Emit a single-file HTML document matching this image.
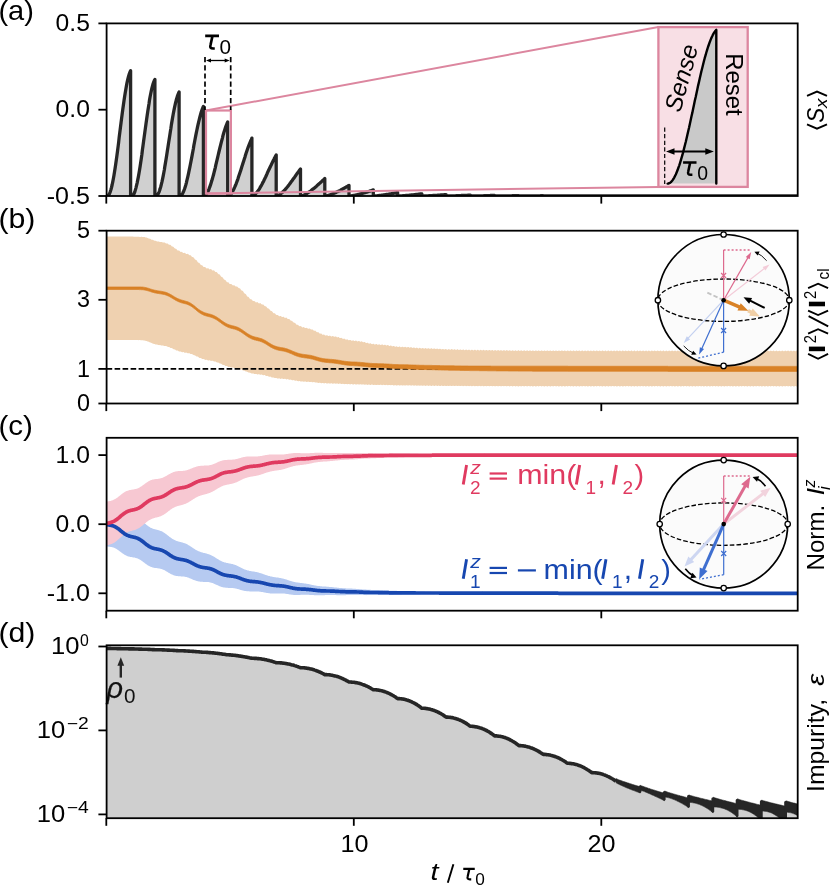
<!DOCTYPE html><html><head><meta charset="utf-8"><title>figure</title>
<style>html,body{margin:0;padding:0;background:#fff;}svg{display:block;will-change:transform;}text{font-family:"Liberation Sans", sans-serif;}</style></head><body>
<svg width="830" height="885" viewBox="0 0 830 885">
<rect width="830" height="885" fill="#fff"/>
<defs>
<clipPath id="clip_a"><rect x="106.6" y="23.4" width="691.1" height="172.6"/></clipPath>
<clipPath id="clip_b"><rect x="106.6" y="230.7" width="691.1" height="172.8"/></clipPath>
<clipPath id="clip_c"><rect x="106.6" y="437.8" width="691.1" height="172.9"/></clipPath>
<clipPath id="clip_d"><rect x="106.6" y="645.3" width="691.1" height="172.9"/></clipPath>
</defs>
<g clip-path="url(#clip_a)">
<path d="M106.6 196.0 L107.3 196.0 L107.9 195.8 L108.5 195.3 L109.1 194.4 L109.7 193.2 L110.3 191.6 L110.9 189.7 L111.5 187.5 L112.1 185.0 L112.7 182.1 L113.3 179.0 L113.9 175.7 L114.5 172.1 L115.1 168.3 L115.7 164.2 L116.3 160.0 L116.9 155.7 L117.5 151.2 L118.1 146.6 L118.7 141.9 L119.2 137.2 L119.8 132.5 L120.4 127.7 L121.0 123.0 L121.6 118.4 L122.2 113.8 L122.8 109.3 L123.4 105.0 L124.0 100.8 L124.6 96.8 L125.2 93.0 L125.8 89.4 L126.4 86.0 L127.0 82.9 L127.6 80.1 L128.2 77.6 L128.8 75.4 L129.4 73.6 L130.0 72.0 L130.6 70.8 L130.6 196.0 L131.8 196.0 L132.4 195.8 L133.0 195.3 L133.6 194.5 L134.2 193.4 L134.8 191.9 L135.3 190.1 L135.9 188.1 L136.5 185.7 L137.1 183.1 L137.7 180.2 L138.3 177.1 L138.9 173.7 L139.5 170.2 L140.1 166.4 L140.7 162.5 L141.3 158.5 L141.9 154.3 L142.4 150.0 L143.0 145.7 L143.6 141.3 L144.2 136.9 L144.8 132.5 L145.4 128.1 L146.0 123.8 L146.6 119.5 L147.2 115.3 L147.8 111.3 L148.4 107.4 L149.0 103.7 L149.5 100.1 L150.1 96.8 L150.7 93.7 L151.3 90.8 L151.9 88.2 L152.5 85.9 L153.1 83.8 L153.7 82.1 L154.3 80.6 L154.9 79.5 L154.9 196.0 L156.1 196.0 L156.7 195.8 L157.3 195.3 L157.8 194.5 L158.4 193.4 L159.0 192.1 L159.6 190.5 L160.2 188.6 L160.8 186.5 L161.4 184.2 L162.0 181.7 L162.6 178.9 L163.2 175.9 L163.8 172.8 L164.4 169.5 L164.9 166.1 L165.5 162.6 L166.1 158.9 L166.7 155.2 L167.3 151.3 L167.9 147.5 L168.5 143.6 L169.1 139.8 L169.7 135.9 L170.3 132.1 L170.9 128.3 L171.4 124.6 L172.0 121.1 L172.6 117.6 L173.2 114.3 L173.8 111.1 L174.4 108.1 L175.0 105.3 L175.6 102.7 L176.2 100.3 L176.8 98.2 L177.4 96.2 L178.0 94.6 L178.5 93.2 L179.1 92.0 L179.1 196.0 L180.3 196.0 L180.9 195.6 L181.5 195.1 L182.1 194.3 L182.7 193.3 L183.3 192.1 L183.9 190.6 L184.5 189.0 L185.1 187.2 L185.7 185.3 L186.3 183.1 L186.8 180.8 L187.4 178.4 L188.0 175.8 L188.6 173.1 L189.2 170.2 L189.8 167.3 L190.4 164.3 L191.0 161.2 L191.6 158.1 L192.2 154.9 L192.8 151.7 L193.4 148.5 L193.9 145.3 L194.5 142.2 L195.1 139.0 L195.7 135.9 L196.3 132.9 L196.9 130.0 L197.5 127.2 L198.1 124.4 L198.7 121.8 L199.3 119.3 L199.9 117.0 L200.5 114.8 L201.0 112.8 L201.6 111.0 L202.2 109.3 L202.8 107.8 L203.4 106.5 L203.4 196.0 L204.6 196.0 L205.2 195.6 L205.8 194.9 L206.4 194.2 L207.0 193.3 L207.6 192.2 L208.2 191.0 L208.8 189.7 L209.3 188.2 L209.9 186.6 L210.5 184.9 L211.1 183.0 L211.7 181.1 L212.3 179.0 L212.9 176.9 L213.5 174.7 L214.1 172.4 L214.7 170.0 L215.3 167.6 L215.8 165.1 L216.4 162.6 L217.0 160.1 L217.6 157.6 L218.2 155.0 L218.8 152.5 L219.4 150.0 L220.0 147.5 L220.6 145.1 L221.2 142.7 L221.8 140.4 L222.4 138.1 L222.9 135.9 L223.5 133.8 L224.1 131.8 L224.7 129.9 L225.3 128.1 L225.9 126.4 L226.5 124.8 L227.1 123.3 L227.7 122.0 L227.7 196.0 L228.9 196.0 L229.5 195.5 L230.1 195.0 L230.7 194.3 L231.2 193.5 L231.8 192.6 L232.4 191.7 L233.0 190.6 L233.6 189.5 L234.2 188.2 L234.8 186.9 L235.4 185.5 L236.0 184.1 L236.6 182.5 L237.2 180.9 L237.8 179.3 L238.3 177.6 L238.9 175.8 L239.5 174.0 L240.1 172.2 L240.7 170.4 L241.3 168.5 L241.9 166.6 L242.5 164.7 L243.1 162.8 L243.7 160.9 L244.3 159.1 L244.9 157.2 L245.4 155.4 L246.0 153.5 L246.6 151.8 L247.2 150.0 L247.8 148.3 L248.4 146.7 L249.0 145.1 L249.6 143.6 L250.2 142.1 L250.8 140.7 L251.4 139.4 L251.9 138.1 L251.9 196.0 L253.2 196.0 L253.7 195.6 L254.3 195.1 L254.9 194.6 L255.5 194.0 L256.1 193.3 L256.7 192.6 L257.3 191.9 L257.9 191.1 L258.5 190.2 L259.1 189.3 L259.7 188.3 L260.2 187.4 L260.8 186.3 L261.4 185.3 L262.0 184.2 L262.6 183.0 L263.2 181.9 L263.8 180.7 L264.4 179.4 L265.0 178.2 L265.6 177.0 L266.2 175.7 L266.8 174.4 L267.3 173.1 L267.9 171.8 L268.5 170.6 L269.1 169.3 L269.7 168.0 L270.3 166.7 L270.9 165.5 L271.5 164.2 L272.1 163.0 L272.7 161.8 L273.3 160.6 L273.9 159.4 L274.4 158.3 L275.0 157.2 L275.6 156.1 L276.2 155.0 L276.2 196.0 L277.4 196.0 L278.0 195.7 L278.6 195.3 L279.2 194.9 L279.8 194.5 L280.4 194.1 L281.0 193.6 L281.6 193.1 L282.2 192.6 L282.7 192.0 L283.3 191.4 L283.9 190.8 L284.5 190.2 L285.1 189.6 L285.7 188.9 L286.3 188.2 L286.9 187.5 L287.5 186.8 L288.1 186.0 L288.7 185.2 L289.3 184.5 L289.8 183.7 L290.4 182.9 L291.0 182.1 L291.6 181.3 L292.2 180.5 L292.8 179.6 L293.4 178.8 L294.0 178.0 L294.6 177.2 L295.2 176.3 L295.8 175.5 L296.3 174.7 L296.9 173.8 L297.5 173.0 L298.1 172.2 L298.7 171.4 L299.3 170.6 L299.9 169.8 L300.5 169.0 L300.5 196.0 L301.7 196.0 L302.3 195.8 L302.9 195.5 L303.5 195.3 L304.1 195.0 L304.6 194.7 L305.2 194.4 L305.8 194.0 L306.4 193.7 L307.0 193.4 L307.6 193.0 L308.2 192.6 L308.8 192.2 L309.4 191.8 L310.0 191.4 L310.6 191.0 L311.2 190.5 L311.7 190.1 L312.3 189.6 L312.9 189.1 L313.5 188.7 L314.1 188.2 L314.7 187.7 L315.3 187.2 L315.9 186.7 L316.5 186.2 L317.1 185.6 L317.7 185.1 L318.3 184.6 L318.8 184.0 L319.4 183.5 L320.0 183.0 L320.6 182.4 L321.2 181.9 L321.8 181.3 L322.4 180.8 L323.0 180.2 L323.6 179.7 L324.2 179.1 L324.8 178.6 L324.8 196.0 L326.0 196.0 L326.6 195.8 L327.1 195.7 L327.7 195.5 L328.3 195.3 L328.9 195.2 L329.5 195.0 L330.1 194.8 L330.7 194.6 L331.3 194.4 L331.9 194.1 L332.5 193.9 L333.1 193.7 L333.6 193.4 L334.2 193.2 L334.8 192.9 L335.4 192.7 L336.0 192.4 L336.6 192.1 L337.2 191.8 L337.8 191.6 L338.4 191.3 L339.0 191.0 L339.6 190.7 L340.2 190.4 L340.7 190.1 L341.3 189.8 L341.9 189.4 L342.5 189.1 L343.1 188.8 L343.7 188.5 L344.3 188.1 L344.9 187.8 L345.5 187.5 L346.1 187.1 L346.7 186.8 L347.3 186.4 L347.8 186.1 L348.4 185.8 L349.0 185.4 L349.0 196.0 L350.2 196.0 L350.8 195.9 L351.4 195.8 L352.0 195.7 L352.6 195.6 L353.2 195.5 L353.8 195.4 L354.4 195.3 L355.0 195.2 L355.6 195.0 L356.1 194.9 L356.7 194.8 L357.3 194.7 L357.9 194.5 L358.5 194.4 L359.1 194.2 L359.7 194.1 L360.3 193.9 L360.9 193.8 L361.5 193.6 L362.1 193.5 L362.7 193.3 L363.2 193.1 L363.8 193.0 L364.4 192.8 L365.0 192.6 L365.6 192.4 L366.2 192.3 L366.8 192.1 L367.4 191.9 L368.0 191.7 L368.6 191.5 L369.2 191.3 L369.8 191.1 L370.3 190.9 L370.9 190.7 L371.5 190.5 L372.1 190.3 L372.7 190.1 L373.3 189.9 L373.3 196.0 L374.5 196.0 L375.1 195.9 L375.7 195.9 L376.3 195.8 L376.9 195.8 L377.5 195.7 L378.0 195.6 L378.6 195.6 L379.2 195.5 L379.8 195.4 L380.4 195.4 L381.0 195.3 L381.6 195.2 L382.2 195.1 L382.8 195.1 L383.4 195.0 L384.0 194.9 L384.6 194.8 L385.1 194.7 L385.7 194.6 L386.3 194.5 L386.9 194.5 L387.5 194.4 L388.1 194.3 L388.7 194.2 L389.3 194.1 L389.9 194.0 L390.5 193.9 L391.1 193.8 L391.7 193.7 L392.2 193.5 L392.8 193.4 L393.4 193.3 L394.0 193.2 L394.6 193.1 L395.2 193.0 L395.8 192.9 L396.4 192.7 L397.0 192.6 L397.6 192.5 L397.6 196.0 L398.8 196.0 L399.4 196.0 L400.0 195.9 L400.5 195.9 L401.1 195.9 L401.7 195.8 L402.3 195.8 L402.9 195.7 L403.5 195.7 L404.1 195.7 L404.7 195.6 L405.3 195.6 L405.9 195.5 L406.5 195.5 L407.1 195.4 L407.6 195.4 L408.2 195.3 L408.8 195.3 L409.4 195.2 L410.0 195.1 L410.6 195.1 L411.2 195.0 L411.8 195.0 L412.4 194.9 L413.0 194.9 L413.6 194.8 L414.2 194.7 L414.7 194.7 L415.3 194.6 L415.9 194.5 L416.5 194.5 L417.1 194.4 L417.7 194.3 L418.3 194.2 L418.9 194.2 L419.5 194.1 L420.1 194.0 L420.7 194.0 L421.2 193.9 L421.8 193.8 L421.8 196.0 L423.0 196.0 L423.6 196.0 L424.2 196.0 L424.8 195.9 L425.4 195.9 L426.0 195.9 L426.6 195.9 L427.2 195.8 L427.8 195.8 L428.4 195.8 L429.0 195.7 L429.5 195.7 L430.1 195.7 L430.7 195.7 L431.3 195.6 L431.9 195.6 L432.5 195.6 L433.1 195.5 L433.7 195.5 L434.3 195.5 L434.9 195.4 L435.5 195.4 L436.1 195.3 L436.6 195.3 L437.2 195.3 L437.8 195.2 L438.4 195.2 L439.0 195.1 L439.6 195.1 L440.2 195.1 L440.8 195.0 L441.4 195.0 L442.0 194.9 L442.6 194.9 L443.2 194.8 L443.7 194.8 L444.3 194.7 L444.9 194.7 L445.5 194.6 L446.1 194.6 L446.1 196.0 L447.3 196.0 L447.9 196.0 L448.5 196.0 L449.1 196.0 L449.7 195.9 L450.3 195.9 L450.9 195.9 L451.5 195.9 L452.0 195.9 L452.6 195.9 L453.2 195.8 L453.8 195.8 L454.4 195.8 L455.0 195.8 L455.6 195.8 L456.2 195.7 L456.8 195.7 L457.4 195.7 L458.0 195.7 L458.5 195.7 L459.1 195.6 L459.7 195.6 L460.3 195.6 L460.9 195.6 L461.5 195.5 L462.1 195.5 L462.7 195.5 L463.3 195.5 L463.9 195.4 L464.5 195.4 L465.1 195.4 L465.6 195.3 L466.2 195.3 L466.8 195.3 L467.4 195.3 L468.0 195.2 L468.6 195.2 L469.2 195.2 L469.8 195.1 L470.4 195.1 L470.4 196.0 L471.6 196.0 L472.2 196.0 L472.8 196.0 L473.4 196.0 L473.9 196.0 L474.5 196.0 L475.1 195.9 L475.7 195.9 L476.3 195.9 L476.9 195.9 L477.5 195.9 L478.1 195.9 L478.7 195.9 L479.3 195.9 L479.9 195.8 L480.5 195.8 L481.0 195.8 L481.6 195.8 L482.2 195.8 L482.8 195.8 L483.4 195.8 L484.0 195.7 L484.6 195.7 L485.2 195.7 L485.8 195.7 L486.4 195.7 L487.0 195.7 L487.6 195.6 L488.1 195.6 L488.7 195.6 L489.3 195.6 L489.9 195.6 L490.5 195.5 L491.1 195.5 L491.7 195.5 L492.3 195.5 L492.9 195.5 L493.5 195.4 L494.1 195.4 L494.6 195.4 L494.6 196.0 L495.8 196.0 L496.4 196.0 L497.0 196.0 L497.6 196.0 L498.2 196.0 L498.8 196.0 L499.4 196.0 L500.0 196.0 L500.6 195.9 L501.2 195.9 L501.8 195.9 L502.4 195.9 L502.9 195.9 L503.5 195.9 L504.1 195.9 L504.7 195.9 L505.3 195.9 L505.9 195.9 L506.5 195.9 L507.1 195.8 L507.7 195.8 L508.3 195.8 L508.9 195.8 L509.5 195.8 L510.0 195.8 L510.6 195.8 L511.2 195.8 L511.8 195.8 L512.4 195.7 L513.0 195.7 L513.6 195.7 L514.2 195.7 L514.8 195.7 L515.4 195.7 L516.0 195.7 L516.6 195.7 L517.1 195.6 L517.7 195.6 L518.3 195.6 L518.9 195.6 L518.9 196.0 L520.1 196.0 L520.7 196.0 L521.3 196.0 L521.9 196.0 L522.5 196.0 L523.1 196.0 L523.7 196.0 L524.3 196.0 L524.9 196.0 L525.4 196.0 L526.0 195.9 L526.6 195.9 L527.2 195.9 L527.8 195.9 L528.4 195.9 L529.0 195.9 L529.6 195.9 L530.2 195.9 L530.8 195.9 L531.4 195.9 L532.0 195.9 L532.5 195.9 L533.1 195.9 L533.7 195.9 L534.3 195.8 L534.9 195.8 L535.5 195.8 L536.1 195.8 L536.7 195.8 L537.3 195.8 L537.9 195.8 L538.5 195.8 L539.0 195.8 L539.6 195.8 L540.2 195.8 L540.8 195.7 L541.4 195.7 L542.0 195.7 L542.6 195.7 L543.2 195.7 L543.2 196.0 L544.4 196.0 L545.0 196.0 L545.6 196.0 L546.2 196.0 L546.8 196.0 L547.3 196.0 L547.9 196.0 L548.5 196.0 L549.1 196.0 L549.7 196.0 L550.3 196.0 L550.9 196.0 L551.5 196.0 L552.1 196.0 L552.7 195.9 L553.3 195.9 L553.9 195.9 L554.4 195.9 L555.0 195.9 L555.6 195.9 L556.2 195.9 L556.8 195.9 L557.4 195.9 L558.0 195.9 L558.6 195.9 L559.2 195.9 L559.8 195.9 L560.4 195.9 L561.0 195.9 L561.5 195.9 L562.1 195.9 L562.7 195.9 L563.3 195.8 L563.9 195.8 L564.5 195.8 L565.1 195.8 L565.7 195.8 L566.3 195.8 L566.9 195.8 L567.5 195.8 L567.5 196.0 L568.7 196.0 L569.3 196.0 L569.8 196.0 L570.4 196.0 L571.0 196.0 L571.6 196.0 L572.2 196.0 L572.8 196.0 L573.4 196.0 L574.0 196.0 L574.6 196.0 L575.2 196.0 L575.8 196.0 L576.4 196.0 L576.9 195.9 L577.5 195.9 L578.1 195.9 L578.7 195.9 L579.3 195.9 L579.9 195.9 L580.5 195.9 L581.1 195.9 L581.7 195.9 L582.3 195.9 L582.9 195.9 L583.4 195.9 L584.0 195.9 L584.6 195.9 L585.2 195.9 L585.8 195.9 L586.4 195.9 L587.0 195.9 L587.6 195.8 L588.2 195.8 L588.8 195.8 L589.4 195.8 L590.0 195.8 L590.5 195.8 L591.1 195.8 L591.7 195.8 L591.7 196.0 L592.9 196.0 L593.5 196.0 L594.1 196.0 L594.7 196.0 L595.3 196.0 L595.9 196.0 L596.5 196.0 L597.1 196.0 L597.7 196.0 L598.3 196.0 L598.8 196.0 L599.4 196.0 L600.0 196.0 L600.6 196.0 L601.2 195.9 L601.8 195.9 L602.4 195.9 L603.0 195.9 L603.6 195.9 L604.2 195.9 L604.8 195.9 L605.4 195.9 L605.9 195.9 L606.5 195.9 L607.1 195.9 L607.7 195.9 L608.3 195.9 L608.9 195.9 L609.5 195.9 L610.1 195.9 L610.7 195.9 L611.3 195.9 L611.9 195.8 L612.5 195.8 L613.0 195.8 L613.6 195.8 L614.2 195.8 L614.8 195.8 L615.4 195.8 L616.0 195.8 L616.0 196.0 L617.2 196.0 L617.8 196.0 L618.4 196.0 L619.0 196.0 L619.6 196.0 L620.2 196.0 L620.7 196.0 L621.3 196.0 L621.9 196.0 L622.5 196.0 L623.1 196.0 L623.7 196.0 L624.3 196.0 L624.9 196.0 L625.5 195.9 L626.1 195.9 L626.7 195.9 L627.3 195.9 L627.8 195.9 L628.4 195.9 L629.0 195.9 L629.6 195.9 L630.2 195.9 L630.8 195.9 L631.4 195.9 L632.0 195.9 L632.6 195.9 L633.2 195.9 L633.8 195.9 L634.4 195.9 L634.9 195.9 L635.5 195.9 L636.1 195.8 L636.7 195.8 L637.3 195.8 L637.9 195.8 L638.5 195.8 L639.1 195.8 L639.7 195.8 L640.3 195.8 L640.3 196.0 L641.5 196.0 L642.1 196.0 L642.7 196.0 L643.2 196.0 L643.8 196.0 L644.4 196.0 L645.0 196.0 L645.6 196.0 L646.2 196.0 L646.8 196.0 L647.4 196.0 L648.0 196.0 L648.6 196.0 L649.2 196.0 L649.8 195.9 L650.3 195.9 L650.9 195.9 L651.5 195.9 L652.1 195.9 L652.7 195.9 L653.3 195.9 L653.9 195.9 L654.5 195.9 L655.1 195.9 L655.7 195.9 L656.3 195.9 L656.9 195.9 L657.4 195.9 L658.0 195.9 L658.6 195.9 L659.2 195.9 L659.8 195.9 L660.4 195.8 L661.0 195.8 L661.6 195.8 L662.2 195.8 L662.8 195.8 L663.4 195.8 L663.9 195.8 L664.5 195.8 L664.5 196.0 L665.7 196.0 L666.3 196.0 L666.9 196.0 L667.5 196.0 L668.1 196.0 L668.7 196.0 L669.3 196.0 L669.9 196.0 L670.5 196.0 L671.1 196.0 L671.7 196.0 L672.2 196.0 L672.8 196.0 L673.4 196.0 L674.0 195.9 L674.6 195.9 L675.2 195.9 L675.8 195.9 L676.4 195.9 L677.0 195.9 L677.6 195.9 L678.2 195.9 L678.8 195.9 L679.3 195.9 L679.9 195.9 L680.5 195.9 L681.1 195.9 L681.7 195.9 L682.3 195.9 L682.9 195.9 L683.5 195.9 L684.1 195.9 L684.7 195.8 L685.3 195.8 L685.9 195.8 L686.4 195.8 L687.0 195.8 L687.6 195.8 L688.2 195.8 L688.8 195.8 L688.8 196.0 L690.0 196.0 L690.6 196.0 L691.2 196.0 L691.8 196.0 L692.4 196.0 L693.0 196.0 L693.6 196.0 L694.2 196.0 L694.7 196.0 L695.3 196.0 L695.9 196.0 L696.5 196.0 L697.1 196.0 L697.7 196.0 L698.3 195.9 L698.9 195.9 L699.5 195.9 L700.1 195.9 L700.7 195.9 L701.2 195.9 L701.8 195.9 L702.4 195.9 L703.0 195.9 L703.6 195.9 L704.2 195.9 L704.8 195.9 L705.4 195.9 L706.0 195.9 L706.6 195.9 L707.2 195.9 L707.8 195.9 L708.3 195.9 L708.9 195.8 L709.5 195.8 L710.1 195.8 L710.7 195.8 L711.3 195.8 L711.9 195.8 L712.5 195.8 L713.1 195.8 L713.1 196.0 L714.3 196.0 L714.9 196.0 L715.5 196.0 L716.1 196.0 L716.6 196.0 L717.2 196.0 L717.8 196.0 L718.4 196.0 L719.0 196.0 L719.6 196.0 L720.2 196.0 L720.8 196.0 L721.4 196.0 L722.0 196.0 L722.6 195.9 L723.2 195.9 L723.7 195.9 L724.3 195.9 L724.9 195.9 L725.5 195.9 L726.1 195.9 L726.7 195.9 L727.3 195.9 L727.9 195.9 L728.5 195.9 L729.1 195.9 L729.7 195.9 L730.3 195.9 L730.8 195.9 L731.4 195.9 L732.0 195.9 L732.6 195.9 L733.2 195.8 L733.8 195.8 L734.4 195.8 L735.0 195.8 L735.6 195.8 L736.2 195.8 L736.8 195.8 L737.4 195.8 L737.4 196.0 L738.6 196.0 L739.1 196.0 L739.7 196.0 L740.3 196.0 L740.9 196.0 L741.5 196.0 L742.1 196.0 L742.7 196.0 L743.3 196.0 L743.9 196.0 L744.5 196.0 L745.1 196.0 L745.6 196.0 L746.2 196.0 L746.8 195.9 L747.4 195.9 L748.0 195.9 L748.6 195.9 L749.2 195.9 L749.8 195.9 L750.4 195.9 L751.0 195.9 L751.6 195.9 L752.2 195.9 L752.7 195.9 L753.3 195.9 L753.9 195.9 L754.5 195.9 L755.1 195.9 L755.7 195.9 L756.3 195.9 L756.9 195.9 L757.5 195.8 L758.1 195.8 L758.7 195.8 L759.3 195.8 L759.8 195.8 L760.4 195.8 L761.0 195.8 L761.6 195.8 L761.6 196.0 L762.8 196.0 L763.4 196.0 L764.0 196.0 L764.6 196.0 L765.2 196.0 L765.8 196.0 L766.4 196.0 L767.0 196.0 L767.6 196.0 L768.1 196.0 L768.7 196.0 L769.3 196.0 L769.9 196.0 L770.5 196.0 L771.1 195.9 L771.7 195.9 L772.3 195.9 L772.9 195.9 L773.5 195.9 L774.1 195.9 L774.7 195.9 L775.2 195.9 L775.8 195.9 L776.4 195.9 L777.0 195.9 L777.6 195.9 L778.2 195.9 L778.8 195.9 L779.4 195.9 L780.0 195.9 L780.6 195.9 L781.2 195.9 L781.7 195.8 L782.3 195.8 L782.9 195.8 L783.5 195.8 L784.1 195.8 L784.7 195.8 L785.3 195.8 L785.9 195.8 L785.9 196.0 L787.1 196.0 L787.7 196.0 L788.3 196.0 L788.9 196.0 L789.5 196.0 L790.0 196.0 L790.6 196.0 L791.2 196.0 L791.8 196.0 L792.4 196.0 L793.0 196.0 L793.6 196.0 L794.2 196.0 L794.8 196.0 L795.4 195.9 L796.0 195.9 L796.6 195.9 L797.1 195.9 L797.7 195.9 L798.3 195.9 L798.9 195.9 L799.5 195.9 L800.1 195.9 L800.7 195.9 L801.3 195.9 L801.9 195.9 L802.5 195.9 L803.1 195.9 L803.7 195.9 L804.2 195.9 L804.8 195.9 L805.4 195.9 L806.0 195.8 L806.6 195.8 L807.2 195.8 L807.8 195.8 L808.4 195.8 L809.0 195.8 L809.6 195.8 L810.2 195.8 L810.2 196.0 L810.2 196.0 L106.6 196.0Z" fill="#d0d0d0" stroke="none"/>
<path d="M106.6 196.0 L107.3 196.0 L107.9 195.8 L108.5 195.3 L109.1 194.4 L109.7 193.2 L110.3 191.6 L110.9 189.7 L111.5 187.5 L112.1 185.0 L112.7 182.1 L113.3 179.0 L113.9 175.7 L114.5 172.1 L115.1 168.3 L115.7 164.2 L116.3 160.0 L116.9 155.7 L117.5 151.2 L118.1 146.6 L118.7 141.9 L119.2 137.2 L119.8 132.5 L120.4 127.7 L121.0 123.0 L121.6 118.4 L122.2 113.8 L122.8 109.3 L123.4 105.0 L124.0 100.8 L124.6 96.8 L125.2 93.0 L125.8 89.4 L126.4 86.0 L127.0 82.9 L127.6 80.1 L128.2 77.6 L128.8 75.4 L129.4 73.6 L130.0 72.0 L130.6 70.8 L130.6 196.0 L131.8 196.0 L132.4 195.8 L133.0 195.3 L133.6 194.5 L134.2 193.4 L134.8 191.9 L135.3 190.1 L135.9 188.1 L136.5 185.7 L137.1 183.1 L137.7 180.2 L138.3 177.1 L138.9 173.7 L139.5 170.2 L140.1 166.4 L140.7 162.5 L141.3 158.5 L141.9 154.3 L142.4 150.0 L143.0 145.7 L143.6 141.3 L144.2 136.9 L144.8 132.5 L145.4 128.1 L146.0 123.8 L146.6 119.5 L147.2 115.3 L147.8 111.3 L148.4 107.4 L149.0 103.7 L149.5 100.1 L150.1 96.8 L150.7 93.7 L151.3 90.8 L151.9 88.2 L152.5 85.9 L153.1 83.8 L153.7 82.1 L154.3 80.6 L154.9 79.5 L154.9 196.0 L156.1 196.0 L156.7 195.8 L157.3 195.3 L157.8 194.5 L158.4 193.4 L159.0 192.1 L159.6 190.5 L160.2 188.6 L160.8 186.5 L161.4 184.2 L162.0 181.7 L162.6 178.9 L163.2 175.9 L163.8 172.8 L164.4 169.5 L164.9 166.1 L165.5 162.6 L166.1 158.9 L166.7 155.2 L167.3 151.3 L167.9 147.5 L168.5 143.6 L169.1 139.8 L169.7 135.9 L170.3 132.1 L170.9 128.3 L171.4 124.6 L172.0 121.1 L172.6 117.6 L173.2 114.3 L173.8 111.1 L174.4 108.1 L175.0 105.3 L175.6 102.7 L176.2 100.3 L176.8 98.2 L177.4 96.2 L178.0 94.6 L178.5 93.2 L179.1 92.0 L179.1 196.0 L180.3 196.0 L180.9 195.6 L181.5 195.1 L182.1 194.3 L182.7 193.3 L183.3 192.1 L183.9 190.6 L184.5 189.0 L185.1 187.2 L185.7 185.3 L186.3 183.1 L186.8 180.8 L187.4 178.4 L188.0 175.8 L188.6 173.1 L189.2 170.2 L189.8 167.3 L190.4 164.3 L191.0 161.2 L191.6 158.1 L192.2 154.9 L192.8 151.7 L193.4 148.5 L193.9 145.3 L194.5 142.2 L195.1 139.0 L195.7 135.9 L196.3 132.9 L196.9 130.0 L197.5 127.2 L198.1 124.4 L198.7 121.8 L199.3 119.3 L199.9 117.0 L200.5 114.8 L201.0 112.8 L201.6 111.0 L202.2 109.3 L202.8 107.8 L203.4 106.5 L203.4 196.0 L204.6 196.0 L205.2 195.6 L205.8 194.9 L206.4 194.2 L207.0 193.3 L207.6 192.2 L208.2 191.0 L208.8 189.7 L209.3 188.2 L209.9 186.6 L210.5 184.9 L211.1 183.0 L211.7 181.1 L212.3 179.0 L212.9 176.9 L213.5 174.7 L214.1 172.4 L214.7 170.0 L215.3 167.6 L215.8 165.1 L216.4 162.6 L217.0 160.1 L217.6 157.6 L218.2 155.0 L218.8 152.5 L219.4 150.0 L220.0 147.5 L220.6 145.1 L221.2 142.7 L221.8 140.4 L222.4 138.1 L222.9 135.9 L223.5 133.8 L224.1 131.8 L224.7 129.9 L225.3 128.1 L225.9 126.4 L226.5 124.8 L227.1 123.3 L227.7 122.0 L227.7 196.0 L228.9 196.0 L229.5 195.5 L230.1 195.0 L230.7 194.3 L231.2 193.5 L231.8 192.6 L232.4 191.7 L233.0 190.6 L233.6 189.5 L234.2 188.2 L234.8 186.9 L235.4 185.5 L236.0 184.1 L236.6 182.5 L237.2 180.9 L237.8 179.3 L238.3 177.6 L238.9 175.8 L239.5 174.0 L240.1 172.2 L240.7 170.4 L241.3 168.5 L241.9 166.6 L242.5 164.7 L243.1 162.8 L243.7 160.9 L244.3 159.1 L244.9 157.2 L245.4 155.4 L246.0 153.5 L246.6 151.8 L247.2 150.0 L247.8 148.3 L248.4 146.7 L249.0 145.1 L249.6 143.6 L250.2 142.1 L250.8 140.7 L251.4 139.4 L251.9 138.1 L251.9 196.0 L253.2 196.0 L253.7 195.6 L254.3 195.1 L254.9 194.6 L255.5 194.0 L256.1 193.3 L256.7 192.6 L257.3 191.9 L257.9 191.1 L258.5 190.2 L259.1 189.3 L259.7 188.3 L260.2 187.4 L260.8 186.3 L261.4 185.3 L262.0 184.2 L262.6 183.0 L263.2 181.9 L263.8 180.7 L264.4 179.4 L265.0 178.2 L265.6 177.0 L266.2 175.7 L266.8 174.4 L267.3 173.1 L267.9 171.8 L268.5 170.6 L269.1 169.3 L269.7 168.0 L270.3 166.7 L270.9 165.5 L271.5 164.2 L272.1 163.0 L272.7 161.8 L273.3 160.6 L273.9 159.4 L274.4 158.3 L275.0 157.2 L275.6 156.1 L276.2 155.0 L276.2 196.0 L277.4 196.0 L278.0 195.7 L278.6 195.3 L279.2 194.9 L279.8 194.5 L280.4 194.1 L281.0 193.6 L281.6 193.1 L282.2 192.6 L282.7 192.0 L283.3 191.4 L283.9 190.8 L284.5 190.2 L285.1 189.6 L285.7 188.9 L286.3 188.2 L286.9 187.5 L287.5 186.8 L288.1 186.0 L288.7 185.2 L289.3 184.5 L289.8 183.7 L290.4 182.9 L291.0 182.1 L291.6 181.3 L292.2 180.5 L292.8 179.6 L293.4 178.8 L294.0 178.0 L294.6 177.2 L295.2 176.3 L295.8 175.5 L296.3 174.7 L296.9 173.8 L297.5 173.0 L298.1 172.2 L298.7 171.4 L299.3 170.6 L299.9 169.8 L300.5 169.0 L300.5 196.0 L301.7 196.0 L302.3 195.8 L302.9 195.5 L303.5 195.3 L304.1 195.0 L304.6 194.7 L305.2 194.4 L305.8 194.0 L306.4 193.7 L307.0 193.4 L307.6 193.0 L308.2 192.6 L308.8 192.2 L309.4 191.8 L310.0 191.4 L310.6 191.0 L311.2 190.5 L311.7 190.1 L312.3 189.6 L312.9 189.1 L313.5 188.7 L314.1 188.2 L314.7 187.7 L315.3 187.2 L315.9 186.7 L316.5 186.2 L317.1 185.6 L317.7 185.1 L318.3 184.6 L318.8 184.0 L319.4 183.5 L320.0 183.0 L320.6 182.4 L321.2 181.9 L321.8 181.3 L322.4 180.8 L323.0 180.2 L323.6 179.7 L324.2 179.1 L324.8 178.6 L324.8 196.0 L326.0 196.0 L326.6 195.8 L327.1 195.7 L327.7 195.5 L328.3 195.3 L328.9 195.2 L329.5 195.0 L330.1 194.8 L330.7 194.6 L331.3 194.4 L331.9 194.1 L332.5 193.9 L333.1 193.7 L333.6 193.4 L334.2 193.2 L334.8 192.9 L335.4 192.7 L336.0 192.4 L336.6 192.1 L337.2 191.8 L337.8 191.6 L338.4 191.3 L339.0 191.0 L339.6 190.7 L340.2 190.4 L340.7 190.1 L341.3 189.8 L341.9 189.4 L342.5 189.1 L343.1 188.8 L343.7 188.5 L344.3 188.1 L344.9 187.8 L345.5 187.5 L346.1 187.1 L346.7 186.8 L347.3 186.4 L347.8 186.1 L348.4 185.8 L349.0 185.4 L349.0 196.0 L350.2 196.0 L350.8 195.9 L351.4 195.8 L352.0 195.7 L352.6 195.6 L353.2 195.5 L353.8 195.4 L354.4 195.3 L355.0 195.2 L355.6 195.0 L356.1 194.9 L356.7 194.8 L357.3 194.7 L357.9 194.5 L358.5 194.4 L359.1 194.2 L359.7 194.1 L360.3 193.9 L360.9 193.8 L361.5 193.6 L362.1 193.5 L362.7 193.3 L363.2 193.1 L363.8 193.0 L364.4 192.8 L365.0 192.6 L365.6 192.4 L366.2 192.3 L366.8 192.1 L367.4 191.9 L368.0 191.7 L368.6 191.5 L369.2 191.3 L369.8 191.1 L370.3 190.9 L370.9 190.7 L371.5 190.5 L372.1 190.3 L372.7 190.1 L373.3 189.9 L373.3 196.0 L374.5 196.0 L375.1 195.9 L375.7 195.9 L376.3 195.8 L376.9 195.8 L377.5 195.7 L378.0 195.6 L378.6 195.6 L379.2 195.5 L379.8 195.4 L380.4 195.4 L381.0 195.3 L381.6 195.2 L382.2 195.1 L382.8 195.1 L383.4 195.0 L384.0 194.9 L384.6 194.8 L385.1 194.7 L385.7 194.6 L386.3 194.5 L386.9 194.5 L387.5 194.4 L388.1 194.3 L388.7 194.2 L389.3 194.1 L389.9 194.0 L390.5 193.9 L391.1 193.8 L391.7 193.7 L392.2 193.5 L392.8 193.4 L393.4 193.3 L394.0 193.2 L394.6 193.1 L395.2 193.0 L395.8 192.9 L396.4 192.7 L397.0 192.6 L397.6 192.5 L397.6 196.0 L398.8 196.0 L399.4 196.0 L400.0 195.9 L400.5 195.9 L401.1 195.9 L401.7 195.8 L402.3 195.8 L402.9 195.7 L403.5 195.7 L404.1 195.7 L404.7 195.6 L405.3 195.6 L405.9 195.5 L406.5 195.5 L407.1 195.4 L407.6 195.4 L408.2 195.3 L408.8 195.3 L409.4 195.2 L410.0 195.1 L410.6 195.1 L411.2 195.0 L411.8 195.0 L412.4 194.9 L413.0 194.9 L413.6 194.8 L414.2 194.7 L414.7 194.7 L415.3 194.6 L415.9 194.5 L416.5 194.5 L417.1 194.4 L417.7 194.3 L418.3 194.2 L418.9 194.2 L419.5 194.1 L420.1 194.0 L420.7 194.0 L421.2 193.9 L421.8 193.8 L421.8 196.0 L423.0 196.0 L423.6 196.0 L424.2 196.0 L424.8 195.9 L425.4 195.9 L426.0 195.9 L426.6 195.9 L427.2 195.8 L427.8 195.8 L428.4 195.8 L429.0 195.7 L429.5 195.7 L430.1 195.7 L430.7 195.7 L431.3 195.6 L431.9 195.6 L432.5 195.6 L433.1 195.5 L433.7 195.5 L434.3 195.5 L434.9 195.4 L435.5 195.4 L436.1 195.3 L436.6 195.3 L437.2 195.3 L437.8 195.2 L438.4 195.2 L439.0 195.1 L439.6 195.1 L440.2 195.1 L440.8 195.0 L441.4 195.0 L442.0 194.9 L442.6 194.9 L443.2 194.8 L443.7 194.8 L444.3 194.7 L444.9 194.7 L445.5 194.6 L446.1 194.6 L446.1 196.0 L447.3 196.0 L447.9 196.0 L448.5 196.0 L449.1 196.0 L449.7 195.9 L450.3 195.9 L450.9 195.9 L451.5 195.9 L452.0 195.9 L452.6 195.9 L453.2 195.8 L453.8 195.8 L454.4 195.8 L455.0 195.8 L455.6 195.8 L456.2 195.7 L456.8 195.7 L457.4 195.7 L458.0 195.7 L458.5 195.7 L459.1 195.6 L459.7 195.6 L460.3 195.6 L460.9 195.6 L461.5 195.5 L462.1 195.5 L462.7 195.5 L463.3 195.5 L463.9 195.4 L464.5 195.4 L465.1 195.4 L465.6 195.3 L466.2 195.3 L466.8 195.3 L467.4 195.3 L468.0 195.2 L468.6 195.2 L469.2 195.2 L469.8 195.1 L470.4 195.1 L470.4 196.0 L471.6 196.0 L472.2 196.0 L472.8 196.0 L473.4 196.0 L473.9 196.0 L474.5 196.0 L475.1 195.9 L475.7 195.9 L476.3 195.9 L476.9 195.9 L477.5 195.9 L478.1 195.9 L478.7 195.9 L479.3 195.9 L479.9 195.8 L480.5 195.8 L481.0 195.8 L481.6 195.8 L482.2 195.8 L482.8 195.8 L483.4 195.8 L484.0 195.7 L484.6 195.7 L485.2 195.7 L485.8 195.7 L486.4 195.7 L487.0 195.7 L487.6 195.6 L488.1 195.6 L488.7 195.6 L489.3 195.6 L489.9 195.6 L490.5 195.5 L491.1 195.5 L491.7 195.5 L492.3 195.5 L492.9 195.5 L493.5 195.4 L494.1 195.4 L494.6 195.4 L494.6 196.0 L495.8 196.0 L496.4 196.0 L497.0 196.0 L497.6 196.0 L498.2 196.0 L498.8 196.0 L499.4 196.0 L500.0 196.0 L500.6 195.9 L501.2 195.9 L501.8 195.9 L502.4 195.9 L502.9 195.9 L503.5 195.9 L504.1 195.9 L504.7 195.9 L505.3 195.9 L505.9 195.9 L506.5 195.9 L507.1 195.8 L507.7 195.8 L508.3 195.8 L508.9 195.8 L509.5 195.8 L510.0 195.8 L510.6 195.8 L511.2 195.8 L511.8 195.8 L512.4 195.7 L513.0 195.7 L513.6 195.7 L514.2 195.7 L514.8 195.7 L515.4 195.7 L516.0 195.7 L516.6 195.7 L517.1 195.6 L517.7 195.6 L518.3 195.6 L518.9 195.6 L518.9 196.0 L520.1 196.0 L520.7 196.0 L521.3 196.0 L521.9 196.0 L522.5 196.0 L523.1 196.0 L523.7 196.0 L524.3 196.0 L524.9 196.0 L525.4 196.0 L526.0 195.9 L526.6 195.9 L527.2 195.9 L527.8 195.9 L528.4 195.9 L529.0 195.9 L529.6 195.9 L530.2 195.9 L530.8 195.9 L531.4 195.9 L532.0 195.9 L532.5 195.9 L533.1 195.9 L533.7 195.9 L534.3 195.8 L534.9 195.8 L535.5 195.8 L536.1 195.8 L536.7 195.8 L537.3 195.8 L537.9 195.8 L538.5 195.8 L539.0 195.8 L539.6 195.8 L540.2 195.8 L540.8 195.7 L541.4 195.7 L542.0 195.7 L542.6 195.7 L543.2 195.7 L543.2 196.0 L544.4 196.0 L545.0 196.0 L545.6 196.0 L546.2 196.0 L546.8 196.0 L547.3 196.0 L547.9 196.0 L548.5 196.0 L549.1 196.0 L549.7 196.0 L550.3 196.0 L550.9 196.0 L551.5 196.0 L552.1 196.0 L552.7 195.9 L553.3 195.9 L553.9 195.9 L554.4 195.9 L555.0 195.9 L555.6 195.9 L556.2 195.9 L556.8 195.9 L557.4 195.9 L558.0 195.9 L558.6 195.9 L559.2 195.9 L559.8 195.9 L560.4 195.9 L561.0 195.9 L561.5 195.9 L562.1 195.9 L562.7 195.9 L563.3 195.8 L563.9 195.8 L564.5 195.8 L565.1 195.8 L565.7 195.8 L566.3 195.8 L566.9 195.8 L567.5 195.8 L567.5 196.0 L568.7 196.0 L569.3 196.0 L569.8 196.0 L570.4 196.0 L571.0 196.0 L571.6 196.0 L572.2 196.0 L572.8 196.0 L573.4 196.0 L574.0 196.0 L574.6 196.0 L575.2 196.0 L575.8 196.0 L576.4 196.0 L576.9 195.9 L577.5 195.9 L578.1 195.9 L578.7 195.9 L579.3 195.9 L579.9 195.9 L580.5 195.9 L581.1 195.9 L581.7 195.9 L582.3 195.9 L582.9 195.9 L583.4 195.9 L584.0 195.9 L584.6 195.9 L585.2 195.9 L585.8 195.9 L586.4 195.9 L587.0 195.9 L587.6 195.8 L588.2 195.8 L588.8 195.8 L589.4 195.8 L590.0 195.8 L590.5 195.8 L591.1 195.8 L591.7 195.8 L591.7 196.0 L592.9 196.0 L593.5 196.0 L594.1 196.0 L594.7 196.0 L595.3 196.0 L595.9 196.0 L596.5 196.0 L597.1 196.0 L597.7 196.0 L598.3 196.0 L598.8 196.0 L599.4 196.0 L600.0 196.0 L600.6 196.0 L601.2 195.9 L601.8 195.9 L602.4 195.9 L603.0 195.9 L603.6 195.9 L604.2 195.9 L604.8 195.9 L605.4 195.9 L605.9 195.9 L606.5 195.9 L607.1 195.9 L607.7 195.9 L608.3 195.9 L608.9 195.9 L609.5 195.9 L610.1 195.9 L610.7 195.9 L611.3 195.9 L611.9 195.8 L612.5 195.8 L613.0 195.8 L613.6 195.8 L614.2 195.8 L614.8 195.8 L615.4 195.8 L616.0 195.8 L616.0 196.0 L617.2 196.0 L617.8 196.0 L618.4 196.0 L619.0 196.0 L619.6 196.0 L620.2 196.0 L620.7 196.0 L621.3 196.0 L621.9 196.0 L622.5 196.0 L623.1 196.0 L623.7 196.0 L624.3 196.0 L624.9 196.0 L625.5 195.9 L626.1 195.9 L626.7 195.9 L627.3 195.9 L627.8 195.9 L628.4 195.9 L629.0 195.9 L629.6 195.9 L630.2 195.9 L630.8 195.9 L631.4 195.9 L632.0 195.9 L632.6 195.9 L633.2 195.9 L633.8 195.9 L634.4 195.9 L634.9 195.9 L635.5 195.9 L636.1 195.8 L636.7 195.8 L637.3 195.8 L637.9 195.8 L638.5 195.8 L639.1 195.8 L639.7 195.8 L640.3 195.8 L640.3 196.0 L641.5 196.0 L642.1 196.0 L642.7 196.0 L643.2 196.0 L643.8 196.0 L644.4 196.0 L645.0 196.0 L645.6 196.0 L646.2 196.0 L646.8 196.0 L647.4 196.0 L648.0 196.0 L648.6 196.0 L649.2 196.0 L649.8 195.9 L650.3 195.9 L650.9 195.9 L651.5 195.9 L652.1 195.9 L652.7 195.9 L653.3 195.9 L653.9 195.9 L654.5 195.9 L655.1 195.9 L655.7 195.9 L656.3 195.9 L656.9 195.9 L657.4 195.9 L658.0 195.9 L658.6 195.9 L659.2 195.9 L659.8 195.9 L660.4 195.8 L661.0 195.8 L661.6 195.8 L662.2 195.8 L662.8 195.8 L663.4 195.8 L663.9 195.8 L664.5 195.8 L664.5 196.0 L665.7 196.0 L666.3 196.0 L666.9 196.0 L667.5 196.0 L668.1 196.0 L668.7 196.0 L669.3 196.0 L669.9 196.0 L670.5 196.0 L671.1 196.0 L671.7 196.0 L672.2 196.0 L672.8 196.0 L673.4 196.0 L674.0 195.9 L674.6 195.9 L675.2 195.9 L675.8 195.9 L676.4 195.9 L677.0 195.9 L677.6 195.9 L678.2 195.9 L678.8 195.9 L679.3 195.9 L679.9 195.9 L680.5 195.9 L681.1 195.9 L681.7 195.9 L682.3 195.9 L682.9 195.9 L683.5 195.9 L684.1 195.9 L684.7 195.8 L685.3 195.8 L685.9 195.8 L686.4 195.8 L687.0 195.8 L687.6 195.8 L688.2 195.8 L688.8 195.8 L688.8 196.0 L690.0 196.0 L690.6 196.0 L691.2 196.0 L691.8 196.0 L692.4 196.0 L693.0 196.0 L693.6 196.0 L694.2 196.0 L694.7 196.0 L695.3 196.0 L695.9 196.0 L696.5 196.0 L697.1 196.0 L697.7 196.0 L698.3 195.9 L698.9 195.9 L699.5 195.9 L700.1 195.9 L700.7 195.9 L701.2 195.9 L701.8 195.9 L702.4 195.9 L703.0 195.9 L703.6 195.9 L704.2 195.9 L704.8 195.9 L705.4 195.9 L706.0 195.9 L706.6 195.9 L707.2 195.9 L707.8 195.9 L708.3 195.9 L708.9 195.8 L709.5 195.8 L710.1 195.8 L710.7 195.8 L711.3 195.8 L711.9 195.8 L712.5 195.8 L713.1 195.8 L713.1 196.0 L714.3 196.0 L714.9 196.0 L715.5 196.0 L716.1 196.0 L716.6 196.0 L717.2 196.0 L717.8 196.0 L718.4 196.0 L719.0 196.0 L719.6 196.0 L720.2 196.0 L720.8 196.0 L721.4 196.0 L722.0 196.0 L722.6 195.9 L723.2 195.9 L723.7 195.9 L724.3 195.9 L724.9 195.9 L725.5 195.9 L726.1 195.9 L726.7 195.9 L727.3 195.9 L727.9 195.9 L728.5 195.9 L729.1 195.9 L729.7 195.9 L730.3 195.9 L730.8 195.9 L731.4 195.9 L732.0 195.9 L732.6 195.9 L733.2 195.8 L733.8 195.8 L734.4 195.8 L735.0 195.8 L735.6 195.8 L736.2 195.8 L736.8 195.8 L737.4 195.8 L737.4 196.0 L738.6 196.0 L739.1 196.0 L739.7 196.0 L740.3 196.0 L740.9 196.0 L741.5 196.0 L742.1 196.0 L742.7 196.0 L743.3 196.0 L743.9 196.0 L744.5 196.0 L745.1 196.0 L745.6 196.0 L746.2 196.0 L746.8 195.9 L747.4 195.9 L748.0 195.9 L748.6 195.9 L749.2 195.9 L749.8 195.9 L750.4 195.9 L751.0 195.9 L751.6 195.9 L752.2 195.9 L752.7 195.9 L753.3 195.9 L753.9 195.9 L754.5 195.9 L755.1 195.9 L755.7 195.9 L756.3 195.9 L756.9 195.9 L757.5 195.8 L758.1 195.8 L758.7 195.8 L759.3 195.8 L759.8 195.8 L760.4 195.8 L761.0 195.8 L761.6 195.8 L761.6 196.0 L762.8 196.0 L763.4 196.0 L764.0 196.0 L764.6 196.0 L765.2 196.0 L765.8 196.0 L766.4 196.0 L767.0 196.0 L767.6 196.0 L768.1 196.0 L768.7 196.0 L769.3 196.0 L769.9 196.0 L770.5 196.0 L771.1 195.9 L771.7 195.9 L772.3 195.9 L772.9 195.9 L773.5 195.9 L774.1 195.9 L774.7 195.9 L775.2 195.9 L775.8 195.9 L776.4 195.9 L777.0 195.9 L777.6 195.9 L778.2 195.9 L778.8 195.9 L779.4 195.9 L780.0 195.9 L780.6 195.9 L781.2 195.9 L781.7 195.8 L782.3 195.8 L782.9 195.8 L783.5 195.8 L784.1 195.8 L784.7 195.8 L785.3 195.8 L785.9 195.8 L785.9 196.0 L787.1 196.0 L787.7 196.0 L788.3 196.0 L788.9 196.0 L789.5 196.0 L790.0 196.0 L790.6 196.0 L791.2 196.0 L791.8 196.0 L792.4 196.0 L793.0 196.0 L793.6 196.0 L794.2 196.0 L794.8 196.0 L795.4 195.9 L796.0 195.9 L796.6 195.9 L797.1 195.9 L797.7 195.9 L798.3 195.9 L798.9 195.9 L799.5 195.9 L800.1 195.9 L800.7 195.9 L801.3 195.9 L801.9 195.9 L802.5 195.9 L803.1 195.9 L803.7 195.9 L804.2 195.9 L804.8 195.9 L805.4 195.9 L806.0 195.8 L806.6 195.8 L807.2 195.8 L807.8 195.8 L808.4 195.8 L809.0 195.8 L809.6 195.8 L810.2 195.8 L810.2 196.0" fill="none" stroke="#262626" stroke-width="3.3" stroke-linejoin="round" stroke-linecap="round"/>
</g>
<rect x="206.0" y="110.5" width="24.9" height="83.0" fill="none" stroke="#dc869f" stroke-width="2.2"/>
<line x1="206.0" y1="110.5" x2="658.4" y2="27.1" stroke="#dc869f" stroke-width="2"/>
<line x1="206.0" y1="193.5" x2="658.4" y2="186.9" stroke="#dc869f" stroke-width="2"/>
<rect x="658.4" y="27.1" width="89.3" height="159.8" fill="#f8dfe5" stroke="#dc869f" stroke-width="2.3"/>
<path d="M667.6 183.6 L668.4 183.5 L669.3 183.2 L670.1 182.7 L670.9 182.1 L671.7 181.2 L672.6 180.2 L673.4 179.0 L674.2 177.6 L675.0 176.0 L675.9 174.2 L676.7 172.3 L677.5 170.3 L678.3 168.0 L679.2 165.6 L680.0 163.1 L680.8 160.4 L681.6 157.6 L682.5 154.7 L683.3 151.6 L684.1 148.4 L684.9 145.2 L685.8 141.8 L686.6 138.3 L687.4 134.8 L688.2 131.2 L689.1 127.5 L689.9 123.8 L690.7 120.0 L691.5 116.2 L692.4 112.4 L693.2 108.5 L694.0 104.7 L694.8 100.8 L695.7 97.0 L696.5 93.2 L697.3 89.4 L698.1 85.6 L699.0 81.9 L699.8 78.3 L700.6 74.7 L701.4 71.2 L702.3 67.8 L703.1 64.5 L703.9 61.3 L704.7 58.2 L705.6 55.2 L706.4 52.3 L707.2 49.6 L708.0 47.0 L708.9 44.5 L709.7 42.2 L710.5 40.1 L711.3 38.1 L712.2 36.3 L713.0 34.6 L713.8 33.1 L714.6 31.9 L715.5 30.7 L716.3 29.8 L716.3 183.6Z" fill="#c9c9c9"/>
<path d="M667.6 183.6 L668.4 183.5 L669.3 183.2 L670.1 182.7 L670.9 182.1 L671.7 181.2 L672.6 180.2 L673.4 179.0 L674.2 177.6 L675.0 176.0 L675.9 174.2 L676.7 172.3 L677.5 170.3 L678.3 168.0 L679.2 165.6 L680.0 163.1 L680.8 160.4 L681.6 157.6 L682.5 154.7 L683.3 151.6 L684.1 148.4 L684.9 145.2 L685.8 141.8 L686.6 138.3 L687.4 134.8 L688.2 131.2 L689.1 127.5 L689.9 123.8 L690.7 120.0 L691.5 116.2 L692.4 112.4 L693.2 108.5 L694.0 104.7 L694.8 100.8 L695.7 97.0 L696.5 93.2 L697.3 89.4 L698.1 85.6 L699.0 81.9 L699.8 78.3 L700.6 74.7 L701.4 71.2 L702.3 67.8 L703.1 64.5 L703.9 61.3 L704.7 58.2 L705.6 55.2 L706.4 52.3 L707.2 49.6 L708.0 47.0 L708.9 44.5 L709.7 42.2 L710.5 40.1 L711.3 38.1 L712.2 36.3 L713.0 34.6 L713.8 33.1 L714.6 31.9 L715.5 30.7 L716.3 29.8 L716.3 183.6" fill="none" stroke="#000" stroke-width="2.4" stroke-linejoin="round" stroke-linecap="round"/>
<line x1="664.7" y1="127.5" x2="664.7" y2="184" stroke="#000" stroke-width="1.2" stroke-dasharray="4.2 2.4"/>
<g><line x1="672.8" y1="151.5" x2="707.0" y2="151.5" stroke="#000" stroke-width="2.00"/><polygon points="713.8,151.5 705.3,154.8 705.3,148.2" fill="#000"/><polygon points="666.0,151.5 674.5,154.8 674.5,148.2" fill="#000"/></g>
<path d="M683.09 162.57 L696.52 162.57 M690.20 162.57 L688.23 171.52 Q687.28 174.80 690.71 174.80 L692.39 174.80" fill="none" stroke="#000" stroke-width="2.55" stroke-linejoin="round"/>
<text x="697.3" y="180.3" font-size="20.0" text-anchor="start" fill="#000" textLength="10.8" lengthAdjust="spacingAndGlyphs">0</text>
<g transform="translate(681.6,78.0) rotate(-74.5)">
<text x="0.0" y="8.0" font-size="24.2" text-anchor="middle" fill="#000" font-style="italic" textLength="68.5" lengthAdjust="spacingAndGlyphs">Sense</text>
</g>
<g transform="translate(726.0,84.5) rotate(90)">
<text x="0.0" y="0.0" font-size="24.5" text-anchor="middle" fill="#000" textLength="62.5" lengthAdjust="spacingAndGlyphs">Reset</text>
</g>
<line x1="205.0" y1="57.0" x2="205.0" y2="110.0" stroke="#000" stroke-width="1.7" stroke-dasharray="5.2 3"/>
<line x1="230.7" y1="57.0" x2="230.7" y2="110.0" stroke="#000" stroke-width="1.7" stroke-dasharray="5.2 3"/>
<g><line x1="210.0" y1="60.5" x2="225.7" y2="60.5" stroke="#000" stroke-width="1.30"/><polygon points="229.7,60.5 224.7,62.4 224.7,58.6" fill="#000"/><polygon points="206.0,60.5 211.0,62.4 211.0,58.6" fill="#000"/></g>
<path d="M205.19 35.90 L219.00 35.90 M212.50 35.90 L210.47 45.10 Q209.50 48.47 213.03 48.47 L214.75 48.47" fill="none" stroke="#000" stroke-width="2.62" stroke-linejoin="round"/>
<text x="219.4" y="53.8" font-size="20.0" text-anchor="start" fill="#000" textLength="11.5" lengthAdjust="spacingAndGlyphs">0</text>
<rect x="106.6" y="23.4" width="691.1" height="172.6" fill="none" stroke="#000" stroke-width="1.8"/>
<line x1="106.3" y1="196.0" x2="106.3" y2="203.6" stroke="#000" stroke-width="1.8"/>
<line x1="353.8" y1="196.0" x2="353.8" y2="203.6" stroke="#000" stroke-width="1.8"/>
<line x1="601.3" y1="196.0" x2="601.3" y2="203.6" stroke="#000" stroke-width="1.8"/>
<line x1="98.4" y1="23.4" x2="106.6" y2="23.4" stroke="#000" stroke-width="1.8"/>
<text x="89.9" y="31.0" font-size="23.4" text-anchor="end" fill="#000" textLength="34.3" lengthAdjust="spacingAndGlyphs">0.5</text>
<line x1="98.4" y1="109.7" x2="106.6" y2="109.7" stroke="#000" stroke-width="1.8"/>
<text x="89.9" y="117.3" font-size="23.4" text-anchor="end" fill="#000" textLength="34.3" lengthAdjust="spacingAndGlyphs">0.0</text>
<line x1="98.4" y1="196.0" x2="106.6" y2="196.0" stroke="#000" stroke-width="1.8"/>
<text x="89.9" y="203.6" font-size="23.4" text-anchor="end" fill="#000" textLength="43.2" lengthAdjust="spacingAndGlyphs">-0.5</text>
<text x="-1.6" y="20.2" font-size="27.5" text-anchor="start" fill="#000" textLength="35.5" lengthAdjust="spacingAndGlyphs">(a)</text>
<g clip-path="url(#clip_b)">
<path d="M106.6 236.6 L107.1 236.6 L107.6 236.6 L108.1 236.6 L108.6 236.6 L109.1 236.6 L109.6 236.6 L110.1 236.6 L110.6 236.6 L111.1 236.6 L111.6 236.6 L112.1 236.6 L112.6 236.6 L113.1 236.6 L113.6 236.6 L114.1 236.6 L114.6 236.6 L115.1 236.6 L115.6 236.6 L116.1 236.6 L116.6 236.6 L117.1 236.6 L117.6 236.6 L118.1 236.6 L118.6 236.6 L119.1 236.6 L119.6 236.6 L120.1 236.6 L120.6 236.6 L121.1 236.6 L121.6 236.6 L122.1 236.6 L122.6 236.6 L123.1 236.6 L123.6 236.6 L124.1 236.6 L124.6 236.6 L125.1 236.6 L125.6 236.6 L126.1 236.6 L126.6 236.6 L127.1 236.6 L127.6 236.6 L128.1 236.6 L128.6 236.6 L129.1 236.6 L129.6 236.6 L130.1 236.6 L130.6 236.6 L131.1 236.6 L131.6 236.6 L132.1 236.6 L132.6 236.6 L133.1 236.6 L133.6 236.7 L134.1 236.7 L134.6 236.7 L135.1 236.7 L135.6 236.7 L136.1 236.7 L136.6 236.8 L137.1 236.8 L137.6 236.8 L138.1 236.7 L138.6 236.7 L139.1 236.8 L139.6 236.9 L140.1 236.9 L140.6 236.9 L141.1 236.8 L141.6 236.8 L142.1 236.9 L142.6 237.0 L143.1 237.1 L143.6 237.1 L144.1 237.1 L144.6 237.1 L145.1 237.3 L145.6 237.5 L146.1 237.6 L146.6 237.6 L147.1 237.7 L147.6 237.9 L148.1 238.2 L148.6 238.5 L149.1 238.6 L149.6 238.7 L150.1 238.8 L150.6 239.1 L151.1 239.4 L151.6 239.7 L152.1 239.8 L152.6 239.8 L153.1 240.0 L153.6 240.3 L154.1 240.6 L154.6 240.8 L155.1 240.8 L155.6 240.8 L156.1 241.0 L156.6 241.2 L157.1 241.5 L157.6 241.6 L158.1 241.5 L158.6 241.5 L159.1 241.6 L159.6 241.9 L160.1 242.1 L160.6 242.1 L161.1 242.0 L161.6 241.9 L162.1 242.1 L162.6 242.4 L163.1 242.6 L163.6 242.6 L164.1 242.5 L164.6 242.5 L165.1 242.8 L165.6 243.2 L166.1 243.4 L166.6 243.4 L167.1 243.4 L167.6 243.5 L168.1 243.9 L168.6 244.4 L169.1 244.7 L169.6 244.8 L170.1 244.8 L170.6 245.1 L171.1 245.6 L171.6 246.2 L172.1 246.5 L172.6 246.6 L173.1 246.7 L173.6 247.1 L174.1 247.8 L174.6 248.3 L175.1 248.6 L175.6 248.7 L176.1 248.8 L176.6 249.2 L177.1 249.9 L177.6 250.4 L178.1 250.5 L178.6 250.5 L179.1 250.6 L179.6 251.0 L180.1 251.6 L180.6 252.0 L181.1 252.0 L181.6 251.8 L182.1 251.9 L182.6 252.4 L183.1 252.9 L183.6 253.1 L184.1 253.0 L184.6 252.8 L185.1 253.0 L185.6 253.4 L186.1 253.9 L186.6 254.0 L187.1 253.9 L187.6 253.8 L188.1 254.0 L188.6 254.6 L189.1 255.1 L189.6 255.2 L190.1 255.2 L190.6 255.2 L191.1 255.7 L191.6 256.4 L192.1 256.9 L192.6 257.1 L193.1 257.2 L193.6 257.4 L194.1 258.1 L194.6 258.9 L195.1 259.5 L195.6 259.8 L196.1 259.9 L196.6 260.3 L197.1 261.1 L197.6 261.9 L198.1 262.5 L198.6 262.7 L199.1 262.8 L199.6 263.3 L200.1 264.0 L200.6 264.7 L201.1 265.1 L201.6 265.2 L202.1 265.3 L202.6 265.7 L203.1 266.4 L203.6 266.9 L204.1 267.1 L204.6 267.0 L205.1 267.1 L205.6 267.4 L206.1 268.0 L206.6 268.4 L207.1 268.4 L207.6 268.2 L208.1 268.2 L208.6 268.6 L209.1 269.1 L209.6 269.4 L210.1 269.3 L210.6 269.1 L211.1 269.2 L211.6 269.6 L212.1 270.2 L212.6 270.4 L213.1 270.4 L213.6 270.3 L214.1 270.5 L214.6 271.1 L215.1 271.7 L215.6 271.9 L216.1 271.9 L216.6 272.0 L217.1 272.4 L217.6 273.2 L218.1 273.8 L218.6 274.2 L219.1 274.3 L219.6 274.5 L220.1 275.1 L220.6 275.9 L221.1 276.6 L221.6 276.9 L222.1 277.1 L222.6 277.4 L223.1 278.1 L223.6 278.9 L224.1 279.6 L224.6 279.8 L225.1 279.9 L225.6 280.3 L226.1 281.0 L226.6 281.7 L227.1 282.2 L227.6 282.3 L228.1 282.3 L228.6 282.6 L229.1 283.3 L229.6 283.9 L230.1 284.1 L230.6 284.0 L231.1 284.0 L231.6 284.3 L232.1 284.8 L232.6 285.3 L233.1 285.4 L233.6 285.2 L234.1 285.2 L234.6 285.5 L235.1 286.1 L235.6 286.5 L236.1 286.5 L236.6 286.4 L237.1 286.5 L237.6 287.0 L238.1 287.6 L238.6 288.1 L239.1 288.2 L239.6 288.2 L240.1 288.5 L240.6 289.2 L241.1 289.9 L241.6 290.5 L242.1 290.7 L242.6 290.8 L243.1 291.3 L243.6 292.2 L244.1 293.0 L244.6 293.5 L245.1 293.8 L245.6 294.0 L246.1 294.6 L246.6 295.5 L247.1 296.3 L247.6 296.7 L248.1 296.8 L248.6 297.1 L249.1 297.7 L249.6 298.5 L250.1 299.1 L250.6 299.3 L251.1 299.3 L251.6 299.5 L252.1 300.0 L252.6 300.7 L253.1 301.1 L253.6 301.1 L254.1 301.0 L254.6 301.2 L255.1 301.6 L255.6 302.2 L256.1 302.4 L256.6 302.3 L257.1 302.1 L257.6 302.3 L258.1 302.7 L258.6 303.2 L259.1 303.4 L259.6 303.2 L260.1 303.1 L260.6 303.3 L261.1 303.9 L261.6 304.3 L262.1 304.5 L262.6 304.4 L263.1 304.4 L263.6 304.8 L264.1 305.5 L264.6 306.0 L265.1 306.2 L265.6 306.2 L266.1 306.4 L266.6 307.0 L267.1 307.7 L267.6 308.3 L268.1 308.5 L268.6 308.5 L269.1 308.9 L269.6 309.6 L270.1 310.3 L270.6 310.8 L271.1 311.0 L271.6 311.1 L272.1 311.4 L272.6 312.1 L273.1 312.8 L273.6 313.2 L274.1 313.2 L274.6 313.3 L275.1 313.6 L275.6 314.3 L276.1 314.8 L276.6 315.0 L277.1 314.9 L277.6 314.9 L278.1 315.2 L278.6 315.8 L279.1 316.2 L279.6 316.2 L280.1 316.0 L280.6 315.9 L281.1 316.3 L281.6 316.8 L282.1 317.1 L282.6 317.0 L283.1 316.7 L283.6 316.8 L284.1 317.2 L284.6 317.7 L285.1 317.9 L285.6 317.8 L286.1 317.6 L286.6 317.8 L287.1 318.3 L287.6 318.9 L288.1 319.1 L288.6 319.0 L289.1 319.0 L289.6 319.3 L290.1 320.0 L290.6 320.6 L291.1 320.8 L291.6 320.8 L292.1 320.9 L292.6 321.4 L293.1 322.1 L293.6 322.6 L294.1 322.8 L294.6 322.8 L295.1 323.0 L295.6 323.5 L296.1 324.2 L296.6 324.7 L297.1 324.7 L297.6 324.7 L298.1 324.9 L298.6 325.4 L299.1 326.0 L299.6 326.3 L300.1 326.2 L300.6 326.1 L301.1 326.3 L301.6 326.8 L302.1 327.3 L302.6 327.4 L303.1 327.3 L303.6 327.1 L304.1 327.3 L304.6 327.8 L305.1 328.1 L305.6 328.1 L306.1 327.9 L306.6 327.8 L307.1 328.0 L307.6 328.5 L308.1 328.8 L308.6 328.7 L309.1 328.5 L309.6 328.4 L310.1 328.8 L310.6 329.3 L311.1 329.6 L311.6 329.5 L312.1 329.4 L312.6 329.5 L313.1 329.9 L313.6 330.5 L314.1 330.8 L314.6 330.7 L315.1 330.6 L315.6 330.9 L316.1 331.4 L316.6 332.0 L317.1 332.2 L317.6 332.2 L318.1 332.1 L318.6 332.4 L319.1 333.0 L319.6 333.5 L320.1 333.7 L320.6 333.5 L321.1 333.5 L321.6 333.8 L322.1 334.4 L322.6 334.8 L323.1 334.8 L323.6 334.6 L324.1 334.5 L324.6 334.9 L325.1 335.4 L325.6 335.6 L326.1 335.5 L326.6 335.2 L327.1 335.2 L327.6 335.6 L328.1 336.0 L328.6 336.1 L329.1 335.9 L329.6 335.6 L330.1 335.7 L330.6 336.0 L331.1 336.4 L331.6 336.4 L332.1 336.2 L332.6 335.9 L333.1 336.1 L333.6 336.5 L334.1 336.8 L334.6 336.8 L335.1 336.5 L335.6 336.4 L336.1 336.6 L336.6 337.1 L337.1 337.4 L337.6 337.3 L338.1 337.1 L338.6 337.0 L339.1 337.4 L339.6 337.9 L340.1 338.1 L340.6 338.0 L341.1 337.8 L341.6 337.9 L342.1 338.3 L342.6 338.7 L343.1 338.9 L343.6 338.8 L344.1 338.6 L344.6 338.7 L345.1 339.2 L345.6 339.6 L346.1 339.7 L346.6 339.5 L347.1 339.3 L347.6 339.5 L348.1 340.0 L348.6 340.3 L349.1 340.3 L349.6 340.1 L350.1 339.9 L350.6 340.1 L351.1 340.6 L351.6 340.8 L352.1 340.7 L352.6 340.4 L353.1 340.3 L353.6 340.5 L354.1 341.0 L354.6 341.1 L355.1 340.9 L355.6 340.6 L356.1 340.6 L356.6 340.9 L357.1 341.3 L357.6 341.4 L358.1 341.2 L358.6 340.9 L359.1 341.0 L359.6 341.3 L360.1 341.7 L360.6 341.8 L361.1 341.5 L361.6 341.3 L362.1 341.5 L362.6 341.9 L363.1 342.3 L363.6 342.3 L364.1 342.1 L364.6 342.0 L365.1 342.2 L365.6 342.7 L366.1 343.0 L366.6 343.0 L367.1 342.7 L367.6 342.7 L368.1 343.0 L368.6 343.5 L369.1 343.7 L369.6 343.6 L370.1 343.3 L370.6 343.3 L371.1 343.7 L371.6 344.1 L372.1 344.2 L372.6 344.0 L373.1 343.8 L373.6 343.8 L374.1 344.2 L374.6 344.5 L375.1 344.6 L375.6 344.3 L376.1 344.0 L376.6 344.1 L377.1 344.5 L377.6 344.8 L378.1 344.7 L378.6 344.4 L379.1 344.2 L379.6 344.4 L380.1 344.8 L380.6 345.0 L381.1 344.9 L381.6 344.5 L382.1 344.4 L382.6 344.6 L383.1 345.0 L383.6 345.2 L384.1 345.0 L384.6 344.7 L385.1 344.7 L385.6 345.0 L386.1 345.4 L386.6 345.5 L387.1 345.3 L387.6 345.0 L388.1 345.1 L388.6 345.5 L389.1 345.9 L389.6 345.9 L390.1 345.7 L390.6 345.5 L391.1 345.6 L391.6 346.0 L392.1 346.4 L392.6 346.3 L393.1 346.0 L393.6 345.9 L394.1 346.1 L394.6 346.5 L395.1 346.8 L395.6 346.7 L396.1 346.4 L396.6 346.2 L397.1 346.5 L397.6 346.9 L398.1 347.1 L398.6 346.9 L399.1 346.6 L399.6 346.5 L400.1 346.8 L400.6 347.2 L401.1 347.3 L401.6 347.0 L402.1 346.7 L402.6 346.7 L403.1 347.0 L403.6 347.3 L404.1 347.3 L404.6 347.0 L405.1 346.8 L405.6 346.9 L406.1 347.2 L406.6 347.5 L407.1 347.4 L407.6 347.1 L408.1 346.9 L408.6 347.1 L409.1 347.5 L409.6 347.7 L410.1 347.6 L410.6 347.2 L411.1 347.1 L411.6 347.4 L412.1 347.8 L412.6 347.9 L413.1 347.7 L413.6 347.4 L414.1 347.4 L414.6 347.7 L415.1 348.1 L415.6 348.2 L416.1 347.9 L416.6 347.6 L417.1 347.7 L417.6 348.0 L418.1 348.4 L418.6 348.4 L419.1 348.1 L419.6 347.8 L420.1 347.9 L420.6 348.3 L421.1 348.6 L421.6 348.5 L422.1 348.2 L422.6 348.0 L423.1 348.1 L423.6 348.5 L424.1 348.7 L424.6 348.6 L425.1 348.2 L425.6 348.1 L426.1 348.3 L426.6 348.7 L427.1 348.8 L427.6 348.6 L428.1 348.2 L428.6 348.2 L429.1 348.4 L429.6 348.8 L430.1 348.9 L430.6 348.6 L431.1 348.3 L431.6 348.3 L432.1 348.6 L432.6 348.9 L433.1 348.9 L433.6 348.6 L434.1 348.4 L434.6 348.4 L435.1 348.8 L435.6 349.1 L436.1 349.0 L436.6 348.7 L437.1 348.5 L437.6 348.7 L438.1 349.1 L438.6 349.3 L439.1 349.1 L439.6 348.8 L440.1 348.7 L440.6 348.9 L441.1 349.3 L441.6 349.5 L442.1 349.3 L442.6 348.9 L443.1 348.9 L443.6 349.2 L444.1 349.5 L444.6 349.6 L445.1 349.3 L445.6 349.0 L446.1 349.0 L446.6 349.4 L447.1 349.7 L447.6 349.7 L448.1 349.4 L448.6 349.1 L449.1 349.2 L449.6 349.5 L450.1 349.8 L450.6 349.7 L451.1 349.3 L451.6 349.1 L452.1 349.3 L452.6 349.6 L453.1 349.8 L453.6 349.7 L454.1 349.3 L454.6 349.2 L455.1 349.4 L455.6 349.8 L456.1 349.9 L456.6 349.7 L457.1 349.3 L457.6 349.3 L458.1 349.5 L458.6 349.9 L459.1 350.0 L459.6 349.7 L460.1 349.4 L460.6 349.4 L461.1 349.7 L461.6 350.0 L462.1 350.0 L462.6 349.7 L463.1 349.5 L463.6 349.5 L464.1 349.9 L464.6 350.2 L465.1 350.1 L465.6 349.8 L466.1 349.6 L466.6 349.7 L467.1 350.1 L467.6 350.3 L468.1 350.1 L468.6 349.8 L469.1 349.6 L469.6 349.9 L470.1 350.2 L470.6 350.4 L471.1 350.1 L471.6 349.8 L472.1 349.7 L472.6 350.0 L473.1 350.3 L473.6 350.4 L474.1 350.1 L474.6 349.8 L475.1 349.8 L475.6 350.1 L476.1 350.4 L476.6 350.4 L477.1 350.1 L477.6 349.8 L478.1 349.8 L478.6 350.2 L479.1 350.4 L479.6 350.4 L480.1 350.0 L480.6 349.8 L481.1 349.9 L481.6 350.3 L482.1 350.5 L482.6 350.3 L483.1 350.0 L483.6 349.8 L484.1 350.0 L484.6 350.4 L485.1 350.5 L485.6 350.3 L486.1 350.0 L486.6 349.9 L487.1 350.2 L487.6 350.5 L488.1 350.6 L488.6 350.3 L489.1 350.0 L489.6 350.0 L490.1 350.3 L490.6 350.6 L491.1 350.6 L491.6 350.3 L492.1 350.0 L492.6 350.1 L493.1 350.4 L493.6 350.7 L494.1 350.6 L494.6 350.3 L495.1 350.0 L495.6 350.2 L496.1 350.5 L496.6 350.7 L497.1 350.6 L497.6 350.2 L498.1 350.1 L498.6 350.3 L499.1 350.6 L499.6 350.8 L500.1 350.5 L500.6 350.2 L501.1 350.1 L501.6 350.4 L502.1 350.7 L502.6 350.8 L503.1 350.5 L503.6 350.2 L504.1 350.1 L504.6 350.4 L505.1 350.8 L505.6 350.7 L506.1 350.4 L506.6 350.1 L507.1 350.2 L507.6 350.6 L508.1 350.8 L508.6 350.7 L509.1 350.4 L509.6 350.2 L510.1 350.3 L510.6 350.7 L511.1 350.9 L511.6 350.7 L512.1 350.4 L512.6 350.2 L513.1 350.4 L513.6 350.8 L514.1 350.9 L514.6 350.7 L515.1 350.4 L515.6 350.3 L516.1 350.5 L516.6 350.9 L517.1 350.9 L517.6 350.7 L518.1 350.3 L518.6 350.3 L519.1 350.6 L519.6 350.9 L520.1 350.9 L520.6 350.6 L521.1 350.3 L521.6 350.4 L522.1 350.7 L522.6 351.0 L523.1 350.9 L523.6 350.6 L524.1 350.3 L524.6 350.5 L525.1 350.8 L525.6 351.0 L526.1 350.9 L526.6 350.5 L527.1 350.3 L527.6 350.5 L528.1 350.9 L528.6 351.0 L529.1 350.8 L529.6 350.4 L530.1 350.4 L530.6 350.6 L531.1 351.0 L531.6 351.0 L532.1 350.7 L532.6 350.4 L533.1 350.4 L533.6 350.7 L534.1 351.0 L534.6 351.0 L535.1 350.7 L535.6 350.4 L536.1 350.5 L536.6 350.8 L537.1 351.1 L537.6 351.0 L538.1 350.6 L538.6 350.4 L539.1 350.5 L539.6 350.9 L540.1 351.1 L540.6 351.0 L541.1 350.6 L541.6 350.4 L542.1 350.6 L542.6 351.0 L543.1 351.1 L543.6 350.9 L544.1 350.5 L544.6 350.4 L545.1 350.7 L545.6 351.1 L546.1 351.1 L546.6 350.8 L547.1 350.5 L547.6 350.5 L548.1 350.8 L548.6 351.1 L549.1 351.1 L549.6 350.8 L550.1 350.5 L550.6 350.5 L551.1 350.9 L551.6 351.1 L552.1 351.0 L552.6 350.7 L553.1 350.5 L553.6 350.6 L554.1 350.9 L554.6 351.1 L555.1 351.0 L555.6 350.6 L556.1 350.5 L556.6 350.7 L557.1 351.0 L557.6 351.1 L558.1 350.9 L558.6 350.6 L559.1 350.5 L559.6 350.7 L560.1 351.1 L560.6 351.1 L561.1 350.8 L561.6 350.5 L562.1 350.5 L562.6 350.8 L563.1 351.1 L563.6 351.1 L564.1 350.8 L564.6 350.5 L565.1 350.6 L565.6 350.9 L566.1 351.2 L566.6 351.1 L567.1 350.7 L567.6 350.5 L568.1 350.6 L568.6 351.0 L569.1 351.2 L569.6 351.0 L570.1 350.6 L570.6 350.5 L571.1 350.7 L571.6 351.0 L572.1 351.2 L572.6 350.9 L573.1 350.6 L573.6 350.5 L574.1 350.8 L574.6 351.1 L575.1 351.2 L575.6 350.9 L576.1 350.5 L576.6 350.5 L577.1 350.8 L577.6 351.1 L578.1 351.1 L578.6 350.8 L579.1 350.5 L579.6 350.6 L580.1 350.9 L580.6 351.2 L581.1 351.1 L581.6 350.7 L582.1 350.5 L582.6 350.6 L583.1 351.0 L583.6 351.2 L584.1 351.0 L584.6 350.7 L585.1 350.5 L585.6 350.7 L586.1 351.1 L586.6 351.2 L587.1 351.0 L587.6 350.6 L588.1 350.5 L588.6 350.8 L589.1 351.1 L589.6 351.2 L590.1 350.9 L590.6 350.6 L591.1 350.5 L591.6 350.9 L592.1 351.2 L592.6 351.1 L593.1 350.8 L593.6 350.5 L594.1 350.6 L594.6 350.9 L595.1 351.2 L595.6 351.1 L596.1 350.7 L596.6 350.5 L597.1 350.6 L597.6 351.0 L598.1 351.2 L598.6 351.0 L599.1 350.7 L599.6 350.5 L600.1 350.7 L600.6 351.1 L601.1 351.2 L601.6 351.0 L602.1 350.6 L602.6 350.5 L603.1 350.8 L603.6 351.1 L604.1 351.2 L604.6 350.9 L605.1 350.6 L605.6 350.6 L606.1 350.9 L606.6 351.2 L607.1 351.2 L607.6 350.8 L608.1 350.5 L608.6 350.6 L609.1 350.9 L609.6 351.2 L610.1 351.1 L610.6 350.8 L611.1 350.5 L611.6 350.7 L612.1 351.0 L612.6 351.2 L613.1 351.1 L613.6 350.7 L614.1 350.5 L614.6 350.7 L615.1 351.1 L615.6 351.2 L616.1 351.0 L616.6 350.6 L617.1 350.5 L617.6 350.8 L618.1 351.1 L618.6 351.2 L619.1 350.9 L619.6 350.6 L620.1 350.6 L620.6 350.9 L621.1 351.2 L621.6 351.2 L622.1 350.8 L622.6 350.6 L623.1 350.6 L623.6 351.0 L624.1 351.2 L624.6 351.1 L625.1 350.8 L625.6 350.5 L626.1 350.7 L626.6 351.0 L627.1 351.2 L627.6 351.1 L628.1 350.7 L628.6 350.5 L629.1 350.7 L629.6 351.1 L630.1 351.2 L630.6 351.0 L631.1 350.6 L631.6 350.6 L632.1 350.8 L632.6 351.2 L633.1 351.2 L633.6 350.9 L634.1 350.6 L634.6 350.6 L635.1 350.9 L635.6 351.2 L636.1 351.2 L636.6 350.9 L637.1 350.6 L637.6 350.6 L638.1 351.0 L638.6 351.2 L639.1 351.1 L639.6 350.8 L640.1 350.6 L640.6 350.7 L641.1 351.0 L641.6 351.3 L642.1 351.1 L642.6 350.7 L643.1 350.6 L643.6 350.8 L644.1 351.1 L644.6 351.2 L645.1 351.0 L645.6 350.7 L646.1 350.6 L646.6 350.8 L647.1 351.2 L647.6 351.2 L648.1 350.9 L648.6 350.6 L649.1 350.6 L649.6 350.9 L650.1 351.2 L650.6 351.2 L651.1 350.9 L651.6 350.6 L652.1 350.6 L652.6 351.0 L653.1 351.2 L653.6 351.1 L654.1 350.8 L654.6 350.6 L655.1 350.7 L655.6 351.1 L656.1 351.3 L656.6 351.1 L657.1 350.7 L657.6 350.6 L658.1 350.8 L658.6 351.1 L659.1 351.3 L659.6 351.0 L660.1 350.7 L660.6 350.6 L661.1 350.8 L661.6 351.2 L662.1 351.2 L662.6 351.0 L663.1 350.6 L663.6 350.6 L664.1 350.9 L664.6 351.2 L665.1 351.2 L665.6 350.9 L666.1 350.6 L666.6 350.7 L667.1 351.0 L667.6 351.3 L668.1 351.2 L668.6 350.8 L669.1 350.6 L669.6 350.7 L670.1 351.1 L670.6 351.3 L671.1 351.1 L671.6 350.7 L672.1 350.6 L672.6 350.8 L673.1 351.1 L673.6 351.3 L674.1 351.0 L674.6 350.7 L675.1 350.6 L675.6 350.8 L676.1 351.2 L676.6 351.3 L677.1 351.0 L677.6 350.6 L678.1 350.6 L678.6 350.9 L679.1 351.2 L679.6 351.2 L680.1 350.9 L680.6 350.6 L681.1 350.7 L681.6 351.0 L682.1 351.3 L682.6 351.2 L683.1 350.8 L683.6 350.6 L684.1 350.7 L684.6 351.1 L685.1 351.3 L685.6 351.1 L686.1 350.8 L686.6 350.6 L687.1 350.8 L687.6 351.1 L688.1 351.3 L688.6 351.0 L689.1 350.7 L689.6 350.6 L690.1 350.9 L690.6 351.2 L691.1 351.3 L691.6 351.0 L692.1 350.6 L692.6 350.6 L693.1 350.9 L693.6 351.2 L694.1 351.2 L694.6 350.9 L695.1 350.6 L695.6 350.7 L696.1 351.0 L696.6 351.3 L697.1 351.2 L697.6 350.8 L698.1 350.6 L698.6 350.7 L699.1 351.1 L699.6 351.3 L700.1 351.1 L700.6 350.8 L701.1 350.6 L701.6 350.8 L702.1 351.2 L702.6 351.3 L703.1 351.1 L703.6 350.7 L704.1 350.6 L704.6 350.9 L705.1 351.2 L705.6 351.3 L706.1 351.0 L706.6 350.7 L707.1 350.6 L707.6 350.9 L708.1 351.3 L708.6 351.2 L709.1 350.9 L709.6 350.6 L710.1 350.7 L710.6 351.0 L711.1 351.3 L711.6 351.2 L712.1 350.8 L712.6 350.6 L713.1 350.7 L713.6 351.1 L714.1 351.3 L714.6 351.1 L715.1 350.8 L715.6 350.6 L716.1 350.8 L716.6 351.2 L717.1 351.3 L717.6 351.1 L718.1 350.7 L718.6 350.6 L719.1 350.9 L719.6 351.2 L720.1 351.3 L720.6 351.0 L721.1 350.7 L721.6 350.6 L722.1 351.0 L722.6 351.3 L723.1 351.2 L723.6 350.9 L724.1 350.6 L724.6 350.7 L725.1 351.0 L725.6 351.3 L726.1 351.2 L726.6 350.8 L727.1 350.6 L727.6 350.7 L728.1 351.1 L728.6 351.3 L729.1 351.1 L729.6 350.8 L730.1 350.6 L730.6 350.8 L731.1 351.2 L731.6 351.3 L732.1 351.1 L732.6 350.7 L733.1 350.6 L733.6 350.9 L734.1 351.2 L734.6 351.3 L735.1 351.0 L735.6 350.7 L736.1 350.6 L736.6 351.0 L737.1 351.3 L737.6 351.2 L738.1 350.9 L738.6 350.6 L739.1 350.7 L739.6 351.0 L740.1 351.3 L740.6 351.2 L741.1 350.8 L741.6 350.6 L742.1 350.7 L742.6 351.1 L743.1 351.3 L743.6 351.1 L744.1 350.8 L744.6 350.6 L745.1 350.8 L745.6 351.2 L746.1 351.3 L746.6 351.1 L747.1 350.7 L747.6 350.6 L748.1 350.9 L748.6 351.2 L749.1 351.3 L749.6 351.0 L750.1 350.7 L750.6 350.7 L751.1 351.0 L751.6 351.3 L752.1 351.3 L752.6 350.9 L753.1 350.6 L753.6 350.7 L754.1 351.0 L754.6 351.3 L755.1 351.2 L755.6 350.9 L756.1 350.6 L756.6 350.8 L757.1 351.1 L757.6 351.3 L758.1 351.1 L758.6 350.8 L759.1 350.6 L759.6 350.8 L760.1 351.2 L760.6 351.3 L761.1 351.1 L761.6 350.7 L762.1 350.6 L762.6 350.9 L763.1 351.2 L763.6 351.3 L764.1 351.0 L764.6 350.7 L765.1 350.7 L765.6 351.0 L766.1 351.3 L766.6 351.3 L767.1 350.9 L767.6 350.6 L768.1 350.7 L768.6 351.0 L769.1 351.3 L769.6 351.2 L770.1 350.9 L770.6 350.6 L771.1 350.8 L771.6 351.1 L772.1 351.3 L772.6 351.1 L773.1 350.8 L773.6 350.6 L774.1 350.8 L774.6 351.2 L775.1 351.3 L775.6 351.1 L776.1 350.7 L776.6 350.6 L777.1 350.9 L777.6 351.2 L778.1 351.3 L778.6 351.0 L779.1 350.7 L779.6 350.7 L780.1 351.0 L780.6 351.3 L781.1 351.3 L781.6 350.9 L782.1 350.6 L782.6 350.7 L783.1 351.0 L783.6 351.3 L784.1 351.2 L784.6 350.9 L785.1 350.6 L785.6 350.8 L786.1 351.1 L786.6 351.3 L787.1 351.1 L787.6 350.8 L788.1 350.6 L788.6 350.8 L789.1 351.2 L789.6 351.3 L790.1 351.1 L790.6 350.7 L791.1 350.6 L791.6 350.9 L792.1 351.2 L792.6 351.3 L793.1 351.0 L793.6 350.7 L794.1 350.7 L794.6 351.0 L795.1 351.3 L795.6 351.3 L796.1 350.9 L796.6 350.6 L797.1 350.7 L797.6 351.0 L798.1 351.3 L798.1 386.0 L797.6 386.2 L797.1 386.4 L796.6 386.4 L796.1 386.2 L795.6 386.0 L795.1 386.0 L794.6 386.2 L794.1 386.4 L793.6 386.4 L793.1 386.2 L792.6 386.0 L792.1 386.1 L791.6 386.3 L791.1 386.4 L790.6 386.4 L790.1 386.2 L789.6 386.0 L789.1 386.1 L788.6 386.3 L788.1 386.4 L787.6 386.3 L787.1 386.1 L786.6 386.0 L786.1 386.1 L785.6 386.3 L785.1 386.4 L784.6 386.3 L784.1 386.1 L783.6 386.0 L783.1 386.2 L782.6 386.4 L782.1 386.4 L781.6 386.2 L781.1 386.0 L780.6 386.0 L780.1 386.2 L779.6 386.4 L779.1 386.4 L778.6 386.2 L778.1 386.0 L777.6 386.1 L777.1 386.3 L776.6 386.4 L776.1 386.4 L775.6 386.2 L775.1 386.0 L774.6 386.1 L774.1 386.3 L773.6 386.4 L773.1 386.3 L772.6 386.1 L772.1 386.0 L771.6 386.1 L771.1 386.3 L770.6 386.4 L770.1 386.3 L769.6 386.1 L769.1 386.0 L768.6 386.2 L768.1 386.4 L767.6 386.4 L767.1 386.2 L766.6 386.0 L766.1 386.0 L765.6 386.2 L765.1 386.4 L764.6 386.4 L764.1 386.2 L763.6 386.0 L763.1 386.1 L762.6 386.3 L762.1 386.4 L761.6 386.4 L761.1 386.2 L760.6 386.0 L760.1 386.1 L759.6 386.3 L759.1 386.4 L758.6 386.3 L758.1 386.1 L757.6 386.0 L757.1 386.1 L756.6 386.3 L756.1 386.4 L755.6 386.3 L755.1 386.1 L754.6 386.0 L754.1 386.2 L753.6 386.4 L753.1 386.4 L752.6 386.2 L752.1 386.0 L751.6 386.0 L751.1 386.2 L750.6 386.4 L750.1 386.4 L749.6 386.2 L749.1 386.0 L748.6 386.1 L748.1 386.3 L747.6 386.4 L747.1 386.4 L746.6 386.2 L746.1 386.0 L745.6 386.1 L745.1 386.3 L744.6 386.4 L744.1 386.3 L743.6 386.1 L743.1 386.0 L742.6 386.1 L742.1 386.3 L741.6 386.4 L741.1 386.3 L740.6 386.1 L740.1 386.0 L739.6 386.2 L739.1 386.4 L738.6 386.4 L738.1 386.2 L737.6 386.0 L737.1 386.0 L736.6 386.2 L736.1 386.4 L735.6 386.4 L735.1 386.2 L734.6 386.0 L734.1 386.1 L733.6 386.3 L733.1 386.4 L732.6 386.4 L732.1 386.2 L731.6 386.0 L731.1 386.1 L730.6 386.3 L730.1 386.4 L729.6 386.3 L729.1 386.1 L728.6 386.0 L728.1 386.1 L727.6 386.3 L727.1 386.4 L726.6 386.3 L726.1 386.1 L725.6 386.0 L725.1 386.2 L724.6 386.4 L724.1 386.4 L723.6 386.2 L723.1 386.0 L722.6 386.0 L722.1 386.2 L721.6 386.4 L721.1 386.4 L720.6 386.2 L720.1 386.0 L719.6 386.1 L719.1 386.3 L718.6 386.4 L718.1 386.4 L717.6 386.2 L717.1 386.0 L716.6 386.1 L716.1 386.3 L715.6 386.4 L715.1 386.3 L714.6 386.1 L714.1 386.0 L713.6 386.1 L713.1 386.3 L712.6 386.4 L712.1 386.3 L711.6 386.1 L711.1 386.0 L710.6 386.2 L710.1 386.4 L709.6 386.4 L709.1 386.2 L708.6 386.0 L708.1 386.0 L707.6 386.2 L707.1 386.4 L706.6 386.4 L706.1 386.2 L705.6 386.0 L705.1 386.1 L704.6 386.3 L704.1 386.4 L703.6 386.4 L703.1 386.2 L702.6 386.0 L702.1 386.1 L701.6 386.3 L701.1 386.4 L700.6 386.3 L700.1 386.1 L699.6 386.0 L699.1 386.1 L698.6 386.3 L698.1 386.4 L697.6 386.3 L697.1 386.1 L696.6 386.0 L696.1 386.2 L695.6 386.4 L695.1 386.4 L694.6 386.2 L694.1 386.0 L693.6 386.0 L693.1 386.2 L692.6 386.4 L692.1 386.4 L691.6 386.2 L691.1 386.0 L690.6 386.1 L690.1 386.3 L689.6 386.4 L689.1 386.4 L688.6 386.2 L688.1 386.0 L687.6 386.1 L687.1 386.3 L686.6 386.4 L686.1 386.3 L685.6 386.1 L685.1 386.0 L684.6 386.1 L684.1 386.3 L683.6 386.4 L683.1 386.3 L682.6 386.1 L682.1 386.0 L681.6 386.2 L681.1 386.4 L680.6 386.4 L680.1 386.2 L679.6 386.0 L679.1 386.0 L678.6 386.2 L678.1 386.4 L677.6 386.4 L677.1 386.2 L676.6 386.0 L676.1 386.1 L675.6 386.3 L675.1 386.4 L674.6 386.4 L674.1 386.2 L673.6 386.0 L673.1 386.1 L672.6 386.3 L672.1 386.4 L671.6 386.3 L671.1 386.1 L670.6 386.0 L670.1 386.1 L669.6 386.3 L669.1 386.4 L668.6 386.3 L668.1 386.1 L667.6 386.0 L667.1 386.2 L666.6 386.4 L666.1 386.4 L665.6 386.2 L665.1 386.0 L664.6 386.0 L664.1 386.2 L663.6 386.4 L663.1 386.4 L662.6 386.2 L662.1 386.0 L661.6 386.1 L661.1 386.3 L660.6 386.4 L660.1 386.4 L659.6 386.2 L659.1 386.0 L658.6 386.1 L658.1 386.3 L657.6 386.4 L657.1 386.3 L656.6 386.1 L656.1 386.0 L655.6 386.1 L655.1 386.3 L654.6 386.4 L654.1 386.3 L653.6 386.1 L653.1 386.0 L652.6 386.2 L652.1 386.4 L651.6 386.4 L651.1 386.2 L650.6 386.0 L650.1 386.0 L649.6 386.2 L649.1 386.4 L648.6 386.4 L648.1 386.2 L647.6 386.0 L647.1 386.1 L646.6 386.3 L646.1 386.4 L645.6 386.4 L645.1 386.2 L644.6 386.0 L644.1 386.1 L643.6 386.3 L643.1 386.4 L642.6 386.3 L642.1 386.1 L641.6 386.0 L641.1 386.1 L640.6 386.3 L640.1 386.4 L639.6 386.3 L639.1 386.1 L638.6 386.0 L638.1 386.2 L637.6 386.4 L637.1 386.4 L636.6 386.2 L636.1 386.0 L635.6 386.0 L635.1 386.2 L634.6 386.4 L634.1 386.4 L633.6 386.2 L633.1 386.0 L632.6 386.1 L632.1 386.3 L631.6 386.4 L631.1 386.4 L630.6 386.2 L630.1 386.0 L629.6 386.1 L629.1 386.3 L628.6 386.4 L628.1 386.3 L627.6 386.1 L627.1 386.0 L626.6 386.1 L626.1 386.3 L625.6 386.4 L625.1 386.3 L624.6 386.1 L624.1 386.0 L623.6 386.2 L623.1 386.4 L622.6 386.4 L622.1 386.2 L621.6 386.0 L621.1 386.0 L620.6 386.2 L620.1 386.4 L619.6 386.4 L619.1 386.2 L618.6 386.0 L618.1 386.1 L617.6 386.3 L617.1 386.4 L616.6 386.4 L616.1 386.2 L615.6 386.0 L615.1 386.1 L614.6 386.3 L614.1 386.4 L613.6 386.3 L613.1 386.1 L612.6 386.0 L612.1 386.1 L611.6 386.3 L611.1 386.4 L610.6 386.3 L610.1 386.1 L609.6 386.0 L609.1 386.2 L608.6 386.4 L608.1 386.4 L607.6 386.2 L607.1 386.0 L606.6 386.0 L606.1 386.2 L605.6 386.4 L605.1 386.4 L604.6 386.2 L604.1 386.0 L603.6 386.1 L603.1 386.3 L602.6 386.4 L602.1 386.4 L601.6 386.2 L601.1 386.0 L600.6 386.1 L600.1 386.3 L599.6 386.4 L599.1 386.3 L598.6 386.1 L598.1 386.0 L597.6 386.1 L597.1 386.3 L596.6 386.4 L596.1 386.3 L595.6 386.1 L595.1 386.0 L594.6 386.2 L594.1 386.4 L593.6 386.4 L593.1 386.2 L592.6 386.0 L592.1 386.0 L591.6 386.2 L591.1 386.4 L590.6 386.4 L590.1 386.2 L589.6 386.0 L589.1 386.1 L588.6 386.3 L588.1 386.4 L587.6 386.4 L587.1 386.2 L586.6 386.0 L586.1 386.1 L585.6 386.3 L585.1 386.4 L584.6 386.3 L584.1 386.1 L583.6 386.0 L583.1 386.1 L582.6 386.3 L582.1 386.4 L581.6 386.3 L581.1 386.1 L580.6 386.0 L580.1 386.2 L579.6 386.4 L579.1 386.4 L578.6 386.2 L578.1 386.0 L577.6 386.0 L577.1 386.2 L576.6 386.4 L576.1 386.4 L575.6 386.2 L575.1 386.0 L574.6 386.1 L574.1 386.3 L573.6 386.4 L573.1 386.4 L572.6 386.2 L572.1 386.0 L571.6 386.1 L571.1 386.3 L570.6 386.4 L570.1 386.3 L569.6 386.1 L569.1 386.0 L568.6 386.1 L568.1 386.3 L567.6 386.4 L567.1 386.3 L566.6 386.1 L566.1 386.0 L565.6 386.2 L565.1 386.4 L564.6 386.4 L564.1 386.2 L563.6 386.0 L563.1 386.0 L562.6 386.2 L562.1 386.4 L561.6 386.4 L561.1 386.2 L560.6 386.0 L560.1 386.1 L559.6 386.3 L559.1 386.4 L558.6 386.4 L558.1 386.2 L557.6 386.0 L557.1 386.1 L556.6 386.3 L556.1 386.4 L555.6 386.3 L555.1 386.1 L554.6 386.0 L554.1 386.1 L553.6 386.3 L553.1 386.4 L552.6 386.3 L552.1 386.1 L551.6 386.0 L551.1 386.2 L550.6 386.4 L550.1 386.4 L549.6 386.2 L549.1 386.0 L548.6 386.0 L548.1 386.2 L547.6 386.4 L547.1 386.4 L546.6 386.2 L546.1 386.0 L545.6 386.1 L545.1 386.3 L544.6 386.4 L544.1 386.4 L543.6 386.2 L543.1 386.0 L542.6 386.1 L542.1 386.3 L541.6 386.4 L541.1 386.3 L540.6 386.1 L540.1 386.0 L539.6 386.1 L539.1 386.3 L538.6 386.4 L538.1 386.3 L537.6 386.1 L537.1 386.0 L536.6 386.2 L536.1 386.4 L535.6 386.4 L535.1 386.2 L534.6 386.0 L534.1 386.0 L533.6 386.2 L533.1 386.4 L532.6 386.4 L532.1 386.2 L531.6 386.0 L531.1 386.0 L530.6 386.2 L530.1 386.4 L529.6 386.3 L529.1 386.1 L528.6 386.0 L528.1 386.1 L527.6 386.3 L527.1 386.4 L526.6 386.3 L526.1 386.1 L525.6 386.0 L525.1 386.1 L524.6 386.3 L524.1 386.4 L523.6 386.3 L523.1 386.0 L522.6 386.0 L522.1 386.1 L521.6 386.3 L521.1 386.4 L520.6 386.2 L520.1 386.0 L519.6 386.0 L519.1 386.2 L518.6 386.4 L518.1 386.4 L517.6 386.2 L517.1 386.0 L516.6 386.0 L516.1 386.2 L515.6 386.4 L515.1 386.3 L514.6 386.1 L514.1 386.0 L513.6 386.0 L513.1 386.3 L512.6 386.4 L512.1 386.3 L511.6 386.1 L511.1 385.9 L510.6 386.1 L510.1 386.3 L509.6 386.4 L509.1 386.2 L508.6 386.0 L508.1 385.9 L507.6 386.1 L507.1 386.3 L506.6 386.3 L506.1 386.2 L505.6 386.0 L505.1 386.0 L504.6 386.1 L504.1 386.3 L503.6 386.3 L503.1 386.1 L502.6 385.9 L502.1 386.0 L501.6 386.2 L501.1 386.3 L500.6 386.3 L500.1 386.1 L499.6 385.9 L499.1 386.0 L498.6 386.2 L498.1 386.3 L497.6 386.2 L497.1 386.0 L496.6 385.9 L496.1 386.0 L495.6 386.2 L495.1 386.3 L494.6 386.2 L494.1 386.0 L493.6 385.9 L493.1 386.1 L492.6 386.3 L492.1 386.3 L491.6 386.1 L491.1 385.9 L490.6 385.9 L490.1 386.1 L489.6 386.3 L489.1 386.3 L488.6 386.1 L488.1 385.9 L487.6 385.9 L487.1 386.1 L486.6 386.3 L486.1 386.2 L485.6 386.0 L485.1 385.9 L484.6 385.9 L484.1 386.2 L483.6 386.3 L483.1 386.2 L482.6 386.0 L482.1 385.8 L481.6 386.0 L481.1 386.2 L480.6 386.3 L480.1 386.1 L479.6 385.9 L479.1 385.8 L478.6 386.0 L478.1 386.2 L477.6 386.2 L477.1 386.1 L476.6 385.9 L476.1 385.9 L475.6 386.0 L475.1 386.2 L474.6 386.2 L474.1 386.0 L473.6 385.8 L473.1 385.9 L472.6 386.1 L472.1 386.2 L471.6 386.2 L471.1 386.0 L470.6 385.8 L470.1 385.9 L469.6 386.1 L469.1 386.2 L468.6 386.1 L468.1 385.9 L467.6 385.8 L467.1 385.9 L466.6 386.1 L466.1 386.2 L465.6 386.1 L465.1 385.8 L464.6 385.8 L464.1 385.9 L463.6 386.1 L463.1 386.2 L462.6 386.0 L462.1 385.8 L461.6 385.8 L461.1 386.0 L460.6 386.1 L460.1 386.1 L459.6 385.9 L459.1 385.7 L458.6 385.8 L458.1 386.0 L457.6 386.1 L457.1 386.1 L456.6 385.8 L456.1 385.7 L455.6 385.8 L455.1 386.0 L454.6 386.1 L454.1 386.0 L453.6 385.8 L453.1 385.7 L452.6 385.8 L452.1 386.0 L451.6 386.1 L451.1 386.0 L450.6 385.7 L450.1 385.7 L449.6 385.8 L449.1 386.0 L448.6 386.1 L448.1 385.9 L447.6 385.7 L447.1 385.7 L446.6 385.9 L446.1 386.0 L445.6 386.0 L445.1 385.8 L444.6 385.7 L444.1 385.7 L443.6 385.9 L443.1 386.0 L442.6 386.0 L442.1 385.7 L441.6 385.6 L441.1 385.7 L440.6 385.9 L440.1 386.0 L439.6 385.9 L439.1 385.7 L438.6 385.6 L438.1 385.7 L437.6 385.9 L437.1 386.0 L436.6 385.8 L436.1 385.6 L435.6 385.5 L435.1 385.7 L434.6 385.9 L434.1 385.9 L433.6 385.7 L433.1 385.5 L432.6 385.5 L432.1 385.7 L431.6 385.9 L431.1 385.9 L430.6 385.7 L430.1 385.5 L429.6 385.5 L429.1 385.7 L428.6 385.9 L428.1 385.8 L427.6 385.6 L427.1 385.5 L426.6 385.5 L426.1 385.7 L425.6 385.9 L425.1 385.8 L424.6 385.5 L424.1 385.4 L423.6 385.5 L423.1 385.8 L422.6 385.8 L422.1 385.7 L421.6 385.5 L421.1 385.4 L420.6 385.6 L420.1 385.8 L419.6 385.8 L419.1 385.6 L418.6 385.4 L418.1 385.4 L417.6 385.6 L417.1 385.7 L416.6 385.7 L416.1 385.5 L415.6 385.3 L415.1 385.4 L414.6 385.6 L414.1 385.7 L413.6 385.6 L413.1 385.4 L412.6 385.3 L412.1 385.3 L411.6 385.5 L411.1 385.7 L410.6 385.5 L410.1 385.3 L409.6 385.2 L409.1 385.3 L408.6 385.5 L408.1 385.6 L407.6 385.5 L407.1 385.3 L406.6 385.2 L406.1 385.3 L405.6 385.5 L405.1 385.6 L404.6 385.4 L404.1 385.2 L403.6 385.2 L403.1 385.4 L402.6 385.5 L402.1 385.5 L401.6 385.3 L401.1 385.2 L400.6 385.2 L400.1 385.4 L399.6 385.5 L399.1 385.5 L398.6 385.3 L398.1 385.1 L397.6 385.2 L397.1 385.4 L396.6 385.5 L396.1 385.4 L395.6 385.2 L395.1 385.0 L394.6 385.2 L394.1 385.4 L393.6 385.4 L393.1 385.3 L392.6 385.1 L392.1 385.0 L391.6 385.1 L391.1 385.3 L390.6 385.3 L390.1 385.1 L389.6 384.9 L389.1 384.9 L388.6 385.1 L388.1 385.3 L387.6 385.2 L387.1 385.0 L386.6 384.8 L386.1 384.9 L385.6 385.1 L385.1 385.2 L384.6 385.1 L384.1 384.9 L383.6 384.8 L383.1 384.8 L382.6 385.1 L382.1 385.2 L381.6 385.1 L381.1 384.8 L380.6 384.7 L380.1 384.8 L379.6 385.1 L379.1 385.1 L378.6 385.0 L378.1 384.8 L377.6 384.7 L377.1 384.9 L376.6 385.1 L376.1 385.1 L375.6 384.9 L375.1 384.7 L374.6 384.7 L374.1 384.9 L373.6 385.0 L373.1 385.0 L372.6 384.8 L372.1 384.6 L371.6 384.6 L371.1 384.8 L370.6 385.0 L370.1 384.9 L369.6 384.7 L369.1 384.5 L368.6 384.6 L368.1 384.8 L367.6 384.9 L367.1 384.8 L366.6 384.5 L366.1 384.4 L365.6 384.5 L365.1 384.7 L364.6 384.8 L364.1 384.6 L363.6 384.4 L363.1 384.3 L362.6 384.4 L362.1 384.6 L361.6 384.6 L361.1 384.5 L360.6 384.2 L360.1 384.2 L359.6 384.4 L359.1 384.6 L358.6 384.5 L358.1 384.3 L357.6 384.2 L357.1 384.2 L356.6 384.4 L356.1 384.5 L355.6 384.5 L355.1 384.2 L354.6 384.1 L354.1 384.2 L353.6 384.4 L353.1 384.5 L352.6 384.4 L352.1 384.1 L351.6 384.0 L351.1 384.1 L350.6 384.3 L350.1 384.4 L349.6 384.3 L349.1 384.0 L348.6 384.0 L348.1 384.1 L347.6 384.3 L347.1 384.3 L346.6 384.1 L346.1 383.9 L345.6 383.9 L345.1 384.0 L344.6 384.2 L344.1 384.1 L343.6 383.9 L343.1 383.7 L342.6 383.7 L342.1 383.9 L341.6 384.0 L341.1 384.0 L340.6 383.7 L340.1 383.6 L339.6 383.6 L339.1 383.8 L338.6 383.9 L338.1 383.8 L337.6 383.5 L337.1 383.4 L336.6 383.5 L336.1 383.7 L335.6 383.8 L335.1 383.6 L334.6 383.4 L334.1 383.3 L333.6 383.5 L333.1 383.7 L332.6 383.7 L332.1 383.5 L331.6 383.3 L331.1 383.3 L330.6 383.4 L330.1 383.6 L329.6 383.6 L329.1 383.4 L328.6 383.2 L328.1 383.2 L327.6 383.4 L327.1 383.5 L326.6 383.5 L326.1 383.2 L325.6 383.1 L325.1 383.1 L324.6 383.3 L324.1 383.4 L323.6 383.3 L323.1 383.0 L322.6 382.9 L322.1 383.0 L321.6 383.2 L321.1 383.2 L320.6 383.0 L320.1 382.8 L319.6 382.7 L319.1 382.8 L318.6 382.9 L318.1 382.9 L317.6 382.7 L317.1 382.4 L316.6 382.4 L316.1 382.5 L315.6 382.6 L315.1 382.6 L314.6 382.3 L314.1 382.1 L313.6 382.1 L313.1 382.2 L312.6 382.3 L312.1 382.2 L311.6 382.0 L311.1 381.8 L310.6 381.9 L310.1 382.0 L309.6 382.1 L309.1 382.0 L308.6 381.7 L308.1 381.6 L307.6 381.7 L307.1 381.9 L306.6 382.0 L306.1 381.8 L305.6 381.6 L305.1 381.5 L304.6 381.6 L304.1 381.8 L303.6 381.8 L303.1 381.6 L302.6 381.4 L302.1 381.3 L301.6 381.5 L301.1 381.6 L300.6 381.5 L300.1 381.3 L299.6 381.1 L299.1 381.0 L298.6 381.2 L298.1 381.3 L297.6 381.1 L297.1 380.9 L296.6 380.6 L296.1 380.6 L295.6 380.8 L295.1 380.8 L294.6 380.6 L294.1 380.3 L293.6 380.1 L293.1 380.2 L292.6 380.3 L292.1 380.3 L291.6 380.0 L291.1 379.7 L290.6 379.6 L290.1 379.7 L289.6 379.8 L289.1 379.7 L288.6 379.5 L288.1 379.2 L287.6 379.1 L287.1 379.3 L286.6 379.4 L286.1 379.3 L285.6 379.1 L285.1 378.8 L284.6 378.8 L284.1 379.0 L283.6 379.1 L283.1 379.0 L282.6 378.8 L282.1 378.6 L281.6 378.6 L281.1 378.8 L280.6 378.9 L280.1 378.7 L279.6 378.5 L279.1 378.3 L278.6 378.4 L278.1 378.6 L277.6 378.6 L277.1 378.4 L276.6 378.1 L276.1 377.9 L275.6 378.0 L275.1 378.1 L274.6 378.1 L274.1 377.8 L273.6 377.5 L273.1 377.4 L272.6 377.4 L272.1 377.5 L271.6 377.4 L271.1 377.0 L270.6 376.7 L270.1 376.6 L269.6 376.7 L269.1 376.7 L268.6 376.5 L268.1 376.2 L267.6 375.9 L267.1 375.8 L266.6 375.9 L266.1 375.9 L265.6 375.7 L265.1 375.3 L264.6 375.1 L264.1 375.1 L263.6 375.2 L263.1 375.2 L262.6 375.0 L262.1 374.7 L261.6 374.6 L261.1 374.6 L260.6 374.8 L260.1 374.7 L259.6 374.5 L259.1 374.3 L258.6 374.2 L258.1 374.3 L257.6 374.4 L257.1 374.4 L256.6 374.1 L256.1 373.9 L255.6 373.9 L255.1 374.0 L254.6 374.1 L254.1 373.9 L253.6 373.6 L253.1 373.4 L252.6 373.4 L252.1 373.5 L251.6 373.5 L251.1 373.3 L250.6 372.9 L250.1 372.7 L249.6 372.6 L249.1 372.7 L248.6 372.6 L248.1 372.3 L247.6 371.9 L247.1 371.7 L246.6 371.6 L246.1 371.6 L245.6 371.5 L245.1 371.1 L244.6 370.7 L244.1 370.5 L243.6 370.4 L243.1 370.4 L242.6 370.2 L242.1 369.8 L241.6 369.5 L241.1 369.3 L240.6 369.4 L240.1 369.4 L239.6 369.1 L239.1 368.8 L238.6 368.5 L238.1 368.5 L237.6 368.6 L237.1 368.6 L236.6 368.4 L236.1 368.1 L235.6 367.9 L235.1 367.9 L234.6 368.0 L234.1 368.0 L233.6 367.8 L233.1 367.5 L232.6 367.4 L232.1 367.5 L231.6 367.6 L231.1 367.5 L230.6 367.3 L230.1 367.0 L229.6 366.8 L229.1 366.9 L228.6 367.0 L228.1 366.8 L227.6 366.5 L227.1 366.1 L226.6 366.0 L226.1 366.0 L225.6 366.0 L225.1 365.7 L224.6 365.3 L224.1 365.0 L223.6 364.9 L223.1 364.9 L222.6 364.8 L222.1 364.4 L221.6 364.0 L221.1 363.7 L220.6 363.6 L220.1 363.6 L219.6 363.4 L219.1 363.1 L218.6 362.7 L218.1 362.4 L217.6 362.4 L217.1 362.4 L216.6 362.2 L216.1 361.9 L215.6 361.5 L215.1 361.4 L214.6 361.4 L214.1 361.5 L213.6 361.3 L213.1 361.0 L212.6 360.8 L212.1 360.7 L211.6 360.8 L211.1 360.9 L210.6 360.7 L210.1 360.5 L209.6 360.2 L209.1 360.2 L208.6 360.4 L208.1 360.4 L207.6 360.2 L207.1 359.9 L206.6 359.7 L206.1 359.8 L205.6 359.9 L205.1 359.8 L204.6 359.6 L204.1 359.2 L203.6 359.0 L203.1 359.0 L202.6 359.1 L202.1 358.9 L201.6 358.6 L201.1 358.2 L200.6 358.0 L200.1 357.9 L199.6 357.9 L199.1 357.7 L198.6 357.2 L198.1 356.8 L197.6 356.6 L197.1 356.6 L196.6 356.5 L196.1 356.2 L195.6 355.7 L195.1 355.4 L194.6 355.2 L194.1 355.2 L193.6 355.1 L193.1 354.8 L192.6 354.4 L192.1 354.1 L191.6 354.0 L191.1 354.1 L190.6 354.0 L190.1 353.7 L189.6 353.3 L189.1 353.2 L188.6 353.2 L188.1 353.3 L187.6 353.2 L187.1 353.0 L186.6 352.7 L186.1 352.6 L185.6 352.7 L185.1 352.8 L184.6 352.7 L184.1 352.4 L183.6 352.1 L183.1 352.1 L182.6 352.2 L182.1 352.3 L181.6 352.1 L181.1 351.8 L180.6 351.5 L180.1 351.4 L179.6 351.5 L179.1 351.5 L178.6 351.2 L178.1 350.8 L177.6 350.6 L177.1 350.5 L176.6 350.5 L176.1 350.4 L175.6 350.0 L175.1 349.6 L174.6 349.4 L174.1 349.3 L173.6 349.2 L173.1 349.0 L172.6 348.6 L172.1 348.3 L171.6 348.0 L171.1 348.0 L170.6 347.9 L170.1 347.7 L169.6 347.3 L169.1 347.0 L168.6 346.9 L168.1 346.9 L167.6 346.8 L167.1 346.6 L166.6 346.3 L166.1 346.1 L165.6 346.0 L165.1 346.1 L164.6 346.0 L164.1 345.9 L163.6 345.7 L163.1 345.5 L162.6 345.5 L162.1 345.6 L161.6 345.5 L161.1 345.4 L160.6 345.2 L160.1 345.1 L159.6 345.1 L159.1 345.2 L158.6 345.1 L158.1 344.9 L157.6 344.7 L157.1 344.6 L156.6 344.6 L156.1 344.6 L155.6 344.5 L155.1 344.2 L154.6 344.0 L154.1 343.9 L153.6 343.8 L153.1 343.7 L152.6 343.5 L152.1 343.2 L151.6 342.9 L151.1 342.8 L150.6 342.6 L150.1 342.5 L149.6 342.2 L149.1 341.9 L148.6 341.7 L148.1 341.5 L147.6 341.4 L147.1 341.3 L146.6 341.1 L146.1 340.9 L145.6 340.7 L145.1 340.7 L144.6 340.6 L144.1 340.5 L143.6 340.4 L143.1 340.3 L142.6 340.3 L142.1 340.3 L141.6 340.3 L141.1 340.3 L140.6 340.2 L140.1 340.1 L139.6 340.1 L139.1 340.1 L138.6 340.2 L138.1 340.1 L137.6 340.1 L137.1 340.1 L136.6 340.1 L136.1 340.1 L135.6 340.1 L135.1 340.0 L134.6 340.0 L134.1 340.0 L133.6 340.0 L133.1 340.0 L132.6 340.0 L132.1 340.0 L131.6 339.9 L131.1 339.9 L130.6 339.9 L130.1 339.9 L129.6 339.9 L129.1 339.9 L128.6 339.9 L128.1 339.9 L127.6 339.9 L127.1 339.9 L126.6 339.9 L126.1 339.9 L125.6 339.9 L125.1 339.9 L124.6 339.9 L124.1 339.9 L123.6 339.9 L123.1 339.9 L122.6 339.9 L122.1 339.9 L121.6 339.9 L121.1 339.9 L120.6 339.9 L120.1 339.9 L119.6 339.9 L119.1 339.9 L118.6 339.9 L118.1 339.9 L117.6 339.9 L117.1 339.9 L116.6 339.9 L116.1 339.9 L115.6 339.9 L115.1 339.9 L114.6 339.9 L114.1 339.9 L113.6 339.9 L113.1 339.9 L112.6 339.9 L112.1 339.9 L111.6 339.9 L111.1 339.9 L110.6 339.9 L110.1 339.9 L109.6 339.9 L109.1 339.9 L108.6 339.9 L108.1 339.9 L107.6 339.9 L107.1 339.9 L106.6 339.9Z" fill="#efd1b0"/>
<line x1="106.6" y1="368.9" x2="797.7" y2="368.9" stroke="#000" stroke-width="1.6" stroke-dasharray="5.6 2.4"/>
<path d="M106.6 287.0 L107.1 287.0 L107.6 287.0 L108.1 287.0 L108.6 287.0 L109.1 287.0 L109.6 287.0 L110.1 287.0 L110.6 287.0 L111.1 287.0 L111.6 287.0 L112.1 287.0 L112.6 287.0 L113.1 287.0 L113.6 287.0 L114.1 287.0 L114.6 287.0 L115.1 287.0 L115.6 287.0 L116.1 287.0 L116.6 287.0 L117.1 287.0 L117.6 287.0 L118.1 287.0 L118.6 287.0 L119.1 287.0 L119.6 287.0 L120.1 287.0 L120.6 287.0 L121.1 287.0 L121.6 287.0 L122.1 287.0 L122.6 287.0 L123.1 287.0 L123.6 287.0 L124.1 287.0 L124.6 287.0 L125.1 287.0 L125.6 287.0 L126.1 287.0 L126.6 287.0 L127.1 287.0 L127.6 287.0 L128.1 287.0 L128.6 287.0 L129.1 287.0 L129.6 287.0 L130.1 287.0 L130.6 287.0 L131.1 287.0 L131.6 287.0 L132.1 287.0 L132.6 287.0 L133.1 287.0 L133.6 287.0 L134.1 287.0 L134.6 287.0 L135.1 287.0 L135.6 287.0 L136.1 287.0 L136.6 287.0 L137.1 287.0 L137.6 287.0 L138.1 287.0 L138.6 287.0 L139.1 287.0 L139.6 287.0 L140.1 287.0 L140.6 287.0 L141.1 287.1 L141.6 287.1 L142.1 287.1 L142.6 287.1 L143.1 287.2 L143.6 287.2 L144.1 287.3 L144.6 287.4 L145.1 287.5 L145.6 287.6 L146.1 287.7 L146.6 287.8 L147.1 288.0 L147.6 288.1 L148.1 288.2 L148.6 288.4 L149.1 288.6 L149.6 288.7 L150.1 288.9 L150.6 289.1 L151.1 289.2 L151.6 289.4 L152.1 289.5 L152.6 289.7 L153.1 289.8 L153.6 289.9 L154.1 290.1 L154.6 290.2 L155.1 290.3 L155.6 290.4 L156.1 290.5 L156.6 290.6 L157.1 290.7 L157.6 290.8 L158.1 290.9 L158.6 290.9 L159.1 291.0 L159.6 291.1 L160.1 291.2 L160.6 291.2 L161.1 291.3 L161.6 291.4 L162.1 291.5 L162.6 291.6 L163.1 291.7 L163.6 291.8 L164.1 291.9 L164.6 292.0 L165.1 292.1 L165.6 292.3 L166.1 292.5 L166.6 292.6 L167.1 292.8 L167.6 293.0 L168.1 293.3 L168.6 293.5 L169.1 293.7 L169.6 294.0 L170.1 294.3 L170.6 294.5 L171.1 294.8 L171.6 295.1 L172.1 295.4 L172.6 295.7 L173.1 296.0 L173.6 296.3 L174.1 296.7 L174.6 297.0 L175.1 297.2 L175.6 297.5 L176.1 297.8 L176.6 298.1 L177.1 298.3 L177.6 298.6 L178.1 298.8 L178.6 299.0 L179.1 299.2 L179.6 299.4 L180.1 299.6 L180.6 299.8 L181.1 299.9 L181.6 300.1 L182.1 300.2 L182.6 300.4 L183.1 300.5 L183.6 300.6 L184.1 300.8 L184.6 300.9 L185.1 301.0 L185.6 301.2 L186.1 301.3 L186.6 301.5 L187.1 301.6 L187.6 301.8 L188.1 302.0 L188.6 302.2 L189.1 302.4 L189.6 302.7 L190.1 303.0 L190.6 303.2 L191.1 303.5 L191.6 303.9 L192.1 304.2 L192.6 304.6 L193.1 304.9 L193.6 305.3 L194.1 305.7 L194.6 306.1 L195.1 306.5 L195.6 307.0 L196.1 307.4 L196.6 307.8 L197.1 308.2 L197.6 308.6 L198.1 309.0 L198.6 309.4 L199.1 309.7 L199.6 310.1 L200.1 310.4 L200.6 310.7 L201.1 311.0 L201.6 311.3 L202.1 311.6 L202.6 311.8 L203.1 312.1 L203.6 312.3 L204.1 312.5 L204.6 312.7 L205.1 312.9 L205.6 313.0 L206.1 313.2 L206.6 313.3 L207.1 313.5 L207.6 313.6 L208.1 313.7 L208.6 313.9 L209.1 314.0 L209.6 314.1 L210.1 314.2 L210.6 314.4 L211.1 314.5 L211.6 314.7 L212.1 314.9 L212.6 315.0 L213.1 315.2 L213.6 315.5 L214.1 315.7 L214.6 315.9 L215.1 316.2 L215.6 316.5 L216.1 316.7 L216.6 317.1 L217.1 317.4 L217.6 317.7 L218.1 318.0 L218.6 318.4 L219.1 318.7 L219.6 319.1 L220.1 319.5 L220.6 319.8 L221.1 320.2 L221.6 320.6 L222.1 320.9 L222.6 321.3 L223.1 321.6 L223.6 322.0 L224.1 322.3 L224.6 322.6 L225.1 322.9 L225.6 323.2 L226.1 323.5 L226.6 323.7 L227.1 324.0 L227.6 324.2 L228.1 324.4 L228.6 324.6 L229.1 324.8 L229.6 325.0 L230.1 325.1 L230.6 325.3 L231.1 325.4 L231.6 325.5 L232.1 325.7 L232.6 325.8 L233.1 325.9 L233.6 326.0 L234.1 326.2 L234.6 326.3 L235.1 326.4 L235.6 326.6 L236.1 326.8 L236.6 326.9 L237.1 327.1 L237.6 327.3 L238.1 327.5 L238.6 327.8 L239.1 328.0 L239.6 328.3 L240.1 328.6 L240.6 328.9 L241.1 329.2 L241.6 329.5 L242.1 329.8 L242.6 330.2 L243.1 330.5 L243.6 330.9 L244.1 331.2 L244.6 331.6 L245.1 332.0 L245.6 332.3 L246.1 332.7 L246.6 333.0 L247.1 333.4 L247.6 333.7 L248.1 334.0 L248.6 334.3 L249.1 334.6 L249.6 334.9 L250.1 335.1 L250.6 335.4 L251.1 335.6 L251.6 335.9 L252.1 336.1 L252.6 336.3 L253.1 336.4 L253.6 336.6 L254.1 336.8 L254.6 336.9 L255.1 337.0 L255.6 337.2 L256.1 337.3 L256.6 337.4 L257.1 337.5 L257.6 337.6 L258.1 337.8 L258.6 337.9 L259.1 338.0 L259.6 338.2 L260.1 338.3 L260.6 338.5 L261.1 338.6 L261.6 338.8 L262.1 339.0 L262.6 339.2 L263.1 339.5 L263.6 339.7 L264.1 340.0 L264.6 340.2 L265.1 340.5 L265.6 340.8 L266.1 341.1 L266.6 341.4 L267.1 341.7 L267.6 342.0 L268.1 342.4 L268.6 342.7 L269.1 343.0 L269.6 343.3 L270.1 343.6 L270.6 343.9 L271.1 344.2 L271.6 344.5 L272.1 344.8 L272.6 345.0 L273.1 345.3 L273.6 345.5 L274.1 345.7 L274.6 345.9 L275.1 346.1 L275.6 346.3 L276.1 346.4 L276.6 346.6 L277.1 346.7 L277.6 346.9 L278.1 347.0 L278.6 347.1 L279.1 347.2 L279.6 347.3 L280.1 347.4 L280.6 347.5 L281.1 347.6 L281.6 347.7 L282.1 347.7 L282.6 347.8 L283.1 347.9 L283.6 348.0 L284.1 348.1 L284.6 348.2 L285.1 348.4 L285.6 348.5 L286.1 348.6 L286.6 348.8 L287.1 348.9 L287.6 349.1 L288.1 349.3 L288.6 349.5 L289.1 349.7 L289.6 349.9 L290.1 350.1 L290.6 350.3 L291.1 350.5 L291.6 350.7 L292.1 350.9 L292.6 351.2 L293.1 351.4 L293.6 351.6 L294.1 351.8 L294.6 352.0 L295.1 352.2 L295.6 352.4 L296.1 352.6 L296.6 352.8 L297.1 353.0 L297.6 353.1 L298.1 353.3 L298.6 353.4 L299.1 353.6 L299.6 353.7 L300.1 353.8 L300.6 353.9 L301.1 354.0 L301.6 354.1 L302.1 354.2 L302.6 354.3 L303.1 354.4 L303.6 354.4 L304.1 354.5 L304.6 354.6 L305.1 354.6 L305.6 354.7 L306.1 354.7 L306.6 354.8 L307.1 354.9 L307.6 354.9 L308.1 355.0 L308.6 355.1 L309.1 355.2 L309.6 355.2 L310.1 355.3 L310.6 355.4 L311.1 355.5 L311.6 355.6 L312.1 355.8 L312.6 355.9 L313.1 356.0 L313.6 356.1 L314.1 356.3 L314.6 356.4 L315.1 356.6 L315.6 356.7 L316.1 356.9 L316.6 357.0 L317.1 357.2 L317.6 357.3 L318.1 357.4 L318.6 357.6 L319.1 357.7 L319.6 357.9 L320.1 358.0 L320.6 358.1 L321.1 358.2 L321.6 358.3 L322.1 358.4 L322.6 358.5 L323.1 358.6 L323.6 358.7 L324.1 358.7 L324.6 358.8 L325.1 358.9 L325.6 358.9 L326.1 359.0 L326.6 359.0 L327.1 359.1 L327.6 359.1 L328.1 359.2 L328.6 359.2 L329.1 359.2 L329.6 359.3 L330.1 359.3 L330.6 359.4 L331.1 359.4 L331.6 359.4 L332.1 359.5 L332.6 359.5 L333.1 359.6 L333.6 359.6 L334.1 359.7 L334.6 359.7 L335.1 359.8 L335.6 359.8 L336.1 359.9 L336.6 360.0 L337.1 360.0 L337.6 360.1 L338.1 360.2 L338.6 360.3 L339.1 360.4 L339.6 360.4 L340.1 360.5 L340.6 360.6 L341.1 360.7 L341.6 360.8 L342.1 360.9 L342.6 361.0 L343.1 361.0 L343.6 361.1 L344.1 361.2 L344.6 361.3 L345.1 361.3 L345.6 361.4 L346.1 361.5 L346.6 361.5 L347.1 361.6 L347.6 361.6 L348.1 361.7 L348.6 361.7 L349.1 361.8 L349.6 361.8 L350.1 361.8 L350.6 361.9 L351.1 361.9 L351.6 361.9 L352.1 361.9 L352.6 362.0 L353.1 362.0 L353.6 362.0 L354.1 362.0 L354.6 362.0 L355.1 362.1 L355.6 362.1 L356.1 362.1 L356.6 362.1 L357.1 362.2 L357.6 362.2 L358.1 362.2 L358.6 362.3 L359.1 362.3 L359.6 362.3 L360.1 362.4 L360.6 362.4 L361.1 362.4 L361.6 362.5 L362.1 362.5 L362.6 362.6 L363.1 362.6 L363.6 362.7 L364.1 362.7 L364.6 362.8 L365.1 362.9 L365.6 362.9 L366.1 363.0 L366.6 363.0 L367.1 363.1 L367.6 363.1 L368.1 363.2 L368.6 363.2 L369.1 363.2 L369.6 363.3 L370.1 363.3 L370.6 363.4 L371.1 363.4 L371.6 363.4 L372.1 363.5 L372.6 363.5 L373.1 363.5 L373.6 363.5 L374.1 363.5 L374.6 363.6 L375.1 363.6 L375.6 363.6 L376.1 363.6 L376.6 363.6 L377.1 363.6 L377.6 363.7 L378.1 363.7 L378.6 363.7 L379.1 363.7 L379.6 363.7 L380.1 363.7 L380.6 363.7 L381.1 363.7 L381.6 363.8 L382.1 363.8 L382.6 363.8 L383.1 363.8 L383.6 363.8 L384.1 363.9 L384.6 363.9 L385.1 363.9 L385.6 363.9 L386.1 364.0 L386.6 364.0 L387.1 364.0 L387.6 364.1 L388.1 364.1 L388.6 364.1 L389.1 364.2 L389.6 364.2 L390.1 364.2 L390.6 364.3 L391.1 364.3 L391.6 364.3 L392.1 364.4 L392.6 364.4 L393.1 364.4 L393.6 364.5 L394.1 364.5 L394.6 364.5 L395.1 364.5 L395.6 364.5 L396.1 364.6 L396.6 364.6 L397.1 364.6 L397.6 364.6 L398.1 364.6 L398.6 364.7 L399.1 364.7 L399.6 364.7 L400.1 364.7 L400.6 364.7 L401.1 364.7 L401.6 364.7 L402.1 364.7 L402.6 364.7 L403.1 364.7 L403.6 364.7 L404.1 364.8 L404.6 364.8 L405.1 364.8 L405.6 364.8 L406.1 364.8 L406.6 364.8 L407.1 364.8 L407.6 364.8 L408.1 364.8 L408.6 364.9 L409.1 364.9 L409.6 364.9 L410.1 364.9 L410.6 364.9 L411.1 365.0 L411.6 365.0 L412.1 365.0 L412.6 365.0 L413.1 365.0 L413.6 365.1 L414.1 365.1 L414.6 365.1 L415.1 365.1 L415.6 365.1 L416.1 365.1 L416.6 365.2 L417.1 365.2 L417.6 365.2 L418.1 365.2 L418.6 365.2 L419.1 365.2 L419.6 365.3 L420.1 365.3 L420.6 365.3 L421.1 365.3 L421.6 365.3 L422.1 365.3 L422.6 365.3 L423.1 365.3 L423.6 365.3 L424.1 365.3 L424.6 365.4 L425.1 365.4 L425.6 365.4 L426.1 365.4 L426.6 365.4 L427.1 365.4 L427.6 365.4 L428.1 365.4 L428.6 365.4 L429.1 365.4 L429.6 365.4 L430.1 365.4 L430.6 365.4 L431.1 365.4 L431.6 365.4 L432.1 365.4 L432.6 365.5 L433.1 365.5 L433.6 365.5 L434.1 365.5 L434.6 365.5 L435.1 365.5 L435.6 365.5 L436.1 365.5 L436.6 365.6 L437.1 365.6 L437.6 365.6 L438.1 365.6 L438.6 365.6 L439.1 365.6 L439.6 365.6 L440.1 365.7 L440.6 365.7 L441.1 365.7 L441.6 365.7 L442.1 365.7 L442.6 365.7 L443.1 365.7 L443.6 365.7 L444.1 365.8 L444.6 365.8 L445.1 365.8 L445.6 365.8 L446.1 365.8 L446.6 365.8 L447.1 365.8 L447.6 365.8 L448.1 365.8 L448.6 365.8 L449.1 365.8 L449.6 365.8 L450.1 365.8 L450.6 365.8 L451.1 365.8 L451.6 365.8 L452.1 365.8 L452.6 365.8 L453.1 365.8 L453.6 365.8 L454.1 365.8 L454.6 365.9 L455.1 365.9 L455.6 365.9 L456.1 365.9 L456.6 365.9 L457.1 365.9 L457.6 365.9 L458.1 365.9 L458.6 365.9 L459.1 365.9 L459.6 365.9 L460.1 365.9 L460.6 365.9 L461.1 365.9 L461.6 366.0 L462.1 366.0 L462.6 366.0 L463.1 366.0 L463.6 366.0 L464.1 366.0 L464.6 366.0 L465.1 366.0 L465.6 366.0 L466.1 366.0 L466.6 366.0 L467.1 366.0 L467.6 366.0 L468.1 366.1 L468.6 366.1 L469.1 366.1 L469.6 366.1 L470.1 366.1 L470.6 366.1 L471.1 366.1 L471.6 366.1 L472.1 366.1 L472.6 366.1 L473.1 366.1 L473.6 366.1 L474.1 366.1 L474.6 366.1 L475.1 366.1 L475.6 366.1 L476.1 366.1 L476.6 366.1 L477.1 366.1 L477.6 366.1 L478.1 366.1 L478.6 366.1 L479.1 366.1 L479.6 366.1 L480.1 366.1 L480.6 366.1 L481.1 366.1 L481.6 366.1 L482.1 366.1 L482.6 366.1 L483.1 366.1 L483.6 366.1 L484.1 366.1 L484.6 366.1 L485.1 366.1 L485.6 366.1 L486.1 366.1 L486.6 366.1 L487.1 366.1 L487.6 366.1 L488.1 366.1 L488.6 366.1 L489.1 366.1 L489.6 366.1 L490.1 366.1 L490.6 366.1 L491.1 366.2 L491.6 366.2 L492.1 366.2 L492.6 366.2 L493.1 366.2 L493.6 366.2 L494.1 366.2 L494.6 366.2 L495.1 366.2 L495.6 366.2 L496.1 366.2 L496.6 366.2 L497.1 366.2 L497.6 366.2 L498.1 366.2 L498.6 366.2 L499.1 366.2 L499.6 366.2 L500.1 366.2 L500.6 366.2 L501.1 366.2 L501.6 366.2 L502.1 366.2 L502.6 366.2 L503.1 366.2 L503.6 366.2 L504.1 366.2 L504.6 366.2 L505.1 366.2 L505.6 366.2 L506.1 366.2 L506.6 366.2 L507.1 366.2 L507.6 366.2 L508.1 366.2 L508.6 366.2 L509.1 366.2 L509.6 366.2 L510.1 366.2 L510.6 366.2 L511.1 366.2 L511.6 366.2 L512.1 366.2 L512.6 366.2 L513.1 366.2 L513.6 366.2 L514.1 366.2 L514.6 366.2 L515.1 366.2 L515.6 366.2 L516.1 366.2 L516.6 366.2 L517.1 366.2 L517.6 366.2 L518.1 366.2 L518.6 366.2 L519.1 366.2 L519.6 366.2 L520.1 366.2 L520.6 366.2 L521.1 366.2 L521.6 366.2 L522.1 366.2 L522.6 366.2 L523.1 366.2 L523.6 366.2 L524.1 366.2 L524.6 366.2 L525.1 366.2 L525.6 366.2 L526.1 366.2 L526.6 366.2 L527.1 366.2 L527.6 366.2 L528.1 366.2 L528.6 366.2 L529.1 366.2 L529.6 366.2 L530.1 366.2 L530.6 366.2 L531.1 366.2 L531.6 366.2 L532.1 366.2 L532.6 366.2 L533.1 366.2 L533.6 366.2 L534.1 366.2 L534.6 366.2 L535.1 366.2 L535.6 366.2 L536.1 366.2 L536.6 366.2 L537.1 366.2 L537.6 366.2 L538.1 366.2 L538.6 366.2 L539.1 366.2 L539.6 366.2 L540.1 366.2 L540.6 366.2 L541.1 366.2 L541.6 366.2 L542.1 366.2 L542.6 366.2 L543.1 366.2 L543.6 366.2 L544.1 366.2 L544.6 366.2 L545.1 366.2 L545.6 366.2 L546.1 366.2 L546.6 366.2 L547.1 366.2 L547.6 366.2 L548.1 366.2 L548.6 366.2 L549.1 366.2 L549.6 366.2 L550.1 366.2 L550.6 366.2 L551.1 366.2 L551.6 366.2 L552.1 366.2 L552.6 366.2 L553.1 366.2 L553.6 366.2 L554.1 366.2 L554.6 366.2 L555.1 366.2 L555.6 366.2 L556.1 366.2 L556.6 366.2 L557.1 366.2 L557.6 366.2 L558.1 366.2 L558.6 366.2 L559.1 366.2 L559.6 366.2 L560.1 366.2 L560.6 366.2 L561.1 366.2 L561.6 366.2 L562.1 366.2 L562.6 366.2 L563.1 366.2 L563.6 366.2 L564.1 366.2 L564.6 366.2 L565.1 366.2 L565.6 366.2 L566.1 366.2 L566.6 366.2 L567.1 366.2 L567.6 366.2 L568.1 366.3 L568.6 366.3 L569.1 366.3 L569.6 366.3 L570.1 366.3 L570.6 366.3 L571.1 366.3 L571.6 366.3 L572.1 366.3 L572.6 366.3 L573.1 366.3 L573.6 366.3 L574.1 366.3 L574.6 366.3 L575.1 366.3 L575.6 366.3 L576.1 366.3 L576.6 366.3 L577.1 366.3 L577.6 366.3 L578.1 366.3 L578.6 366.3 L579.1 366.3 L579.6 366.3 L580.1 366.3 L580.6 366.3 L581.1 366.3 L581.6 366.3 L582.1 366.3 L582.6 366.3 L583.1 366.3 L583.6 366.3 L584.1 366.3 L584.6 366.3 L585.1 366.3 L585.6 366.3 L586.1 366.3 L586.6 366.3 L587.1 366.3 L587.6 366.3 L588.1 366.3 L588.6 366.3 L589.1 366.3 L589.6 366.3 L590.1 366.3 L590.6 366.3 L591.1 366.3 L591.6 366.3 L592.1 366.3 L592.6 366.3 L593.1 366.3 L593.6 366.3 L594.1 366.3 L594.6 366.3 L595.1 366.3 L595.6 366.3 L596.1 366.3 L596.6 366.3 L597.1 366.3 L597.6 366.3 L598.1 366.3 L598.6 366.3 L599.1 366.3 L599.6 366.3 L600.1 366.3 L600.6 366.3 L601.1 366.3 L601.6 366.3 L602.1 366.3 L602.6 366.3 L603.1 366.3 L603.6 366.3 L604.1 366.3 L604.6 366.3 L605.1 366.3 L605.6 366.3 L606.1 366.3 L606.6 366.3 L607.1 366.3 L607.6 366.3 L608.1 366.3 L608.6 366.3 L609.1 366.3 L609.6 366.3 L610.1 366.3 L610.6 366.3 L611.1 366.3 L611.6 366.3 L612.1 366.3 L612.6 366.3 L613.1 366.3 L613.6 366.3 L614.1 366.3 L614.6 366.3 L615.1 366.3 L615.6 366.3 L616.1 366.3 L616.6 366.3 L617.1 366.3 L617.6 366.3 L618.1 366.3 L618.6 366.3 L619.1 366.3 L619.6 366.3 L620.1 366.3 L620.6 366.3 L621.1 366.3 L621.6 366.3 L622.1 366.3 L622.6 366.3 L623.1 366.3 L623.6 366.3 L624.1 366.3 L624.6 366.3 L625.1 366.3 L625.6 366.3 L626.1 366.3 L626.6 366.3 L627.1 366.3 L627.6 366.3 L628.1 366.3 L628.6 366.3 L629.1 366.3 L629.6 366.3 L630.1 366.3 L630.6 366.3 L631.1 366.3 L631.6 366.3 L632.1 366.3 L632.6 366.3 L633.1 366.3 L633.6 366.3 L634.1 366.3 L634.6 366.3 L635.1 366.3 L635.6 366.3 L636.1 366.3 L636.6 366.3 L637.1 366.3 L637.6 366.3 L638.1 366.3 L638.6 366.3 L639.1 366.3 L639.6 366.3 L640.1 366.3 L640.6 366.3 L641.1 366.3 L641.6 366.3 L642.1 366.3 L642.6 366.3 L643.1 366.3 L643.6 366.3 L644.1 366.3 L644.6 366.3 L645.1 366.3 L645.6 366.3 L646.1 366.3 L646.6 366.3 L647.1 366.3 L647.6 366.3 L648.1 366.3 L648.6 366.3 L649.1 366.3 L649.6 366.3 L650.1 366.3 L650.6 366.3 L651.1 366.3 L651.6 366.3 L652.1 366.3 L652.6 366.3 L653.1 366.3 L653.6 366.3 L654.1 366.3 L654.6 366.3 L655.1 366.3 L655.6 366.3 L656.1 366.3 L656.6 366.3 L657.1 366.3 L657.6 366.3 L658.1 366.3 L658.6 366.3 L659.1 366.3 L659.6 366.3 L660.1 366.3 L660.6 366.3 L661.1 366.3 L661.6 366.3 L662.1 366.3 L662.6 366.3 L663.1 366.3 L663.6 366.3 L664.1 366.3 L664.6 366.3 L665.1 366.3 L665.6 366.3 L666.1 366.3 L666.6 366.3 L667.1 366.3 L667.6 366.3 L668.1 366.4 L668.6 366.4 L669.1 366.4 L669.6 366.4 L670.1 366.4 L670.6 366.4 L671.1 366.4 L671.6 366.4 L672.1 366.4 L672.6 366.4 L673.1 366.4 L673.6 366.4 L674.1 366.4 L674.6 366.4 L675.1 366.4 L675.6 366.4 L676.1 366.4 L676.6 366.4 L677.1 366.4 L677.6 366.4 L678.1 366.4 L678.6 366.4 L679.1 366.4 L679.6 366.4 L680.1 366.4 L680.6 366.4 L681.1 366.4 L681.6 366.4 L682.1 366.4 L682.6 366.4 L683.1 366.4 L683.6 366.4 L684.1 366.4 L684.6 366.4 L685.1 366.4 L685.6 366.4 L686.1 366.4 L686.6 366.4 L687.1 366.4 L687.6 366.4 L688.1 366.4 L688.6 366.4 L689.1 366.4 L689.6 366.4 L690.1 366.4 L690.6 366.4 L691.1 366.4 L691.6 366.4 L692.1 366.4 L692.6 366.4 L693.1 366.4 L693.6 366.4 L694.1 366.4 L694.6 366.4 L695.1 366.4 L695.6 366.4 L696.1 366.4 L696.6 366.4 L697.1 366.4 L697.6 366.4 L698.1 366.4 L698.6 366.4 L699.1 366.4 L699.6 366.4 L700.1 366.4 L700.6 366.4 L701.1 366.4 L701.6 366.4 L702.1 366.4 L702.6 366.4 L703.1 366.4 L703.6 366.4 L704.1 366.4 L704.6 366.4 L705.1 366.4 L705.6 366.4 L706.1 366.4 L706.6 366.4 L707.1 366.4 L707.6 366.4 L708.1 366.4 L708.6 366.4 L709.1 366.4 L709.6 366.4 L710.1 366.4 L710.6 366.4 L711.1 366.4 L711.6 366.4 L712.1 366.4 L712.6 366.4 L713.1 366.4 L713.6 366.4 L714.1 366.4 L714.6 366.4 L715.1 366.4 L715.6 366.4 L716.1 366.4 L716.6 366.4 L717.1 366.4 L717.6 366.4 L718.1 366.4 L718.6 366.4 L719.1 366.4 L719.6 366.4 L720.1 366.4 L720.6 366.4 L721.1 366.4 L721.6 366.4 L722.1 366.4 L722.6 366.4 L723.1 366.4 L723.6 366.4 L724.1 366.4 L724.6 366.4 L725.1 366.4 L725.6 366.4 L726.1 366.4 L726.6 366.4 L727.1 366.4 L727.6 366.4 L728.1 366.4 L728.6 366.4 L729.1 366.4 L729.6 366.4 L730.1 366.4 L730.6 366.4 L731.1 366.4 L731.6 366.4 L732.1 366.4 L732.6 366.4 L733.1 366.4 L733.6 366.4 L734.1 366.4 L734.6 366.4 L735.1 366.4 L735.6 366.4 L736.1 366.4 L736.6 366.4 L737.1 366.4 L737.6 366.4 L738.1 366.4 L738.6 366.4 L739.1 366.4 L739.6 366.4 L740.1 366.4 L740.6 366.4 L741.1 366.4 L741.6 366.4 L742.1 366.4 L742.6 366.4 L743.1 366.4 L743.6 366.4 L744.1 366.4 L744.6 366.4 L745.1 366.4 L745.6 366.4 L746.1 366.4 L746.6 366.4 L747.1 366.4 L747.6 366.4 L748.1 366.4 L748.6 366.4 L749.1 366.4 L749.6 366.4 L750.1 366.4 L750.6 366.4 L751.1 366.4 L751.6 366.4 L752.1 366.4 L752.6 366.4 L753.1 366.4 L753.6 366.4 L754.1 366.4 L754.6 366.4 L755.1 366.4 L755.6 366.4 L756.1 366.4 L756.6 366.4 L757.1 366.4 L757.6 366.4 L758.1 366.4 L758.6 366.4 L759.1 366.4 L759.6 366.4 L760.1 366.4 L760.6 366.4 L761.1 366.4 L761.6 366.4 L762.1 366.4 L762.6 366.4 L763.1 366.4 L763.6 366.4 L764.1 366.4 L764.6 366.4 L765.1 366.4 L765.6 366.4 L766.1 366.4 L766.6 366.4 L767.1 366.4 L767.6 366.4 L768.1 366.4 L768.6 366.4 L769.1 366.4 L769.6 366.4 L770.1 366.4 L770.6 366.4 L771.1 366.4 L771.6 366.4 L772.1 366.4 L772.6 366.4 L773.1 366.4 L773.6 366.4 L774.1 366.4 L774.6 366.4 L775.1 366.4 L775.6 366.4 L776.1 366.4 L776.6 366.4 L777.1 366.4 L777.6 366.4 L778.1 366.4 L778.6 366.4 L779.1 366.4 L779.6 366.4 L780.1 366.4 L780.6 366.4 L781.1 366.4 L781.6 366.4 L782.1 366.4 L782.6 366.4 L783.1 366.4 L783.6 366.4 L784.1 366.4 L784.6 366.4 L785.1 366.4 L785.6 366.4 L786.1 366.4 L786.6 366.4 L787.1 366.4 L787.6 366.4 L788.1 366.4 L788.6 366.4 L789.1 366.4 L789.6 366.4 L790.1 366.4 L790.6 366.4 L791.1 366.4 L791.6 366.4 L792.1 366.4 L792.6 366.4 L793.1 366.4 L793.6 366.4 L794.1 366.4 L794.6 366.4 L795.1 366.4 L795.6 366.4 L796.1 366.4 L796.6 366.4 L797.1 366.4 L797.6 366.4 L798.1 366.4 L798.1 371.4 L797.6 371.4 L797.1 371.4 L796.6 371.4 L796.1 371.4 L795.6 371.4 L795.1 371.4 L794.6 371.4 L794.1 371.4 L793.6 371.4 L793.1 371.4 L792.6 371.4 L792.1 371.4 L791.6 371.4 L791.1 371.4 L790.6 371.4 L790.1 371.4 L789.6 371.4 L789.1 371.4 L788.6 371.4 L788.1 371.4 L787.6 371.4 L787.1 371.4 L786.6 371.4 L786.1 371.4 L785.6 371.4 L785.1 371.4 L784.6 371.4 L784.1 371.4 L783.6 371.4 L783.1 371.4 L782.6 371.4 L782.1 371.4 L781.6 371.4 L781.1 371.4 L780.6 371.4 L780.1 371.4 L779.6 371.4 L779.1 371.4 L778.6 371.4 L778.1 371.4 L777.6 371.4 L777.1 371.4 L776.6 371.4 L776.1 371.4 L775.6 371.4 L775.1 371.4 L774.6 371.4 L774.1 371.4 L773.6 371.4 L773.1 371.4 L772.6 371.4 L772.1 371.4 L771.6 371.4 L771.1 371.4 L770.6 371.4 L770.1 371.4 L769.6 371.4 L769.1 371.4 L768.6 371.4 L768.1 371.4 L767.6 371.4 L767.1 371.4 L766.6 371.4 L766.1 371.4 L765.6 371.4 L765.1 371.4 L764.6 371.4 L764.1 371.4 L763.6 371.4 L763.1 371.4 L762.6 371.4 L762.1 371.4 L761.6 371.4 L761.1 371.4 L760.6 371.4 L760.1 371.4 L759.6 371.4 L759.1 371.4 L758.6 371.4 L758.1 371.4 L757.6 371.4 L757.1 371.4 L756.6 371.4 L756.1 371.4 L755.6 371.4 L755.1 371.4 L754.6 371.4 L754.1 371.4 L753.6 371.4 L753.1 371.4 L752.6 371.4 L752.1 371.4 L751.6 371.4 L751.1 371.4 L750.6 371.4 L750.1 371.4 L749.6 371.4 L749.1 371.4 L748.6 371.4 L748.1 371.4 L747.6 371.4 L747.1 371.4 L746.6 371.4 L746.1 371.4 L745.6 371.4 L745.1 371.4 L744.6 371.4 L744.1 371.4 L743.6 371.4 L743.1 371.4 L742.6 371.4 L742.1 371.4 L741.6 371.4 L741.1 371.4 L740.6 371.4 L740.1 371.4 L739.6 371.4 L739.1 371.4 L738.6 371.4 L738.1 371.4 L737.6 371.4 L737.1 371.4 L736.6 371.4 L736.1 371.4 L735.6 371.4 L735.1 371.4 L734.6 371.4 L734.1 371.4 L733.6 371.4 L733.1 371.4 L732.6 371.4 L732.1 371.4 L731.6 371.4 L731.1 371.4 L730.6 371.4 L730.1 371.4 L729.6 371.4 L729.1 371.4 L728.6 371.4 L728.1 371.4 L727.6 371.4 L727.1 371.4 L726.6 371.4 L726.1 371.4 L725.6 371.4 L725.1 371.4 L724.6 371.4 L724.1 371.4 L723.6 371.4 L723.1 371.4 L722.6 371.4 L722.1 371.4 L721.6 371.4 L721.1 371.4 L720.6 371.4 L720.1 371.4 L719.6 371.4 L719.1 371.4 L718.6 371.4 L718.1 371.4 L717.6 371.4 L717.1 371.4 L716.6 371.4 L716.1 371.4 L715.6 371.4 L715.1 371.4 L714.6 371.4 L714.1 371.4 L713.6 371.4 L713.1 371.4 L712.6 371.4 L712.1 371.4 L711.6 371.4 L711.1 371.4 L710.6 371.4 L710.1 371.4 L709.6 371.4 L709.1 371.4 L708.6 371.4 L708.1 371.4 L707.6 371.4 L707.1 371.4 L706.6 371.4 L706.1 371.4 L705.6 371.4 L705.1 371.4 L704.6 371.4 L704.1 371.4 L703.6 371.4 L703.1 371.4 L702.6 371.4 L702.1 371.4 L701.6 371.4 L701.1 371.4 L700.6 371.4 L700.1 371.4 L699.6 371.4 L699.1 371.4 L698.6 371.4 L698.1 371.4 L697.6 371.4 L697.1 371.4 L696.6 371.4 L696.1 371.4 L695.6 371.4 L695.1 371.4 L694.6 371.4 L694.1 371.4 L693.6 371.4 L693.1 371.4 L692.6 371.4 L692.1 371.4 L691.6 371.4 L691.1 371.4 L690.6 371.4 L690.1 371.4 L689.6 371.4 L689.1 371.4 L688.6 371.4 L688.1 371.4 L687.6 371.4 L687.1 371.4 L686.6 371.4 L686.1 371.4 L685.6 371.4 L685.1 371.4 L684.6 371.4 L684.1 371.4 L683.6 371.4 L683.1 371.4 L682.6 371.4 L682.1 371.4 L681.6 371.4 L681.1 371.4 L680.6 371.4 L680.1 371.4 L679.6 371.4 L679.1 371.4 L678.6 371.4 L678.1 371.4 L677.6 371.4 L677.1 371.4 L676.6 371.4 L676.1 371.4 L675.6 371.4 L675.1 371.4 L674.6 371.4 L674.1 371.4 L673.6 371.4 L673.1 371.4 L672.6 371.4 L672.1 371.4 L671.6 371.4 L671.1 371.4 L670.6 371.4 L670.1 371.4 L669.6 371.4 L669.1 371.4 L668.6 371.4 L668.1 371.4 L667.6 371.3 L667.1 371.3 L666.6 371.3 L666.1 371.3 L665.6 371.3 L665.1 371.3 L664.6 371.3 L664.1 371.3 L663.6 371.3 L663.1 371.3 L662.6 371.3 L662.1 371.3 L661.6 371.3 L661.1 371.3 L660.6 371.3 L660.1 371.3 L659.6 371.3 L659.1 371.3 L658.6 371.3 L658.1 371.3 L657.6 371.3 L657.1 371.3 L656.6 371.3 L656.1 371.3 L655.6 371.3 L655.1 371.3 L654.6 371.3 L654.1 371.3 L653.6 371.3 L653.1 371.3 L652.6 371.3 L652.1 371.3 L651.6 371.3 L651.1 371.3 L650.6 371.3 L650.1 371.3 L649.6 371.3 L649.1 371.3 L648.6 371.3 L648.1 371.3 L647.6 371.3 L647.1 371.3 L646.6 371.3 L646.1 371.3 L645.6 371.3 L645.1 371.3 L644.6 371.3 L644.1 371.3 L643.6 371.3 L643.1 371.3 L642.6 371.3 L642.1 371.3 L641.6 371.3 L641.1 371.3 L640.6 371.3 L640.1 371.3 L639.6 371.3 L639.1 371.3 L638.6 371.3 L638.1 371.3 L637.6 371.3 L637.1 371.3 L636.6 371.3 L636.1 371.3 L635.6 371.3 L635.1 371.3 L634.6 371.3 L634.1 371.3 L633.6 371.3 L633.1 371.3 L632.6 371.3 L632.1 371.3 L631.6 371.3 L631.1 371.3 L630.6 371.3 L630.1 371.3 L629.6 371.3 L629.1 371.3 L628.6 371.3 L628.1 371.3 L627.6 371.3 L627.1 371.3 L626.6 371.3 L626.1 371.3 L625.6 371.3 L625.1 371.3 L624.6 371.3 L624.1 371.3 L623.6 371.3 L623.1 371.3 L622.6 371.3 L622.1 371.3 L621.6 371.3 L621.1 371.3 L620.6 371.3 L620.1 371.3 L619.6 371.3 L619.1 371.3 L618.6 371.3 L618.1 371.3 L617.6 371.3 L617.1 371.3 L616.6 371.3 L616.1 371.3 L615.6 371.3 L615.1 371.3 L614.6 371.3 L614.1 371.3 L613.6 371.3 L613.1 371.3 L612.6 371.3 L612.1 371.3 L611.6 371.3 L611.1 371.3 L610.6 371.3 L610.1 371.3 L609.6 371.3 L609.1 371.3 L608.6 371.3 L608.1 371.3 L607.6 371.3 L607.1 371.3 L606.6 371.3 L606.1 371.3 L605.6 371.3 L605.1 371.3 L604.6 371.3 L604.1 371.3 L603.6 371.3 L603.1 371.3 L602.6 371.3 L602.1 371.3 L601.6 371.3 L601.1 371.3 L600.6 371.3 L600.1 371.3 L599.6 371.3 L599.1 371.3 L598.6 371.3 L598.1 371.3 L597.6 371.3 L597.1 371.3 L596.6 371.3 L596.1 371.3 L595.6 371.3 L595.1 371.3 L594.6 371.3 L594.1 371.3 L593.6 371.3 L593.1 371.3 L592.6 371.3 L592.1 371.3 L591.6 371.3 L591.1 371.3 L590.6 371.3 L590.1 371.3 L589.6 371.3 L589.1 371.3 L588.6 371.3 L588.1 371.3 L587.6 371.3 L587.1 371.3 L586.6 371.3 L586.1 371.3 L585.6 371.3 L585.1 371.3 L584.6 371.3 L584.1 371.3 L583.6 371.3 L583.1 371.3 L582.6 371.3 L582.1 371.3 L581.6 371.3 L581.1 371.3 L580.6 371.3 L580.1 371.3 L579.6 371.3 L579.1 371.3 L578.6 371.3 L578.1 371.3 L577.6 371.3 L577.1 371.3 L576.6 371.3 L576.1 371.3 L575.6 371.3 L575.1 371.3 L574.6 371.3 L574.1 371.3 L573.6 371.3 L573.1 371.3 L572.6 371.3 L572.1 371.3 L571.6 371.3 L571.1 371.3 L570.6 371.3 L570.1 371.3 L569.6 371.3 L569.1 371.3 L568.6 371.3 L568.1 371.3 L567.6 371.2 L567.1 371.2 L566.6 371.2 L566.1 371.2 L565.6 371.2 L565.1 371.2 L564.6 371.2 L564.1 371.2 L563.6 371.2 L563.1 371.2 L562.6 371.2 L562.1 371.2 L561.6 371.2 L561.1 371.2 L560.6 371.2 L560.1 371.2 L559.6 371.2 L559.1 371.2 L558.6 371.2 L558.1 371.2 L557.6 371.2 L557.1 371.2 L556.6 371.2 L556.1 371.2 L555.6 371.2 L555.1 371.2 L554.6 371.2 L554.1 371.2 L553.6 371.2 L553.1 371.2 L552.6 371.2 L552.1 371.2 L551.6 371.2 L551.1 371.2 L550.6 371.2 L550.1 371.2 L549.6 371.2 L549.1 371.2 L548.6 371.2 L548.1 371.2 L547.6 371.2 L547.1 371.2 L546.6 371.2 L546.1 371.2 L545.6 371.2 L545.1 371.2 L544.6 371.2 L544.1 371.2 L543.6 371.2 L543.1 371.2 L542.6 371.2 L542.1 371.2 L541.6 371.2 L541.1 371.2 L540.6 371.2 L540.1 371.2 L539.6 371.2 L539.1 371.2 L538.6 371.2 L538.1 371.2 L537.6 371.2 L537.1 371.2 L536.6 371.2 L536.1 371.2 L535.6 371.2 L535.1 371.2 L534.6 371.2 L534.1 371.2 L533.6 371.2 L533.1 371.2 L532.6 371.2 L532.1 371.1 L531.6 371.1 L531.1 371.1 L530.6 371.1 L530.1 371.1 L529.6 371.1 L529.1 371.1 L528.6 371.1 L528.1 371.1 L527.6 371.1 L527.1 371.1 L526.6 371.1 L526.1 371.1 L525.6 371.1 L525.1 371.1 L524.6 371.1 L524.1 371.1 L523.6 371.1 L523.1 371.1 L522.6 371.1 L522.1 371.1 L521.6 371.1 L521.1 371.1 L520.6 371.1 L520.1 371.1 L519.6 371.1 L519.1 371.1 L518.6 371.1 L518.1 371.1 L517.6 371.0 L517.1 371.0 L516.6 371.0 L516.1 371.0 L515.6 371.0 L515.1 371.0 L514.6 371.0 L514.1 371.0 L513.6 371.0 L513.1 371.0 L512.6 371.0 L512.1 371.0 L511.6 371.0 L511.1 371.0 L510.6 371.0 L510.1 371.0 L509.6 371.0 L509.1 371.0 L508.6 371.0 L508.1 370.9 L507.6 370.9 L507.1 370.9 L506.6 370.9 L506.1 370.9 L505.6 370.9 L505.1 370.9 L504.6 370.9 L504.1 370.9 L503.6 370.9 L503.1 370.9 L502.6 370.9 L502.1 370.9 L501.6 370.9 L501.1 370.9 L500.6 370.9 L500.1 370.9 L499.6 370.9 L499.1 370.9 L498.6 370.9 L498.1 370.9 L497.6 370.9 L497.1 370.9 L496.6 370.9 L496.1 370.8 L495.6 370.8 L495.1 370.8 L494.6 370.8 L494.1 370.8 L493.6 370.8 L493.1 370.8 L492.6 370.8 L492.1 370.8 L491.6 370.8 L491.1 370.8 L490.6 370.8 L490.1 370.8 L489.6 370.8 L489.1 370.8 L488.6 370.8 L488.1 370.8 L487.6 370.8 L487.1 370.7 L486.6 370.7 L486.1 370.7 L485.6 370.7 L485.1 370.7 L484.6 370.7 L484.1 370.7 L483.6 370.7 L483.1 370.7 L482.6 370.7 L482.1 370.7 L481.6 370.7 L481.1 370.7 L480.6 370.7 L480.1 370.7 L479.6 370.7 L479.1 370.6 L478.6 370.6 L478.1 370.6 L477.6 370.6 L477.1 370.6 L476.6 370.6 L476.1 370.6 L475.6 370.6 L475.1 370.6 L474.6 370.6 L474.1 370.6 L473.6 370.6 L473.1 370.6 L472.6 370.6 L472.1 370.6 L471.6 370.6 L471.1 370.6 L470.6 370.6 L470.1 370.6 L469.6 370.6 L469.1 370.5 L468.6 370.5 L468.1 370.5 L467.6 370.5 L467.1 370.5 L466.6 370.5 L466.1 370.5 L465.6 370.5 L465.1 370.5 L464.6 370.5 L464.1 370.5 L463.6 370.4 L463.1 370.4 L462.6 370.4 L462.1 370.4 L461.6 370.4 L461.1 370.4 L460.6 370.4 L460.1 370.4 L459.6 370.3 L459.1 370.3 L458.6 370.3 L458.1 370.3 L457.6 370.3 L457.1 370.3 L456.6 370.3 L456.1 370.3 L455.6 370.3 L455.1 370.2 L454.6 370.2 L454.1 370.2 L453.6 370.2 L453.1 370.2 L452.6 370.2 L452.1 370.2 L451.6 370.2 L451.1 370.2 L450.6 370.2 L450.1 370.2 L449.6 370.2 L449.1 370.2 L448.6 370.2 L448.1 370.1 L447.6 370.1 L447.1 370.1 L446.6 370.1 L446.1 370.1 L445.6 370.1 L445.1 370.1 L444.6 370.1 L444.1 370.1 L443.6 370.0 L443.1 370.0 L442.6 370.0 L442.1 370.0 L441.6 370.0 L441.1 370.0 L440.6 369.9 L440.1 369.9 L439.6 369.9 L439.1 369.9 L438.6 369.9 L438.1 369.9 L437.6 369.8 L437.1 369.8 L436.6 369.8 L436.1 369.8 L435.6 369.8 L435.1 369.8 L434.6 369.7 L434.1 369.7 L433.6 369.7 L433.1 369.7 L432.6 369.7 L432.1 369.7 L431.6 369.6 L431.1 369.6 L430.6 369.6 L430.1 369.6 L429.6 369.6 L429.1 369.6 L428.6 369.6 L428.1 369.6 L427.6 369.6 L427.1 369.6 L426.6 369.6 L426.1 369.5 L425.6 369.5 L425.1 369.5 L424.6 369.5 L424.1 369.5 L423.6 369.5 L423.1 369.5 L422.6 369.5 L422.1 369.5 L421.6 369.4 L421.1 369.4 L420.6 369.4 L420.1 369.4 L419.6 369.4 L419.1 369.4 L418.6 369.4 L418.1 369.3 L417.6 369.3 L417.1 369.3 L416.6 369.3 L416.1 369.2 L415.6 369.2 L415.1 369.2 L414.6 369.2 L414.1 369.2 L413.6 369.1 L413.1 369.1 L412.6 369.1 L412.1 369.1 L411.6 369.0 L411.1 369.0 L410.6 369.0 L410.1 369.0 L409.6 368.9 L409.1 368.9 L408.6 368.9 L408.1 368.9 L407.6 368.9 L407.1 368.9 L406.6 368.8 L406.1 368.8 L405.6 368.8 L405.1 368.8 L404.6 368.8 L404.1 368.8 L403.6 368.8 L403.1 368.7 L402.6 368.7 L402.1 368.7 L401.6 368.7 L401.1 368.7 L400.6 368.7 L400.1 368.7 L399.6 368.6 L399.1 368.6 L398.6 368.6 L398.1 368.6 L397.6 368.6 L397.1 368.6 L396.6 368.5 L396.1 368.5 L395.6 368.5 L395.1 368.5 L394.6 368.4 L394.1 368.4 L393.6 368.4 L393.1 368.3 L392.6 368.3 L392.1 368.3 L391.6 368.2 L391.1 368.2 L390.6 368.2 L390.1 368.1 L389.6 368.1 L389.1 368.0 L388.6 368.0 L388.1 368.0 L387.6 367.9 L387.1 367.9 L386.6 367.9 L386.1 367.8 L385.6 367.8 L385.1 367.8 L384.6 367.7 L384.1 367.7 L383.6 367.7 L383.1 367.7 L382.6 367.6 L382.1 367.6 L381.6 367.6 L381.1 367.6 L380.6 367.5 L380.1 367.5 L379.6 367.5 L379.1 367.5 L378.6 367.5 L378.1 367.5 L377.6 367.4 L377.1 367.4 L376.6 367.4 L376.1 367.4 L375.6 367.4 L375.1 367.4 L374.6 367.3 L374.1 367.3 L373.6 367.3 L373.1 367.3 L372.6 367.2 L372.1 367.2 L371.6 367.2 L371.1 367.1 L370.6 367.1 L370.1 367.1 L369.6 367.0 L369.1 367.0 L368.6 366.9 L368.1 366.9 L367.6 366.8 L367.1 366.8 L366.6 366.7 L366.1 366.7 L365.6 366.6 L365.1 366.5 L364.6 366.5 L364.1 366.4 L363.6 366.4 L363.1 366.3 L362.6 366.3 L362.1 366.2 L361.6 366.2 L361.1 366.1 L360.6 366.1 L360.1 366.0 L359.6 366.0 L359.1 365.9 L358.6 365.9 L358.1 365.9 L357.6 365.8 L357.1 365.8 L356.6 365.8 L356.1 365.7 L355.6 365.7 L355.1 365.7 L354.6 365.7 L354.1 365.6 L353.6 365.6 L353.1 365.6 L352.6 365.5 L352.1 365.5 L351.6 365.5 L351.1 365.5 L350.6 365.4 L350.1 365.4 L349.6 365.4 L349.1 365.3 L348.6 365.3 L348.1 365.2 L347.6 365.2 L347.1 365.1 L346.6 365.1 L346.1 365.0 L345.6 364.9 L345.1 364.9 L344.6 364.8 L344.1 364.7 L343.6 364.6 L343.1 364.5 L342.6 364.5 L342.1 364.4 L341.6 364.3 L341.1 364.2 L340.6 364.1 L340.1 364.0 L339.6 363.9 L339.1 363.8 L338.6 363.8 L338.1 363.7 L337.6 363.6 L337.1 363.5 L336.6 363.4 L336.1 363.4 L335.6 363.3 L335.1 363.2 L334.6 363.2 L334.1 363.1 L333.6 363.0 L333.1 363.0 L332.6 362.9 L332.1 362.9 L331.6 362.8 L331.1 362.8 L330.6 362.8 L330.1 362.7 L329.6 362.7 L329.1 362.7 L328.6 362.6 L328.1 362.6 L327.6 362.5 L327.1 362.5 L326.6 362.4 L326.1 362.4 L325.6 362.3 L325.1 362.3 L324.6 362.2 L324.1 362.1 L323.6 362.0 L323.1 361.9 L322.6 361.9 L322.1 361.8 L321.6 361.7 L321.1 361.5 L320.6 361.4 L320.1 361.3 L319.6 361.2 L319.1 361.0 L318.6 360.9 L318.1 360.8 L317.6 360.6 L317.1 360.5 L316.6 360.3 L316.1 360.2 L315.6 360.0 L315.1 359.9 L314.6 359.7 L314.1 359.6 L313.6 359.4 L313.1 359.3 L312.6 359.1 L312.1 359.0 L311.6 358.9 L311.1 358.8 L310.6 358.7 L310.1 358.6 L309.6 358.5 L309.1 358.4 L308.6 358.3 L308.1 358.2 L307.6 358.2 L307.1 358.1 L306.6 358.0 L306.1 358.0 L305.6 357.9 L305.1 357.8 L304.6 357.8 L304.1 357.7 L303.6 357.6 L303.1 357.6 L302.6 357.5 L302.1 357.4 L301.6 357.3 L301.1 357.2 L300.6 357.1 L300.1 357.0 L299.6 356.9 L299.1 356.7 L298.6 356.6 L298.1 356.5 L297.6 356.3 L297.1 356.1 L296.6 356.0 L296.1 355.8 L295.6 355.6 L295.1 355.4 L294.6 355.2 L294.1 355.0 L293.6 354.7 L293.1 354.5 L292.6 354.3 L292.1 354.1 L291.6 353.8 L291.1 353.6 L290.6 353.4 L290.1 353.2 L289.6 353.0 L289.1 352.8 L288.6 352.6 L288.1 352.4 L287.6 352.2 L287.1 352.0 L286.6 351.9 L286.1 351.7 L285.6 351.6 L285.1 351.5 L284.6 351.3 L284.1 351.2 L283.6 351.1 L283.1 351.0 L282.6 350.9 L282.1 350.8 L281.6 350.7 L281.1 350.7 L280.6 350.6 L280.1 350.5 L279.6 350.4 L279.1 350.3 L278.6 350.2 L278.1 350.1 L277.6 349.9 L277.1 349.8 L276.6 349.7 L276.1 349.5 L275.6 349.3 L275.1 349.1 L274.6 349.0 L274.1 348.8 L273.6 348.5 L273.1 348.3 L272.6 348.1 L272.1 347.8 L271.6 347.5 L271.1 347.3 L270.6 347.0 L270.1 346.7 L269.6 346.3 L269.1 346.0 L268.6 345.7 L268.1 345.4 L267.6 345.1 L267.1 344.7 L266.6 344.4 L266.1 344.1 L265.6 343.8 L265.1 343.5 L264.6 343.2 L264.1 343.0 L263.6 342.7 L263.1 342.5 L262.6 342.2 L262.1 342.0 L261.6 341.8 L261.1 341.6 L260.6 341.5 L260.1 341.3 L259.6 341.1 L259.1 341.0 L258.6 340.9 L258.1 340.7 L257.6 340.6 L257.1 340.5 L256.6 340.4 L256.1 340.2 L255.6 340.1 L255.1 340.0 L254.6 339.9 L254.1 339.7 L253.6 339.5 L253.1 339.4 L252.6 339.2 L252.1 339.0 L251.6 338.8 L251.1 338.6 L250.6 338.3 L250.1 338.1 L249.6 337.8 L249.1 337.5 L248.6 337.2 L248.1 336.9 L247.6 336.6 L247.1 336.3 L246.6 335.9 L246.1 335.6 L245.6 335.2 L245.1 334.9 L244.6 334.5 L244.1 334.1 L243.6 333.8 L243.1 333.4 L242.6 333.1 L242.1 332.7 L241.6 332.4 L241.1 332.1 L240.6 331.7 L240.1 331.5 L239.6 331.2 L239.1 330.9 L238.6 330.6 L238.1 330.4 L237.6 330.2 L237.1 330.0 L236.6 329.8 L236.1 329.6 L235.6 329.4 L235.1 329.3 L234.6 329.1 L234.1 329.0 L233.6 328.9 L233.1 328.7 L232.6 328.6 L232.1 328.5 L231.6 328.4 L231.1 328.2 L230.6 328.1 L230.1 327.9 L229.6 327.8 L229.1 327.6 L228.6 327.4 L228.1 327.2 L227.6 327.0 L227.1 326.8 L226.6 326.5 L226.1 326.3 L225.6 326.0 L225.1 325.7 L224.6 325.4 L224.1 325.1 L223.6 324.8 L223.1 324.4 L222.6 324.1 L222.1 323.7 L221.6 323.4 L221.1 323.0 L220.6 322.6 L220.1 322.2 L219.6 321.9 L219.1 321.5 L218.6 321.2 L218.1 320.8 L217.6 320.5 L217.1 320.1 L216.6 319.8 L216.1 319.5 L215.6 319.2 L215.1 318.9 L214.6 318.7 L214.1 318.4 L213.6 318.2 L213.1 318.0 L212.6 317.8 L212.1 317.6 L211.6 317.4 L211.1 317.3 L210.6 317.1 L210.1 317.0 L209.6 316.8 L209.1 316.7 L208.6 316.6 L208.1 316.4 L207.6 316.3 L207.1 316.2 L206.6 316.0 L206.1 315.9 L205.6 315.7 L205.1 315.6 L204.6 315.4 L204.1 315.2 L203.6 315.0 L203.1 314.8 L202.6 314.5 L202.1 314.3 L201.6 314.0 L201.1 313.7 L200.6 313.4 L200.1 313.1 L199.6 312.8 L199.1 312.4 L198.6 312.1 L198.1 311.7 L197.6 311.3 L197.1 310.9 L196.6 310.5 L196.1 310.1 L195.6 309.6 L195.1 309.2 L194.6 308.8 L194.1 308.4 L193.6 308.0 L193.1 307.6 L192.6 307.2 L192.1 306.9 L191.6 306.5 L191.1 306.2 L190.6 305.9 L190.1 305.6 L189.6 305.4 L189.1 305.1 L188.6 304.9 L188.1 304.7 L187.6 304.5 L187.1 304.3 L186.6 304.1 L186.1 304.0 L185.6 303.8 L185.1 303.7 L184.6 303.6 L184.1 303.4 L183.6 303.3 L183.1 303.2 L182.6 303.0 L182.1 302.9 L181.6 302.8 L181.1 302.6 L180.6 302.4 L180.1 302.3 L179.6 302.1 L179.1 301.9 L178.6 301.7 L178.1 301.4 L177.6 301.2 L177.1 301.0 L176.6 300.7 L176.1 300.5 L175.6 300.2 L175.1 299.9 L174.6 299.6 L174.1 299.3 L173.6 299.0 L173.1 298.7 L172.6 298.4 L172.1 298.1 L171.6 297.8 L171.1 297.5 L170.6 297.2 L170.1 296.9 L169.6 296.6 L169.1 296.4 L168.6 296.1 L168.1 295.9 L167.6 295.7 L167.1 295.4 L166.6 295.3 L166.1 295.1 L165.6 294.9 L165.1 294.8 L164.6 294.6 L164.1 294.5 L163.6 294.4 L163.1 294.3 L162.6 294.2 L162.1 294.1 L161.6 294.0 L161.1 293.9 L160.6 293.8 L160.1 293.8 L159.6 293.7 L159.1 293.6 L158.6 293.5 L158.1 293.5 L157.6 293.4 L157.1 293.3 L156.6 293.2 L156.1 293.1 L155.6 293.0 L155.1 292.9 L154.6 292.8 L154.1 292.7 L153.6 292.5 L153.1 292.4 L152.6 292.3 L152.1 292.1 L151.6 292.0 L151.1 291.8 L150.6 291.6 L150.1 291.5 L149.6 291.3 L149.1 291.1 L148.6 291.0 L148.1 290.8 L147.6 290.7 L147.1 290.5 L146.6 290.4 L146.1 290.3 L145.6 290.2 L145.1 290.1 L144.6 290.0 L144.1 289.9 L143.6 289.8 L143.1 289.8 L142.6 289.7 L142.1 289.7 L141.6 289.7 L141.1 289.6 L140.6 289.6 L140.1 289.6 L139.6 289.6 L139.1 289.6 L138.6 289.5 L138.1 289.5 L137.6 289.5 L137.1 289.5 L136.6 289.5 L136.1 289.5 L135.6 289.5 L135.1 289.5 L134.6 289.5 L134.1 289.5 L133.6 289.5 L133.1 289.5 L132.6 289.5 L132.1 289.5 L131.6 289.5 L131.1 289.5 L130.6 289.5 L130.1 289.5 L129.6 289.5 L129.1 289.5 L128.6 289.5 L128.1 289.5 L127.6 289.5 L127.1 289.5 L126.6 289.5 L126.1 289.5 L125.6 289.5 L125.1 289.5 L124.6 289.5 L124.1 289.5 L123.6 289.5 L123.1 289.5 L122.6 289.5 L122.1 289.5 L121.6 289.5 L121.1 289.5 L120.6 289.5 L120.1 289.5 L119.6 289.5 L119.1 289.5 L118.6 289.5 L118.1 289.5 L117.6 289.5 L117.1 289.5 L116.6 289.5 L116.1 289.5 L115.6 289.5 L115.1 289.5 L114.6 289.5 L114.1 289.5 L113.6 289.5 L113.1 289.5 L112.6 289.5 L112.1 289.5 L111.6 289.5 L111.1 289.5 L110.6 289.5 L110.1 289.5 L109.6 289.5 L109.1 289.5 L108.6 289.5 L108.1 289.5 L107.6 289.5 L107.1 289.5 L106.6 289.5Z" fill="#d98227" stroke="#d98227" stroke-width="0.8" stroke-linejoin="round"/>
</g>
<circle cx="723.6" cy="300.2" r="65.7" fill="#fbfbfb" stroke="#000" stroke-width="1.7"/>
<ellipse cx="723.6" cy="300.2" rx="65.7" ry="21.2" fill="none" stroke="#000" stroke-width="1.3" stroke-dasharray="4.6 2.1"/>
<line x1="723.6" y1="300.2" x2="705.9" y2="292.0" stroke="#c4c4c4" stroke-width="1.9" stroke-dasharray="4.5 2.2"/>
<line x1="723.6" y1="300.2" x2="723.6" y2="250" stroke="#dd6a8e" stroke-width="1.2"/>
<line x1="723.6" y1="250" x2="751.2" y2="250" stroke="#dd6a8e" stroke-width="1.3" stroke-dasharray="2 2"/>
<path d="M723.6 273 l5 5 m-5 0 l5 -5" transform="translate(-2.5,0)" stroke="#dd6a8e" stroke-width="1.2" fill="none"/>
<g><line x1="723.6" y1="300.2" x2="765.1" y2="267.9" stroke="#f3cbd8" stroke-width="1.20"/><polygon points="769.5,264.5 765.4,270.6 762.6,267.0" fill="#f3cbd8"/></g>
<g><line x1="723.6" y1="300.2" x2="748.4" y2="256.9" stroke="#dd6a8e" stroke-width="1.20"/><polygon points="751.2,252.0 749.7,259.2 745.8,257.0" fill="#dd6a8e"/></g>
<line x1="723.6" y1="300.2" x2="723.6" y2="352.2" stroke="#3f6fd0" stroke-width="1.2"/>
<line x1="723.6" y1="352.2" x2="697.2" y2="358.4" stroke="#3f6fd0" stroke-width="1.3" stroke-dasharray="2 2"/>
<path d="M723.6 328 l5 5 m-5 0 l5 -5" transform="translate(-2.5,0)" stroke="#3f6fd0" stroke-width="1.2" fill="none"/>
<g><line x1="723.6" y1="300.2" x2="687.5" y2="338.9" stroke="#c3d0f0" stroke-width="1.20"/><polygon points="683.7,343.0 686.8,336.3 690.1,339.4" fill="#c3d0f0"/></g>
<g><line x1="723.6" y1="300.2" x2="701.4" y2="349.4" stroke="#3f6fd0" stroke-width="1.20"/><polygon points="699.1,354.5 699.9,347.2 704.0,349.0" fill="#3f6fd0"/></g>
<g><line x1="748.0" y1="310.7" x2="752.7" y2="313.0" stroke="#f0cfa6" stroke-width="3.60"/><polygon points="759.9,316.6 749.2,315.7 752.7,308.6" fill="#f0cfa6"/></g>
<g><line x1="723.6" y1="300.2" x2="740.9" y2="307.6" stroke="#d98227" stroke-width="3.60"/><polygon points="748.3,310.8 737.5,310.5 740.7,303.2" fill="#d98227"/></g>
<g><line x1="764.7" y1="307.9" x2="749.2" y2="300.2" stroke="#000" stroke-width="2.00"/><polygon points="743.5,297.3 752.1,298.0 749.2,303.8" fill="#000"/></g>
<path d="M766.6 260.7 Q762 255 756 252.6" fill="none" stroke="#000" stroke-width="0.9"/>
<polygon points="754.4,251.8 759.6,251.6 757.6,255.6" fill="#000"/>
<path d="M683.7 345.9 Q688 351 694.5 353.8" fill="none" stroke="#000" stroke-width="0.9"/>
<polygon points="696.6,354.6 691.2,354.8 693.2,350.8" fill="#000"/>
<circle cx="723.6" cy="300.2" r="2.3" fill="#000"/>
<circle cx="657.9" cy="300.2" r="2.7" fill="#fff" stroke="#000" stroke-width="1.3"/>
<circle cx="789.3" cy="300.2" r="2.7" fill="#fff" stroke="#000" stroke-width="1.3"/>
<circle cx="723.6" cy="234.5" r="2.7" fill="#fff" stroke="#000" stroke-width="1.3"/>
<circle cx="723.6" cy="365.9" r="2.7" fill="#fff" stroke="#000" stroke-width="1.3"/>
<rect x="106.6" y="230.7" width="691.1" height="172.8" fill="none" stroke="#000" stroke-width="1.8"/>
<line x1="106.3" y1="403.5" x2="106.3" y2="411.1" stroke="#000" stroke-width="1.8"/>
<line x1="353.8" y1="403.5" x2="353.8" y2="411.1" stroke="#000" stroke-width="1.8"/>
<line x1="601.3" y1="403.5" x2="601.3" y2="411.1" stroke="#000" stroke-width="1.8"/>
<line x1="98.4" y1="230.7" x2="106.6" y2="230.7" stroke="#000" stroke-width="1.8"/>
<text x="89.9" y="238.3" font-size="23.4" text-anchor="end" fill="#000" textLength="13.0" lengthAdjust="spacingAndGlyphs">5</text>
<line x1="98.4" y1="299.8" x2="106.6" y2="299.8" stroke="#000" stroke-width="1.8"/>
<text x="89.9" y="307.4" font-size="23.4" text-anchor="end" fill="#000" textLength="13.0" lengthAdjust="spacingAndGlyphs">3</text>
<line x1="98.4" y1="368.9" x2="106.6" y2="368.9" stroke="#000" stroke-width="1.8"/>
<text x="89.9" y="376.5" font-size="23.4" text-anchor="end" fill="#000" textLength="13.0" lengthAdjust="spacingAndGlyphs">1</text>
<line x1="98.4" y1="403.5" x2="106.6" y2="403.5" stroke="#000" stroke-width="1.8"/>
<text x="89.9" y="411.1" font-size="23.4" text-anchor="end" fill="#000" textLength="13.0" lengthAdjust="spacingAndGlyphs">0</text>
<text x="-1.6" y="227.5" font-size="27.5" text-anchor="start" fill="#000" textLength="37.0" lengthAdjust="spacingAndGlyphs">(b)</text>
<g clip-path="url(#clip_c)">
<path d="M106.6 502.7 L107.1 502.7 L107.6 502.8 L108.1 502.9 L108.6 503.0 L109.1 503.1 L109.6 503.2 L110.1 503.3 L110.6 503.4 L111.1 503.6 L111.6 503.7 L112.1 503.9 L112.6 504.1 L113.1 504.3 L113.6 504.5 L114.1 504.8 L114.6 505.0 L115.1 505.3 L115.6 505.6 L116.1 505.9 L116.6 506.3 L117.1 506.6 L117.6 507.0 L118.1 507.4 L118.6 507.8 L119.1 508.3 L119.6 508.7 L120.1 509.1 L120.6 509.6 L121.1 510.0 L121.6 510.5 L122.1 510.9 L122.6 511.3 L123.1 511.7 L123.6 512.1 L124.1 512.5 L124.6 512.9 L125.1 513.2 L125.6 513.5 L126.1 513.8 L126.6 514.1 L127.1 514.4 L127.6 514.6 L128.1 514.9 L128.6 515.1 L129.1 515.2 L129.6 515.4 L130.1 515.6 L130.6 515.7 L131.1 515.9 L131.6 516.0 L132.1 516.1 L132.6 516.3 L133.1 516.4 L133.6 516.5 L134.1 516.7 L134.6 516.8 L135.1 517.0 L135.6 517.2 L136.1 517.4 L136.6 517.6 L137.1 517.8 L137.6 518.1 L138.1 518.3 L138.6 518.6 L139.1 518.9 L139.6 519.2 L140.1 519.6 L140.6 520.0 L141.1 520.3 L141.6 520.7 L142.1 521.1 L142.6 521.5 L143.1 522.0 L143.6 522.4 L144.1 522.8 L144.6 523.3 L145.1 523.7 L145.6 524.1 L146.1 524.5 L146.6 524.9 L147.1 525.3 L147.6 525.7 L148.1 526.1 L148.6 526.4 L149.1 526.8 L149.6 527.1 L150.1 527.4 L150.6 527.7 L151.1 527.9 L151.6 528.1 L152.1 528.4 L152.6 528.6 L153.1 528.7 L153.6 528.9 L154.1 529.1 L154.6 529.2 L155.1 529.3 L155.6 529.5 L156.1 529.6 L156.6 529.7 L157.1 529.8 L157.6 530.0 L158.1 530.1 L158.6 530.2 L159.1 530.4 L159.6 530.5 L160.1 530.7 L160.6 530.9 L161.1 531.1 L161.6 531.3 L162.1 531.6 L162.6 531.8 L163.1 532.1 L163.6 532.4 L164.1 532.7 L164.6 533.1 L165.1 533.4 L165.6 533.8 L166.1 534.1 L166.6 534.5 L167.1 534.9 L167.6 535.3 L168.1 535.7 L168.6 536.1 L169.1 536.5 L169.6 536.9 L170.1 537.2 L170.6 537.6 L171.1 538.0 L171.6 538.3 L172.1 538.7 L172.6 539.0 L173.1 539.3 L173.6 539.6 L174.1 539.8 L174.6 540.1 L175.1 540.3 L175.6 540.5 L176.1 540.7 L176.6 540.9 L177.1 541.1 L177.6 541.3 L178.1 541.4 L178.6 541.5 L179.1 541.7 L179.6 541.8 L180.1 541.9 L180.6 542.1 L181.1 542.2 L181.6 542.3 L182.1 542.4 L182.6 542.6 L183.1 542.7 L183.6 542.9 L184.1 543.0 L184.6 543.2 L185.1 543.4 L185.6 543.6 L186.1 543.8 L186.6 544.1 L187.1 544.3 L187.6 544.6 L188.1 544.9 L188.6 545.2 L189.1 545.5 L189.6 545.8 L190.1 546.1 L190.6 546.4 L191.1 546.8 L191.6 547.1 L192.1 547.4 L192.6 547.8 L193.1 548.1 L193.6 548.4 L194.1 548.8 L194.6 549.1 L195.1 549.4 L195.6 549.7 L196.1 550.0 L196.6 550.2 L197.1 550.5 L197.6 550.8 L198.1 551.0 L198.6 551.2 L199.1 551.4 L199.6 551.6 L200.1 551.8 L200.6 552.0 L201.1 552.2 L201.6 552.3 L202.1 552.5 L202.6 552.6 L203.1 552.7 L203.6 552.9 L204.1 553.0 L204.6 553.1 L205.1 553.2 L205.6 553.3 L206.1 553.5 L206.6 553.6 L207.1 553.8 L207.6 553.9 L208.1 554.1 L208.6 554.2 L209.1 554.4 L209.6 554.6 L210.1 554.8 L210.6 555.0 L211.1 555.2 L211.6 555.5 L212.1 555.7 L212.6 556.0 L213.1 556.2 L213.6 556.5 L214.1 556.8 L214.6 557.1 L215.1 557.4 L215.6 557.7 L216.1 558.1 L216.6 558.4 L217.1 558.7 L217.6 559.0 L218.1 559.3 L218.6 559.6 L219.1 559.9 L219.6 560.2 L220.1 560.5 L220.6 560.8 L221.1 561.0 L221.6 561.2 L222.1 561.5 L222.6 561.7 L223.1 561.9 L223.6 562.0 L224.1 562.2 L224.6 562.4 L225.1 562.5 L225.6 562.6 L226.1 562.8 L226.6 562.9 L227.1 563.0 L227.6 563.1 L228.1 563.2 L228.6 563.3 L229.1 563.4 L229.6 563.5 L230.1 563.6 L230.6 563.7 L231.1 563.8 L231.6 563.9 L232.1 564.0 L232.6 564.1 L233.1 564.3 L233.6 564.4 L234.1 564.6 L234.6 564.7 L235.1 564.9 L235.6 565.1 L236.1 565.3 L236.6 565.5 L237.1 565.8 L237.6 566.0 L238.1 566.2 L238.6 566.5 L239.1 566.7 L239.6 567.0 L240.1 567.2 L240.6 567.5 L241.1 567.8 L241.6 568.0 L242.1 568.3 L242.6 568.5 L243.1 568.7 L243.6 568.9 L244.1 569.2 L244.6 569.4 L245.1 569.6 L245.6 569.7 L246.1 569.9 L246.6 570.1 L247.1 570.2 L247.6 570.4 L248.1 570.5 L248.6 570.6 L249.1 570.8 L249.6 570.9 L250.1 571.0 L250.6 571.1 L251.1 571.2 L251.6 571.2 L252.1 571.3 L252.6 571.4 L253.1 571.5 L253.6 571.6 L254.1 571.6 L254.6 571.7 L255.1 571.8 L255.6 571.9 L256.1 572.0 L256.6 572.1 L257.1 572.2 L257.6 572.3 L258.1 572.5 L258.6 572.6 L259.1 572.7 L259.6 572.9 L260.1 573.0 L260.6 573.2 L261.1 573.3 L261.6 573.5 L262.1 573.7 L262.6 573.8 L263.1 574.0 L263.6 574.2 L264.1 574.4 L264.6 574.5 L265.1 574.7 L265.6 574.9 L266.1 575.1 L266.6 575.2 L267.1 575.4 L267.6 575.6 L268.1 575.7 L268.6 575.9 L269.1 576.0 L269.6 576.1 L270.1 576.3 L270.6 576.4 L271.1 576.5 L271.6 576.6 L272.1 576.7 L272.6 576.8 L273.1 576.9 L273.6 577.0 L274.1 577.1 L274.6 577.2 L275.1 577.2 L275.6 577.3 L276.1 577.4 L276.6 577.4 L277.1 577.5 L277.6 577.6 L278.1 577.6 L278.6 577.7 L279.1 577.8 L279.6 577.9 L280.1 578.0 L280.6 578.1 L281.1 578.2 L281.6 578.3 L282.1 578.4 L282.6 578.5 L283.1 578.6 L283.6 578.7 L284.1 578.9 L284.6 579.0 L285.1 579.2 L285.6 579.3 L286.1 579.5 L286.6 579.6 L287.1 579.8 L287.6 580.0 L288.1 580.2 L288.6 580.3 L289.1 580.5 L289.6 580.7 L290.1 580.8 L290.6 581.0 L291.1 581.1 L291.6 581.3 L292.1 581.4 L292.6 581.6 L293.1 581.7 L293.6 581.8 L294.1 582.0 L294.6 582.1 L295.1 582.2 L295.6 582.3 L296.1 582.3 L296.6 582.4 L297.1 582.5 L297.6 582.6 L298.1 582.6 L298.6 582.7 L299.1 582.8 L299.6 582.8 L300.1 582.9 L300.6 582.9 L301.1 583.0 L301.6 583.1 L302.1 583.1 L302.6 583.2 L303.1 583.2 L303.6 583.3 L304.1 583.4 L304.6 583.4 L305.1 583.5 L305.6 583.6 L306.1 583.7 L306.6 583.7 L307.1 583.8 L307.6 583.9 L308.1 584.0 L308.6 584.1 L309.1 584.2 L309.6 584.3 L310.1 584.4 L310.6 584.6 L311.1 584.7 L311.6 584.8 L312.1 584.9 L312.6 585.0 L313.1 585.1 L313.6 585.2 L314.1 585.3 L314.6 585.4 L315.1 585.5 L315.6 585.6 L316.1 585.7 L316.6 585.7 L317.1 585.8 L317.6 585.9 L318.1 586.0 L318.6 586.0 L319.1 586.1 L319.6 586.1 L320.1 586.2 L320.6 586.2 L321.1 586.3 L321.6 586.3 L322.1 586.4 L322.6 586.4 L323.1 586.4 L323.6 586.5 L324.1 586.5 L324.6 586.5 L325.1 586.6 L325.6 586.6 L326.1 586.6 L326.6 586.7 L327.1 586.7 L327.6 586.7 L328.1 586.8 L328.6 586.8 L329.1 586.9 L329.6 586.9 L330.1 587.0 L330.6 587.0 L331.1 587.0 L331.6 587.1 L332.1 587.1 L332.6 587.2 L333.1 587.3 L333.6 587.3 L334.1 587.4 L334.6 587.4 L335.1 587.5 L335.6 587.5 L336.1 587.6 L336.6 587.6 L337.1 587.7 L337.6 587.7 L338.1 587.8 L338.6 587.8 L339.1 587.9 L339.6 587.9 L340.1 588.0 L340.6 588.0 L341.1 588.1 L341.6 588.1 L342.1 588.1 L342.6 588.2 L343.1 588.2 L343.6 588.2 L344.1 588.3 L344.6 588.3 L345.1 588.3 L345.6 588.3 L346.1 588.4 L346.6 588.4 L347.1 588.4 L347.6 588.4 L348.1 588.4 L348.6 588.5 L349.1 588.5 L349.6 588.5 L350.1 588.5 L350.6 588.6 L351.1 588.6 L351.6 588.6 L352.1 588.6 L352.6 588.7 L353.1 588.7 L353.6 588.7 L354.1 588.7 L354.6 588.8 L355.1 588.8 L355.6 588.8 L356.1 588.9 L356.6 588.9 L357.1 588.9 L357.6 589.0 L358.1 589.0 L358.6 589.1 L359.1 589.1 L359.6 589.2 L360.1 589.2 L360.6 589.2 L361.1 589.3 L361.6 589.3 L362.1 589.4 L362.6 589.4 L363.1 589.4 L363.6 589.5 L364.1 589.5 L364.6 589.5 L365.1 589.6 L365.6 589.6 L366.1 589.6 L366.6 589.7 L367.1 589.7 L367.6 589.7 L368.1 589.7 L368.6 589.8 L369.1 589.8 L369.6 589.8 L370.1 589.8 L370.6 589.8 L371.1 589.9 L371.6 589.9 L372.1 589.9 L372.6 589.9 L373.1 589.9 L373.6 589.9 L374.1 589.9 L374.6 590.0 L375.1 590.0 L375.6 590.0 L376.1 590.0 L376.6 590.0 L377.1 590.1 L377.6 590.1 L378.1 590.1 L378.6 590.1 L379.1 590.1 L379.6 590.2 L380.1 590.2 L380.6 590.2 L381.1 590.2 L381.6 590.3 L382.1 590.3 L382.6 590.3 L383.1 590.4 L383.6 590.4 L384.1 590.4 L384.6 590.4 L385.1 590.5 L385.6 590.5 L386.1 590.5 L386.6 590.5 L387.1 590.6 L387.6 590.6 L388.1 590.6 L388.6 590.6 L389.1 590.7 L389.6 590.7 L390.1 590.7 L390.6 590.7 L391.1 590.7 L391.6 590.7 L392.1 590.7 L392.6 590.8 L393.1 590.8 L393.6 590.8 L394.1 590.8 L394.6 590.8 L395.1 590.8 L395.6 590.8 L396.1 590.8 L396.6 590.8 L397.1 590.9 L397.6 590.9 L398.1 590.9 L398.6 590.9 L399.1 590.9 L399.6 590.9 L400.1 590.9 L400.6 590.9 L401.1 591.0 L401.6 591.0 L402.1 591.0 L402.6 591.0 L403.1 591.0 L403.6 591.0 L404.1 591.1 L404.6 591.1 L405.1 591.1 L405.6 591.1 L406.1 591.1 L406.6 591.2 L407.1 591.2 L407.6 591.2 L408.1 591.2 L408.6 591.2 L409.1 591.3 L409.6 591.3 L410.1 591.3 L410.6 591.3 L411.1 591.3 L411.6 591.4 L412.1 591.4 L412.6 591.4 L413.1 591.4 L413.6 591.4 L414.1 591.4 L414.6 591.4 L415.1 591.5 L415.6 591.5 L416.1 591.5 L416.6 591.5 L417.1 591.5 L417.6 591.5 L418.1 591.5 L418.6 591.5 L419.1 591.5 L419.6 591.5 L420.1 591.5 L420.6 591.6 L421.1 591.6 L421.6 591.6 L422.1 591.6 L422.6 591.6 L423.1 591.6 L423.6 591.6 L424.1 591.6 L424.6 591.6 L425.1 591.7 L425.6 591.7 L426.1 591.7 L426.6 591.7 L427.1 591.7 L427.6 591.7 L428.1 591.7 L428.6 591.8 L429.1 591.8 L429.6 591.8 L430.1 591.8 L430.6 591.8 L431.1 591.8 L431.6 591.9 L432.1 591.9 L432.6 591.9 L433.1 591.9 L433.6 591.9 L434.1 591.9 L434.6 592.0 L435.1 592.0 L435.6 592.0 L436.1 592.0 L436.6 592.0 L437.1 592.0 L437.6 592.0 L438.1 592.0 L438.6 592.0 L439.1 592.1 L439.6 592.1 L440.1 592.1 L440.6 592.1 L441.1 592.1 L441.6 592.1 L442.1 592.1 L442.6 592.1 L443.1 592.1 L443.6 592.1 L444.1 592.1 L444.6 592.1 L445.1 592.1 L445.6 592.1 L446.1 592.1 L446.6 592.1 L447.1 592.2 L447.6 592.2 L448.1 592.2 L448.6 592.2 L449.1 592.2 L449.6 592.2 L450.1 592.2 L450.6 592.2 L451.1 592.2 L451.6 592.2 L452.1 592.2 L452.6 592.2 L453.1 592.2 L453.6 592.3 L454.1 592.3 L454.6 592.3 L455.1 592.3 L455.6 592.3 L456.1 592.3 L456.6 592.3 L457.1 592.3 L457.6 592.3 L458.1 592.3 L458.6 592.3 L459.1 592.3 L459.6 592.4 L460.1 592.4 L460.6 592.4 L461.1 592.4 L461.6 592.4 L462.1 592.4 L462.6 592.4 L463.1 592.4 L463.6 592.4 L464.1 592.4 L464.6 592.4 L465.1 592.4 L465.6 592.4 L466.1 592.4 L466.6 592.4 L467.1 592.4 L467.6 592.4 L468.1 592.4 L468.6 592.4 L469.1 592.4 L469.6 592.4 L470.1 592.5 L470.6 592.5 L471.1 592.5 L471.6 592.5 L472.1 592.5 L472.6 592.5 L473.1 592.5 L473.6 592.5 L474.1 592.5 L474.6 592.5 L475.1 592.5 L475.6 592.5 L476.1 592.5 L476.6 592.5 L477.1 592.5 L477.6 592.5 L478.1 592.5 L478.6 592.5 L479.1 592.6 L479.6 592.6 L480.1 592.6 L480.6 592.6 L481.1 592.6 L481.6 592.6 L482.1 592.6 L482.6 592.6 L483.1 592.6 L483.6 592.6 L484.1 592.6 L484.6 592.6 L485.1 592.6 L485.6 592.6 L486.1 592.6 L486.6 592.6 L487.1 592.7 L487.6 592.7 L488.1 592.7 L488.6 592.7 L489.1 592.7 L489.6 592.7 L490.1 592.7 L490.6 592.7 L491.1 592.7 L491.6 592.7 L492.1 592.7 L492.6 592.7 L493.1 592.7 L493.6 592.7 L494.1 592.7 L494.6 592.7 L495.1 592.7 L495.6 592.7 L496.1 592.7 L496.6 592.7 L497.1 592.7 L497.6 592.7 L498.1 592.7 L498.6 592.7 L499.1 592.7 L499.6 592.7 L500.1 592.7 L500.6 592.8 L501.1 592.8 L501.6 592.8 L502.1 592.8 L502.6 592.8 L503.1 592.8 L503.6 592.8 L504.1 592.8 L504.6 592.8 L505.1 592.8 L505.6 592.8 L506.1 592.8 L506.6 592.8 L507.1 592.8 L507.6 592.8 L508.1 592.8 L508.6 592.8 L509.1 592.8 L509.6 592.8 L510.1 592.8 L510.6 592.9 L511.1 592.9 L511.6 592.9 L512.1 592.9 L512.6 592.9 L513.1 592.9 L513.6 592.9 L514.1 592.9 L514.6 592.9 L515.1 592.9 L515.6 592.9 L516.1 592.9 L516.6 592.9 L517.1 592.9 L517.6 592.9 L518.1 592.9 L518.6 592.9 L519.1 592.9 L519.6 592.9 L520.1 592.9 L520.6 592.9 L521.1 592.9 L521.6 592.9 L522.1 592.9 L522.6 592.9 L523.1 592.9 L523.6 592.9 L524.1 592.9 L524.6 592.9 L525.1 592.9 L525.6 592.9 L526.1 592.9 L526.6 592.9 L527.1 592.9 L527.6 592.9 L528.1 593.0 L528.6 593.0 L529.1 593.0 L529.6 593.0 L530.1 593.0 L530.6 593.0 L531.1 593.0 L531.6 593.0 L532.1 593.0 L532.6 593.0 L533.1 593.0 L533.6 593.0 L534.1 593.0 L534.6 593.0 L535.1 593.0 L535.6 593.0 L536.1 593.0 L536.6 593.0 L537.1 593.0 L537.6 593.0 L538.1 593.0 L538.6 593.0 L539.1 593.0 L539.6 593.0 L540.1 593.0 L540.6 593.0 L541.1 593.0 L541.6 593.0 L542.1 593.0 L542.6 593.0 L543.1 593.0 L543.6 593.0 L544.1 593.0 L544.6 593.0 L545.1 593.0 L545.6 593.0 L546.1 593.0 L546.6 593.0 L547.1 593.0 L547.6 593.0 L548.1 593.0 L548.6 593.0 L549.1 593.0 L549.6 593.0 L550.1 593.0 L550.6 593.0 L551.1 593.0 L551.6 593.0 L552.1 593.0 L552.6 593.0 L553.1 593.0 L553.6 593.0 L554.1 593.0 L554.6 593.0 L555.1 593.0 L555.6 593.0 L556.1 593.1 L556.6 593.1 L557.1 593.1 L557.6 593.1 L558.1 593.1 L558.6 593.1 L559.1 593.1 L559.6 593.1 L560.1 593.1 L560.6 593.1 L561.1 593.1 L561.6 593.1 L562.1 593.1 L562.6 593.1 L563.1 593.1 L563.6 593.1 L564.1 593.1 L564.6 593.1 L565.1 593.1 L565.6 593.1 L566.1 593.1 L566.6 593.1 L567.1 593.1 L567.6 593.1 L568.1 593.1 L568.6 593.1 L569.1 593.1 L569.6 593.1 L570.1 593.1 L570.6 593.1 L571.1 593.1 L571.6 593.1 L572.1 593.1 L572.6 593.1 L573.1 593.1 L573.6 593.1 L574.1 593.1 L574.6 593.1 L575.1 593.1 L575.6 593.1 L576.1 593.1 L576.6 593.1 L577.1 593.1 L577.6 593.1 L578.1 593.1 L578.6 593.1 L579.1 593.1 L579.6 593.1 L580.1 593.1 L580.6 593.1 L581.1 593.1 L581.6 593.1 L582.1 593.1 L582.6 593.1 L583.1 593.1 L583.6 593.1 L584.1 593.1 L584.6 593.1 L585.1 593.1 L585.6 593.1 L586.1 593.1 L586.6 593.1 L587.1 593.1 L587.6 593.1 L588.1 593.1 L588.6 593.1 L589.1 593.1 L589.6 593.1 L590.1 593.1 L590.6 593.1 L591.1 593.1 L591.6 593.1 L592.1 593.1 L592.6 593.1 L593.1 593.1 L593.6 593.1 L594.1 593.1 L594.6 593.1 L595.1 593.1 L595.6 593.1 L596.1 593.1 L596.6 593.1 L597.1 593.1 L597.6 593.1 L598.1 593.1 L598.6 593.1 L599.1 593.1 L599.6 593.1 L600.1 593.1 L600.6 593.1 L601.1 593.1 L601.6 593.1 L602.1 593.1 L602.6 593.1 L603.1 593.1 L603.6 593.1 L604.1 593.1 L604.6 593.1 L605.1 593.1 L605.6 593.1 L606.1 593.1 L606.6 593.1 L607.1 593.1 L607.6 593.1 L608.1 593.1 L608.6 593.1 L609.1 593.1 L609.6 593.1 L610.1 593.1 L610.6 593.1 L611.1 593.1 L611.6 593.1 L612.1 593.1 L612.6 593.1 L613.1 593.1 L613.6 593.1 L614.1 593.1 L614.6 593.1 L615.1 593.1 L615.6 593.1 L616.1 593.1 L616.6 593.2 L617.1 593.2 L617.6 593.2 L618.1 593.2 L618.6 593.2 L619.1 593.2 L619.6 593.2 L620.1 593.2 L620.6 593.2 L621.1 593.2 L621.6 593.2 L622.1 593.2 L622.6 593.2 L623.1 593.2 L623.6 593.2 L624.1 593.2 L624.6 593.2 L625.1 593.2 L625.6 593.2 L626.1 593.2 L626.6 593.2 L627.1 593.2 L627.6 593.2 L628.1 593.2 L628.6 593.2 L629.1 593.2 L629.6 593.2 L630.1 593.2 L630.6 593.2 L631.1 593.2 L631.6 593.2 L632.1 593.2 L632.6 593.2 L633.1 593.2 L633.6 593.2 L634.1 593.2 L634.6 593.2 L635.1 593.2 L635.6 593.2 L636.1 593.2 L636.6 593.2 L637.1 593.2 L637.6 593.2 L638.1 593.2 L638.6 593.2 L639.1 593.2 L639.6 593.2 L640.1 593.2 L640.6 593.2 L641.1 593.2 L641.6 593.2 L642.1 593.2 L642.6 593.2 L643.1 593.2 L643.6 593.2 L644.1 593.2 L644.6 593.2 L645.1 593.2 L645.6 593.2 L646.1 593.2 L646.6 593.2 L647.1 593.2 L647.6 593.2 L648.1 593.2 L648.6 593.2 L649.1 593.2 L649.6 593.2 L650.1 593.2 L650.6 593.2 L651.1 593.2 L651.6 593.2 L652.1 593.2 L652.6 593.2 L653.1 593.2 L653.6 593.2 L654.1 593.2 L654.6 593.2 L655.1 593.2 L655.6 593.2 L656.1 593.2 L656.6 593.2 L657.1 593.2 L657.6 593.2 L658.1 593.2 L658.6 593.2 L659.1 593.2 L659.6 593.2 L660.1 593.2 L660.6 593.2 L661.1 593.2 L661.6 593.2 L662.1 593.2 L662.6 593.2 L663.1 593.2 L663.6 593.2 L664.1 593.2 L664.6 593.2 L665.1 593.2 L665.6 593.2 L666.1 593.2 L666.6 593.2 L667.1 593.2 L667.6 593.2 L668.1 593.2 L668.6 593.2 L669.1 593.2 L669.6 593.2 L670.1 593.2 L670.6 593.2 L671.1 593.2 L671.6 593.2 L672.1 593.2 L672.6 593.2 L673.1 593.2 L673.6 593.2 L674.1 593.2 L674.6 593.2 L675.1 593.2 L675.6 593.2 L676.1 593.2 L676.6 593.2 L677.1 593.2 L677.6 593.2 L678.1 593.2 L678.6 593.2 L679.1 593.2 L679.6 593.2 L680.1 593.2 L680.6 593.2 L681.1 593.2 L681.6 593.2 L682.1 593.2 L682.6 593.2 L683.1 593.2 L683.6 593.2 L684.1 593.2 L684.6 593.2 L685.1 593.2 L685.6 593.2 L686.1 593.2 L686.6 593.2 L687.1 593.2 L687.6 593.2 L688.1 593.2 L688.6 593.2 L689.1 593.2 L689.6 593.2 L690.1 593.2 L690.6 593.2 L691.1 593.2 L691.6 593.2 L692.1 593.2 L692.6 593.2 L693.1 593.2 L693.6 593.2 L694.1 593.2 L694.6 593.2 L695.1 593.2 L695.6 593.2 L696.1 593.2 L696.6 593.2 L697.1 593.2 L697.6 593.2 L698.1 593.2 L698.6 593.2 L699.1 593.2 L699.6 593.2 L700.1 593.2 L700.6 593.2 L701.1 593.2 L701.6 593.2 L702.1 593.2 L702.6 593.2 L703.1 593.2 L703.6 593.2 L704.1 593.3 L704.6 593.3 L705.1 593.3 L705.6 593.3 L706.1 593.3 L706.6 593.3 L707.1 593.3 L707.6 593.3 L708.1 593.3 L708.6 593.3 L709.1 593.3 L709.6 593.3 L710.1 593.3 L710.6 593.3 L711.1 593.3 L711.6 593.3 L712.1 593.3 L712.6 593.3 L713.1 593.3 L713.6 593.3 L714.1 593.3 L714.6 593.3 L715.1 593.3 L715.6 593.3 L716.1 593.3 L716.6 593.3 L717.1 593.3 L717.6 593.3 L718.1 593.3 L718.6 593.3 L719.1 593.3 L719.6 593.3 L720.1 593.3 L720.6 593.3 L721.1 593.3 L721.6 593.3 L722.1 593.3 L722.6 593.3 L723.1 593.3 L723.6 593.3 L724.1 593.3 L724.6 593.3 L725.1 593.3 L725.6 593.3 L726.1 593.3 L726.6 593.3 L727.1 593.3 L727.6 593.3 L728.1 593.3 L728.6 593.3 L729.1 593.3 L729.6 593.3 L730.1 593.3 L730.6 593.3 L731.1 593.3 L731.6 593.3 L732.1 593.3 L732.6 593.3 L733.1 593.3 L733.6 593.3 L734.1 593.3 L734.6 593.3 L735.1 593.3 L735.6 593.3 L736.1 593.3 L736.6 593.3 L737.1 593.3 L737.6 593.3 L738.1 593.3 L738.6 593.3 L739.1 593.3 L739.6 593.3 L740.1 593.3 L740.6 593.3 L741.1 593.3 L741.6 593.3 L742.1 593.3 L742.6 593.3 L743.1 593.3 L743.6 593.3 L744.1 593.3 L744.6 593.3 L745.1 593.3 L745.6 593.3 L746.1 593.3 L746.6 593.3 L747.1 593.3 L747.6 593.3 L748.1 593.3 L748.6 593.3 L749.1 593.3 L749.6 593.3 L750.1 593.3 L750.6 593.3 L751.1 593.3 L751.6 593.3 L752.1 593.3 L752.6 593.3 L753.1 593.3 L753.6 593.3 L754.1 593.3 L754.6 593.3 L755.1 593.3 L755.6 593.3 L756.1 593.3 L756.6 593.3 L757.1 593.3 L757.6 593.3 L758.1 593.3 L758.6 593.3 L759.1 593.3 L759.6 593.3 L760.1 593.3 L760.6 593.3 L761.1 593.3 L761.6 593.3 L762.1 593.3 L762.6 593.3 L763.1 593.3 L763.6 593.3 L764.1 593.3 L764.6 593.3 L765.1 593.3 L765.6 593.3 L766.1 593.3 L766.6 593.3 L767.1 593.3 L767.6 593.3 L768.1 593.3 L768.6 593.3 L769.1 593.3 L769.6 593.3 L770.1 593.3 L770.6 593.3 L771.1 593.3 L771.6 593.3 L772.1 593.3 L772.6 593.3 L773.1 593.3 L773.6 593.3 L774.1 593.3 L774.6 593.3 L775.1 593.3 L775.6 593.3 L776.1 593.3 L776.6 593.3 L777.1 593.3 L777.6 593.3 L778.1 593.3 L778.6 593.3 L779.1 593.3 L779.6 593.3 L780.1 593.3 L780.6 593.3 L781.1 593.3 L781.6 593.3 L782.1 593.3 L782.6 593.3 L783.1 593.3 L783.6 593.3 L784.1 593.3 L784.6 593.3 L785.1 593.3 L785.6 593.3 L786.1 593.3 L786.6 593.3 L787.1 593.3 L787.6 593.3 L788.1 593.3 L788.6 593.3 L789.1 593.3 L789.6 593.3 L790.1 593.3 L790.6 593.3 L791.1 593.3 L791.6 593.3 L792.1 593.3 L792.6 593.3 L793.1 593.3 L793.6 593.3 L794.1 593.3 L794.6 593.3 L795.1 593.3 L795.6 593.3 L796.1 593.3 L796.6 593.3 L797.1 593.3 L797.6 593.3 L798.1 593.3 L798.1 593.3 L797.6 593.3 L797.1 593.3 L796.6 593.3 L796.1 593.3 L795.6 593.3 L795.1 593.3 L794.6 593.3 L794.1 593.3 L793.6 593.3 L793.1 593.3 L792.6 593.3 L792.1 593.3 L791.6 593.3 L791.1 593.3 L790.6 593.3 L790.1 593.3 L789.6 593.3 L789.1 593.3 L788.6 593.3 L788.1 593.3 L787.6 593.3 L787.1 593.3 L786.6 593.3 L786.1 593.3 L785.6 593.3 L785.1 593.3 L784.6 593.3 L784.1 593.3 L783.6 593.3 L783.1 593.3 L782.6 593.3 L782.1 593.3 L781.6 593.3 L781.1 593.3 L780.6 593.3 L780.1 593.3 L779.6 593.3 L779.1 593.3 L778.6 593.3 L778.1 593.3 L777.6 593.3 L777.1 593.3 L776.6 593.3 L776.1 593.3 L775.6 593.3 L775.1 593.3 L774.6 593.3 L774.1 593.3 L773.6 593.3 L773.1 593.3 L772.6 593.3 L772.1 593.3 L771.6 593.3 L771.1 593.3 L770.6 593.3 L770.1 593.3 L769.6 593.3 L769.1 593.3 L768.6 593.3 L768.1 593.3 L767.6 593.3 L767.1 593.3 L766.6 593.3 L766.1 593.3 L765.6 593.3 L765.1 593.3 L764.6 593.3 L764.1 593.3 L763.6 593.3 L763.1 593.3 L762.6 593.3 L762.1 593.3 L761.6 593.3 L761.1 593.3 L760.6 593.3 L760.1 593.3 L759.6 593.3 L759.1 593.3 L758.6 593.3 L758.1 593.3 L757.6 593.3 L757.1 593.3 L756.6 593.3 L756.1 593.3 L755.6 593.3 L755.1 593.3 L754.6 593.3 L754.1 593.3 L753.6 593.3 L753.1 593.3 L752.6 593.3 L752.1 593.3 L751.6 593.3 L751.1 593.3 L750.6 593.3 L750.1 593.3 L749.6 593.3 L749.1 593.3 L748.6 593.3 L748.1 593.3 L747.6 593.3 L747.1 593.3 L746.6 593.3 L746.1 593.3 L745.6 593.3 L745.1 593.3 L744.6 593.3 L744.1 593.3 L743.6 593.3 L743.1 593.3 L742.6 593.3 L742.1 593.3 L741.6 593.3 L741.1 593.3 L740.6 593.3 L740.1 593.3 L739.6 593.3 L739.1 593.3 L738.6 593.3 L738.1 593.3 L737.6 593.3 L737.1 593.3 L736.6 593.3 L736.1 593.3 L735.6 593.3 L735.1 593.3 L734.6 593.3 L734.1 593.3 L733.6 593.3 L733.1 593.3 L732.6 593.3 L732.1 593.3 L731.6 593.3 L731.1 593.3 L730.6 593.3 L730.1 593.3 L729.6 593.3 L729.1 593.3 L728.6 593.3 L728.1 593.3 L727.6 593.3 L727.1 593.3 L726.6 593.3 L726.1 593.3 L725.6 593.3 L725.1 593.3 L724.6 593.3 L724.1 593.3 L723.6 593.3 L723.1 593.3 L722.6 593.3 L722.1 593.3 L721.6 593.3 L721.1 593.3 L720.6 593.3 L720.1 593.3 L719.6 593.3 L719.1 593.3 L718.6 593.3 L718.1 593.3 L717.6 593.3 L717.1 593.3 L716.6 593.3 L716.1 593.3 L715.6 593.3 L715.1 593.3 L714.6 593.3 L714.1 593.3 L713.6 593.3 L713.1 593.3 L712.6 593.3 L712.1 593.3 L711.6 593.3 L711.1 593.3 L710.6 593.3 L710.1 593.3 L709.6 593.3 L709.1 593.3 L708.6 593.3 L708.1 593.3 L707.6 593.3 L707.1 593.3 L706.6 593.3 L706.1 593.3 L705.6 593.3 L705.1 593.3 L704.6 593.3 L704.1 593.3 L703.6 593.3 L703.1 593.3 L702.6 593.3 L702.1 593.3 L701.6 593.3 L701.1 593.3 L700.6 593.3 L700.1 593.3 L699.6 593.3 L699.1 593.3 L698.6 593.3 L698.1 593.3 L697.6 593.3 L697.1 593.3 L696.6 593.3 L696.1 593.3 L695.6 593.3 L695.1 593.3 L694.6 593.3 L694.1 593.3 L693.6 593.3 L693.1 593.3 L692.6 593.3 L692.1 593.3 L691.6 593.3 L691.1 593.3 L690.6 593.3 L690.1 593.3 L689.6 593.3 L689.1 593.3 L688.6 593.3 L688.1 593.3 L687.6 593.3 L687.1 593.3 L686.6 593.3 L686.1 593.3 L685.6 593.3 L685.1 593.3 L684.6 593.3 L684.1 593.3 L683.6 593.3 L683.1 593.3 L682.6 593.3 L682.1 593.3 L681.6 593.3 L681.1 593.3 L680.6 593.3 L680.1 593.3 L679.6 593.3 L679.1 593.3 L678.6 593.3 L678.1 593.3 L677.6 593.3 L677.1 593.3 L676.6 593.3 L676.1 593.3 L675.6 593.3 L675.1 593.3 L674.6 593.3 L674.1 593.3 L673.6 593.3 L673.1 593.3 L672.6 593.3 L672.1 593.3 L671.6 593.3 L671.1 593.3 L670.6 593.3 L670.1 593.3 L669.6 593.3 L669.1 593.3 L668.6 593.3 L668.1 593.3 L667.6 593.3 L667.1 593.3 L666.6 593.3 L666.1 593.3 L665.6 593.3 L665.1 593.3 L664.6 593.3 L664.1 593.3 L663.6 593.3 L663.1 593.3 L662.6 593.3 L662.1 593.3 L661.6 593.3 L661.1 593.3 L660.6 593.3 L660.1 593.3 L659.6 593.3 L659.1 593.3 L658.6 593.4 L658.1 593.4 L657.6 593.4 L657.1 593.4 L656.6 593.4 L656.1 593.4 L655.6 593.4 L655.1 593.4 L654.6 593.4 L654.1 593.4 L653.6 593.4 L653.1 593.4 L652.6 593.4 L652.1 593.4 L651.6 593.4 L651.1 593.4 L650.6 593.4 L650.1 593.4 L649.6 593.4 L649.1 593.4 L648.6 593.4 L648.1 593.4 L647.6 593.4 L647.1 593.4 L646.6 593.4 L646.1 593.4 L645.6 593.4 L645.1 593.4 L644.6 593.4 L644.1 593.4 L643.6 593.4 L643.1 593.4 L642.6 593.4 L642.1 593.4 L641.6 593.4 L641.1 593.4 L640.6 593.4 L640.1 593.4 L639.6 593.4 L639.1 593.4 L638.6 593.4 L638.1 593.4 L637.6 593.4 L637.1 593.4 L636.6 593.4 L636.1 593.4 L635.6 593.4 L635.1 593.4 L634.6 593.4 L634.1 593.4 L633.6 593.4 L633.1 593.4 L632.6 593.4 L632.1 593.4 L631.6 593.4 L631.1 593.4 L630.6 593.4 L630.1 593.4 L629.6 593.4 L629.1 593.4 L628.6 593.4 L628.1 593.4 L627.6 593.4 L627.1 593.4 L626.6 593.4 L626.1 593.4 L625.6 593.4 L625.1 593.4 L624.6 593.4 L624.1 593.4 L623.6 593.4 L623.1 593.4 L622.6 593.4 L622.1 593.4 L621.6 593.4 L621.1 593.4 L620.6 593.4 L620.1 593.4 L619.6 593.4 L619.1 593.4 L618.6 593.4 L618.1 593.4 L617.6 593.4 L617.1 593.4 L616.6 593.4 L616.1 593.4 L615.6 593.4 L615.1 593.4 L614.6 593.4 L614.1 593.4 L613.6 593.4 L613.1 593.4 L612.6 593.4 L612.1 593.4 L611.6 593.4 L611.1 593.4 L610.6 593.4 L610.1 593.4 L609.6 593.4 L609.1 593.4 L608.6 593.4 L608.1 593.4 L607.6 593.4 L607.1 593.4 L606.6 593.4 L606.1 593.4 L605.6 593.4 L605.1 593.4 L604.6 593.4 L604.1 593.4 L603.6 593.4 L603.1 593.4 L602.6 593.4 L602.1 593.4 L601.6 593.4 L601.1 593.4 L600.6 593.4 L600.1 593.4 L599.6 593.4 L599.1 593.4 L598.6 593.4 L598.1 593.4 L597.6 593.4 L597.1 593.4 L596.6 593.4 L596.1 593.4 L595.6 593.4 L595.1 593.4 L594.6 593.4 L594.1 593.4 L593.6 593.4 L593.1 593.4 L592.6 593.4 L592.1 593.4 L591.6 593.4 L591.1 593.4 L590.6 593.4 L590.1 593.4 L589.6 593.4 L589.1 593.4 L588.6 593.4 L588.1 593.4 L587.6 593.4 L587.1 593.4 L586.6 593.4 L586.1 593.4 L585.6 593.4 L585.1 593.4 L584.6 593.4 L584.1 593.4 L583.6 593.4 L583.1 593.4 L582.6 593.4 L582.1 593.4 L581.6 593.4 L581.1 593.4 L580.6 593.4 L580.1 593.4 L579.6 593.4 L579.1 593.4 L578.6 593.4 L578.1 593.4 L577.6 593.4 L577.1 593.4 L576.6 593.4 L576.1 593.4 L575.6 593.4 L575.1 593.4 L574.6 593.4 L574.1 593.4 L573.6 593.4 L573.1 593.4 L572.6 593.4 L572.1 593.4 L571.6 593.4 L571.1 593.4 L570.6 593.4 L570.1 593.4 L569.6 593.4 L569.1 593.4 L568.6 593.4 L568.1 593.4 L567.6 593.4 L567.1 593.4 L566.6 593.4 L566.1 593.4 L565.6 593.4 L565.1 593.4 L564.6 593.4 L564.1 593.4 L563.6 593.4 L563.1 593.4 L562.6 593.4 L562.1 593.4 L561.6 593.4 L561.1 593.4 L560.6 593.4 L560.1 593.4 L559.6 593.4 L559.1 593.4 L558.6 593.4 L558.1 593.4 L557.6 593.5 L557.1 593.5 L556.6 593.5 L556.1 593.5 L555.6 593.5 L555.1 593.5 L554.6 593.5 L554.1 593.5 L553.6 593.5 L553.1 593.5 L552.6 593.5 L552.1 593.5 L551.6 593.5 L551.1 593.5 L550.6 593.5 L550.1 593.5 L549.6 593.5 L549.1 593.5 L548.6 593.5 L548.1 593.5 L547.6 593.5 L547.1 593.5 L546.6 593.5 L546.1 593.5 L545.6 593.5 L545.1 593.5 L544.6 593.5 L544.1 593.5 L543.6 593.5 L543.1 593.5 L542.6 593.5 L542.1 593.5 L541.6 593.5 L541.1 593.5 L540.6 593.5 L540.1 593.5 L539.6 593.5 L539.1 593.5 L538.6 593.5 L538.1 593.5 L537.6 593.5 L537.1 593.5 L536.6 593.5 L536.1 593.5 L535.6 593.5 L535.1 593.5 L534.6 593.5 L534.1 593.5 L533.6 593.5 L533.1 593.5 L532.6 593.5 L532.1 593.5 L531.6 593.5 L531.1 593.5 L530.6 593.5 L530.1 593.5 L529.6 593.5 L529.1 593.5 L528.6 593.5 L528.1 593.5 L527.6 593.5 L527.1 593.5 L526.6 593.5 L526.1 593.5 L525.6 593.5 L525.1 593.5 L524.6 593.5 L524.1 593.5 L523.6 593.5 L523.1 593.5 L522.6 593.5 L522.1 593.5 L521.6 593.5 L521.1 593.5 L520.6 593.5 L520.1 593.5 L519.6 593.5 L519.1 593.5 L518.6 593.5 L518.1 593.5 L517.6 593.5 L517.1 593.5 L516.6 593.5 L516.1 593.5 L515.6 593.5 L515.1 593.6 L514.6 593.6 L514.1 593.6 L513.6 593.6 L513.1 593.6 L512.6 593.6 L512.1 593.6 L511.6 593.6 L511.1 593.6 L510.6 593.6 L510.1 593.6 L509.6 593.6 L509.1 593.6 L508.6 593.6 L508.1 593.6 L507.6 593.6 L507.1 593.6 L506.6 593.6 L506.1 593.6 L505.6 593.6 L505.1 593.6 L504.6 593.6 L504.1 593.6 L503.6 593.6 L503.1 593.6 L502.6 593.6 L502.1 593.6 L501.6 593.6 L501.1 593.6 L500.6 593.6 L500.1 593.6 L499.6 593.6 L499.1 593.6 L498.6 593.6 L498.1 593.6 L497.6 593.6 L497.1 593.6 L496.6 593.6 L496.1 593.6 L495.6 593.6 L495.1 593.6 L494.6 593.6 L494.1 593.6 L493.6 593.6 L493.1 593.6 L492.6 593.7 L492.1 593.7 L491.6 593.7 L491.1 593.7 L490.6 593.7 L490.1 593.7 L489.6 593.7 L489.1 593.7 L488.6 593.7 L488.1 593.7 L487.6 593.7 L487.1 593.7 L486.6 593.7 L486.1 593.7 L485.6 593.7 L485.1 593.7 L484.6 593.7 L484.1 593.7 L483.6 593.7 L483.1 593.7 L482.6 593.7 L482.1 593.7 L481.6 593.7 L481.1 593.7 L480.6 593.7 L480.1 593.7 L479.6 593.7 L479.1 593.7 L478.6 593.7 L478.1 593.7 L477.6 593.7 L477.1 593.7 L476.6 593.7 L476.1 593.7 L475.6 593.7 L475.1 593.7 L474.6 593.7 L474.1 593.7 L473.6 593.8 L473.1 593.8 L472.6 593.8 L472.1 593.8 L471.6 593.8 L471.1 593.8 L470.6 593.8 L470.1 593.8 L469.6 593.8 L469.1 593.8 L468.6 593.8 L468.1 593.8 L467.6 593.8 L467.1 593.8 L466.6 593.8 L466.1 593.8 L465.6 593.8 L465.1 593.8 L464.6 593.8 L464.1 593.8 L463.6 593.8 L463.1 593.9 L462.6 593.9 L462.1 593.9 L461.6 593.9 L461.1 593.9 L460.6 593.9 L460.1 593.9 L459.6 593.9 L459.1 593.9 L458.6 593.9 L458.1 593.9 L457.6 593.9 L457.1 593.9 L456.6 593.9 L456.1 593.9 L455.6 593.9 L455.1 593.9 L454.6 593.9 L454.1 593.9 L453.6 593.9 L453.1 593.9 L452.6 593.9 L452.1 593.9 L451.6 593.9 L451.1 593.9 L450.6 593.9 L450.1 593.9 L449.6 593.9 L449.1 593.9 L448.6 593.9 L448.1 593.9 L447.6 593.9 L447.1 593.9 L446.6 593.9 L446.1 594.0 L445.6 594.0 L445.1 594.0 L444.6 594.0 L444.1 594.0 L443.6 594.0 L443.1 594.0 L442.6 594.0 L442.1 594.0 L441.6 594.0 L441.1 594.0 L440.6 594.1 L440.1 594.1 L439.6 594.1 L439.1 594.1 L438.6 594.1 L438.1 594.1 L437.6 594.1 L437.1 594.1 L436.6 594.1 L436.1 594.1 L435.6 594.1 L435.1 594.1 L434.6 594.2 L434.1 594.2 L433.6 594.2 L433.1 594.2 L432.6 594.2 L432.1 594.2 L431.6 594.2 L431.1 594.2 L430.6 594.2 L430.1 594.2 L429.6 594.2 L429.1 594.2 L428.6 594.2 L428.1 594.2 L427.6 594.2 L427.1 594.2 L426.6 594.2 L426.1 594.2 L425.6 594.2 L425.1 594.2 L424.6 594.2 L424.1 594.3 L423.6 594.3 L423.1 594.3 L422.6 594.3 L422.1 594.3 L421.6 594.3 L421.1 594.3 L420.6 594.3 L420.1 594.4 L419.6 594.4 L419.1 594.4 L418.6 594.4 L418.1 594.4 L417.6 594.4 L417.1 594.4 L416.6 594.5 L416.1 594.5 L415.6 594.5 L415.1 594.5 L414.6 594.5 L414.1 594.5 L413.6 594.5 L413.1 594.5 L412.6 594.5 L412.1 594.6 L411.6 594.6 L411.1 594.6 L410.6 594.6 L410.1 594.6 L409.6 594.6 L409.1 594.6 L408.6 594.6 L408.1 594.6 L407.6 594.6 L407.1 594.6 L406.6 594.6 L406.1 594.6 L405.6 594.6 L405.1 594.6 L404.6 594.6 L404.1 594.6 L403.6 594.6 L403.1 594.6 L402.6 594.6 L402.1 594.6 L401.6 594.7 L401.1 594.7 L400.6 594.7 L400.1 594.7 L399.6 594.7 L399.1 594.7 L398.6 594.7 L398.1 594.7 L397.6 594.7 L397.1 594.7 L396.6 594.8 L396.1 594.8 L395.6 594.8 L395.1 594.8 L394.6 594.8 L394.1 594.8 L393.6 594.8 L393.1 594.9 L392.6 594.9 L392.1 594.9 L391.6 594.9 L391.1 594.9 L390.6 594.9 L390.1 594.9 L389.6 594.9 L389.1 594.9 L388.6 594.9 L388.1 594.9 L387.6 594.9 L387.1 594.9 L386.6 594.9 L386.1 594.9 L385.6 594.9 L385.1 594.9 L384.6 594.9 L384.1 594.9 L383.6 594.9 L383.1 594.9 L382.6 594.9 L382.1 594.9 L381.6 594.9 L381.1 594.9 L380.6 594.9 L380.1 594.9 L379.6 594.9 L379.1 594.9 L378.6 594.9 L378.1 594.9 L377.6 594.9 L377.1 594.9 L376.6 595.0 L376.1 595.0 L375.6 595.0 L375.1 595.0 L374.6 595.0 L374.1 595.0 L373.6 595.0 L373.1 595.0 L372.6 595.0 L372.1 595.0 L371.6 595.1 L371.1 595.1 L370.6 595.1 L370.1 595.1 L369.6 595.1 L369.1 595.1 L368.6 595.1 L368.1 595.1 L367.6 595.1 L367.1 595.1 L366.6 595.1 L366.1 595.2 L365.6 595.1 L365.1 595.1 L364.6 595.1 L364.1 595.1 L363.6 595.1 L363.1 595.1 L362.6 595.1 L362.1 595.1 L361.6 595.1 L361.1 595.1 L360.6 595.1 L360.1 595.1 L359.6 595.0 L359.1 595.0 L358.6 595.0 L358.1 595.0 L357.6 595.0 L357.1 595.0 L356.6 595.0 L356.1 595.0 L355.6 595.0 L355.1 595.0 L354.6 595.0 L354.1 595.0 L353.6 595.0 L353.1 595.0 L352.6 595.0 L352.1 595.0 L351.6 595.0 L351.1 595.0 L350.6 595.0 L350.1 595.0 L349.6 595.1 L349.1 595.1 L348.6 595.1 L348.1 595.1 L347.6 595.1 L347.1 595.1 L346.6 595.1 L346.1 595.1 L345.6 595.2 L345.1 595.2 L344.6 595.2 L344.1 595.2 L343.6 595.2 L343.1 595.2 L342.6 595.2 L342.1 595.2 L341.6 595.2 L341.1 595.2 L340.6 595.2 L340.1 595.2 L339.6 595.2 L339.1 595.2 L338.6 595.2 L338.1 595.2 L337.6 595.2 L337.1 595.2 L336.6 595.2 L336.1 595.1 L335.6 595.1 L335.1 595.1 L334.6 595.1 L334.1 595.1 L333.6 595.1 L333.1 595.1 L332.6 595.1 L332.1 595.0 L331.6 595.0 L331.1 595.0 L330.6 595.0 L330.1 595.0 L329.6 595.0 L329.1 595.0 L328.6 595.0 L328.1 595.1 L327.6 595.1 L327.1 595.1 L326.6 595.1 L326.1 595.1 L325.6 595.1 L325.1 595.1 L324.6 595.2 L324.1 595.2 L323.6 595.2 L323.1 595.2 L322.6 595.2 L322.1 595.2 L321.6 595.3 L321.1 595.3 L320.6 595.3 L320.1 595.3 L319.6 595.3 L319.1 595.3 L318.6 595.3 L318.1 595.3 L317.6 595.3 L317.1 595.3 L316.6 595.3 L316.1 595.3 L315.6 595.2 L315.1 595.2 L314.6 595.2 L314.1 595.2 L313.6 595.1 L313.1 595.1 L312.6 595.1 L312.1 595.0 L311.6 595.0 L311.1 595.0 L310.6 594.9 L310.1 594.9 L309.6 594.9 L309.1 594.8 L308.6 594.8 L308.1 594.8 L307.6 594.8 L307.1 594.7 L306.6 594.7 L306.1 594.7 L305.6 594.7 L305.1 594.7 L304.6 594.7 L304.1 594.7 L303.6 594.7 L303.1 594.7 L302.6 594.8 L302.1 594.8 L301.6 594.8 L301.1 594.8 L300.6 594.8 L300.1 594.9 L299.6 594.9 L299.1 594.9 L298.6 594.9 L298.1 594.9 L297.6 595.0 L297.1 595.0 L296.6 595.0 L296.1 595.0 L295.6 595.0 L295.1 594.9 L294.6 594.9 L294.1 594.9 L293.6 594.9 L293.1 594.8 L292.6 594.8 L292.1 594.7 L291.6 594.7 L291.1 594.6 L290.6 594.5 L290.1 594.5 L289.6 594.4 L289.1 594.3 L288.6 594.2 L288.1 594.1 L287.6 594.1 L287.1 594.0 L286.6 593.9 L286.1 593.8 L285.6 593.8 L285.1 593.7 L284.6 593.6 L284.1 593.6 L283.6 593.5 L283.1 593.5 L282.6 593.5 L282.1 593.4 L281.6 593.4 L281.1 593.4 L280.6 593.4 L280.1 593.4 L279.6 593.4 L279.1 593.4 L278.6 593.4 L278.1 593.4 L277.6 593.4 L277.1 593.4 L276.6 593.5 L276.1 593.5 L275.6 593.5 L275.1 593.5 L274.6 593.5 L274.1 593.5 L273.6 593.5 L273.1 593.5 L272.6 593.5 L272.1 593.5 L271.6 593.5 L271.1 593.4 L270.6 593.4 L270.1 593.4 L269.6 593.3 L269.1 593.3 L268.6 593.2 L268.1 593.1 L267.6 593.1 L267.1 593.0 L266.6 592.9 L266.1 592.8 L265.6 592.7 L265.1 592.6 L264.6 592.5 L264.1 592.4 L263.6 592.3 L263.1 592.2 L262.6 592.1 L262.1 592.0 L261.6 592.0 L261.1 591.9 L260.6 591.8 L260.1 591.7 L259.6 591.7 L259.1 591.6 L258.6 591.5 L258.1 591.5 L257.6 591.5 L257.1 591.4 L256.6 591.4 L256.1 591.4 L255.6 591.4 L255.1 591.4 L254.6 591.4 L254.1 591.4 L253.6 591.4 L253.1 591.4 L252.6 591.4 L252.1 591.4 L251.6 591.4 L251.1 591.4 L250.6 591.4 L250.1 591.4 L249.6 591.4 L249.1 591.3 L248.6 591.3 L248.1 591.3 L247.6 591.3 L247.1 591.2 L246.6 591.2 L246.1 591.1 L245.6 591.0 L245.1 591.0 L244.6 590.9 L244.1 590.8 L243.6 590.7 L243.1 590.6 L242.6 590.4 L242.1 590.3 L241.6 590.2 L241.1 590.0 L240.6 589.9 L240.1 589.7 L239.6 589.6 L239.1 589.4 L238.6 589.3 L238.1 589.1 L237.6 589.0 L237.1 588.9 L236.6 588.7 L236.1 588.6 L235.6 588.5 L235.1 588.4 L234.6 588.3 L234.1 588.2 L233.6 588.2 L233.1 588.1 L232.6 588.0 L232.1 588.0 L231.6 588.0 L231.1 587.9 L230.6 587.9 L230.1 587.9 L229.6 587.9 L229.1 587.9 L228.6 587.9 L228.1 587.9 L227.6 587.8 L227.1 587.8 L226.6 587.8 L226.1 587.7 L225.6 587.7 L225.1 587.6 L224.6 587.6 L224.1 587.5 L223.6 587.4 L223.1 587.3 L222.6 587.2 L222.1 587.1 L221.6 586.9 L221.1 586.8 L220.6 586.6 L220.1 586.4 L219.6 586.2 L219.1 586.0 L218.6 585.8 L218.1 585.6 L217.6 585.3 L217.1 585.1 L216.6 584.9 L216.1 584.6 L215.6 584.4 L215.1 584.2 L214.6 583.9 L214.1 583.7 L213.6 583.5 L213.1 583.3 L212.6 583.1 L212.1 583.0 L211.6 582.8 L211.1 582.7 L210.6 582.5 L210.1 582.4 L209.6 582.3 L209.1 582.2 L208.6 582.1 L208.1 582.1 L207.6 582.0 L207.1 582.0 L206.6 582.0 L206.1 581.9 L205.6 581.9 L205.1 581.9 L204.6 581.9 L204.1 581.9 L203.6 581.9 L203.1 581.9 L202.6 581.8 L202.1 581.8 L201.6 581.8 L201.1 581.8 L200.6 581.7 L200.1 581.7 L199.6 581.6 L199.1 581.5 L198.6 581.4 L198.1 581.3 L197.6 581.2 L197.1 581.1 L196.6 580.9 L196.1 580.8 L195.6 580.6 L195.1 580.4 L194.6 580.3 L194.1 580.1 L193.6 579.9 L193.1 579.7 L192.6 579.4 L192.1 579.2 L191.6 579.0 L191.1 578.8 L190.6 578.6 L190.1 578.4 L189.6 578.2 L189.1 578.0 L188.6 577.8 L188.1 577.6 L187.6 577.4 L187.1 577.3 L186.6 577.1 L186.1 577.0 L185.6 576.9 L185.1 576.8 L184.6 576.7 L184.1 576.6 L183.6 576.6 L183.1 576.5 L182.6 576.5 L182.1 576.4 L181.6 576.4 L181.1 576.4 L180.6 576.3 L180.1 576.3 L179.6 576.3 L179.1 576.3 L178.6 576.2 L178.1 576.2 L177.6 576.1 L177.1 576.1 L176.6 576.0 L176.1 575.9 L175.6 575.8 L175.1 575.7 L174.6 575.6 L174.1 575.4 L173.6 575.2 L173.1 575.0 L172.6 574.8 L172.1 574.6 L171.6 574.4 L171.1 574.1 L170.6 573.9 L170.1 573.6 L169.6 573.3 L169.1 573.0 L168.6 572.7 L168.1 572.4 L167.6 572.1 L167.1 571.8 L166.6 571.5 L166.1 571.2 L165.6 570.9 L165.1 570.6 L164.6 570.3 L164.1 570.1 L163.6 569.9 L163.1 569.6 L162.6 569.4 L162.1 569.2 L161.6 569.1 L161.1 568.9 L160.6 568.8 L160.1 568.7 L159.6 568.6 L159.1 568.5 L158.6 568.4 L158.1 568.3 L157.6 568.2 L157.1 568.2 L156.6 568.1 L156.1 568.1 L155.6 568.0 L155.1 567.9 L154.6 567.9 L154.1 567.8 L153.6 567.7 L153.1 567.6 L152.6 567.4 L152.1 567.3 L151.6 567.1 L151.1 567.0 L150.6 566.8 L150.1 566.5 L149.6 566.3 L149.1 566.1 L148.6 565.8 L148.1 565.5 L147.6 565.2 L147.1 564.8 L146.6 564.5 L146.1 564.1 L145.6 563.8 L145.1 563.4 L144.6 563.0 L144.1 562.6 L143.6 562.2 L143.1 561.9 L142.6 561.5 L142.1 561.1 L141.6 560.8 L141.1 560.4 L140.6 560.1 L140.1 559.8 L139.6 559.5 L139.1 559.2 L138.6 559.0 L138.1 558.7 L137.6 558.5 L137.1 558.3 L136.6 558.2 L136.1 558.0 L135.6 557.9 L135.1 557.7 L134.6 557.6 L134.1 557.5 L133.6 557.4 L133.1 557.4 L132.6 557.3 L132.1 557.2 L131.6 557.1 L131.1 557.1 L130.6 557.0 L130.1 556.9 L129.6 556.8 L129.1 556.6 L128.6 556.5 L128.1 556.4 L127.6 556.2 L127.1 556.0 L126.6 555.8 L126.1 555.6 L125.6 555.3 L125.1 555.0 L124.6 554.8 L124.1 554.4 L123.6 554.1 L123.1 553.8 L122.6 553.4 L122.1 553.1 L121.6 552.7 L121.1 552.3 L120.6 551.9 L120.1 551.5 L119.6 551.2 L119.1 550.8 L118.6 550.4 L118.1 550.1 L117.6 549.7 L117.1 549.4 L116.6 549.1 L116.1 548.8 L115.6 548.5 L115.1 548.3 L114.6 548.0 L114.1 547.8 L113.6 547.6 L113.1 547.5 L112.6 547.3 L112.1 547.2 L111.6 547.1 L111.1 547.0 L110.6 546.9 L110.1 546.8 L109.6 546.8 L109.1 546.7 L108.6 546.7 L108.1 546.6 L107.6 546.6 L107.1 546.5 L106.6 546.5Z" fill="#b6caf1"/>
<path d="M106.6 501.6 L107.1 501.5 L107.6 501.4 L108.1 501.3 L108.6 501.2 L109.1 501.2 L109.6 501.1 L110.1 501.0 L110.6 500.9 L111.1 500.7 L111.6 500.6 L112.1 500.4 L112.6 500.3 L113.1 500.1 L113.6 499.8 L114.1 499.6 L114.6 499.3 L115.1 499.1 L115.6 498.8 L116.1 498.4 L116.6 498.1 L117.1 497.7 L117.6 497.4 L118.1 497.0 L118.6 496.6 L119.1 496.2 L119.6 495.8 L120.1 495.4 L120.6 495.0 L121.1 494.6 L121.6 494.2 L122.1 493.8 L122.6 493.5 L123.1 493.1 L123.6 492.7 L124.1 492.4 L124.6 492.1 L125.1 491.8 L125.6 491.6 L126.1 491.3 L126.6 491.1 L127.1 490.9 L127.6 490.7 L128.1 490.5 L128.6 490.4 L129.1 490.2 L129.6 490.1 L130.1 490.0 L130.6 489.9 L131.1 489.8 L131.6 489.7 L132.1 489.7 L132.6 489.6 L133.1 489.5 L133.6 489.4 L134.1 489.3 L134.6 489.3 L135.1 489.1 L135.6 489.0 L136.1 488.9 L136.6 488.7 L137.1 488.6 L137.6 488.4 L138.1 488.2 L138.6 487.9 L139.1 487.7 L139.6 487.4 L140.1 487.1 L140.6 486.8 L141.1 486.5 L141.6 486.2 L142.1 485.8 L142.6 485.5 L143.1 485.1 L143.6 484.7 L144.1 484.4 L144.6 484.0 L145.1 483.6 L145.6 483.2 L146.1 482.9 L146.6 482.5 L147.1 482.2 L147.6 481.9 L148.1 481.6 L148.6 481.3 L149.1 481.0 L149.6 480.8 L150.1 480.5 L150.6 480.3 L151.1 480.1 L151.6 479.9 L152.1 479.8 L152.6 479.6 L153.1 479.5 L153.6 479.4 L154.1 479.3 L154.6 479.2 L155.1 479.2 L155.6 479.1 L156.1 479.1 L156.6 479.0 L157.1 478.9 L157.6 478.9 L158.1 478.8 L158.6 478.7 L159.1 478.7 L159.6 478.6 L160.1 478.5 L160.6 478.3 L161.1 478.2 L161.6 478.1 L162.1 477.9 L162.6 477.7 L163.1 477.5 L163.6 477.3 L164.1 477.1 L164.6 476.8 L165.1 476.6 L165.6 476.3 L166.1 476.0 L166.6 475.7 L167.1 475.4 L167.6 475.1 L168.1 474.8 L168.6 474.5 L169.1 474.3 L169.6 474.0 L170.1 473.7 L170.6 473.4 L171.1 473.1 L171.6 472.9 L172.1 472.7 L172.6 472.4 L173.1 472.2 L173.6 472.1 L174.1 471.9 L174.6 471.7 L175.1 471.6 L175.6 471.5 L176.1 471.4 L176.6 471.3 L177.1 471.2 L177.6 471.2 L178.1 471.1 L178.6 471.1 L179.1 471.1 L179.6 471.0 L180.1 471.0 L180.6 471.0 L181.1 471.0 L181.6 471.0 L182.1 470.9 L182.6 470.9 L183.1 470.8 L183.6 470.8 L184.1 470.7 L184.6 470.7 L185.1 470.6 L185.6 470.5 L186.1 470.4 L186.6 470.2 L187.1 470.1 L187.6 469.9 L188.1 469.8 L188.6 469.6 L189.1 469.4 L189.6 469.2 L190.1 469.0 L190.6 468.8 L191.1 468.6 L191.6 468.4 L192.1 468.2 L192.6 468.0 L193.1 467.8 L193.6 467.6 L194.1 467.4 L194.6 467.2 L195.1 467.0 L195.6 466.9 L196.1 466.7 L196.6 466.5 L197.1 466.4 L197.6 466.3 L198.1 466.2 L198.6 466.1 L199.1 466.0 L199.6 465.9 L200.1 465.9 L200.6 465.8 L201.1 465.8 L201.6 465.7 L202.1 465.7 L202.6 465.7 L203.1 465.7 L203.6 465.7 L204.1 465.6 L204.6 465.6 L205.1 465.6 L205.6 465.6 L206.1 465.6 L206.6 465.6 L207.1 465.5 L207.6 465.5 L208.1 465.5 L208.6 465.4 L209.1 465.3 L209.6 465.2 L210.1 465.1 L210.6 465.0 L211.1 464.9 L211.6 464.8 L212.1 464.6 L212.6 464.4 L213.1 464.3 L213.6 464.1 L214.1 463.9 L214.6 463.6 L215.1 463.4 L215.6 463.2 L216.1 463.0 L216.6 462.7 L217.1 462.5 L217.6 462.3 L218.1 462.1 L218.6 461.8 L219.1 461.6 L219.6 461.4 L220.1 461.2 L220.6 461.1 L221.1 460.9 L221.6 460.7 L222.1 460.6 L222.6 460.5 L223.1 460.3 L223.6 460.2 L224.1 460.2 L224.6 460.1 L225.1 460.0 L225.6 460.0 L226.1 459.9 L226.6 459.9 L227.1 459.9 L227.6 459.8 L228.1 459.8 L228.6 459.8 L229.1 459.8 L229.6 459.8 L230.1 459.8 L230.6 459.8 L231.1 459.7 L231.6 459.7 L232.1 459.7 L232.6 459.6 L233.1 459.6 L233.6 459.5 L234.1 459.5 L234.6 459.4 L235.1 459.3 L235.6 459.2 L236.1 459.1 L236.6 459.0 L237.1 458.9 L237.6 458.7 L238.1 458.6 L238.6 458.5 L239.1 458.3 L239.6 458.2 L240.1 458.0 L240.6 457.9 L241.1 457.7 L241.6 457.6 L242.1 457.5 L242.6 457.3 L243.1 457.2 L243.6 457.1 L244.1 457.0 L244.6 456.9 L245.1 456.8 L245.6 456.7 L246.1 456.7 L246.6 456.6 L247.1 456.6 L247.6 456.5 L248.1 456.5 L248.6 456.5 L249.1 456.5 L249.6 456.4 L250.1 456.4 L250.6 456.4 L251.1 456.4 L251.6 456.4 L252.1 456.4 L252.6 456.4 L253.1 456.5 L253.6 456.5 L254.1 456.5 L254.6 456.5 L255.1 456.5 L255.6 456.5 L256.1 456.4 L256.6 456.4 L257.1 456.4 L257.6 456.4 L258.1 456.3 L258.6 456.3 L259.1 456.2 L259.6 456.2 L260.1 456.1 L260.6 456.0 L261.1 456.0 L261.6 455.9 L262.1 455.8 L262.6 455.7 L263.1 455.6 L263.6 455.5 L264.1 455.4 L264.6 455.3 L265.1 455.2 L265.6 455.1 L266.1 455.1 L266.6 455.0 L267.1 454.9 L267.6 454.8 L268.1 454.7 L268.6 454.7 L269.1 454.6 L269.6 454.6 L270.1 454.5 L270.6 454.5 L271.1 454.5 L271.6 454.4 L272.1 454.4 L272.6 454.4 L273.1 454.4 L273.6 454.4 L274.1 454.4 L274.6 454.4 L275.1 454.4 L275.6 454.4 L276.1 454.4 L276.6 454.5 L277.1 454.5 L277.6 454.5 L278.1 454.5 L278.6 454.5 L279.1 454.5 L279.6 454.5 L280.1 454.5 L280.6 454.5 L281.1 454.5 L281.6 454.5 L282.1 454.5 L282.6 454.5 L283.1 454.4 L283.6 454.4 L284.1 454.4 L284.6 454.3 L285.1 454.2 L285.6 454.2 L286.1 454.1 L286.6 454.0 L287.1 454.0 L287.6 453.9 L288.1 453.8 L288.6 453.7 L289.1 453.7 L289.6 453.6 L290.1 453.5 L290.6 453.4 L291.1 453.4 L291.6 453.3 L292.1 453.2 L292.6 453.2 L293.1 453.2 L293.6 453.1 L294.1 453.1 L294.6 453.1 L295.1 453.0 L295.6 453.0 L296.1 453.0 L296.6 453.0 L297.1 453.0 L297.6 453.0 L298.1 453.1 L298.6 453.1 L299.1 453.1 L299.6 453.1 L300.1 453.1 L300.6 453.2 L301.1 453.2 L301.6 453.2 L302.1 453.2 L302.6 453.2 L303.1 453.3 L303.6 453.3 L304.1 453.3 L304.6 453.3 L305.1 453.3 L305.6 453.3 L306.1 453.3 L306.6 453.3 L307.1 453.3 L307.6 453.3 L308.1 453.2 L308.6 453.2 L309.1 453.2 L309.6 453.2 L310.1 453.1 L310.6 453.1 L311.1 453.1 L311.6 453.0 L312.1 453.0 L312.6 453.0 L313.1 452.9 L313.6 452.9 L314.1 452.9 L314.6 452.8 L315.1 452.8 L315.6 452.8 L316.1 452.8 L316.6 452.8 L317.1 452.8 L317.6 452.8 L318.1 452.7 L318.6 452.8 L319.1 452.8 L319.6 452.8 L320.1 452.8 L320.6 452.8 L321.1 452.8 L321.6 452.8 L322.1 452.8 L322.6 452.8 L323.1 452.9 L323.6 452.9 L324.1 452.9 L324.6 452.9 L325.1 452.9 L325.6 453.0 L326.1 453.0 L326.6 453.0 L327.1 453.0 L327.6 453.0 L328.1 453.0 L328.6 453.0 L329.1 453.0 L329.6 453.0 L330.1 453.0 L330.6 453.0 L331.1 453.0 L331.6 453.0 L332.1 453.0 L332.6 453.0 L333.1 453.0 L333.6 453.0 L334.1 453.0 L334.6 453.0 L335.1 453.0 L335.6 453.0 L336.1 453.0 L336.6 452.9 L337.1 452.9 L337.6 452.9 L338.1 452.9 L338.6 452.9 L339.1 452.9 L339.6 452.9 L340.1 452.9 L340.6 452.9 L341.1 452.9 L341.6 452.9 L342.1 452.9 L342.6 452.9 L343.1 452.9 L343.6 452.9 L344.1 452.9 L344.6 452.9 L345.1 453.0 L345.6 453.0 L346.1 453.0 L346.6 453.0 L347.1 453.0 L347.6 453.0 L348.1 453.0 L348.6 453.1 L349.1 453.1 L349.6 453.1 L350.1 453.1 L350.6 453.1 L351.1 453.1 L351.6 453.1 L352.1 453.1 L352.6 453.1 L353.1 453.1 L353.6 453.1 L354.1 453.2 L354.6 453.2 L355.1 453.2 L355.6 453.2 L356.1 453.1 L356.6 453.1 L357.1 453.1 L357.6 453.1 L358.1 453.1 L358.6 453.1 L359.1 453.1 L359.6 453.1 L360.1 453.1 L360.6 453.1 L361.1 453.1 L361.6 453.1 L362.1 453.0 L362.6 453.0 L363.1 453.0 L363.6 453.0 L364.1 453.0 L364.6 453.0 L365.1 453.0 L365.6 453.0 L366.1 453.0 L366.6 453.0 L367.1 453.0 L367.6 453.0 L368.1 453.0 L368.6 453.0 L369.1 453.1 L369.6 453.1 L370.1 453.1 L370.6 453.1 L371.1 453.1 L371.6 453.1 L372.1 453.1 L372.6 453.1 L373.1 453.2 L373.6 453.2 L374.1 453.2 L374.6 453.2 L375.1 453.2 L375.6 453.2 L376.1 453.2 L376.6 453.2 L377.1 453.2 L377.6 453.2 L378.1 453.2 L378.6 453.3 L379.1 453.3 L379.6 453.3 L380.1 453.3 L380.6 453.3 L381.1 453.3 L381.6 453.3 L382.1 453.3 L382.6 453.3 L383.1 453.3 L383.6 453.3 L384.1 453.3 L384.6 453.3 L385.1 453.3 L385.6 453.3 L386.1 453.3 L386.6 453.3 L387.1 453.3 L387.6 453.3 L388.1 453.3 L388.6 453.3 L389.1 453.3 L389.6 453.3 L390.1 453.3 L390.6 453.3 L391.1 453.3 L391.6 453.3 L392.1 453.3 L392.6 453.3 L393.1 453.4 L393.6 453.4 L394.1 453.4 L394.6 453.4 L395.1 453.4 L395.6 453.4 L396.1 453.4 L396.6 453.5 L397.1 453.5 L397.6 453.5 L398.1 453.5 L398.6 453.5 L399.1 453.5 L399.6 453.5 L400.1 453.5 L400.6 453.5 L401.1 453.6 L401.6 453.6 L402.1 453.6 L402.6 453.6 L403.1 453.6 L403.6 453.6 L404.1 453.6 L404.6 453.6 L405.1 453.6 L405.6 453.6 L406.1 453.6 L406.6 453.6 L407.1 453.6 L407.6 453.6 L408.1 453.6 L408.6 453.6 L409.1 453.6 L409.6 453.6 L410.1 453.7 L410.6 453.7 L411.1 453.7 L411.6 453.7 L412.1 453.7 L412.6 453.7 L413.1 453.7 L413.6 453.7 L414.1 453.7 L414.6 453.7 L415.1 453.8 L415.6 453.8 L416.1 453.8 L416.6 453.8 L417.1 453.8 L417.6 453.8 L418.1 453.8 L418.6 453.9 L419.1 453.9 L419.6 453.9 L420.1 453.9 L420.6 453.9 L421.1 453.9 L421.6 453.9 L422.1 453.9 L422.6 454.0 L423.1 454.0 L423.6 454.0 L424.1 454.0 L424.6 454.0 L425.1 454.0 L425.6 454.0 L426.1 454.0 L426.6 454.0 L427.1 454.0 L427.6 454.0 L428.1 454.0 L428.6 454.1 L429.1 454.1 L429.6 454.1 L430.1 454.1 L430.6 454.1 L431.1 454.1 L431.6 454.1 L432.1 454.1 L432.6 454.1 L433.1 454.1 L433.6 454.1 L434.1 454.1 L434.6 454.1 L435.1 454.1 L435.6 454.1 L436.1 454.1 L436.6 454.1 L437.1 454.1 L437.6 454.2 L438.1 454.2 L438.6 454.2 L439.1 454.2 L439.6 454.2 L440.1 454.2 L440.6 454.2 L441.1 454.2 L441.6 454.2 L442.1 454.2 L442.6 454.3 L443.1 454.3 L443.6 454.3 L444.1 454.3 L444.6 454.3 L445.1 454.3 L445.6 454.3 L446.1 454.3 L446.6 454.3 L447.1 454.3 L447.6 454.3 L448.1 454.3 L448.6 454.4 L449.1 454.4 L449.6 454.4 L450.1 454.4 L450.6 454.4 L451.1 454.4 L451.6 454.4 L452.1 454.4 L452.6 454.4 L453.1 454.4 L453.6 454.4 L454.1 454.4 L454.6 454.4 L455.1 454.4 L455.6 454.4 L456.1 454.4 L456.6 454.4 L457.1 454.4 L457.6 454.4 L458.1 454.4 L458.6 454.4 L459.1 454.4 L459.6 454.4 L460.1 454.4 L460.6 454.4 L461.1 454.4 L461.6 454.4 L462.1 454.4 L462.6 454.4 L463.1 454.4 L463.6 454.4 L464.1 454.5 L464.6 454.5 L465.1 454.5 L465.6 454.5 L466.1 454.5 L466.6 454.5 L467.1 454.5 L467.6 454.5 L468.1 454.5 L468.6 454.5 L469.1 454.5 L469.6 454.5 L470.1 454.5 L470.6 454.5 L471.1 454.5 L471.6 454.5 L472.1 454.5 L472.6 454.5 L473.1 454.5 L473.6 454.5 L474.1 454.6 L474.6 454.6 L475.1 454.6 L475.6 454.6 L476.1 454.6 L476.6 454.6 L477.1 454.6 L477.6 454.6 L478.1 454.6 L478.6 454.6 L479.1 454.6 L479.6 454.6 L480.1 454.6 L480.6 454.6 L481.1 454.6 L481.6 454.6 L482.1 454.6 L482.6 454.6 L483.1 454.6 L483.6 454.6 L484.1 454.6 L484.6 454.6 L485.1 454.6 L485.6 454.6 L486.1 454.6 L486.6 454.6 L487.1 454.6 L487.6 454.6 L488.1 454.6 L488.6 454.6 L489.1 454.6 L489.6 454.6 L490.1 454.6 L490.6 454.6 L491.1 454.6 L491.6 454.7 L492.1 454.7 L492.6 454.7 L493.1 454.7 L493.6 454.7 L494.1 454.7 L494.6 454.7 L495.1 454.7 L495.6 454.7 L496.1 454.7 L496.6 454.7 L497.1 454.7 L497.6 454.7 L498.1 454.7 L498.6 454.7 L499.1 454.7 L499.6 454.7 L500.1 454.7 L500.6 454.7 L501.1 454.7 L501.6 454.7 L502.1 454.7 L502.6 454.7 L503.1 454.7 L503.6 454.7 L504.1 454.7 L504.6 454.7 L505.1 454.7 L505.6 454.7 L506.1 454.7 L506.6 454.7 L507.1 454.7 L507.6 454.7 L508.1 454.7 L508.6 454.7 L509.1 454.7 L509.6 454.7 L510.1 454.7 L510.6 454.7 L511.1 454.8 L511.6 454.8 L512.1 454.8 L512.6 454.8 L513.1 454.8 L513.6 454.8 L514.1 454.8 L514.6 454.8 L515.1 454.8 L515.6 454.8 L516.1 454.8 L516.6 454.8 L517.1 454.8 L517.6 454.8 L518.1 454.8 L518.6 454.8 L519.1 454.8 L519.6 454.8 L520.1 454.8 L520.6 454.8 L521.1 454.8 L521.6 454.8 L522.1 454.8 L522.6 454.8 L523.1 454.8 L523.6 454.8 L524.1 454.8 L524.6 454.8 L525.1 454.8 L525.6 454.8 L526.1 454.8 L526.6 454.8 L527.1 454.8 L527.6 454.8 L528.1 454.8 L528.6 454.8 L529.1 454.8 L529.6 454.8 L530.1 454.8 L530.6 454.8 L531.1 454.8 L531.6 454.8 L532.1 454.8 L532.6 454.8 L533.1 454.8 L533.6 454.8 L534.1 454.8 L534.6 454.8 L535.1 454.8 L535.6 454.9 L536.1 454.9 L536.6 454.9 L537.1 454.9 L537.6 454.9 L538.1 454.9 L538.6 454.9 L539.1 454.9 L539.6 454.9 L540.1 454.9 L540.6 454.9 L541.1 454.9 L541.6 454.9 L542.1 454.9 L542.6 454.9 L543.1 454.9 L543.6 454.9 L544.1 454.9 L544.6 454.9 L545.1 454.9 L545.6 454.9 L546.1 454.9 L546.6 454.9 L547.1 454.9 L547.6 454.9 L548.1 454.9 L548.6 454.9 L549.1 454.9 L549.6 454.9 L550.1 454.9 L550.6 454.9 L551.1 454.9 L551.6 454.9 L552.1 454.9 L552.6 454.9 L553.1 454.9 L553.6 454.9 L554.1 454.9 L554.6 454.9 L555.1 454.9 L555.6 454.9 L556.1 454.9 L556.6 454.9 L557.1 454.9 L557.6 454.9 L558.1 454.9 L558.6 454.9 L559.1 454.9 L559.6 454.9 L560.1 454.9 L560.6 454.9 L561.1 454.9 L561.6 454.9 L562.1 454.9 L562.6 454.9 L563.1 454.9 L563.6 454.9 L564.1 454.9 L564.6 454.9 L565.1 454.9 L565.6 454.9 L566.1 454.9 L566.6 454.9 L567.1 454.9 L567.6 454.9 L568.1 454.9 L568.6 454.9 L569.1 454.9 L569.6 454.9 L570.1 454.9 L570.6 454.9 L571.1 454.9 L571.6 454.9 L572.1 454.9 L572.6 454.9 L573.1 454.9 L573.6 454.9 L574.1 454.9 L574.6 454.9 L575.1 454.9 L575.6 454.9 L576.1 454.9 L576.6 454.9 L577.1 454.9 L577.6 454.9 L578.1 454.9 L578.6 454.9 L579.1 454.9 L579.6 454.9 L580.1 454.9 L580.6 454.9 L581.1 454.9 L581.6 454.9 L582.1 454.9 L582.6 454.9 L583.1 454.9 L583.6 454.9 L584.1 454.9 L584.6 454.9 L585.1 454.9 L585.6 454.9 L586.1 454.9 L586.6 454.9 L587.1 454.9 L587.6 454.9 L588.1 454.9 L588.6 454.9 L589.1 454.9 L589.6 454.9 L590.1 455.0 L590.6 455.0 L591.1 455.0 L591.6 455.0 L592.1 455.0 L592.6 455.0 L593.1 455.0 L593.6 455.0 L594.1 455.0 L594.6 455.0 L595.1 455.0 L595.6 455.0 L596.1 455.0 L596.6 455.0 L597.1 455.0 L597.6 455.0 L598.1 455.0 L598.6 455.0 L599.1 455.0 L599.6 455.0 L600.1 455.0 L600.6 455.0 L601.1 455.0 L601.6 455.0 L602.1 455.0 L602.6 455.0 L603.1 455.0 L603.6 455.0 L604.1 455.0 L604.6 455.0 L605.1 455.0 L605.6 455.0 L606.1 455.0 L606.6 455.0 L607.1 455.0 L607.6 455.0 L608.1 455.0 L608.6 455.0 L609.1 455.0 L609.6 455.0 L610.1 455.0 L610.6 455.0 L611.1 455.0 L611.6 455.0 L612.1 455.0 L612.6 455.0 L613.1 455.0 L613.6 455.0 L614.1 455.0 L614.6 455.0 L615.1 455.0 L615.6 455.0 L616.1 455.0 L616.6 455.0 L617.1 455.0 L617.6 455.0 L618.1 455.0 L618.6 455.0 L619.1 455.0 L619.6 455.0 L620.1 455.0 L620.6 455.0 L621.1 455.0 L621.6 455.0 L622.1 455.0 L622.6 455.0 L623.1 455.0 L623.6 455.0 L624.1 455.0 L624.6 455.0 L625.1 455.0 L625.6 455.0 L626.1 455.0 L626.6 455.0 L627.1 455.0 L627.6 455.0 L628.1 455.0 L628.6 455.0 L629.1 455.0 L629.6 455.0 L630.1 455.0 L630.6 455.0 L631.1 455.0 L631.6 455.0 L632.1 455.0 L632.6 455.0 L633.1 455.0 L633.6 455.0 L634.1 455.0 L634.6 455.0 L635.1 455.0 L635.6 455.0 L636.1 455.0 L636.6 455.0 L637.1 455.0 L637.6 455.0 L638.1 455.0 L638.6 455.0 L639.1 455.0 L639.6 455.0 L640.1 455.0 L640.6 455.0 L641.1 455.0 L641.6 455.0 L642.1 455.0 L642.6 455.0 L643.1 455.0 L643.6 455.0 L644.1 455.0 L644.6 455.0 L645.1 455.0 L645.6 455.0 L646.1 455.0 L646.6 455.0 L647.1 455.0 L647.6 455.0 L648.1 455.0 L648.6 455.0 L649.1 455.0 L649.6 455.0 L650.1 455.0 L650.6 455.0 L651.1 455.0 L651.6 455.0 L652.1 455.0 L652.6 455.0 L653.1 455.0 L653.6 455.0 L654.1 455.0 L654.6 455.0 L655.1 455.0 L655.6 455.0 L656.1 455.0 L656.6 455.0 L657.1 455.0 L657.6 455.0 L658.1 455.0 L658.6 455.0 L659.1 455.0 L659.6 455.0 L660.1 455.0 L660.6 455.0 L661.1 455.0 L661.6 455.0 L662.1 455.0 L662.6 455.0 L663.1 455.0 L663.6 455.0 L664.1 455.0 L664.6 455.0 L665.1 455.0 L665.6 455.0 L666.1 455.0 L666.6 455.0 L667.1 455.0 L667.6 455.0 L668.1 455.0 L668.6 455.0 L669.1 455.0 L669.6 455.0 L670.1 455.0 L670.6 455.0 L671.1 455.0 L671.6 455.0 L672.1 455.0 L672.6 455.0 L673.1 455.0 L673.6 455.0 L674.1 455.0 L674.6 455.0 L675.1 455.0 L675.6 455.0 L676.1 455.0 L676.6 455.0 L677.1 455.0 L677.6 455.0 L678.1 455.0 L678.6 455.0 L679.1 455.0 L679.6 455.0 L680.1 455.0 L680.6 455.0 L681.1 455.0 L681.6 455.0 L682.1 455.0 L682.6 455.0 L683.1 455.0 L683.6 455.0 L684.1 455.1 L684.6 455.1 L685.1 455.1 L685.6 455.1 L686.1 455.1 L686.6 455.1 L687.1 455.1 L687.6 455.1 L688.1 455.1 L688.6 455.1 L689.1 455.1 L689.6 455.1 L690.1 455.1 L690.6 455.1 L691.1 455.1 L691.6 455.1 L692.1 455.1 L692.6 455.1 L693.1 455.1 L693.6 455.1 L694.1 455.1 L694.6 455.1 L695.1 455.1 L695.6 455.1 L696.1 455.1 L696.6 455.1 L697.1 455.1 L697.6 455.1 L698.1 455.1 L698.6 455.1 L699.1 455.1 L699.6 455.1 L700.1 455.1 L700.6 455.1 L701.1 455.1 L701.6 455.1 L702.1 455.1 L702.6 455.1 L703.1 455.1 L703.6 455.1 L704.1 455.1 L704.6 455.1 L705.1 455.1 L705.6 455.1 L706.1 455.1 L706.6 455.1 L707.1 455.1 L707.6 455.1 L708.1 455.1 L708.6 455.1 L709.1 455.1 L709.6 455.1 L710.1 455.1 L710.6 455.1 L711.1 455.1 L711.6 455.1 L712.1 455.1 L712.6 455.1 L713.1 455.1 L713.6 455.1 L714.1 455.1 L714.6 455.1 L715.1 455.1 L715.6 455.1 L716.1 455.1 L716.6 455.1 L717.1 455.1 L717.6 455.1 L718.1 455.1 L718.6 455.1 L719.1 455.1 L719.6 455.1 L720.1 455.1 L720.6 455.1 L721.1 455.1 L721.6 455.1 L722.1 455.1 L722.6 455.1 L723.1 455.1 L723.6 455.1 L724.1 455.1 L724.6 455.1 L725.1 455.1 L725.6 455.1 L726.1 455.1 L726.6 455.1 L727.1 455.1 L727.6 455.1 L728.1 455.1 L728.6 455.1 L729.1 455.1 L729.6 455.1 L730.1 455.1 L730.6 455.1 L731.1 455.1 L731.6 455.1 L732.1 455.1 L732.6 455.1 L733.1 455.1 L733.6 455.1 L734.1 455.1 L734.6 455.1 L735.1 455.1 L735.6 455.1 L736.1 455.1 L736.6 455.1 L737.1 455.1 L737.6 455.1 L738.1 455.1 L738.6 455.1 L739.1 455.1 L739.6 455.1 L740.1 455.1 L740.6 455.1 L741.1 455.1 L741.6 455.1 L742.1 455.1 L742.6 455.1 L743.1 455.1 L743.6 455.1 L744.1 455.1 L744.6 455.1 L745.1 455.1 L745.6 455.1 L746.1 455.1 L746.6 455.1 L747.1 455.1 L747.6 455.1 L748.1 455.1 L748.6 455.1 L749.1 455.1 L749.6 455.1 L750.1 455.1 L750.6 455.1 L751.1 455.1 L751.6 455.1 L752.1 455.1 L752.6 455.1 L753.1 455.1 L753.6 455.1 L754.1 455.1 L754.6 455.1 L755.1 455.1 L755.6 455.1 L756.1 455.1 L756.6 455.1 L757.1 455.1 L757.6 455.1 L758.1 455.1 L758.6 455.1 L759.1 455.1 L759.6 455.1 L760.1 455.1 L760.6 455.1 L761.1 455.1 L761.6 455.1 L762.1 455.1 L762.6 455.1 L763.1 455.1 L763.6 455.1 L764.1 455.1 L764.6 455.1 L765.1 455.1 L765.6 455.1 L766.1 455.1 L766.6 455.1 L767.1 455.1 L767.6 455.1 L768.1 455.1 L768.6 455.1 L769.1 455.1 L769.6 455.1 L770.1 455.1 L770.6 455.1 L771.1 455.1 L771.6 455.1 L772.1 455.1 L772.6 455.1 L773.1 455.1 L773.6 455.1 L774.1 455.1 L774.6 455.1 L775.1 455.1 L775.6 455.1 L776.1 455.1 L776.6 455.1 L777.1 455.1 L777.6 455.1 L778.1 455.1 L778.6 455.1 L779.1 455.1 L779.6 455.1 L780.1 455.1 L780.6 455.1 L781.1 455.1 L781.6 455.1 L782.1 455.1 L782.6 455.1 L783.1 455.1 L783.6 455.1 L784.1 455.1 L784.6 455.1 L785.1 455.1 L785.6 455.1 L786.1 455.1 L786.6 455.1 L787.1 455.1 L787.6 455.1 L788.1 455.1 L788.6 455.1 L789.1 455.1 L789.6 455.1 L790.1 455.1 L790.6 455.1 L791.1 455.1 L791.6 455.1 L792.1 455.1 L792.6 455.1 L793.1 455.1 L793.6 455.1 L794.1 455.1 L794.6 455.1 L795.1 455.1 L795.6 455.1 L796.1 455.1 L796.6 455.1 L797.1 455.1 L797.6 455.1 L798.1 455.1 L798.1 455.1 L797.6 455.1 L797.1 455.1 L796.6 455.1 L796.1 455.1 L795.6 455.1 L795.1 455.1 L794.6 455.1 L794.1 455.1 L793.6 455.1 L793.1 455.1 L792.6 455.1 L792.1 455.1 L791.6 455.1 L791.1 455.1 L790.6 455.1 L790.1 455.1 L789.6 455.1 L789.1 455.1 L788.6 455.1 L788.1 455.1 L787.6 455.1 L787.1 455.1 L786.6 455.1 L786.1 455.1 L785.6 455.1 L785.1 455.1 L784.6 455.1 L784.1 455.1 L783.6 455.1 L783.1 455.1 L782.6 455.1 L782.1 455.1 L781.6 455.1 L781.1 455.1 L780.6 455.1 L780.1 455.1 L779.6 455.1 L779.1 455.1 L778.6 455.1 L778.1 455.1 L777.6 455.1 L777.1 455.1 L776.6 455.1 L776.1 455.1 L775.6 455.1 L775.1 455.1 L774.6 455.1 L774.1 455.1 L773.6 455.1 L773.1 455.1 L772.6 455.1 L772.1 455.1 L771.6 455.1 L771.1 455.1 L770.6 455.1 L770.1 455.1 L769.6 455.1 L769.1 455.1 L768.6 455.1 L768.1 455.1 L767.6 455.1 L767.1 455.1 L766.6 455.1 L766.1 455.1 L765.6 455.1 L765.1 455.1 L764.6 455.1 L764.1 455.1 L763.6 455.1 L763.1 455.1 L762.6 455.1 L762.1 455.1 L761.6 455.1 L761.1 455.1 L760.6 455.1 L760.1 455.1 L759.6 455.1 L759.1 455.1 L758.6 455.1 L758.1 455.1 L757.6 455.1 L757.1 455.1 L756.6 455.1 L756.1 455.1 L755.6 455.1 L755.1 455.1 L754.6 455.1 L754.1 455.1 L753.6 455.1 L753.1 455.1 L752.6 455.1 L752.1 455.1 L751.6 455.1 L751.1 455.1 L750.6 455.1 L750.1 455.1 L749.6 455.1 L749.1 455.1 L748.6 455.1 L748.1 455.1 L747.6 455.1 L747.1 455.1 L746.6 455.1 L746.1 455.1 L745.6 455.1 L745.1 455.1 L744.6 455.1 L744.1 455.1 L743.6 455.1 L743.1 455.1 L742.6 455.1 L742.1 455.1 L741.6 455.1 L741.1 455.1 L740.6 455.1 L740.1 455.1 L739.6 455.1 L739.1 455.1 L738.6 455.1 L738.1 455.1 L737.6 455.1 L737.1 455.1 L736.6 455.1 L736.1 455.1 L735.6 455.1 L735.1 455.1 L734.6 455.1 L734.1 455.1 L733.6 455.1 L733.1 455.1 L732.6 455.1 L732.1 455.1 L731.6 455.1 L731.1 455.1 L730.6 455.1 L730.1 455.1 L729.6 455.1 L729.1 455.1 L728.6 455.1 L728.1 455.1 L727.6 455.1 L727.1 455.1 L726.6 455.1 L726.1 455.1 L725.6 455.1 L725.1 455.1 L724.6 455.1 L724.1 455.1 L723.6 455.1 L723.1 455.1 L722.6 455.1 L722.1 455.1 L721.6 455.1 L721.1 455.1 L720.6 455.1 L720.1 455.1 L719.6 455.1 L719.1 455.1 L718.6 455.1 L718.1 455.1 L717.6 455.1 L717.1 455.1 L716.6 455.1 L716.1 455.1 L715.6 455.1 L715.1 455.1 L714.6 455.1 L714.1 455.1 L713.6 455.1 L713.1 455.1 L712.6 455.1 L712.1 455.1 L711.6 455.1 L711.1 455.1 L710.6 455.1 L710.1 455.1 L709.6 455.1 L709.1 455.1 L708.6 455.1 L708.1 455.1 L707.6 455.1 L707.1 455.1 L706.6 455.1 L706.1 455.1 L705.6 455.1 L705.1 455.1 L704.6 455.1 L704.1 455.1 L703.6 455.1 L703.1 455.1 L702.6 455.1 L702.1 455.1 L701.6 455.1 L701.1 455.1 L700.6 455.1 L700.1 455.1 L699.6 455.1 L699.1 455.1 L698.6 455.1 L698.1 455.1 L697.6 455.1 L697.1 455.1 L696.6 455.1 L696.1 455.1 L695.6 455.1 L695.1 455.1 L694.6 455.1 L694.1 455.1 L693.6 455.1 L693.1 455.1 L692.6 455.1 L692.1 455.1 L691.6 455.1 L691.1 455.1 L690.6 455.1 L690.1 455.1 L689.6 455.1 L689.1 455.1 L688.6 455.1 L688.1 455.1 L687.6 455.1 L687.1 455.1 L686.6 455.1 L686.1 455.1 L685.6 455.1 L685.1 455.1 L684.6 455.1 L684.1 455.1 L683.6 455.1 L683.1 455.1 L682.6 455.2 L682.1 455.2 L681.6 455.2 L681.1 455.2 L680.6 455.2 L680.1 455.2 L679.6 455.2 L679.1 455.2 L678.6 455.2 L678.1 455.2 L677.6 455.2 L677.1 455.2 L676.6 455.2 L676.1 455.2 L675.6 455.2 L675.1 455.2 L674.6 455.2 L674.1 455.2 L673.6 455.2 L673.1 455.2 L672.6 455.2 L672.1 455.2 L671.6 455.2 L671.1 455.2 L670.6 455.2 L670.1 455.2 L669.6 455.2 L669.1 455.2 L668.6 455.2 L668.1 455.2 L667.6 455.2 L667.1 455.2 L666.6 455.2 L666.1 455.2 L665.6 455.2 L665.1 455.2 L664.6 455.2 L664.1 455.2 L663.6 455.2 L663.1 455.2 L662.6 455.2 L662.1 455.2 L661.6 455.2 L661.1 455.2 L660.6 455.2 L660.1 455.2 L659.6 455.2 L659.1 455.2 L658.6 455.2 L658.1 455.2 L657.6 455.2 L657.1 455.2 L656.6 455.2 L656.1 455.2 L655.6 455.2 L655.1 455.2 L654.6 455.2 L654.1 455.2 L653.6 455.2 L653.1 455.2 L652.6 455.2 L652.1 455.2 L651.6 455.2 L651.1 455.2 L650.6 455.2 L650.1 455.2 L649.6 455.2 L649.1 455.2 L648.6 455.2 L648.1 455.2 L647.6 455.2 L647.1 455.2 L646.6 455.2 L646.1 455.2 L645.6 455.2 L645.1 455.2 L644.6 455.2 L644.1 455.2 L643.6 455.2 L643.1 455.2 L642.6 455.2 L642.1 455.2 L641.6 455.2 L641.1 455.2 L640.6 455.2 L640.1 455.2 L639.6 455.2 L639.1 455.2 L638.6 455.2 L638.1 455.2 L637.6 455.2 L637.1 455.2 L636.6 455.2 L636.1 455.2 L635.6 455.2 L635.1 455.2 L634.6 455.2 L634.1 455.2 L633.6 455.2 L633.1 455.2 L632.6 455.2 L632.1 455.2 L631.6 455.2 L631.1 455.2 L630.6 455.2 L630.1 455.2 L629.6 455.2 L629.1 455.2 L628.6 455.2 L628.1 455.2 L627.6 455.2 L627.1 455.2 L626.6 455.2 L626.1 455.2 L625.6 455.2 L625.1 455.2 L624.6 455.2 L624.1 455.2 L623.6 455.2 L623.1 455.2 L622.6 455.2 L622.1 455.2 L621.6 455.2 L621.1 455.2 L620.6 455.2 L620.1 455.2 L619.6 455.2 L619.1 455.2 L618.6 455.2 L618.1 455.2 L617.6 455.2 L617.1 455.2 L616.6 455.2 L616.1 455.2 L615.6 455.2 L615.1 455.2 L614.6 455.2 L614.1 455.2 L613.6 455.2 L613.1 455.2 L612.6 455.2 L612.1 455.2 L611.6 455.2 L611.1 455.2 L610.6 455.2 L610.1 455.2 L609.6 455.2 L609.1 455.2 L608.6 455.2 L608.1 455.2 L607.6 455.2 L607.1 455.2 L606.6 455.2 L606.1 455.2 L605.6 455.2 L605.1 455.2 L604.6 455.2 L604.1 455.2 L603.6 455.2 L603.1 455.2 L602.6 455.2 L602.1 455.2 L601.6 455.2 L601.1 455.2 L600.6 455.2 L600.1 455.2 L599.6 455.2 L599.1 455.2 L598.6 455.2 L598.1 455.2 L597.6 455.2 L597.1 455.2 L596.6 455.2 L596.1 455.2 L595.6 455.2 L595.1 455.2 L594.6 455.2 L594.1 455.2 L593.6 455.2 L593.1 455.2 L592.6 455.2 L592.1 455.2 L591.6 455.3 L591.1 455.3 L590.6 455.3 L590.1 455.3 L589.6 455.3 L589.1 455.3 L588.6 455.3 L588.1 455.3 L587.6 455.3 L587.1 455.3 L586.6 455.3 L586.1 455.3 L585.6 455.3 L585.1 455.3 L584.6 455.3 L584.1 455.3 L583.6 455.3 L583.1 455.3 L582.6 455.3 L582.1 455.3 L581.6 455.3 L581.1 455.3 L580.6 455.3 L580.1 455.3 L579.6 455.3 L579.1 455.3 L578.6 455.3 L578.1 455.3 L577.6 455.3 L577.1 455.3 L576.6 455.3 L576.1 455.3 L575.6 455.3 L575.1 455.3 L574.6 455.3 L574.1 455.3 L573.6 455.3 L573.1 455.3 L572.6 455.3 L572.1 455.3 L571.6 455.3 L571.1 455.3 L570.6 455.3 L570.1 455.3 L569.6 455.3 L569.1 455.3 L568.6 455.3 L568.1 455.3 L567.6 455.3 L567.1 455.3 L566.6 455.3 L566.1 455.3 L565.6 455.3 L565.1 455.3 L564.6 455.3 L564.1 455.3 L563.6 455.3 L563.1 455.3 L562.6 455.3 L562.1 455.3 L561.6 455.3 L561.1 455.3 L560.6 455.3 L560.1 455.3 L559.6 455.3 L559.1 455.3 L558.6 455.3 L558.1 455.3 L557.6 455.3 L557.1 455.3 L556.6 455.3 L556.1 455.3 L555.6 455.3 L555.1 455.3 L554.6 455.3 L554.1 455.3 L553.6 455.3 L553.1 455.3 L552.6 455.3 L552.1 455.3 L551.6 455.3 L551.1 455.3 L550.6 455.3 L550.1 455.3 L549.6 455.3 L549.1 455.3 L548.6 455.3 L548.1 455.3 L547.6 455.3 L547.1 455.3 L546.6 455.3 L546.1 455.3 L545.6 455.3 L545.1 455.3 L544.6 455.3 L544.1 455.3 L543.6 455.3 L543.1 455.3 L542.6 455.3 L542.1 455.3 L541.6 455.3 L541.1 455.3 L540.6 455.3 L540.1 455.3 L539.6 455.3 L539.1 455.3 L538.6 455.3 L538.1 455.3 L537.6 455.3 L537.1 455.3 L536.6 455.3 L536.1 455.3 L535.6 455.3 L535.1 455.3 L534.6 455.3 L534.1 455.4 L533.6 455.4 L533.1 455.4 L532.6 455.4 L532.1 455.4 L531.6 455.4 L531.1 455.4 L530.6 455.4 L530.1 455.4 L529.6 455.4 L529.1 455.4 L528.6 455.4 L528.1 455.4 L527.6 455.4 L527.1 455.4 L526.6 455.4 L526.1 455.4 L525.6 455.4 L525.1 455.4 L524.6 455.4 L524.1 455.4 L523.6 455.4 L523.1 455.4 L522.6 455.4 L522.1 455.4 L521.6 455.4 L521.1 455.4 L520.6 455.4 L520.1 455.4 L519.6 455.4 L519.1 455.4 L518.6 455.4 L518.1 455.4 L517.6 455.4 L517.1 455.4 L516.6 455.4 L516.1 455.4 L515.6 455.5 L515.1 455.5 L514.6 455.5 L514.1 455.5 L513.6 455.5 L513.1 455.5 L512.6 455.5 L512.1 455.5 L511.6 455.5 L511.1 455.5 L510.6 455.5 L510.1 455.5 L509.6 455.5 L509.1 455.5 L508.6 455.5 L508.1 455.5 L507.6 455.5 L507.1 455.5 L506.6 455.5 L506.1 455.5 L505.6 455.5 L505.1 455.5 L504.6 455.5 L504.1 455.5 L503.6 455.5 L503.1 455.5 L502.6 455.5 L502.1 455.5 L501.6 455.6 L501.1 455.6 L500.6 455.6 L500.1 455.6 L499.6 455.6 L499.1 455.6 L498.6 455.6 L498.1 455.6 L497.6 455.6 L497.1 455.6 L496.6 455.6 L496.1 455.6 L495.6 455.6 L495.1 455.6 L494.6 455.6 L494.1 455.6 L493.6 455.6 L493.1 455.6 L492.6 455.6 L492.1 455.6 L491.6 455.6 L491.1 455.6 L490.6 455.6 L490.1 455.6 L489.6 455.6 L489.1 455.6 L488.6 455.6 L488.1 455.7 L487.6 455.7 L487.1 455.7 L486.6 455.7 L486.1 455.7 L485.6 455.7 L485.1 455.7 L484.6 455.7 L484.1 455.7 L483.6 455.7 L483.1 455.7 L482.6 455.7 L482.1 455.7 L481.6 455.7 L481.1 455.7 L480.6 455.7 L480.1 455.7 L479.6 455.7 L479.1 455.7 L478.6 455.8 L478.1 455.8 L477.6 455.8 L477.1 455.8 L476.6 455.8 L476.1 455.8 L475.6 455.8 L475.1 455.8 L474.6 455.8 L474.1 455.8 L473.6 455.8 L473.1 455.8 L472.6 455.8 L472.1 455.8 L471.6 455.8 L471.1 455.8 L470.6 455.8 L470.1 455.8 L469.6 455.9 L469.1 455.9 L468.6 455.9 L468.1 455.9 L467.6 455.9 L467.1 455.9 L466.6 455.9 L466.1 455.9 L465.6 455.9 L465.1 455.9 L464.6 455.9 L464.1 455.9 L463.6 455.9 L463.1 455.9 L462.6 455.9 L462.1 455.9 L461.6 455.9 L461.1 455.9 L460.6 455.9 L460.1 455.9 L459.6 455.9 L459.1 455.9 L458.6 455.9 L458.1 456.0 L457.6 456.0 L457.1 456.0 L456.6 456.0 L456.1 456.0 L455.6 456.0 L455.1 456.0 L454.6 456.0 L454.1 456.0 L453.6 456.0 L453.1 456.0 L452.6 456.0 L452.1 456.1 L451.6 456.1 L451.1 456.1 L450.6 456.1 L450.1 456.1 L449.6 456.1 L449.1 456.1 L448.6 456.1 L448.1 456.1 L447.6 456.1 L447.1 456.1 L446.6 456.1 L446.1 456.1 L445.6 456.1 L445.1 456.2 L444.6 456.2 L444.1 456.2 L443.6 456.2 L443.1 456.2 L442.6 456.2 L442.1 456.2 L441.6 456.2 L441.1 456.2 L440.6 456.2 L440.1 456.2 L439.6 456.2 L439.1 456.2 L438.6 456.2 L438.1 456.2 L437.6 456.2 L437.1 456.3 L436.6 456.3 L436.1 456.3 L435.6 456.3 L435.1 456.3 L434.6 456.3 L434.1 456.3 L433.6 456.3 L433.1 456.3 L432.6 456.4 L432.1 456.4 L431.6 456.4 L431.1 456.4 L430.6 456.4 L430.1 456.4 L429.6 456.5 L429.1 456.5 L428.6 456.5 L428.1 456.5 L427.6 456.5 L427.1 456.5 L426.6 456.6 L426.1 456.6 L425.6 456.6 L425.1 456.6 L424.6 456.6 L424.1 456.6 L423.6 456.6 L423.1 456.6 L422.6 456.7 L422.1 456.7 L421.6 456.7 L421.1 456.7 L420.6 456.7 L420.1 456.7 L419.6 456.7 L419.1 456.7 L418.6 456.7 L418.1 456.7 L417.6 456.7 L417.1 456.7 L416.6 456.8 L416.1 456.8 L415.6 456.8 L415.1 456.8 L414.6 456.8 L414.1 456.8 L413.6 456.8 L413.1 456.8 L412.6 456.8 L412.1 456.9 L411.6 456.9 L411.1 456.9 L410.6 456.9 L410.1 456.9 L409.6 456.9 L409.1 457.0 L408.6 457.0 L408.1 457.0 L407.6 457.0 L407.1 457.0 L406.6 457.1 L406.1 457.1 L405.6 457.1 L405.1 457.1 L404.6 457.1 L404.1 457.2 L403.6 457.2 L403.1 457.2 L402.6 457.2 L402.1 457.2 L401.6 457.2 L401.1 457.3 L400.6 457.3 L400.1 457.3 L399.6 457.3 L399.1 457.3 L398.6 457.3 L398.1 457.3 L397.6 457.4 L397.1 457.4 L396.6 457.4 L396.1 457.4 L395.6 457.4 L395.1 457.4 L394.6 457.4 L394.1 457.4 L393.6 457.4 L393.1 457.4 L392.6 457.5 L392.1 457.5 L391.6 457.5 L391.1 457.5 L390.6 457.5 L390.1 457.5 L389.6 457.5 L389.1 457.6 L388.6 457.6 L388.1 457.6 L387.6 457.6 L387.1 457.6 L386.6 457.7 L386.1 457.7 L385.6 457.7 L385.1 457.7 L384.6 457.8 L384.1 457.8 L383.6 457.8 L383.1 457.8 L382.6 457.9 L382.1 457.9 L381.6 457.9 L381.1 457.9 L380.6 458.0 L380.1 458.0 L379.6 458.0 L379.1 458.0 L378.6 458.1 L378.1 458.1 L377.6 458.1 L377.1 458.1 L376.6 458.1 L376.1 458.2 L375.6 458.2 L375.1 458.2 L374.6 458.2 L374.1 458.2 L373.6 458.3 L373.1 458.3 L372.6 458.3 L372.1 458.3 L371.6 458.3 L371.1 458.3 L370.6 458.3 L370.1 458.4 L369.6 458.4 L369.1 458.4 L368.6 458.4 L368.1 458.4 L367.6 458.5 L367.1 458.5 L366.6 458.5 L366.1 458.5 L365.6 458.6 L365.1 458.6 L364.6 458.6 L364.1 458.6 L363.6 458.7 L363.1 458.7 L362.6 458.8 L362.1 458.8 L361.6 458.8 L361.1 458.9 L360.6 458.9 L360.1 459.0 L359.6 459.0 L359.1 459.0 L358.6 459.1 L358.1 459.1 L357.6 459.2 L357.1 459.2 L356.6 459.2 L356.1 459.3 L355.6 459.3 L355.1 459.3 L354.6 459.4 L354.1 459.4 L353.6 459.4 L353.1 459.5 L352.6 459.5 L352.1 459.5 L351.6 459.5 L351.1 459.6 L350.6 459.6 L350.1 459.6 L349.6 459.6 L349.1 459.6 L348.6 459.7 L348.1 459.7 L347.6 459.7 L347.1 459.7 L346.6 459.7 L346.1 459.8 L345.6 459.8 L345.1 459.8 L344.6 459.8 L344.1 459.9 L343.6 459.9 L343.1 459.9 L342.6 460.0 L342.1 460.0 L341.6 460.0 L341.1 460.1 L340.6 460.1 L340.1 460.1 L339.6 460.2 L339.1 460.2 L338.6 460.3 L338.1 460.3 L337.6 460.4 L337.1 460.4 L336.6 460.5 L336.1 460.5 L335.6 460.6 L335.1 460.6 L334.6 460.7 L334.1 460.7 L333.6 460.8 L333.1 460.8 L332.6 460.9 L332.1 460.9 L331.6 461.0 L331.1 461.0 L330.6 461.1 L330.1 461.1 L329.6 461.2 L329.1 461.2 L328.6 461.3 L328.1 461.3 L327.6 461.3 L327.1 461.4 L326.6 461.4 L326.1 461.4 L325.6 461.5 L325.1 461.5 L324.6 461.5 L324.1 461.6 L323.6 461.6 L323.1 461.6 L322.6 461.7 L322.1 461.7 L321.6 461.7 L321.1 461.8 L320.6 461.8 L320.1 461.9 L319.6 461.9 L319.1 462.0 L318.6 462.0 L318.1 462.1 L317.6 462.2 L317.1 462.2 L316.6 462.3 L316.1 462.4 L315.6 462.5 L315.1 462.6 L314.6 462.6 L314.1 462.7 L313.6 462.8 L313.1 462.9 L312.6 463.0 L312.1 463.2 L311.6 463.3 L311.1 463.4 L310.6 463.5 L310.1 463.6 L309.6 463.7 L309.1 463.8 L308.6 463.9 L308.1 464.0 L307.6 464.1 L307.1 464.2 L306.6 464.3 L306.1 464.3 L305.6 464.4 L305.1 464.5 L304.6 464.6 L304.1 464.6 L303.6 464.7 L303.1 464.8 L302.6 464.8 L302.1 464.9 L301.6 465.0 L301.1 465.0 L300.6 465.1 L300.1 465.1 L299.6 465.2 L299.1 465.2 L298.6 465.3 L298.1 465.3 L297.6 465.4 L297.1 465.5 L296.6 465.6 L296.1 465.6 L295.6 465.7 L295.1 465.8 L294.6 465.9 L294.1 466.0 L293.6 466.1 L293.1 466.3 L292.6 466.4 L292.1 466.5 L291.6 466.7 L291.1 466.8 L290.6 467.0 L290.1 467.1 L289.6 467.3 L289.1 467.5 L288.6 467.6 L288.1 467.8 L287.6 468.0 L287.1 468.1 L286.6 468.3 L286.1 468.5 L285.6 468.6 L285.1 468.8 L284.6 468.9 L284.1 469.1 L283.6 469.2 L283.1 469.3 L282.6 469.4 L282.1 469.6 L281.6 469.7 L281.1 469.8 L280.6 469.9 L280.1 470.0 L279.6 470.0 L279.1 470.1 L278.6 470.2 L278.1 470.3 L277.6 470.3 L277.1 470.4 L276.6 470.5 L276.1 470.5 L275.6 470.6 L275.1 470.7 L274.6 470.8 L274.1 470.8 L273.6 470.9 L273.1 471.0 L272.6 471.1 L272.1 471.2 L271.6 471.3 L271.1 471.4 L270.6 471.5 L270.1 471.6 L269.6 471.8 L269.1 471.9 L268.6 472.0 L268.1 472.2 L267.6 472.3 L267.1 472.5 L266.6 472.6 L266.1 472.8 L265.6 473.0 L265.1 473.1 L264.6 473.3 L264.1 473.5 L263.6 473.7 L263.1 473.8 L262.6 474.0 L262.1 474.2 L261.6 474.3 L261.1 474.5 L260.6 474.7 L260.1 474.8 L259.6 475.0 L259.1 475.1 L258.6 475.2 L258.1 475.4 L257.6 475.5 L257.1 475.6 L256.6 475.7 L256.1 475.8 L255.6 475.9 L255.1 476.0 L254.6 476.1 L254.1 476.2 L253.6 476.2 L253.1 476.3 L252.6 476.4 L252.1 476.5 L251.6 476.6 L251.1 476.7 L250.6 476.7 L250.1 476.8 L249.6 476.9 L249.1 477.0 L248.6 477.2 L248.1 477.3 L247.6 477.4 L247.1 477.6 L246.6 477.7 L246.1 477.9 L245.6 478.0 L245.1 478.2 L244.6 478.4 L244.1 478.6 L243.6 478.8 L243.1 479.0 L242.6 479.3 L242.1 479.5 L241.6 479.7 L241.1 480.0 L240.6 480.2 L240.1 480.5 L239.6 480.7 L239.1 481.0 L238.6 481.2 L238.1 481.5 L237.6 481.7 L237.1 482.0 L236.6 482.2 L236.1 482.4 L235.6 482.6 L235.1 482.8 L234.6 483.0 L234.1 483.1 L233.6 483.3 L233.1 483.4 L232.6 483.6 L232.1 483.7 L231.6 483.8 L231.1 483.9 L230.6 484.0 L230.1 484.1 L229.6 484.2 L229.1 484.3 L228.6 484.4 L228.1 484.5 L227.6 484.6 L227.1 484.7 L226.6 484.8 L226.1 484.9 L225.6 485.0 L225.1 485.2 L224.6 485.3 L224.1 485.5 L223.6 485.6 L223.1 485.8 L222.6 486.0 L222.1 486.2 L221.6 486.4 L221.1 486.6 L220.6 486.9 L220.1 487.2 L219.6 487.4 L219.1 487.7 L218.6 488.0 L218.1 488.3 L217.6 488.6 L217.1 488.9 L216.6 489.2 L216.1 489.5 L215.6 489.8 L215.1 490.2 L214.6 490.5 L214.1 490.8 L213.6 491.0 L213.1 491.3 L212.6 491.6 L212.1 491.9 L211.6 492.1 L211.1 492.3 L210.6 492.6 L210.1 492.8 L209.6 493.0 L209.1 493.1 L208.6 493.3 L208.1 493.5 L207.6 493.6 L207.1 493.8 L206.6 493.9 L206.1 494.1 L205.6 494.2 L205.1 494.3 L204.6 494.4 L204.1 494.5 L203.6 494.7 L203.1 494.8 L202.6 494.9 L202.1 495.1 L201.6 495.2 L201.1 495.4 L200.6 495.5 L200.1 495.7 L199.6 495.9 L199.1 496.1 L198.6 496.3 L198.1 496.5 L197.6 496.7 L197.1 497.0 L196.6 497.2 L196.1 497.5 L195.6 497.8 L195.1 498.1 L194.6 498.4 L194.1 498.7 L193.6 499.0 L193.1 499.3 L192.6 499.7 L192.1 500.0 L191.6 500.3 L191.1 500.7 L190.6 501.0 L190.1 501.3 L189.6 501.6 L189.1 501.9 L188.6 502.2 L188.1 502.5 L187.6 502.8 L187.1 503.0 L186.6 503.3 L186.1 503.5 L185.6 503.7 L185.1 503.9 L184.6 504.1 L184.1 504.3 L183.6 504.5 L183.1 504.6 L182.6 504.8 L182.1 504.9 L181.6 505.0 L181.1 505.2 L180.6 505.3 L180.1 505.4 L179.6 505.5 L179.1 505.7 L178.6 505.8 L178.1 505.9 L177.6 506.1 L177.1 506.2 L176.6 506.4 L176.1 506.6 L175.6 506.8 L175.1 507.0 L174.6 507.2 L174.1 507.5 L173.6 507.7 L173.1 508.0 L172.6 508.3 L172.1 508.6 L171.6 508.9 L171.1 509.3 L170.6 509.6 L170.1 510.0 L169.6 510.4 L169.1 510.8 L168.6 511.1 L168.1 511.5 L167.6 511.9 L167.1 512.3 L166.6 512.7 L166.1 513.1 L165.6 513.4 L165.1 513.8 L164.6 514.1 L164.1 514.4 L163.6 514.7 L163.1 515.0 L162.6 515.3 L162.1 515.6 L161.6 515.8 L161.1 516.0 L160.6 516.2 L160.1 516.4 L159.6 516.6 L159.1 516.8 L158.6 516.9 L158.1 517.0 L157.6 517.2 L157.1 517.3 L156.6 517.4 L156.1 517.5 L155.6 517.6 L155.1 517.8 L154.6 517.9 L154.1 518.0 L153.6 518.2 L153.1 518.4 L152.6 518.5 L152.1 518.7 L151.6 518.9 L151.1 519.2 L150.6 519.4 L150.1 519.7 L149.6 520.0 L149.1 520.3 L148.6 520.6 L148.1 520.9 L147.6 521.3 L147.1 521.7 L146.6 522.1 L146.1 522.5 L145.6 522.9 L145.1 523.3 L144.6 523.7 L144.1 524.1 L143.6 524.6 L143.1 525.0 L142.6 525.4 L142.1 525.8 L141.6 526.2 L141.1 526.6 L140.6 527.0 L140.1 527.3 L139.6 527.7 L139.1 528.0 L138.6 528.3 L138.1 528.6 L137.6 528.8 L137.1 529.1 L136.6 529.3 L136.1 529.5 L135.6 529.7 L135.1 529.9 L134.6 530.0 L134.1 530.2 L133.6 530.3 L133.1 530.5 L132.6 530.6 L132.1 530.7 L131.6 530.9 L131.1 531.0 L130.6 531.1 L130.1 531.3 L129.6 531.5 L129.1 531.6 L128.6 531.8 L128.1 532.0 L127.6 532.2 L127.1 532.5 L126.6 532.7 L126.1 533.0 L125.6 533.3 L125.1 533.7 L124.6 534.0 L124.1 534.4 L123.6 534.8 L123.1 535.2 L122.6 535.6 L122.1 536.0 L121.6 536.4 L121.1 536.9 L120.6 537.4 L120.1 537.8 L119.6 538.3 L119.1 538.7 L118.6 539.2 L118.1 539.6 L117.6 540.1 L117.1 540.5 L116.6 540.9 L116.1 541.3 L115.6 541.7 L115.1 542.0 L114.6 542.4 L114.1 542.7 L113.6 543.0 L113.1 543.2 L112.6 543.5 L112.1 543.7 L111.6 543.9 L111.1 544.1 L110.6 544.3 L110.1 544.5 L109.6 544.6 L109.1 544.8 L108.6 544.9 L108.1 545.1 L107.6 545.2 L107.1 545.3 L106.6 545.4Z" fill="#f7c8d2"/>
<path d="M106.6 524.6 L107.1 524.7 L107.6 524.8 L108.1 524.9 L108.6 524.9 L109.1 525.0 L109.6 525.1 L110.1 525.2 L110.6 525.3 L111.1 525.4 L111.6 525.5 L112.1 525.6 L112.6 525.8 L113.1 525.9 L113.6 526.1 L114.1 526.3 L114.6 526.5 L115.1 526.8 L115.6 527.0 L116.1 527.3 L116.6 527.6 L117.1 528.0 L117.6 528.3 L118.1 528.7 L118.6 529.0 L119.1 529.4 L119.6 529.8 L120.1 530.2 L120.6 530.7 L121.1 531.1 L121.6 531.5 L122.1 531.9 L122.6 532.3 L123.1 532.7 L123.6 533.0 L124.1 533.4 L124.6 533.8 L125.1 534.1 L125.6 534.4 L126.1 534.7 L126.6 535.0 L127.1 535.2 L127.6 535.4 L128.1 535.6 L128.6 535.8 L129.1 536.0 L129.6 536.2 L130.1 536.3 L130.6 536.4 L131.1 536.6 L131.6 536.7 L132.1 536.8 L132.6 536.9 L133.1 537.0 L133.6 537.1 L134.1 537.2 L134.6 537.3 L135.1 537.5 L135.6 537.6 L136.1 537.8 L136.6 537.9 L137.1 538.1 L137.6 538.3 L138.1 538.6 L138.6 538.8 L139.1 539.1 L139.6 539.4 L140.1 539.7 L140.6 540.0 L141.1 540.3 L141.6 540.7 L142.1 541.1 L142.6 541.4 L143.1 541.8 L143.6 542.2 L144.1 542.6 L144.6 543.0 L145.1 543.5 L145.6 543.9 L146.1 544.3 L146.6 544.6 L147.1 545.0 L147.6 545.4 L148.1 545.7 L148.6 546.1 L149.1 546.4 L149.6 546.7 L150.1 546.9 L150.6 547.2 L151.1 547.4 L151.6 547.7 L152.1 547.9 L152.6 548.0 L153.1 548.2 L153.6 548.4 L154.1 548.5 L154.6 548.6 L155.1 548.7 L155.6 548.8 L156.1 548.9 L156.6 549.0 L157.1 549.1 L157.6 549.2 L158.1 549.3 L158.6 549.4 L159.1 549.5 L159.6 549.6 L160.1 549.8 L160.6 549.9 L161.1 550.1 L161.6 550.2 L162.1 550.4 L162.6 550.6 L163.1 550.9 L163.6 551.1 L164.1 551.4 L164.6 551.6 L165.1 551.9 L165.6 552.2 L166.1 552.5 L166.6 552.9 L167.1 553.2 L167.6 553.5 L168.1 553.9 L168.6 554.2 L169.1 554.6 L169.6 554.9 L170.1 555.3 L170.6 555.6 L171.1 555.9 L171.6 556.2 L172.1 556.5 L172.6 556.8 L173.1 557.1 L173.6 557.3 L174.1 557.6 L174.6 557.8 L175.1 558.0 L175.6 558.2 L176.1 558.4 L176.6 558.5 L177.1 558.7 L177.6 558.8 L178.1 558.9 L178.6 559.0 L179.1 559.1 L179.6 559.2 L180.1 559.3 L180.6 559.4 L181.1 559.5 L181.6 559.5 L182.1 559.6 L182.6 559.7 L183.1 559.8 L183.6 559.9 L184.1 560.0 L184.6 560.1 L185.1 560.2 L185.6 560.3 L186.1 560.5 L186.6 560.6 L187.1 560.8 L187.6 561.0 L188.1 561.2 L188.6 561.4 L189.1 561.6 L189.6 561.9 L190.1 562.1 L190.6 562.3 L191.1 562.6 L191.6 562.9 L192.1 563.1 L192.6 563.4 L193.1 563.7 L193.6 563.9 L194.1 564.2 L194.6 564.5 L195.1 564.7 L195.6 565.0 L196.1 565.2 L196.6 565.5 L197.1 565.7 L197.6 565.9 L198.1 566.1 L198.6 566.3 L199.1 566.5 L199.6 566.6 L200.1 566.8 L200.6 566.9 L201.1 567.1 L201.6 567.2 L202.1 567.3 L202.6 567.4 L203.1 567.5 L203.6 567.5 L204.1 567.6 L204.6 567.7 L205.1 567.8 L205.6 567.8 L206.1 567.9 L206.6 568.0 L207.1 568.0 L207.6 568.1 L208.1 568.2 L208.6 568.3 L209.1 568.4 L209.6 568.5 L210.1 568.7 L210.6 568.8 L211.1 569.0 L211.6 569.1 L212.1 569.3 L212.6 569.5 L213.1 569.7 L213.6 569.9 L214.1 570.2 L214.6 570.4 L215.1 570.7 L215.6 570.9 L216.1 571.2 L216.6 571.5 L217.1 571.8 L217.6 572.0 L218.1 572.3 L218.6 572.6 L219.1 572.8 L219.6 573.1 L220.1 573.3 L220.6 573.6 L221.1 573.8 L221.6 574.0 L222.1 574.2 L222.6 574.4 L223.1 574.6 L223.6 574.7 L224.1 574.9 L224.6 575.0 L225.1 575.1 L225.6 575.2 L226.1 575.3 L226.6 575.4 L227.1 575.5 L227.6 575.6 L228.1 575.6 L228.6 575.7 L229.1 575.8 L229.6 575.8 L230.1 575.9 L230.6 575.9 L231.1 576.0 L231.6 576.1 L232.1 576.1 L232.6 576.2 L233.1 576.3 L233.6 576.4 L234.1 576.5 L234.6 576.6 L235.1 576.7 L235.6 576.8 L236.1 576.9 L236.6 577.1 L237.1 577.2 L237.6 577.4 L238.1 577.6 L238.6 577.8 L239.1 577.9 L239.6 578.1 L240.1 578.3 L240.6 578.5 L241.1 578.7 L241.6 578.9 L242.1 579.1 L242.6 579.3 L243.1 579.5 L243.6 579.6 L244.1 579.8 L244.6 580.0 L245.1 580.1 L245.6 580.3 L246.1 580.4 L246.6 580.6 L247.1 580.7 L247.6 580.8 L248.1 580.9 L248.6 581.0 L249.1 581.1 L249.6 581.2 L250.1 581.3 L250.6 581.3 L251.1 581.4 L251.6 581.4 L252.1 581.5 L252.6 581.5 L253.1 581.6 L253.6 581.6 L254.1 581.6 L254.6 581.7 L255.1 581.7 L255.6 581.8 L256.1 581.8 L256.6 581.9 L257.1 581.9 L257.6 582.0 L258.1 582.0 L258.6 582.1 L259.1 582.2 L259.6 582.3 L260.1 582.4 L260.6 582.5 L261.1 582.6 L261.6 582.7 L262.1 582.8 L262.6 582.9 L263.1 583.0 L263.6 583.1 L264.1 583.3 L264.6 583.4 L265.1 583.5 L265.6 583.7 L266.1 583.8 L266.6 583.9 L267.1 584.1 L267.6 584.2 L268.1 584.3 L268.6 584.4 L269.1 584.5 L269.6 584.6 L270.1 584.7 L270.6 584.8 L271.1 584.9 L271.6 585.0 L272.1 585.1 L272.6 585.2 L273.1 585.2 L273.6 585.3 L274.1 585.4 L274.6 585.4 L275.1 585.5 L275.6 585.5 L276.1 585.5 L276.6 585.6 L277.1 585.6 L277.6 585.6 L278.1 585.7 L278.6 585.7 L279.1 585.7 L279.6 585.8 L280.1 585.8 L280.6 585.8 L281.1 585.9 L281.6 585.9 L282.1 586.0 L282.6 586.0 L283.1 586.1 L283.6 586.2 L284.1 586.2 L284.6 586.3 L285.1 586.4 L285.6 586.5 L286.1 586.6 L286.6 586.7 L287.1 586.8 L287.6 586.9 L288.1 587.0 L288.6 587.1 L289.1 587.3 L289.6 587.4 L290.1 587.5 L290.6 587.6 L291.1 587.7 L291.6 587.8 L292.1 587.9 L292.6 588.1 L293.1 588.2 L293.6 588.3 L294.1 588.3 L294.6 588.4 L295.1 588.5 L295.6 588.6 L296.1 588.6 L296.6 588.7 L297.1 588.8 L297.6 588.8 L298.1 588.9 L298.6 588.9 L299.1 588.9 L299.6 589.0 L300.1 589.0 L300.6 589.0 L301.1 589.0 L301.6 589.1 L302.1 589.1 L302.6 589.1 L303.1 589.1 L303.6 589.1 L304.1 589.2 L304.6 589.2 L305.1 589.2 L305.6 589.2 L306.1 589.3 L306.6 589.3 L307.1 589.3 L307.6 589.4 L308.1 589.4 L308.6 589.5 L309.1 589.5 L309.6 589.6 L310.1 589.6 L310.6 589.7 L311.1 589.7 L311.6 589.8 L312.1 589.9 L312.6 589.9 L313.1 590.0 L313.6 590.1 L314.1 590.1 L314.6 590.2 L315.1 590.2 L315.6 590.3 L316.1 590.4 L316.6 590.4 L317.1 590.5 L317.6 590.5 L318.1 590.6 L318.6 590.6 L319.1 590.7 L319.6 590.7 L320.1 590.7 L320.6 590.8 L321.1 590.8 L321.6 590.8 L322.1 590.8 L322.6 590.9 L323.1 590.9 L323.6 590.9 L324.1 590.9 L324.6 590.9 L325.1 590.9 L325.6 590.9 L326.1 591.0 L326.6 591.0 L327.1 591.0 L327.6 591.0 L328.1 591.0 L328.6 591.0 L329.1 591.0 L329.6 591.0 L330.1 591.0 L330.6 591.1 L331.1 591.1 L331.6 591.1 L332.1 591.1 L332.6 591.1 L333.1 591.2 L333.6 591.2 L334.1 591.2 L334.6 591.2 L335.1 591.3 L335.6 591.3 L336.1 591.3 L336.6 591.3 L337.1 591.4 L337.6 591.4 L338.1 591.4 L338.6 591.5 L339.1 591.5 L339.6 591.5 L340.1 591.5 L340.6 591.6 L341.1 591.6 L341.6 591.6 L342.1 591.6 L342.6 591.7 L343.1 591.7 L343.6 591.7 L344.1 591.7 L344.6 591.7 L345.1 591.7 L345.6 591.8 L346.1 591.8 L346.6 591.8 L347.1 591.8 L347.6 591.8 L348.1 591.8 L348.6 591.8 L349.1 591.8 L349.6 591.8 L350.1 591.8 L350.6 591.9 L351.1 591.9 L351.6 591.9 L352.1 591.9 L352.6 591.9 L353.1 591.9 L353.6 591.9 L354.1 591.9 L354.6 591.9 L355.1 591.9 L355.6 591.9 L356.1 591.9 L356.6 592.0 L357.1 592.0 L357.6 592.0 L358.1 592.0 L358.6 592.0 L359.1 592.0 L359.6 592.1 L360.1 592.1 L360.6 592.1 L361.1 592.1 L361.6 592.2 L362.1 592.2 L362.6 592.2 L363.1 592.2 L363.6 592.3 L364.1 592.3 L364.6 592.3 L365.1 592.3 L365.6 592.3 L366.1 592.4 L366.6 592.4 L367.1 592.4 L367.6 592.4 L368.1 592.4 L368.6 592.4 L369.1 592.4 L369.6 592.5 L370.1 592.5 L370.6 592.5 L371.1 592.5 L371.6 592.5 L372.1 592.5 L372.6 592.5 L373.1 592.5 L373.6 592.5 L374.1 592.5 L374.6 592.5 L375.1 592.5 L375.6 592.5 L376.1 592.5 L376.6 592.5 L377.1 592.5 L377.6 592.5 L378.1 592.5 L378.6 592.6 L379.1 592.6 L379.6 592.6 L380.1 592.6 L380.6 592.6 L381.1 592.6 L381.6 592.6 L382.1 592.6 L382.6 592.6 L383.1 592.6 L383.6 592.6 L384.1 592.6 L384.6 592.7 L385.1 592.7 L385.6 592.7 L386.1 592.7 L386.6 592.7 L387.1 592.7 L387.6 592.7 L388.1 592.7 L388.6 592.7 L389.1 592.8 L389.6 592.8 L390.1 592.8 L390.6 592.8 L391.1 592.8 L391.6 592.8 L392.1 592.8 L392.6 592.8 L393.1 592.8 L393.6 592.8 L394.1 592.8 L394.6 592.8 L395.1 592.8 L395.6 592.8 L396.1 592.8 L396.6 592.8 L397.1 592.8 L397.6 592.8 L398.1 592.8 L398.6 592.8 L399.1 592.8 L399.6 592.8 L400.1 592.8 L400.6 592.8 L401.1 592.8 L401.6 592.8 L402.1 592.9 L402.6 592.9 L403.1 592.9 L403.6 592.9 L404.1 592.9 L404.6 592.9 L405.1 592.9 L405.6 592.9 L406.1 592.9 L406.6 592.9 L407.1 592.9 L407.6 592.9 L408.1 592.9 L408.6 592.9 L409.1 592.9 L409.6 592.9 L410.1 592.9 L410.6 592.9 L411.1 592.9 L411.6 592.9 L412.1 592.9 L412.6 592.9 L413.1 592.9 L413.6 592.9 L414.1 592.9 L414.6 592.9 L415.1 592.9 L415.6 593.0 L416.1 593.0 L416.6 593.0 L417.1 593.0 L417.6 593.0 L418.1 593.0 L418.6 593.0 L419.1 593.0 L419.6 593.0 L420.1 593.0 L420.6 593.0 L421.1 593.0 L421.6 593.0 L422.1 593.0 L422.6 593.0 L423.1 593.0 L423.6 593.0 L424.1 593.0 L424.6 593.0 L425.1 593.0 L425.6 593.0 L426.1 593.0 L426.6 593.0 L427.1 593.0 L427.6 593.0 L428.1 593.0 L428.6 593.0 L429.1 593.0 L429.6 593.0 L430.1 593.0 L430.6 593.0 L431.1 593.0 L431.6 593.0 L432.1 593.0 L432.6 593.0 L433.1 593.0 L433.6 593.0 L434.1 593.0 L434.6 593.0 L435.1 593.0 L435.6 593.0 L436.1 593.0 L436.6 593.0 L437.1 593.0 L437.6 593.0 L438.1 593.0 L438.6 593.0 L439.1 593.0 L439.6 593.1 L440.1 593.1 L440.6 593.1 L441.1 593.1 L441.6 593.1 L442.1 593.1 L442.6 593.1 L443.1 593.1 L443.6 593.1 L444.1 593.1 L444.6 593.1 L445.1 593.1 L445.6 593.1 L446.1 593.1 L446.6 593.1 L447.1 593.1 L447.6 593.1 L448.1 593.1 L448.6 593.1 L449.1 593.1 L449.6 593.1 L450.1 593.1 L450.6 593.1 L451.1 593.1 L451.6 593.1 L452.1 593.1 L452.6 593.1 L453.1 593.1 L453.6 593.1 L454.1 593.1 L454.6 593.1 L455.1 593.1 L455.6 593.1 L456.1 593.1 L456.6 593.1 L457.1 593.1 L457.6 593.1 L458.1 593.1 L458.6 593.1 L459.1 593.1 L459.6 593.1 L460.1 593.1 L460.6 593.1 L461.1 593.1 L461.6 593.1 L462.1 593.1 L462.6 593.1 L463.1 593.1 L463.6 593.1 L464.1 593.1 L464.6 593.1 L465.1 593.1 L465.6 593.1 L466.1 593.1 L466.6 593.1 L467.1 593.1 L467.6 593.1 L468.1 593.1 L468.6 593.1 L469.1 593.1 L469.6 593.1 L470.1 593.1 L470.6 593.1 L471.1 593.1 L471.6 593.1 L472.1 593.1 L472.6 593.1 L473.1 593.1 L473.6 593.1 L474.1 593.1 L474.6 593.1 L475.1 593.1 L475.6 593.1 L476.1 593.1 L476.6 593.1 L477.1 593.1 L477.6 593.1 L478.1 593.1 L478.6 593.1 L479.1 593.1 L479.6 593.1 L480.1 593.1 L480.6 593.1 L481.1 593.1 L481.6 593.1 L482.1 593.1 L482.6 593.2 L483.1 593.2 L483.6 593.2 L484.1 593.2 L484.6 593.2 L485.1 593.2 L485.6 593.2 L486.1 593.2 L486.6 593.2 L487.1 593.2 L487.6 593.2 L488.1 593.2 L488.6 593.2 L489.1 593.2 L489.6 593.2 L490.1 593.2 L490.6 593.2 L491.1 593.2 L491.6 593.2 L492.1 593.2 L492.6 593.2 L493.1 593.2 L493.6 593.2 L494.1 593.2 L494.6 593.2 L495.1 593.2 L495.6 593.2 L496.1 593.2 L496.6 593.2 L497.1 593.2 L497.6 593.2 L498.1 593.2 L498.6 593.2 L499.1 593.2 L499.6 593.2 L500.1 593.2 L500.6 593.2 L501.1 593.2 L501.6 593.2 L502.1 593.2 L502.6 593.2 L503.1 593.2 L503.6 593.2 L504.1 593.2 L504.6 593.2 L505.1 593.2 L505.6 593.2 L506.1 593.2 L506.6 593.2 L507.1 593.2 L507.6 593.2 L508.1 593.2 L508.6 593.2 L509.1 593.2 L509.6 593.2 L510.1 593.2 L510.6 593.2 L511.1 593.2 L511.6 593.2 L512.1 593.2 L512.6 593.2 L513.1 593.2 L513.6 593.2 L514.1 593.2 L514.6 593.2 L515.1 593.2 L515.6 593.2 L516.1 593.2 L516.6 593.2 L517.1 593.2 L517.6 593.2 L518.1 593.2 L518.6 593.2 L519.1 593.2 L519.6 593.2 L520.1 593.2 L520.6 593.2 L521.1 593.2 L521.6 593.2 L522.1 593.2 L522.6 593.2 L523.1 593.2 L523.6 593.2 L524.1 593.2 L524.6 593.2 L525.1 593.2 L525.6 593.2 L526.1 593.2 L526.6 593.2 L527.1 593.2 L527.6 593.2 L528.1 593.2 L528.6 593.2 L529.1 593.2 L529.6 593.2 L530.1 593.2 L530.6 593.2 L531.1 593.2 L531.6 593.2 L532.1 593.2 L532.6 593.2 L533.1 593.2 L533.6 593.2 L534.1 593.2 L534.6 593.2 L535.1 593.2 L535.6 593.2 L536.1 593.2 L536.6 593.2 L537.1 593.2 L537.6 593.2 L538.1 593.2 L538.6 593.2 L539.1 593.2 L539.6 593.2 L540.1 593.2 L540.6 593.2 L541.1 593.2 L541.6 593.2 L542.1 593.2 L542.6 593.2 L543.1 593.2 L543.6 593.2 L544.1 593.2 L544.6 593.2 L545.1 593.2 L545.6 593.2 L546.1 593.2 L546.6 593.2 L547.1 593.2 L547.6 593.2 L548.1 593.2 L548.6 593.2 L549.1 593.2 L549.6 593.2 L550.1 593.2 L550.6 593.2 L551.1 593.2 L551.6 593.2 L552.1 593.2 L552.6 593.2 L553.1 593.2 L553.6 593.2 L554.1 593.2 L554.6 593.2 L555.1 593.2 L555.6 593.2 L556.1 593.2 L556.6 593.2 L557.1 593.2 L557.6 593.2 L558.1 593.2 L558.6 593.3 L559.1 593.3 L559.6 593.3 L560.1 593.3 L560.6 593.3 L561.1 593.3 L561.6 593.3 L562.1 593.3 L562.6 593.3 L563.1 593.3 L563.6 593.3 L564.1 593.3 L564.6 593.3 L565.1 593.3 L565.6 593.3 L566.1 593.3 L566.6 593.3 L567.1 593.3 L567.6 593.3 L568.1 593.3 L568.6 593.3 L569.1 593.3 L569.6 593.3 L570.1 593.3 L570.6 593.3 L571.1 593.3 L571.6 593.3 L572.1 593.3 L572.6 593.3 L573.1 593.3 L573.6 593.3 L574.1 593.3 L574.6 593.3 L575.1 593.3 L575.6 593.3 L576.1 593.3 L576.6 593.3 L577.1 593.3 L577.6 593.3 L578.1 593.3 L578.6 593.3 L579.1 593.3 L579.6 593.3 L580.1 593.3 L580.6 593.3 L581.1 593.3 L581.6 593.3 L582.1 593.3 L582.6 593.3 L583.1 593.3 L583.6 593.3 L584.1 593.3 L584.6 593.3 L585.1 593.3 L585.6 593.3 L586.1 593.3 L586.6 593.3 L587.1 593.3 L587.6 593.3 L588.1 593.3 L588.6 593.3 L589.1 593.3 L589.6 593.3 L590.1 593.3 L590.6 593.3 L591.1 593.3 L591.6 593.3 L592.1 593.3 L592.6 593.3 L593.1 593.3 L593.6 593.3 L594.1 593.3 L594.6 593.3 L595.1 593.3 L595.6 593.3 L596.1 593.3 L596.6 593.3 L597.1 593.3 L597.6 593.3 L598.1 593.3 L598.6 593.3 L599.1 593.3 L599.6 593.3 L600.1 593.3 L600.6 593.3 L601.1 593.3 L601.6 593.3 L602.1 593.3 L602.6 593.3 L603.1 593.3 L603.6 593.3 L604.1 593.3 L604.6 593.3 L605.1 593.3 L605.6 593.3 L606.1 593.3 L606.6 593.3 L607.1 593.3 L607.6 593.3 L608.1 593.3 L608.6 593.3 L609.1 593.3 L609.6 593.3 L610.1 593.3 L610.6 593.3 L611.1 593.3 L611.6 593.3 L612.1 593.3 L612.6 593.3 L613.1 593.3 L613.6 593.3 L614.1 593.3 L614.6 593.3 L615.1 593.3 L615.6 593.3 L616.1 593.3 L616.6 593.3 L617.1 593.3 L617.6 593.3 L618.1 593.3 L618.6 593.3 L619.1 593.3 L619.6 593.3 L620.1 593.3 L620.6 593.3 L621.1 593.3 L621.6 593.3 L622.1 593.3 L622.6 593.3 L623.1 593.3 L623.6 593.3 L624.1 593.3 L624.6 593.3 L625.1 593.3 L625.6 593.3 L626.1 593.3 L626.6 593.3 L627.1 593.3 L627.6 593.3 L628.1 593.3 L628.6 593.3 L629.1 593.3 L629.6 593.3 L630.1 593.3 L630.6 593.3 L631.1 593.3 L631.6 593.3 L632.1 593.3 L632.6 593.3 L633.1 593.3 L633.6 593.3 L634.1 593.3 L634.6 593.3 L635.1 593.3 L635.6 593.3 L636.1 593.3 L636.6 593.3 L637.1 593.3 L637.6 593.3 L638.1 593.3 L638.6 593.3 L639.1 593.3 L639.6 593.3 L640.1 593.3 L640.6 593.3 L641.1 593.3 L641.6 593.3 L642.1 593.3 L642.6 593.3 L643.1 593.3 L643.6 593.3 L644.1 593.3 L644.6 593.3 L645.1 593.3 L645.6 593.3 L646.1 593.3 L646.6 593.3 L647.1 593.3 L647.6 593.3 L648.1 593.3 L648.6 593.3 L649.1 593.3 L649.6 593.3 L650.1 593.3 L650.6 593.3 L651.1 593.3 L651.6 593.3 L652.1 593.3 L652.6 593.3 L653.1 593.3 L653.6 593.3 L654.1 593.3 L654.6 593.3 L655.1 593.3 L655.6 593.3 L656.1 593.3 L656.6 593.3 L657.1 593.3 L657.6 593.3 L658.1 593.3 L658.6 593.3 L659.1 593.3 L659.6 593.3 L660.1 593.3 L660.6 593.3 L661.1 593.3 L661.6 593.3 L662.1 593.3 L662.6 593.3 L663.1 593.3 L663.6 593.3 L664.1 593.3 L664.6 593.3 L665.1 593.3 L665.6 593.3 L666.1 593.3 L666.6 593.3 L667.1 593.3 L667.6 593.3 L668.1 593.3 L668.6 593.3 L669.1 593.3 L669.6 593.3 L670.1 593.3 L670.6 593.3 L671.1 593.3 L671.6 593.3 L672.1 593.3 L672.6 593.3 L673.1 593.3 L673.6 593.3 L674.1 593.3 L674.6 593.3 L675.1 593.3 L675.6 593.3 L676.1 593.3 L676.6 593.3 L677.1 593.3 L677.6 593.3 L678.1 593.3 L678.6 593.3 L679.1 593.3 L679.6 593.3 L680.1 593.3 L680.6 593.3 L681.1 593.3 L681.6 593.3 L682.1 593.3 L682.6 593.3 L683.1 593.3 L683.6 593.3 L684.1 593.3 L684.6 593.3 L685.1 593.3 L685.6 593.3 L686.1 593.3 L686.6 593.3 L687.1 593.3 L687.6 593.3 L688.1 593.3 L688.6 593.3 L689.1 593.3 L689.6 593.3 L690.1 593.3 L690.6 593.3 L691.1 593.3 L691.6 593.3 L692.1 593.3 L692.6 593.3 L693.1 593.3 L693.6 593.3 L694.1 593.3 L694.6 593.3 L695.1 593.3 L695.6 593.3 L696.1 593.3 L696.6 593.3 L697.1 593.3 L697.6 593.3 L698.1 593.3 L698.6 593.3 L699.1 593.3 L699.6 593.3 L700.1 593.3 L700.6 593.3 L701.1 593.3 L701.6 593.3 L702.1 593.3 L702.6 593.3 L703.1 593.3 L703.6 593.3 L704.1 593.3 L704.6 593.3 L705.1 593.3 L705.6 593.3 L706.1 593.3 L706.6 593.3 L707.1 593.3 L707.6 593.3 L708.1 593.3 L708.6 593.3 L709.1 593.3 L709.6 593.3 L710.1 593.3 L710.6 593.3 L711.1 593.3 L711.6 593.3 L712.1 593.3 L712.6 593.3 L713.1 593.3 L713.6 593.3 L714.1 593.3 L714.6 593.3 L715.1 593.3 L715.6 593.3 L716.1 593.3 L716.6 593.3 L717.1 593.3 L717.6 593.3 L718.1 593.3 L718.6 593.3 L719.1 593.3 L719.6 593.3 L720.1 593.3 L720.6 593.3 L721.1 593.3 L721.6 593.3 L722.1 593.3 L722.6 593.3 L723.1 593.3 L723.6 593.3 L724.1 593.3 L724.6 593.3 L725.1 593.3 L725.6 593.3 L726.1 593.3 L726.6 593.3 L727.1 593.3 L727.6 593.3 L728.1 593.3 L728.6 593.3 L729.1 593.3 L729.6 593.3 L730.1 593.3 L730.6 593.3 L731.1 593.3 L731.6 593.3 L732.1 593.3 L732.6 593.3 L733.1 593.3 L733.6 593.3 L734.1 593.3 L734.6 593.3 L735.1 593.3 L735.6 593.3 L736.1 593.3 L736.6 593.3 L737.1 593.3 L737.6 593.3 L738.1 593.3 L738.6 593.3 L739.1 593.3 L739.6 593.3 L740.1 593.3 L740.6 593.3 L741.1 593.3 L741.6 593.3 L742.1 593.3 L742.6 593.3 L743.1 593.3 L743.6 593.3 L744.1 593.3 L744.6 593.3 L745.1 593.3 L745.6 593.3 L746.1 593.3 L746.6 593.3 L747.1 593.3 L747.6 593.3 L748.1 593.3 L748.6 593.3 L749.1 593.3 L749.6 593.3 L750.1 593.3 L750.6 593.3 L751.1 593.3 L751.6 593.3 L752.1 593.3 L752.6 593.3 L753.1 593.3 L753.6 593.3 L754.1 593.3 L754.6 593.3 L755.1 593.3 L755.6 593.3 L756.1 593.3 L756.6 593.3 L757.1 593.3 L757.6 593.3 L758.1 593.3 L758.6 593.3 L759.1 593.3 L759.6 593.3 L760.1 593.3 L760.6 593.3 L761.1 593.3 L761.6 593.3 L762.1 593.3 L762.6 593.3 L763.1 593.3 L763.6 593.3 L764.1 593.3 L764.6 593.3 L765.1 593.3 L765.6 593.3 L766.1 593.3 L766.6 593.3 L767.1 593.3 L767.6 593.3 L768.1 593.3 L768.6 593.3 L769.1 593.3 L769.6 593.3 L770.1 593.3 L770.6 593.3 L771.1 593.3 L771.6 593.3 L772.1 593.3 L772.6 593.3 L773.1 593.3 L773.6 593.3 L774.1 593.3 L774.6 593.3 L775.1 593.3 L775.6 593.3 L776.1 593.3 L776.6 593.3 L777.1 593.3 L777.6 593.3 L778.1 593.3 L778.6 593.3 L779.1 593.3 L779.6 593.3 L780.1 593.3 L780.6 593.3 L781.1 593.3 L781.6 593.3 L782.1 593.3 L782.6 593.3 L783.1 593.3 L783.6 593.3 L784.1 593.3 L784.6 593.3 L785.1 593.3 L785.6 593.3 L786.1 593.3 L786.6 593.3 L787.1 593.3 L787.6 593.3 L788.1 593.3 L788.6 593.3 L789.1 593.3 L789.6 593.3 L790.1 593.3 L790.6 593.3 L791.1 593.3 L791.6 593.3 L792.1 593.3 L792.6 593.3 L793.1 593.3 L793.6 593.3 L794.1 593.3 L794.6 593.3 L795.1 593.3 L795.6 593.3 L796.1 593.3 L796.6 593.3 L797.1 593.3 L797.6 593.3 L798.1 593.3" fill="none" stroke="#1747b0" stroke-width="3.7" stroke-linejoin="round"/>
<path d="M106.6 523.5 L107.1 523.3 L107.6 523.2 L108.1 523.1 L108.6 523.0 L109.1 522.9 L109.6 522.8 L110.1 522.6 L110.6 522.5 L111.1 522.4 L111.6 522.2 L112.1 522.0 L112.6 521.8 L113.1 521.6 L113.6 521.4 L114.1 521.1 L114.6 520.9 L115.1 520.6 L115.6 520.2 L116.1 519.9 L116.6 519.6 L117.1 519.2 L117.6 518.8 L118.1 518.4 L118.6 518.0 L119.1 517.6 L119.6 517.1 L120.1 516.7 L120.6 516.3 L121.1 515.8 L121.6 515.4 L122.1 515.0 L122.6 514.6 L123.1 514.2 L123.6 513.8 L124.1 513.5 L124.6 513.1 L125.1 512.8 L125.6 512.5 L126.1 512.2 L126.6 511.9 L127.1 511.7 L127.6 511.4 L128.1 511.2 L128.6 511.0 L129.1 510.9 L129.6 510.7 L130.1 510.6 L130.6 510.4 L131.1 510.3 L131.6 510.2 L132.1 510.1 L132.6 510.0 L133.1 509.9 L133.6 509.8 L134.1 509.7 L134.6 509.6 L135.1 509.4 L135.6 509.3 L136.1 509.1 L136.6 509.0 L137.1 508.8 L137.6 508.6 L138.1 508.4 L138.6 508.1 L139.1 507.8 L139.6 507.6 L140.1 507.3 L140.6 506.9 L141.1 506.6 L141.6 506.3 L142.1 505.9 L142.6 505.5 L143.1 505.1 L143.6 504.7 L144.1 504.3 L144.6 503.9 L145.1 503.5 L145.6 503.1 L146.1 502.8 L146.6 502.4 L147.1 502.0 L147.6 501.7 L148.1 501.3 L148.6 501.0 L149.1 500.7 L149.6 500.4 L150.1 500.1 L150.6 499.9 L151.1 499.6 L151.6 499.4 L152.1 499.2 L152.6 499.1 L153.1 498.9 L153.6 498.7 L154.1 498.6 L154.6 498.5 L155.1 498.4 L155.6 498.3 L156.1 498.2 L156.6 498.1 L157.1 498.0 L157.6 497.9 L158.1 497.8 L158.6 497.7 L159.1 497.6 L159.6 497.5 L160.1 497.4 L160.6 497.2 L161.1 497.1 L161.6 496.9 L162.1 496.7 L162.6 496.5 L163.1 496.3 L163.6 496.1 L164.1 495.8 L164.6 495.5 L165.1 495.2 L165.6 495.0 L166.1 494.6 L166.6 494.3 L167.1 494.0 L167.6 493.7 L168.1 493.3 L168.6 493.0 L169.1 492.7 L169.6 492.3 L170.1 492.0 L170.6 491.7 L171.1 491.4 L171.6 491.0 L172.1 490.8 L172.6 490.5 L173.1 490.2 L173.6 490.0 L174.1 489.7 L174.6 489.5 L175.1 489.3 L175.6 489.1 L176.1 488.9 L176.6 488.8 L177.1 488.7 L177.6 488.5 L178.1 488.4 L178.6 488.3 L179.1 488.2 L179.6 488.1 L180.1 488.0 L180.6 488.0 L181.1 487.9 L181.6 487.8 L182.1 487.7 L182.6 487.7 L183.1 487.6 L183.6 487.5 L184.1 487.4 L184.6 487.3 L185.1 487.2 L185.6 487.0 L186.1 486.9 L186.6 486.7 L187.1 486.6 L187.6 486.4 L188.1 486.2 L188.6 486.0 L189.1 485.8 L189.6 485.5 L190.1 485.3 L190.6 485.1 L191.1 484.8 L191.6 484.6 L192.1 484.3 L192.6 484.0 L193.1 483.8 L193.6 483.5 L194.1 483.3 L194.6 483.0 L195.1 482.7 L195.6 482.5 L196.1 482.3 L196.6 482.0 L197.1 481.8 L197.6 481.6 L198.1 481.4 L198.6 481.2 L199.1 481.0 L199.6 480.9 L200.1 480.7 L200.6 480.6 L201.1 480.5 L201.6 480.3 L202.1 480.2 L202.6 480.2 L203.1 480.1 L203.6 480.0 L204.1 479.9 L204.6 479.8 L205.1 479.8 L205.6 479.7 L206.1 479.6 L206.6 479.6 L207.1 479.5 L207.6 479.4 L208.1 479.3 L208.6 479.2 L209.1 479.1 L209.6 479.0 L210.1 478.9 L210.6 478.8 L211.1 478.6 L211.6 478.4 L212.1 478.3 L212.6 478.1 L213.1 477.9 L213.6 477.6 L214.1 477.4 L214.6 477.2 L215.1 476.9 L215.6 476.7 L216.1 476.4 L216.6 476.1 L217.1 475.9 L217.6 475.6 L218.1 475.3 L218.6 475.1 L219.1 474.8 L219.6 474.5 L220.1 474.3 L220.6 474.1 L221.1 473.8 L221.6 473.6 L222.1 473.4 L222.6 473.3 L223.1 473.1 L223.6 472.9 L224.1 472.8 L224.6 472.7 L225.1 472.5 L225.6 472.4 L226.1 472.3 L226.6 472.3 L227.1 472.2 L227.6 472.1 L228.1 472.0 L228.6 472.0 L229.1 471.9 L229.6 471.9 L230.1 471.8 L230.6 471.8 L231.1 471.7 L231.6 471.6 L232.1 471.6 L232.6 471.5 L233.1 471.4 L233.6 471.3 L234.1 471.2 L234.6 471.1 L235.1 471.0 L235.6 470.9 L236.1 470.8 L236.6 470.6 L237.1 470.5 L237.6 470.3 L238.1 470.1 L238.6 470.0 L239.1 469.8 L239.6 469.6 L240.1 469.4 L240.6 469.2 L241.1 469.0 L241.6 468.9 L242.1 468.7 L242.6 468.5 L243.1 468.3 L243.6 468.1 L244.1 468.0 L244.6 467.8 L245.1 467.6 L245.6 467.5 L246.1 467.3 L246.6 467.2 L247.1 467.1 L247.6 467.0 L248.1 466.9 L248.6 466.8 L249.1 466.7 L249.6 466.6 L250.1 466.5 L250.6 466.5 L251.1 466.4 L251.6 466.4 L252.1 466.3 L252.6 466.3 L253.1 466.2 L253.6 466.2 L254.1 466.2 L254.6 466.1 L255.1 466.1 L255.6 466.0 L256.1 466.0 L256.6 466.0 L257.1 465.9 L257.6 465.8 L258.1 465.8 L258.6 465.7 L259.1 465.6 L259.6 465.6 L260.1 465.5 L260.6 465.4 L261.1 465.3 L261.6 465.2 L262.1 465.1 L262.6 464.9 L263.1 464.8 L263.6 464.7 L264.1 464.6 L264.6 464.5 L265.1 464.3 L265.6 464.2 L266.1 464.1 L266.6 463.9 L267.1 463.8 L267.6 463.7 L268.1 463.6 L268.6 463.5 L269.1 463.4 L269.6 463.2 L270.1 463.1 L270.6 463.0 L271.1 463.0 L271.6 462.9 L272.1 462.8 L272.6 462.7 L273.1 462.7 L273.6 462.6 L274.1 462.5 L274.6 462.5 L275.1 462.4 L275.6 462.4 L276.1 462.4 L276.6 462.3 L277.1 462.3 L277.6 462.3 L278.1 462.2 L278.6 462.2 L279.1 462.2 L279.6 462.1 L280.1 462.1 L280.6 462.1 L281.1 462.0 L281.6 462.0 L282.1 461.9 L282.6 461.9 L283.1 461.8 L283.6 461.8 L284.1 461.7 L284.6 461.6 L285.1 461.5 L285.6 461.4 L286.1 461.4 L286.6 461.3 L287.1 461.2 L287.6 461.0 L288.1 460.9 L288.6 460.8 L289.1 460.7 L289.6 460.6 L290.1 460.5 L290.6 460.4 L291.1 460.2 L291.6 460.1 L292.1 460.0 L292.6 459.9 L293.1 459.8 L293.6 459.7 L294.1 459.6 L294.6 459.6 L295.1 459.5 L295.6 459.4 L296.1 459.3 L296.6 459.3 L297.1 459.2 L297.6 459.2 L298.1 459.1 L298.6 459.1 L299.1 459.1 L299.6 459.0 L300.1 459.0 L300.6 459.0 L301.1 459.0 L301.6 458.9 L302.1 458.9 L302.6 458.9 L303.1 458.9 L303.6 458.9 L304.1 458.8 L304.6 458.8 L305.1 458.8 L305.6 458.8 L306.1 458.7 L306.6 458.7 L307.1 458.7 L307.6 458.6 L308.1 458.6 L308.6 458.6 L309.1 458.5 L309.6 458.5 L310.1 458.4 L310.6 458.3 L311.1 458.3 L311.6 458.2 L312.1 458.2 L312.6 458.1 L313.1 458.0 L313.6 458.0 L314.1 457.9 L314.6 457.9 L315.1 457.8 L315.6 457.7 L316.1 457.7 L316.6 457.6 L317.1 457.6 L317.6 457.5 L318.1 457.5 L318.6 457.4 L319.1 457.4 L319.6 457.4 L320.1 457.3 L320.6 457.3 L321.1 457.3 L321.6 457.3 L322.1 457.2 L322.6 457.2 L323.1 457.2 L323.6 457.2 L324.1 457.2 L324.6 457.2 L325.1 457.1 L325.6 457.1 L326.1 457.1 L326.6 457.1 L327.1 457.1 L327.6 457.1 L328.1 457.1 L328.6 457.1 L329.1 457.1 L329.6 457.0 L330.1 457.0 L330.6 457.0 L331.1 457.0 L331.6 457.0 L332.1 457.0 L332.6 457.0 L333.1 456.9 L333.6 456.9 L334.1 456.9 L334.6 456.9 L335.1 456.8 L335.6 456.8 L336.1 456.8 L336.6 456.8 L337.1 456.7 L337.6 456.7 L338.1 456.7 L338.6 456.7 L339.1 456.6 L339.6 456.6 L340.1 456.6 L340.6 456.6 L341.1 456.5 L341.6 456.5 L342.1 456.5 L342.6 456.5 L343.1 456.4 L343.6 456.4 L344.1 456.4 L344.6 456.4 L345.1 456.4 L345.6 456.4 L346.1 456.4 L346.6 456.3 L347.1 456.3 L347.6 456.3 L348.1 456.3 L348.6 456.3 L349.1 456.3 L349.6 456.3 L350.1 456.3 L350.6 456.3 L351.1 456.3 L351.6 456.3 L352.1 456.3 L352.6 456.3 L353.1 456.3 L353.6 456.2 L354.1 456.2 L354.6 456.2 L355.1 456.2 L355.6 456.2 L356.1 456.2 L356.6 456.2 L357.1 456.2 L357.6 456.1 L358.1 456.1 L358.6 456.1 L359.1 456.1 L359.6 456.1 L360.1 456.1 L360.6 456.0 L361.1 456.0 L361.6 456.0 L362.1 456.0 L362.6 455.9 L363.1 455.9 L363.6 455.9 L364.1 455.9 L364.6 455.9 L365.1 455.8 L365.6 455.8 L366.1 455.8 L366.6 455.8 L367.1 455.8 L367.6 455.8 L368.1 455.7 L368.6 455.7 L369.1 455.7 L369.6 455.7 L370.1 455.7 L370.6 455.7 L371.1 455.7 L371.6 455.7 L372.1 455.7 L372.6 455.7 L373.1 455.7 L373.6 455.7 L374.1 455.7 L374.6 455.7 L375.1 455.7 L375.6 455.7 L376.1 455.6 L376.6 455.6 L377.1 455.6 L377.6 455.6 L378.1 455.6 L378.6 455.6 L379.1 455.6 L379.6 455.6 L380.1 455.6 L380.6 455.6 L381.1 455.6 L381.6 455.6 L382.1 455.6 L382.6 455.6 L383.1 455.6 L383.6 455.6 L384.1 455.5 L384.6 455.5 L385.1 455.5 L385.6 455.5 L386.1 455.5 L386.6 455.5 L387.1 455.5 L387.6 455.5 L388.1 455.5 L388.6 455.5 L389.1 455.5 L389.6 455.4 L390.1 455.4 L390.6 455.4 L391.1 455.4 L391.6 455.4 L392.1 455.4 L392.6 455.4 L393.1 455.4 L393.6 455.4 L394.1 455.4 L394.6 455.4 L395.1 455.4 L395.6 455.4 L396.1 455.4 L396.6 455.4 L397.1 455.4 L397.6 455.4 L398.1 455.4 L398.6 455.4 L399.1 455.4 L399.6 455.4 L400.1 455.4 L400.6 455.4 L401.1 455.4 L401.6 455.4 L402.1 455.4 L402.6 455.4 L403.1 455.4 L403.6 455.4 L404.1 455.4 L404.6 455.4 L405.1 455.4 L405.6 455.4 L406.1 455.4 L406.6 455.4 L407.1 455.3 L407.6 455.3 L408.1 455.3 L408.6 455.3 L409.1 455.3 L409.6 455.3 L410.1 455.3 L410.6 455.3 L411.1 455.3 L411.6 455.3 L412.1 455.3 L412.6 455.3 L413.1 455.3 L413.6 455.3 L414.1 455.3 L414.6 455.3 L415.1 455.3 L415.6 455.3 L416.1 455.3 L416.6 455.3 L417.1 455.3 L417.6 455.3 L418.1 455.3 L418.6 455.3 L419.1 455.3 L419.6 455.3 L420.1 455.3 L420.6 455.3 L421.1 455.3 L421.6 455.3 L422.1 455.3 L422.6 455.3 L423.1 455.3 L423.6 455.3 L424.1 455.3 L424.6 455.3 L425.1 455.3 L425.6 455.3 L426.1 455.3 L426.6 455.3 L427.1 455.3 L427.6 455.3 L428.1 455.3 L428.6 455.3 L429.1 455.3 L429.6 455.3 L430.1 455.3 L430.6 455.3 L431.1 455.3 L431.6 455.3 L432.1 455.2 L432.6 455.2 L433.1 455.2 L433.6 455.2 L434.1 455.2 L434.6 455.2 L435.1 455.2 L435.6 455.2 L436.1 455.2 L436.6 455.2 L437.1 455.2 L437.6 455.2 L438.1 455.2 L438.6 455.2 L439.1 455.2 L439.6 455.2 L440.1 455.2 L440.6 455.2 L441.1 455.2 L441.6 455.2 L442.1 455.2 L442.6 455.2 L443.1 455.2 L443.6 455.2 L444.1 455.2 L444.6 455.2 L445.1 455.2 L445.6 455.2 L446.1 455.2 L446.6 455.2 L447.1 455.2 L447.6 455.2 L448.1 455.2 L448.6 455.2 L449.1 455.2 L449.6 455.2 L450.1 455.2 L450.6 455.2 L451.1 455.2 L451.6 455.2 L452.1 455.2 L452.6 455.2 L453.1 455.2 L453.6 455.2 L454.1 455.2 L454.6 455.2 L455.1 455.2 L455.6 455.2 L456.1 455.2 L456.6 455.2 L457.1 455.2 L457.6 455.2 L458.1 455.2 L458.6 455.2 L459.1 455.2 L459.6 455.2 L460.1 455.2 L460.6 455.2 L461.1 455.2 L461.6 455.2 L462.1 455.2 L462.6 455.2 L463.1 455.2 L463.6 455.2 L464.1 455.2 L464.6 455.2 L465.1 455.2 L465.6 455.2 L466.1 455.2 L466.6 455.2 L467.1 455.2 L467.6 455.2 L468.1 455.2 L468.6 455.2 L469.1 455.2 L469.6 455.2 L470.1 455.2 L470.6 455.2 L471.1 455.2 L471.6 455.2 L472.1 455.2 L472.6 455.2 L473.1 455.2 L473.6 455.2 L474.1 455.2 L474.6 455.2 L475.1 455.2 L475.6 455.2 L476.1 455.2 L476.6 455.2 L477.1 455.2 L477.6 455.2 L478.1 455.2 L478.6 455.2 L479.1 455.2 L479.6 455.2 L480.1 455.2 L480.6 455.2 L481.1 455.2 L481.6 455.2 L482.1 455.2 L482.6 455.2 L483.1 455.2 L483.6 455.2 L484.1 455.2 L484.6 455.2 L485.1 455.1 L485.6 455.1 L486.1 455.1 L486.6 455.1 L487.1 455.1 L487.6 455.1 L488.1 455.1 L488.6 455.1 L489.1 455.1 L489.6 455.1 L490.1 455.1 L490.6 455.1 L491.1 455.1 L491.6 455.1 L492.1 455.1 L492.6 455.1 L493.1 455.1 L493.6 455.1 L494.1 455.1 L494.6 455.1 L495.1 455.1 L495.6 455.1 L496.1 455.1 L496.6 455.1 L497.1 455.1 L497.6 455.1 L498.1 455.1 L498.6 455.1 L499.1 455.1 L499.6 455.1 L500.1 455.1 L500.6 455.1 L501.1 455.1 L501.6 455.1 L502.1 455.1 L502.6 455.1 L503.1 455.1 L503.6 455.1 L504.1 455.1 L504.6 455.1 L505.1 455.1 L505.6 455.1 L506.1 455.1 L506.6 455.1 L507.1 455.1 L507.6 455.1 L508.1 455.1 L508.6 455.1 L509.1 455.1 L509.6 455.1 L510.1 455.1 L510.6 455.1 L511.1 455.1 L511.6 455.1 L512.1 455.1 L512.6 455.1 L513.1 455.1 L513.6 455.1 L514.1 455.1 L514.6 455.1 L515.1 455.1 L515.6 455.1 L516.1 455.1 L516.6 455.1 L517.1 455.1 L517.6 455.1 L518.1 455.1 L518.6 455.1 L519.1 455.1 L519.6 455.1 L520.1 455.1 L520.6 455.1 L521.1 455.1 L521.6 455.1 L522.1 455.1 L522.6 455.1 L523.1 455.1 L523.6 455.1 L524.1 455.1 L524.6 455.1 L525.1 455.1 L525.6 455.1 L526.1 455.1 L526.6 455.1 L527.1 455.1 L527.6 455.1 L528.1 455.1 L528.6 455.1 L529.1 455.1 L529.6 455.1 L530.1 455.1 L530.6 455.1 L531.1 455.1 L531.6 455.1 L532.1 455.1 L532.6 455.1 L533.1 455.1 L533.6 455.1 L534.1 455.1 L534.6 455.1 L535.1 455.1 L535.6 455.1 L536.1 455.1 L536.6 455.1 L537.1 455.1 L537.6 455.1 L538.1 455.1 L538.6 455.1 L539.1 455.1 L539.6 455.1 L540.1 455.1 L540.6 455.1 L541.1 455.1 L541.6 455.1 L542.1 455.1 L542.6 455.1 L543.1 455.1 L543.6 455.1 L544.1 455.1 L544.6 455.1 L545.1 455.1 L545.6 455.1 L546.1 455.1 L546.6 455.1 L547.1 455.1 L547.6 455.1 L548.1 455.1 L548.6 455.1 L549.1 455.1 L549.6 455.1 L550.1 455.1 L550.6 455.1 L551.1 455.1 L551.6 455.1 L552.1 455.1 L552.6 455.1 L553.1 455.1 L553.6 455.1 L554.1 455.1 L554.6 455.1 L555.1 455.1 L555.6 455.1 L556.1 455.1 L556.6 455.1 L557.1 455.1 L557.6 455.1 L558.1 455.1 L558.6 455.1 L559.1 455.1 L559.6 455.1 L560.1 455.1 L560.6 455.1 L561.1 455.1 L561.6 455.1 L562.1 455.1 L562.6 455.1 L563.1 455.1 L563.6 455.1 L564.1 455.1 L564.6 455.1 L565.1 455.1 L565.6 455.1 L566.1 455.1 L566.6 455.1 L567.1 455.1 L567.6 455.1 L568.1 455.1 L568.6 455.1 L569.1 455.1 L569.6 455.1 L570.1 455.1 L570.6 455.1 L571.1 455.1 L571.6 455.1 L572.1 455.1 L572.6 455.1 L573.1 455.1 L573.6 455.1 L574.1 455.1 L574.6 455.1 L575.1 455.1 L575.6 455.1 L576.1 455.1 L576.6 455.1 L577.1 455.1 L577.6 455.1 L578.1 455.1 L578.6 455.1 L579.1 455.1 L579.6 455.1 L580.1 455.1 L580.6 455.1 L581.1 455.1 L581.6 455.1 L582.1 455.1 L582.6 455.1 L583.1 455.1 L583.6 455.1 L584.1 455.1 L584.6 455.1 L585.1 455.1 L585.6 455.1 L586.1 455.1 L586.6 455.1 L587.1 455.1 L587.6 455.1 L588.1 455.1 L588.6 455.1 L589.1 455.1 L589.6 455.1 L590.1 455.1 L590.6 455.1 L591.1 455.1 L591.6 455.1 L592.1 455.1 L592.6 455.1 L593.1 455.1 L593.6 455.1 L594.1 455.1 L594.6 455.1 L595.1 455.1 L595.6 455.1 L596.1 455.1 L596.6 455.1 L597.1 455.1 L597.6 455.1 L598.1 455.1 L598.6 455.1 L599.1 455.1 L599.6 455.1 L600.1 455.1 L600.6 455.1 L601.1 455.1 L601.6 455.1 L602.1 455.1 L602.6 455.1 L603.1 455.1 L603.6 455.1 L604.1 455.1 L604.6 455.1 L605.1 455.1 L605.6 455.1 L606.1 455.1 L606.6 455.1 L607.1 455.1 L607.6 455.1 L608.1 455.1 L608.6 455.1 L609.1 455.1 L609.6 455.1 L610.1 455.1 L610.6 455.1 L611.1 455.1 L611.6 455.1 L612.1 455.1 L612.6 455.1 L613.1 455.1 L613.6 455.1 L614.1 455.1 L614.6 455.1 L615.1 455.1 L615.6 455.1 L616.1 455.1 L616.6 455.1 L617.1 455.1 L617.6 455.1 L618.1 455.1 L618.6 455.1 L619.1 455.1 L619.6 455.1 L620.1 455.1 L620.6 455.1 L621.1 455.1 L621.6 455.1 L622.1 455.1 L622.6 455.1 L623.1 455.1 L623.6 455.1 L624.1 455.1 L624.6 455.1 L625.1 455.1 L625.6 455.1 L626.1 455.1 L626.6 455.1 L627.1 455.1 L627.6 455.1 L628.1 455.1 L628.6 455.1 L629.1 455.1 L629.6 455.1 L630.1 455.1 L630.6 455.1 L631.1 455.1 L631.6 455.1 L632.1 455.1 L632.6 455.1 L633.1 455.1 L633.6 455.1 L634.1 455.1 L634.6 455.1 L635.1 455.1 L635.6 455.1 L636.1 455.1 L636.6 455.1 L637.1 455.1 L637.6 455.1 L638.1 455.1 L638.6 455.1 L639.1 455.1 L639.6 455.1 L640.1 455.1 L640.6 455.1 L641.1 455.1 L641.6 455.1 L642.1 455.1 L642.6 455.1 L643.1 455.1 L643.6 455.1 L644.1 455.1 L644.6 455.1 L645.1 455.1 L645.6 455.1 L646.1 455.1 L646.6 455.1 L647.1 455.1 L647.6 455.1 L648.1 455.1 L648.6 455.1 L649.1 455.1 L649.6 455.1 L650.1 455.1 L650.6 455.1 L651.1 455.1 L651.6 455.1 L652.1 455.1 L652.6 455.1 L653.1 455.1 L653.6 455.1 L654.1 455.1 L654.6 455.1 L655.1 455.1 L655.6 455.1 L656.1 455.1 L656.6 455.1 L657.1 455.1 L657.6 455.1 L658.1 455.1 L658.6 455.1 L659.1 455.1 L659.6 455.1 L660.1 455.1 L660.6 455.1 L661.1 455.1 L661.6 455.1 L662.1 455.1 L662.6 455.1 L663.1 455.1 L663.6 455.1 L664.1 455.1 L664.6 455.1 L665.1 455.1 L665.6 455.1 L666.1 455.1 L666.6 455.1 L667.1 455.1 L667.6 455.1 L668.1 455.1 L668.6 455.1 L669.1 455.1 L669.6 455.1 L670.1 455.1 L670.6 455.1 L671.1 455.1 L671.6 455.1 L672.1 455.1 L672.6 455.1 L673.1 455.1 L673.6 455.1 L674.1 455.1 L674.6 455.1 L675.1 455.1 L675.6 455.1 L676.1 455.1 L676.6 455.1 L677.1 455.1 L677.6 455.1 L678.1 455.1 L678.6 455.1 L679.1 455.1 L679.6 455.1 L680.1 455.1 L680.6 455.1 L681.1 455.1 L681.6 455.1 L682.1 455.1 L682.6 455.1 L683.1 455.1 L683.6 455.1 L684.1 455.1 L684.6 455.1 L685.1 455.1 L685.6 455.1 L686.1 455.1 L686.6 455.1 L687.1 455.1 L687.6 455.1 L688.1 455.1 L688.6 455.1 L689.1 455.1 L689.6 455.1 L690.1 455.1 L690.6 455.1 L691.1 455.1 L691.6 455.1 L692.1 455.1 L692.6 455.1 L693.1 455.1 L693.6 455.1 L694.1 455.1 L694.6 455.1 L695.1 455.1 L695.6 455.1 L696.1 455.1 L696.6 455.1 L697.1 455.1 L697.6 455.1 L698.1 455.1 L698.6 455.1 L699.1 455.1 L699.6 455.1 L700.1 455.1 L700.6 455.1 L701.1 455.1 L701.6 455.1 L702.1 455.1 L702.6 455.1 L703.1 455.1 L703.6 455.1 L704.1 455.1 L704.6 455.1 L705.1 455.1 L705.6 455.1 L706.1 455.1 L706.6 455.1 L707.1 455.1 L707.6 455.1 L708.1 455.1 L708.6 455.1 L709.1 455.1 L709.6 455.1 L710.1 455.1 L710.6 455.1 L711.1 455.1 L711.6 455.1 L712.1 455.1 L712.6 455.1 L713.1 455.1 L713.6 455.1 L714.1 455.1 L714.6 455.1 L715.1 455.1 L715.6 455.1 L716.1 455.1 L716.6 455.1 L717.1 455.1 L717.6 455.1 L718.1 455.1 L718.6 455.1 L719.1 455.1 L719.6 455.1 L720.1 455.1 L720.6 455.1 L721.1 455.1 L721.6 455.1 L722.1 455.1 L722.6 455.1 L723.1 455.1 L723.6 455.1 L724.1 455.1 L724.6 455.1 L725.1 455.1 L725.6 455.1 L726.1 455.1 L726.6 455.1 L727.1 455.1 L727.6 455.1 L728.1 455.1 L728.6 455.1 L729.1 455.1 L729.6 455.1 L730.1 455.1 L730.6 455.1 L731.1 455.1 L731.6 455.1 L732.1 455.1 L732.6 455.1 L733.1 455.1 L733.6 455.1 L734.1 455.1 L734.6 455.1 L735.1 455.1 L735.6 455.1 L736.1 455.1 L736.6 455.1 L737.1 455.1 L737.6 455.1 L738.1 455.1 L738.6 455.1 L739.1 455.1 L739.6 455.1 L740.1 455.1 L740.6 455.1 L741.1 455.1 L741.6 455.1 L742.1 455.1 L742.6 455.1 L743.1 455.1 L743.6 455.1 L744.1 455.1 L744.6 455.1 L745.1 455.1 L745.6 455.1 L746.1 455.1 L746.6 455.1 L747.1 455.1 L747.6 455.1 L748.1 455.1 L748.6 455.1 L749.1 455.1 L749.6 455.1 L750.1 455.1 L750.6 455.1 L751.1 455.1 L751.6 455.1 L752.1 455.1 L752.6 455.1 L753.1 455.1 L753.6 455.1 L754.1 455.1 L754.6 455.1 L755.1 455.1 L755.6 455.1 L756.1 455.1 L756.6 455.1 L757.1 455.1 L757.6 455.1 L758.1 455.1 L758.6 455.1 L759.1 455.1 L759.6 455.1 L760.1 455.1 L760.6 455.1 L761.1 455.1 L761.6 455.1 L762.1 455.1 L762.6 455.1 L763.1 455.1 L763.6 455.1 L764.1 455.1 L764.6 455.1 L765.1 455.1 L765.6 455.1 L766.1 455.1 L766.6 455.1 L767.1 455.1 L767.6 455.1 L768.1 455.1 L768.6 455.1 L769.1 455.1 L769.6 455.1 L770.1 455.1 L770.6 455.1 L771.1 455.1 L771.6 455.1 L772.1 455.1 L772.6 455.1 L773.1 455.1 L773.6 455.1 L774.1 455.1 L774.6 455.1 L775.1 455.1 L775.6 455.1 L776.1 455.1 L776.6 455.1 L777.1 455.1 L777.6 455.1 L778.1 455.1 L778.6 455.1 L779.1 455.1 L779.6 455.1 L780.1 455.1 L780.6 455.1 L781.1 455.1 L781.6 455.1 L782.1 455.1 L782.6 455.1 L783.1 455.1 L783.6 455.1 L784.1 455.1 L784.6 455.1 L785.1 455.1 L785.6 455.1 L786.1 455.1 L786.6 455.1 L787.1 455.1 L787.6 455.1 L788.1 455.1 L788.6 455.1 L789.1 455.1 L789.6 455.1 L790.1 455.1 L790.6 455.1 L791.1 455.1 L791.6 455.1 L792.1 455.1 L792.6 455.1 L793.1 455.1 L793.6 455.1 L794.1 455.1 L794.6 455.1 L795.1 455.1 L795.6 455.1 L796.1 455.1 L796.6 455.1 L797.1 455.1 L797.6 455.1 L798.1 455.1" fill="none" stroke="#e03a60" stroke-width="3.7" stroke-linejoin="round"/>
</g>
<circle cx="723.7" cy="524.1" r="64.0" fill="#fbfbfb" stroke="#000" stroke-width="1.7"/>
<ellipse cx="723.7" cy="524.1" rx="64.0" ry="21.2" fill="none" stroke="#000" stroke-width="1.3" stroke-dasharray="4.6 2.1"/>
<line x1="723.7" y1="524.1" x2="723.7" y2="476" stroke="#dd6a8e" stroke-width="1.2"/>
<line x1="723.7" y1="476" x2="750.3" y2="476" stroke="#dd6a8e" stroke-width="1.3" stroke-dasharray="2 2"/>
<path d="M723.7 497.8 l5 5 m-5 0 l5 -5" transform="translate(-2.5,0)" stroke="#dd6a8e" stroke-width="1.2" fill="none"/>
<line x1="723.7" y1="524.1" x2="723.7" y2="574.7" stroke="#3f6fd0" stroke-width="1.2"/>
<line x1="723.7" y1="574.7" x2="699.7" y2="579.3" stroke="#3f6fd0" stroke-width="1.3" stroke-dasharray="2 2"/>
<path d="M723.7 551 l5 5 m-5 0 l5 -5" transform="translate(-2.5,0)" stroke="#3f6fd0" stroke-width="1.2" fill="none"/>
<g><line x1="723.7" y1="524.1" x2="764.3" y2="492.6" stroke="#f2d3dd" stroke-width="3.00"/><polygon points="770.6,487.7 765.2,497.0 760.2,490.7" fill="#f2d3dd"/></g>
<g><line x1="723.7" y1="524.1" x2="746.0" y2="484.5" stroke="#dd6a8e" stroke-width="3.00"/><polygon points="750.3,476.8 748.6,488.5 741.2,484.3" fill="#dd6a8e"/></g>
<g><line x1="723.7" y1="524.1" x2="689.9" y2="560.7" stroke="#cdd6f1" stroke-width="3.00"/><polygon points="684.5,566.6 688.3,556.5 694.2,562.0" fill="#cdd6f1"/></g>
<g><line x1="723.7" y1="524.1" x2="702.8" y2="571.3" stroke="#3f6fd0" stroke-width="3.00"/><polygon points="699.2,579.3 699.8,567.5 707.5,571.0" fill="#3f6fd0"/></g>
<path d="M765.5 486.2 Q761 480.5 756.5 478.6" fill="none" stroke="#000" stroke-width="1.6"/>
<polygon points="752.6,477.0 759.2,476.3 757.0,481.8" fill="#000"/>
<path d="M685.3 568.7 Q689 573.5 693.3 575.8" fill="none" stroke="#000" stroke-width="1.6"/>
<polygon points="696.6,577.6 690.2,578.2 692.4,572.8" fill="#000"/>
<circle cx="723.7" cy="524.1" r="2.3" fill="#000"/>
<circle cx="659.7" cy="524.1" r="2.7" fill="#fff" stroke="#000" stroke-width="1.3"/>
<circle cx="787.7" cy="524.1" r="2.7" fill="#fff" stroke="#000" stroke-width="1.3"/>
<circle cx="723.7" cy="460.1" r="2.7" fill="#fff" stroke="#000" stroke-width="1.3"/>
<circle cx="723.7" cy="588.1" r="2.7" fill="#fff" stroke="#000" stroke-width="1.3"/>
<rect x="106.6" y="437.8" width="691.1" height="172.9" fill="none" stroke="#000" stroke-width="1.8"/>
<line x1="106.3" y1="610.7" x2="106.3" y2="618.3" stroke="#000" stroke-width="1.8"/>
<line x1="353.8" y1="610.7" x2="353.8" y2="618.3" stroke="#000" stroke-width="1.8"/>
<line x1="601.3" y1="610.7" x2="601.3" y2="618.3" stroke="#000" stroke-width="1.8"/>
<line x1="98.4" y1="455.1" x2="106.6" y2="455.1" stroke="#000" stroke-width="1.8"/>
<text x="89.9" y="462.7" font-size="23.4" text-anchor="end" fill="#000" textLength="34.3" lengthAdjust="spacingAndGlyphs">1.0</text>
<line x1="98.4" y1="524.2" x2="106.6" y2="524.2" stroke="#000" stroke-width="1.8"/>
<text x="89.9" y="531.8" font-size="23.4" text-anchor="end" fill="#000" textLength="34.3" lengthAdjust="spacingAndGlyphs">0.0</text>
<line x1="98.4" y1="593.3" x2="106.6" y2="593.3" stroke="#000" stroke-width="1.8"/>
<text x="89.9" y="600.9" font-size="23.4" text-anchor="end" fill="#000" textLength="43.2" lengthAdjust="spacingAndGlyphs">-1.0</text>
<text x="-1.6" y="434.9" font-size="27.5" text-anchor="start" fill="#000" textLength="34.5" lengthAdjust="spacingAndGlyphs">(c)</text>
<line x1="463.25" y1="484.40" x2="466.56" y2="464.90" stroke="#e03a60" stroke-width="2.90"/>
<text x="470.2" y="473.9" font-size="19.0" text-anchor="start" fill="#e03a60" font-style="italic" textLength="10.6" lengthAdjust="spacingAndGlyphs">z</text>
<text x="470.0" y="493.7" font-size="19.0" text-anchor="start" fill="#e03a60" textLength="10.6" lengthAdjust="spacingAndGlyphs">2</text>
<line x1="489.6" y1="473.5" x2="507.0" y2="473.5" stroke="#e03a60" stroke-width="2.2"/>
<line x1="489.6" y1="478.6" x2="507.0" y2="478.6" stroke="#e03a60" stroke-width="2.2"/>
<text x="517.3" y="484.4" font-size="27.0" text-anchor="start" fill="#e03a60" textLength="59.1" lengthAdjust="spacingAndGlyphs">min(</text>
<line x1="576.35" y1="484.40" x2="579.67" y2="464.90" stroke="#e03a60" stroke-width="2.90"/>
<text x="585.6" y="493.7" font-size="19.0" text-anchor="start" fill="#e03a60" textLength="10.6" lengthAdjust="spacingAndGlyphs">1</text>
<text x="597.4" y="484.4" font-size="30.0" text-anchor="start" fill="#e03a60">,</text>
<line x1="613.15" y1="484.40" x2="616.47" y2="464.90" stroke="#e03a60" stroke-width="2.90"/>
<text x="622.4" y="493.7" font-size="19.0" text-anchor="start" fill="#e03a60" textLength="10.6" lengthAdjust="spacingAndGlyphs">2</text>
<text x="634.4" y="484.4" font-size="27.0" text-anchor="start" fill="#e03a60" textLength="9.6" lengthAdjust="spacingAndGlyphs">)</text>
<line x1="463.25" y1="578.80" x2="466.56" y2="559.30" stroke="#1747b0" stroke-width="2.90"/>
<text x="470.2" y="568.3" font-size="19.0" text-anchor="start" fill="#1747b0" font-style="italic" textLength="10.6" lengthAdjust="spacingAndGlyphs">z</text>
<text x="470.0" y="588.1" font-size="19.0" text-anchor="start" fill="#1747b0" textLength="10.6" lengthAdjust="spacingAndGlyphs">1</text>
<line x1="489.6" y1="567.9" x2="507.0" y2="567.9" stroke="#1747b0" stroke-width="2.2"/>
<line x1="489.6" y1="573.0" x2="507.0" y2="573.0" stroke="#1747b0" stroke-width="2.2"/>
<line x1="517.9" y1="570.4" x2="535.9" y2="570.4" stroke="#1747b0" stroke-width="2.2"/>
<text x="543.6" y="578.8" font-size="27.0" text-anchor="start" fill="#1747b0" textLength="59.1" lengthAdjust="spacingAndGlyphs">min(</text>
<line x1="602.65" y1="578.80" x2="605.97" y2="559.30" stroke="#1747b0" stroke-width="2.90"/>
<text x="611.9" y="588.1" font-size="19.0" text-anchor="start" fill="#1747b0" textLength="10.6" lengthAdjust="spacingAndGlyphs">1</text>
<text x="623.7" y="578.8" font-size="30.0" text-anchor="start" fill="#1747b0">,</text>
<line x1="639.45" y1="578.80" x2="642.77" y2="559.30" stroke="#1747b0" stroke-width="2.90"/>
<text x="648.7" y="588.1" font-size="19.0" text-anchor="start" fill="#1747b0" textLength="10.6" lengthAdjust="spacingAndGlyphs">2</text>
<text x="661.3" y="578.8" font-size="27.0" text-anchor="start" fill="#1747b0" textLength="9.6" lengthAdjust="spacingAndGlyphs">)</text>
<g clip-path="url(#clip_d)">
<path d="M106.3 648.4 L107.1 648.4 L108.0 648.4 L108.8 648.4 L109.7 648.4 L110.5 648.4 L111.3 648.5 L112.2 648.5 L113.0 648.5 L113.8 648.5 L114.7 648.5 L115.5 648.5 L116.4 648.5 L117.2 648.6 L118.0 648.6 L118.9 648.6 L119.7 648.6 L120.5 648.6 L121.4 648.7 L122.2 648.7 L123.1 648.7 L123.9 648.7 L124.7 648.7 L125.6 648.8 L126.4 648.8 L127.2 648.8 L128.1 648.8 L128.9 648.9 L129.8 648.9 L130.6 648.9 L130.6 648.9 L131.4 648.9 L132.3 648.9 L133.1 648.9 L133.9 648.9 L134.8 649.0 L135.6 649.0 L136.5 649.0 L137.3 649.0 L138.1 649.0 L139.0 649.1 L139.8 649.1 L140.6 649.1 L141.5 649.1 L142.3 649.2 L143.2 649.2 L144.0 649.2 L144.8 649.3 L145.7 649.3 L146.5 649.3 L147.3 649.3 L148.2 649.4 L149.0 649.4 L149.8 649.4 L150.7 649.5 L151.5 649.5 L152.4 649.6 L153.2 649.6 L154.0 649.6 L154.9 649.7 L154.9 649.7 L155.7 649.7 L156.5 649.7 L157.4 649.7 L158.2 649.7 L159.1 649.7 L159.9 649.8 L160.7 649.8 L161.6 649.8 L162.4 649.9 L163.2 649.9 L164.1 649.9 L164.9 650.0 L165.7 650.0 L166.6 650.0 L167.4 650.1 L168.3 650.1 L169.1 650.1 L169.9 650.2 L170.8 650.2 L171.6 650.3 L172.4 650.3 L173.3 650.4 L174.1 650.4 L175.0 650.5 L175.8 650.5 L176.6 650.6 L177.5 650.6 L178.3 650.7 L179.1 650.7 L179.1 650.7 L180.0 650.7 L180.8 650.8 L181.7 650.8 L182.5 650.8 L183.3 650.8 L184.2 650.9 L185.0 650.9 L185.8 651.0 L186.7 651.0 L187.5 651.0 L188.3 651.1 L189.2 651.1 L190.0 651.2 L190.9 651.2 L191.7 651.3 L192.5 651.4 L193.4 651.4 L194.2 651.5 L195.0 651.5 L195.9 651.6 L196.7 651.7 L197.6 651.7 L198.4 651.8 L199.2 651.9 L200.1 652.0 L200.9 652.0 L201.7 652.1 L202.6 652.2 L203.4 652.3 L203.4 652.3 L204.2 652.3 L205.1 652.3 L205.9 652.3 L206.8 652.4 L207.6 652.4 L208.4 652.5 L209.3 652.6 L210.1 652.6 L210.9 652.7 L211.8 652.8 L212.6 652.9 L213.5 652.9 L214.3 653.0 L215.1 653.1 L216.0 653.2 L216.8 653.3 L217.6 653.4 L218.5 653.5 L219.3 653.6 L220.1 653.7 L221.0 653.8 L221.8 654.0 L222.7 654.1 L223.5 654.2 L224.3 654.3 L225.2 654.4 L226.0 654.6 L226.8 654.7 L227.7 654.8 L227.7 654.8 L228.5 654.8 L229.4 654.9 L230.2 654.9 L231.0 655.0 L231.9 655.1 L232.7 655.1 L233.5 655.2 L234.4 655.3 L235.2 655.4 L236.0 655.5 L236.9 655.6 L237.7 655.8 L238.6 655.9 L239.4 656.0 L240.2 656.1 L241.1 656.3 L241.9 656.4 L242.7 656.5 L243.6 656.7 L244.4 656.8 L245.3 657.0 L246.1 657.1 L246.9 657.3 L247.8 657.4 L248.6 657.6 L249.4 657.8 L250.3 658.0 L251.1 658.1 L251.9 658.3 L251.9 658.3 L252.8 658.3 L253.6 658.3 L254.5 658.4 L255.3 658.4 L256.1 658.4 L257.0 658.5 L257.8 658.6 L258.6 658.6 L259.5 658.7 L260.3 658.8 L261.2 658.9 L262.0 659.1 L262.8 659.2 L263.7 659.3 L264.5 659.5 L265.3 659.7 L266.2 659.8 L267.0 660.0 L267.9 660.2 L268.7 660.4 L269.5 660.6 L270.4 660.9 L271.2 661.1 L272.0 661.3 L272.9 661.6 L273.7 661.9 L274.5 662.1 L275.4 662.4 L276.2 662.7 L276.2 662.7 L277.1 662.7 L277.9 662.8 L278.7 662.8 L279.6 662.8 L280.4 662.9 L281.2 662.9 L282.1 663.0 L282.9 663.1 L283.8 663.2 L284.6 663.3 L285.4 663.5 L286.3 663.6 L287.1 663.7 L287.9 663.9 L288.8 664.1 L289.6 664.3 L290.4 664.4 L291.3 664.7 L292.1 664.9 L293.0 665.1 L293.8 665.3 L294.6 665.6 L295.5 665.9 L296.3 666.1 L297.1 666.4 L298.0 666.7 L298.8 667.1 L299.7 667.4 L300.5 667.7 L300.5 667.7 L301.3 667.7 L302.2 667.7 L303.0 667.8 L303.8 667.8 L304.7 667.9 L305.5 668.0 L306.3 668.1 L307.2 668.2 L308.0 668.4 L308.9 668.5 L309.7 668.7 L310.5 668.9 L311.4 669.1 L312.2 669.3 L313.0 669.6 L313.9 669.8 L314.7 670.1 L315.6 670.4 L316.4 670.7 L317.2 671.0 L318.1 671.3 L318.9 671.7 L319.7 672.0 L320.6 672.4 L321.4 672.8 L322.2 673.2 L323.1 673.7 L323.9 674.1 L324.8 674.6 L324.8 674.6 L325.6 674.6 L326.4 674.6 L327.3 674.7 L328.1 674.7 L328.9 674.8 L329.8 674.9 L330.6 675.0 L331.5 675.2 L332.3 675.3 L333.1 675.5 L334.0 675.7 L334.8 675.9 L335.6 676.1 L336.5 676.3 L337.3 676.6 L338.2 676.8 L339.0 677.1 L339.8 677.4 L340.7 677.8 L341.5 678.1 L342.3 678.5 L343.2 678.9 L344.0 679.3 L344.8 679.7 L345.7 680.1 L346.5 680.6 L347.4 681.0 L348.2 681.5 L349.0 682.0 L349.0 682.0 L349.9 682.0 L350.7 682.0 L351.5 682.1 L352.4 682.2 L353.2 682.2 L354.1 682.3 L354.9 682.5 L355.7 682.6 L356.6 682.8 L357.4 682.9 L358.2 683.1 L359.1 683.3 L359.9 683.6 L360.7 683.8 L361.6 684.1 L362.4 684.4 L363.3 684.7 L364.1 685.0 L364.9 685.3 L365.8 685.7 L366.6 686.0 L367.4 686.4 L368.3 686.8 L369.1 687.3 L370.0 687.7 L370.8 688.2 L371.6 688.7 L372.5 689.2 L373.3 689.7 L373.3 689.7 L374.1 689.7 L375.0 689.7 L375.8 689.8 L376.6 689.9 L377.5 690.0 L378.3 690.1 L379.2 690.2 L380.0 690.4 L380.8 690.6 L381.7 690.8 L382.5 691.0 L383.3 691.2 L384.2 691.5 L385.0 691.8 L385.9 692.1 L386.7 692.4 L387.5 692.8 L388.4 693.1 L389.2 693.5 L390.0 693.9 L390.9 694.4 L391.7 694.8 L392.5 695.3 L393.4 695.8 L394.2 696.3 L395.1 696.8 L395.9 697.4 L396.7 698.0 L397.6 698.6 L397.6 698.6 L398.4 698.6 L399.2 698.6 L400.1 698.7 L400.9 698.8 L401.8 698.9 L402.6 699.0 L403.4 699.1 L404.3 699.3 L405.1 699.5 L405.9 699.7 L406.8 700.0 L407.6 700.2 L408.4 700.5 L409.3 700.8 L410.1 701.2 L411.0 701.5 L411.8 701.9 L412.6 702.3 L413.5 702.7 L414.3 703.2 L415.1 703.6 L416.0 704.1 L416.8 704.6 L417.7 705.2 L418.5 705.7 L419.3 706.3 L420.2 706.9 L421.0 707.6 L421.8 708.2 L421.8 708.2 L422.7 708.2 L423.5 708.3 L424.4 708.3 L425.2 708.4 L426.0 708.5 L426.9 708.6 L427.7 708.7 L428.5 708.9 L429.4 709.1 L430.2 709.3 L431.0 709.5 L431.9 709.7 L432.7 710.0 L433.6 710.3 L434.4 710.6 L435.2 710.9 L436.1 711.3 L436.9 711.6 L437.7 712.0 L438.6 712.4 L439.4 712.9 L440.3 713.3 L441.1 713.8 L441.9 714.3 L442.8 714.8 L443.6 715.4 L444.4 715.9 L445.3 716.5 L446.1 717.1 L446.1 717.1 L446.9 717.1 L447.8 717.1 L448.6 717.2 L449.5 717.3 L450.3 717.4 L451.1 717.5 L452.0 717.6 L452.8 717.8 L453.6 718.0 L454.5 718.2 L455.3 718.4 L456.2 718.7 L457.0 719.0 L457.8 719.2 L458.7 719.6 L459.5 719.9 L460.3 720.3 L461.2 720.6 L462.0 721.0 L462.8 721.5 L463.7 721.9 L464.5 722.4 L465.4 722.9 L466.2 723.4 L467.0 723.9 L467.9 724.5 L468.7 725.1 L469.5 725.7 L470.4 726.3 L470.4 726.3 L471.2 726.3 L472.1 726.3 L472.9 726.4 L473.7 726.5 L474.6 726.6 L475.4 726.7 L476.2 726.9 L477.1 727.0 L477.9 727.2 L478.7 727.4 L479.6 727.7 L480.4 727.9 L481.3 728.2 L482.1 728.5 L482.9 728.9 L483.8 729.2 L484.6 729.6 L485.4 730.0 L486.3 730.4 L487.1 730.9 L488.0 731.3 L488.8 731.8 L489.6 732.3 L490.5 732.9 L491.3 733.4 L492.1 734.0 L493.0 734.6 L493.8 735.2 L494.6 735.9 L494.6 735.9 L495.5 735.9 L496.3 735.9 L497.2 736.0 L498.0 736.1 L498.8 736.2 L499.7 736.3 L500.5 736.4 L501.3 736.6 L502.2 736.8 L503.0 737.0 L503.9 737.3 L504.7 737.5 L505.5 737.8 L506.4 738.1 L507.2 738.5 L508.0 738.8 L508.9 739.2 L509.7 739.6 L510.6 740.1 L511.4 740.5 L512.2 741.0 L513.1 741.5 L513.9 742.0 L514.7 742.5 L515.6 743.1 L516.4 743.7 L517.2 744.3 L518.1 744.9 L518.9 745.6 L518.9 745.6 L519.8 745.6 L520.6 745.6 L521.4 745.7 L522.3 745.8 L523.1 745.9 L523.9 746.0 L524.8 746.1 L525.6 746.3 L526.5 746.5 L527.3 746.7 L528.1 746.9 L529.0 747.1 L529.8 747.4 L530.6 747.7 L531.5 748.0 L532.3 748.3 L533.1 748.6 L534.0 749.0 L534.8 749.4 L535.7 749.8 L536.5 750.2 L537.3 750.7 L538.2 751.1 L539.0 751.6 L539.8 752.1 L540.7 752.7 L541.5 753.2 L542.4 753.8 L543.2 754.4 L543.2 754.4 L544.0 754.4 L544.9 754.4 L545.7 754.5 L546.5 754.6 L547.4 754.7 L548.2 754.8 L549.0 754.9 L549.9 755.1 L550.7 755.3 L551.6 755.5 L552.4 755.7 L553.2 755.9 L554.1 756.2 L554.9 756.5 L555.7 756.8 L556.6 757.1 L557.4 757.5 L558.3 757.8 L559.1 758.2 L559.9 758.6 L560.8 759.1 L561.6 759.5 L562.4 760.0 L563.3 760.5 L564.1 761.0 L564.9 761.5 L565.8 762.1 L566.6 762.7 L567.5 763.3 L567.5 763.3 L568.3 763.3 L569.1 763.3 L570.0 763.4 L570.8 763.5 L571.6 763.6 L572.5 763.7 L573.3 763.8 L574.2 764.0 L575.0 764.2 L575.8 764.4 L576.7 764.6 L577.5 764.9 L578.3 765.2 L579.2 765.5 L580.0 765.8 L580.9 766.1 L581.7 766.5 L582.5 766.9 L583.4 767.3 L584.2 767.7 L585.0 768.2 L585.9 768.7 L586.7 769.2 L587.5 769.7 L588.4 770.2 L589.2 770.8 L590.1 771.4 L590.9 772.0 L591.7 772.6 L591.7 772.6 L592.6 772.6 L593.4 772.7 L594.2 772.7 L595.1 772.8 L595.9 772.9 L596.8 773.0 L597.6 773.1 L598.4 773.3 L599.3 773.4 L600.1 773.6 L600.9 773.8 L601.8 774.1 L602.6 774.3 L603.4 774.6 L604.3 774.9 L605.1 775.2 L606.0 775.6 L606.8 775.9 L607.6 776.3 L608.5 776.7 L609.3 777.1 L610.1 777.6 L611.0 778.0 L611.8 778.5 L612.7 779.0 L613.5 779.5 L614.3 780.1 L615.2 780.6 L616.0 781.2 L616.0 782.6 L616.8 783.2 L617.7 783.7 L618.5 784.1 L619.3 784.5 L620.2 784.9 L621.0 785.3 L621.9 785.7 L622.7 786.1 L623.5 786.4 L624.4 786.8 L625.2 787.2 L626.0 787.5 L626.9 787.9 L627.7 788.2 L628.6 788.5 L629.4 788.9 L630.2 789.2 L631.1 789.5 L631.9 789.9 L632.7 790.2 L633.6 790.5 L634.4 790.8 L635.2 791.1 L636.1 791.5 L636.9 791.8 L637.8 792.1 L638.6 792.4 L639.4 792.7 L640.3 793.0 L640.3 790.1 L641.1 790.4 L641.9 790.7 L642.8 791.0 L643.6 791.3 L644.5 791.6 L645.3 792.0 L646.1 792.3 L647.0 792.7 L647.8 793.0 L648.6 793.4 L649.5 793.7 L650.3 794.1 L651.1 794.5 L652.0 794.9 L652.8 795.2 L653.7 795.6 L654.5 796.0 L655.3 796.4 L656.2 796.8 L657.0 797.1 L657.8 797.5 L658.7 797.9 L659.5 798.3 L660.4 798.7 L661.2 799.1 L662.0 799.5 L662.9 799.9 L663.7 800.3 L664.5 800.7 L664.5 797.0 L665.4 797.1 L666.2 797.2 L667.1 797.4 L667.9 797.5 L668.7 797.8 L669.6 798.0 L670.4 798.3 L671.2 798.6 L672.1 798.8 L672.9 799.2 L673.7 799.5 L674.6 799.8 L675.4 800.2 L676.3 800.6 L677.1 801.0 L677.9 801.4 L678.8 801.8 L679.6 802.2 L680.4 802.7 L681.3 803.1 L682.1 803.6 L683.0 804.1 L683.8 804.6 L684.6 805.1 L685.5 805.6 L686.3 806.1 L687.1 806.6 L688.0 807.2 L688.8 807.7 L688.8 802.4 L689.6 802.4 L690.5 802.5 L691.3 802.5 L692.2 802.6 L693.0 802.8 L693.8 802.9 L694.7 803.1 L695.5 803.3 L696.3 803.5 L697.2 803.8 L698.0 804.0 L698.9 804.3 L699.7 804.6 L700.5 805.0 L701.4 805.3 L702.2 805.7 L703.0 806.1 L703.9 806.6 L704.7 807.0 L705.5 807.5 L706.4 808.0 L707.2 808.5 L708.1 809.0 L708.9 809.6 L709.7 810.2 L710.6 810.8 L711.4 811.4 L712.2 812.0 L713.1 812.7 L713.1 807.0 L713.9 807.0 L714.8 807.0 L715.6 807.1 L716.4 807.1 L717.3 807.2 L718.1 807.3 L718.9 807.4 L719.8 807.6 L720.6 807.8 L721.4 808.0 L722.3 808.2 L723.1 808.4 L724.0 808.7 L724.8 809.0 L725.6 809.4 L726.5 809.7 L727.3 810.1 L728.1 810.5 L729.0 811.0 L729.8 811.5 L730.7 812.0 L731.5 812.5 L732.3 813.1 L733.2 813.7 L734.0 814.3 L734.8 814.9 L735.7 815.6 L736.5 816.3 L737.4 817.1 L737.4 809.3 L738.2 809.3 L739.0 809.3 L739.9 809.4 L740.7 809.4 L741.5 809.5 L742.4 809.7 L743.2 809.8 L744.0 810.0 L744.9 810.2 L745.7 810.4 L746.6 810.7 L747.4 811.0 L748.2 811.3 L749.1 811.7 L749.9 812.0 L750.7 812.5 L751.6 812.9 L752.4 813.4 L753.3 813.9 L754.1 814.5 L754.9 815.1 L755.8 815.7 L756.6 816.3 L757.4 817.0 L758.3 817.7 L759.1 818.5 L759.9 819.3 L760.8 820.1 L761.6 821.0 L761.6 811.1 L762.5 811.1 L763.3 811.1 L764.1 811.2 L765.0 811.3 L765.8 811.4 L766.6 811.5 L767.5 811.7 L768.3 811.9 L769.2 812.2 L770.0 812.4 L770.8 812.7 L771.7 813.1 L772.5 813.5 L773.3 813.9 L774.2 814.4 L775.0 814.9 L775.8 815.4 L776.7 816.0 L777.5 816.6 L778.4 817.2 L779.2 817.9 L780.0 818.7 L780.9 819.4 L781.7 820.3 L782.5 821.1 L783.4 822.0 L784.2 823.0 L785.1 824.0 L785.9 825.0 L785.9 812.3 L786.7 812.3 L787.6 812.3 L788.4 812.4 L789.2 812.5 L790.1 812.6 L790.9 812.8 L791.7 813.0 L792.6 813.3 L793.4 813.6 L794.3 813.9 L795.1 814.3 L795.9 814.7 L796.8 815.2 L797.6 815.7 L798.4 816.2 L799.3 816.8 L800.1 817.5 L801.0 818.1 L801.8 818.9 L802.6 819.7 L803.5 820.5 L804.3 821.4 L805.1 822.3 L806.0 823.3 L806.8 824.3 L807.6 825.4 L808.5 826.6 L809.3 827.8 L810.2 829.0 L810.2 818.2 L106.6 818.2Z" fill="#cfcfcf"/>
<path d="M106.3 648.4 L107.1 648.4 L108.0 648.4 L108.8 648.4 L109.7 648.4 L110.5 648.4 L111.3 648.5 L112.2 648.5 L113.0 648.5 L113.8 648.5 L114.7 648.5 L115.5 648.5 L116.4 648.5 L117.2 648.6 L118.0 648.6 L118.9 648.6 L119.7 648.6 L120.5 648.6 L121.4 648.7 L122.2 648.7 L123.1 648.7 L123.9 648.7 L124.7 648.7 L125.6 648.8 L126.4 648.8 L127.2 648.8 L128.1 648.8 L128.9 648.9 L129.8 648.9 L130.6 648.9 L130.6 648.9 L131.4 648.9 L132.3 648.9 L133.1 648.9 L133.9 648.9 L134.8 649.0 L135.6 649.0 L136.5 649.0 L137.3 649.0 L138.1 649.0 L139.0 649.1 L139.8 649.1 L140.6 649.1 L141.5 649.1 L142.3 649.2 L143.2 649.2 L144.0 649.2 L144.8 649.3 L145.7 649.3 L146.5 649.3 L147.3 649.3 L148.2 649.4 L149.0 649.4 L149.8 649.4 L150.7 649.5 L151.5 649.5 L152.4 649.6 L153.2 649.6 L154.0 649.6 L154.9 649.7 L154.9 649.7 L155.7 649.7 L156.5 649.7 L157.4 649.7 L158.2 649.7 L159.1 649.7 L159.9 649.8 L160.7 649.8 L161.6 649.8 L162.4 649.9 L163.2 649.9 L164.1 649.9 L164.9 650.0 L165.7 650.0 L166.6 650.0 L167.4 650.1 L168.3 650.1 L169.1 650.1 L169.9 650.2 L170.8 650.2 L171.6 650.3 L172.4 650.3 L173.3 650.4 L174.1 650.4 L175.0 650.5 L175.8 650.5 L176.6 650.6 L177.5 650.6 L178.3 650.7 L179.1 650.7 L179.1 650.7 L180.0 650.7 L180.8 650.8 L181.7 650.8 L182.5 650.8 L183.3 650.8 L184.2 650.9 L185.0 650.9 L185.8 651.0 L186.7 651.0 L187.5 651.0 L188.3 651.1 L189.2 651.1 L190.0 651.2 L190.9 651.2 L191.7 651.3 L192.5 651.4 L193.4 651.4 L194.2 651.5 L195.0 651.5 L195.9 651.6 L196.7 651.7 L197.6 651.7 L198.4 651.8 L199.2 651.9 L200.1 652.0 L200.9 652.0 L201.7 652.1 L202.6 652.2 L203.4 652.3 L203.4 652.3 L204.2 652.3 L205.1 652.3 L205.9 652.3 L206.8 652.4 L207.6 652.4 L208.4 652.5 L209.3 652.6 L210.1 652.6 L210.9 652.7 L211.8 652.8 L212.6 652.9 L213.5 652.9 L214.3 653.0 L215.1 653.1 L216.0 653.2 L216.8 653.3 L217.6 653.4 L218.5 653.5 L219.3 653.6 L220.1 653.7 L221.0 653.8 L221.8 654.0 L222.7 654.1 L223.5 654.2 L224.3 654.3 L225.2 654.4 L226.0 654.6 L226.8 654.7 L227.7 654.8 L227.7 654.8 L228.5 654.8 L229.4 654.9 L230.2 654.9 L231.0 655.0 L231.9 655.1 L232.7 655.1 L233.5 655.2 L234.4 655.3 L235.2 655.4 L236.0 655.5 L236.9 655.6 L237.7 655.8 L238.6 655.9 L239.4 656.0 L240.2 656.1 L241.1 656.3 L241.9 656.4 L242.7 656.5 L243.6 656.7 L244.4 656.8 L245.3 657.0 L246.1 657.1 L246.9 657.3 L247.8 657.4 L248.6 657.6 L249.4 657.8 L250.3 658.0 L251.1 658.1 L251.9 658.3 L251.9 658.3 L252.8 658.3 L253.6 658.3 L254.5 658.4 L255.3 658.4 L256.1 658.4 L257.0 658.5 L257.8 658.6 L258.6 658.6 L259.5 658.7 L260.3 658.8 L261.2 658.9 L262.0 659.1 L262.8 659.2 L263.7 659.3 L264.5 659.5 L265.3 659.7 L266.2 659.8 L267.0 660.0 L267.9 660.2 L268.7 660.4 L269.5 660.6 L270.4 660.9 L271.2 661.1 L272.0 661.3 L272.9 661.6 L273.7 661.9 L274.5 662.1 L275.4 662.4 L276.2 662.7 L276.2 662.7 L277.1 662.7 L277.9 662.8 L278.7 662.8 L279.6 662.8 L280.4 662.9 L281.2 662.9 L282.1 663.0 L282.9 663.1 L283.8 663.2 L284.6 663.3 L285.4 663.5 L286.3 663.6 L287.1 663.7 L287.9 663.9 L288.8 664.1 L289.6 664.3 L290.4 664.4 L291.3 664.7 L292.1 664.9 L293.0 665.1 L293.8 665.3 L294.6 665.6 L295.5 665.9 L296.3 666.1 L297.1 666.4 L298.0 666.7 L298.8 667.1 L299.7 667.4 L300.5 667.7 L300.5 667.7 L301.3 667.7 L302.2 667.7 L303.0 667.8 L303.8 667.8 L304.7 667.9 L305.5 668.0 L306.3 668.1 L307.2 668.2 L308.0 668.4 L308.9 668.5 L309.7 668.7 L310.5 668.9 L311.4 669.1 L312.2 669.3 L313.0 669.6 L313.9 669.8 L314.7 670.1 L315.6 670.4 L316.4 670.7 L317.2 671.0 L318.1 671.3 L318.9 671.7 L319.7 672.0 L320.6 672.4 L321.4 672.8 L322.2 673.2 L323.1 673.7 L323.9 674.1 L324.8 674.6 L324.8 674.6 L325.6 674.6 L326.4 674.6 L327.3 674.7 L328.1 674.7 L328.9 674.8 L329.8 674.9 L330.6 675.0 L331.5 675.2 L332.3 675.3 L333.1 675.5 L334.0 675.7 L334.8 675.9 L335.6 676.1 L336.5 676.3 L337.3 676.6 L338.2 676.8 L339.0 677.1 L339.8 677.4 L340.7 677.8 L341.5 678.1 L342.3 678.5 L343.2 678.9 L344.0 679.3 L344.8 679.7 L345.7 680.1 L346.5 680.6 L347.4 681.0 L348.2 681.5 L349.0 682.0 L349.0 682.0 L349.9 682.0 L350.7 682.0 L351.5 682.1 L352.4 682.2 L353.2 682.2 L354.1 682.3 L354.9 682.5 L355.7 682.6 L356.6 682.8 L357.4 682.9 L358.2 683.1 L359.1 683.3 L359.9 683.6 L360.7 683.8 L361.6 684.1 L362.4 684.4 L363.3 684.7 L364.1 685.0 L364.9 685.3 L365.8 685.7 L366.6 686.0 L367.4 686.4 L368.3 686.8 L369.1 687.3 L370.0 687.7 L370.8 688.2 L371.6 688.7 L372.5 689.2 L373.3 689.7 L373.3 689.7 L374.1 689.7 L375.0 689.7 L375.8 689.8 L376.6 689.9 L377.5 690.0 L378.3 690.1 L379.2 690.2 L380.0 690.4 L380.8 690.6 L381.7 690.8 L382.5 691.0 L383.3 691.2 L384.2 691.5 L385.0 691.8 L385.9 692.1 L386.7 692.4 L387.5 692.8 L388.4 693.1 L389.2 693.5 L390.0 693.9 L390.9 694.4 L391.7 694.8 L392.5 695.3 L393.4 695.8 L394.2 696.3 L395.1 696.8 L395.9 697.4 L396.7 698.0 L397.6 698.6 L397.6 698.6 L398.4 698.6 L399.2 698.6 L400.1 698.7 L400.9 698.8 L401.8 698.9 L402.6 699.0 L403.4 699.1 L404.3 699.3 L405.1 699.5 L405.9 699.7 L406.8 700.0 L407.6 700.2 L408.4 700.5 L409.3 700.8 L410.1 701.2 L411.0 701.5 L411.8 701.9 L412.6 702.3 L413.5 702.7 L414.3 703.2 L415.1 703.6 L416.0 704.1 L416.8 704.6 L417.7 705.2 L418.5 705.7 L419.3 706.3 L420.2 706.9 L421.0 707.6 L421.8 708.2 L421.8 708.2 L422.7 708.2 L423.5 708.3 L424.4 708.3 L425.2 708.4 L426.0 708.5 L426.9 708.6 L427.7 708.7 L428.5 708.9 L429.4 709.1 L430.2 709.3 L431.0 709.5 L431.9 709.7 L432.7 710.0 L433.6 710.3 L434.4 710.6 L435.2 710.9 L436.1 711.3 L436.9 711.6 L437.7 712.0 L438.6 712.4 L439.4 712.9 L440.3 713.3 L441.1 713.8 L441.9 714.3 L442.8 714.8 L443.6 715.4 L444.4 715.9 L445.3 716.5 L446.1 717.1 L446.1 717.1 L446.9 717.1 L447.8 717.1 L448.6 717.2 L449.5 717.3 L450.3 717.4 L451.1 717.5 L452.0 717.6 L452.8 717.8 L453.6 718.0 L454.5 718.2 L455.3 718.4 L456.2 718.7 L457.0 719.0 L457.8 719.2 L458.7 719.6 L459.5 719.9 L460.3 720.3 L461.2 720.6 L462.0 721.0 L462.8 721.5 L463.7 721.9 L464.5 722.4 L465.4 722.9 L466.2 723.4 L467.0 723.9 L467.9 724.5 L468.7 725.1 L469.5 725.7 L470.4 726.3 L470.4 726.3 L471.2 726.3 L472.1 726.3 L472.9 726.4 L473.7 726.5 L474.6 726.6 L475.4 726.7 L476.2 726.9 L477.1 727.0 L477.9 727.2 L478.7 727.4 L479.6 727.7 L480.4 727.9 L481.3 728.2 L482.1 728.5 L482.9 728.9 L483.8 729.2 L484.6 729.6 L485.4 730.0 L486.3 730.4 L487.1 730.9 L488.0 731.3 L488.8 731.8 L489.6 732.3 L490.5 732.9 L491.3 733.4 L492.1 734.0 L493.0 734.6 L493.8 735.2 L494.6 735.9 L494.6 735.9 L495.5 735.9 L496.3 735.9 L497.2 736.0 L498.0 736.1 L498.8 736.2 L499.7 736.3 L500.5 736.4 L501.3 736.6 L502.2 736.8 L503.0 737.0 L503.9 737.3 L504.7 737.5 L505.5 737.8 L506.4 738.1 L507.2 738.5 L508.0 738.8 L508.9 739.2 L509.7 739.6 L510.6 740.1 L511.4 740.5 L512.2 741.0 L513.1 741.5 L513.9 742.0 L514.7 742.5 L515.6 743.1 L516.4 743.7 L517.2 744.3 L518.1 744.9 L518.9 745.6 L518.9 745.6 L519.8 745.6 L520.6 745.6 L521.4 745.7 L522.3 745.8 L523.1 745.9 L523.9 746.0 L524.8 746.1 L525.6 746.3 L526.5 746.5 L527.3 746.7 L528.1 746.9 L529.0 747.1 L529.8 747.4 L530.6 747.7 L531.5 748.0 L532.3 748.3 L533.1 748.6 L534.0 749.0 L534.8 749.4 L535.7 749.8 L536.5 750.2 L537.3 750.7 L538.2 751.1 L539.0 751.6 L539.8 752.1 L540.7 752.7 L541.5 753.2 L542.4 753.8 L543.2 754.4 L543.2 754.4 L544.0 754.4 L544.9 754.4 L545.7 754.5 L546.5 754.6 L547.4 754.7 L548.2 754.8 L549.0 754.9 L549.9 755.1 L550.7 755.3 L551.6 755.5 L552.4 755.7 L553.2 755.9 L554.1 756.2 L554.9 756.5 L555.7 756.8 L556.6 757.1 L557.4 757.5 L558.3 757.8 L559.1 758.2 L559.9 758.6 L560.8 759.1 L561.6 759.5 L562.4 760.0 L563.3 760.5 L564.1 761.0 L564.9 761.5 L565.8 762.1 L566.6 762.7 L567.5 763.3 L567.5 763.3 L568.3 763.3 L569.1 763.3 L570.0 763.4 L570.8 763.5 L571.6 763.6 L572.5 763.7 L573.3 763.8 L574.2 764.0 L575.0 764.2 L575.8 764.4 L576.7 764.6 L577.5 764.9 L578.3 765.2 L579.2 765.5 L580.0 765.8 L580.9 766.1 L581.7 766.5 L582.5 766.9 L583.4 767.3 L584.2 767.7 L585.0 768.2 L585.9 768.7 L586.7 769.2 L587.5 769.7 L588.4 770.2 L589.2 770.8 L590.1 771.4 L590.9 772.0 L591.7 772.6 L591.7 772.6 L592.6 772.6 L593.4 772.7 L594.2 772.7 L595.1 772.8 L595.9 772.9 L596.8 773.0 L597.6 773.1 L598.4 773.3 L599.3 773.4 L600.1 773.6 L600.9 773.8 L601.8 774.1 L602.6 774.3 L603.4 774.6 L604.3 774.9 L605.1 775.2 L606.0 775.6 L606.8 775.9 L607.6 776.3 L608.5 776.7 L609.3 777.1 L610.1 777.6 L611.0 778.0 L611.8 778.5 L612.7 779.0 L613.5 779.5 L614.3 780.1 L615.2 780.6 L616.0 781.2" fill="none" stroke="#262626" stroke-width="3.6" stroke-linejoin="round"/>
<path d="M616.0 778.6 L616.8 779.0 L617.7 779.3 L618.5 779.7 L619.3 780.0 L620.2 780.3 L621.0 780.6 L621.9 780.9 L622.7 781.2 L623.5 781.5 L624.4 781.7 L625.2 782.0 L626.0 782.3 L626.9 782.6 L627.7 782.9 L628.6 783.1 L629.4 783.4 L630.2 783.7 L631.1 783.9 L631.9 784.2 L632.7 784.5 L633.6 784.7 L634.4 785.0 L635.2 785.3 L636.1 785.5 L636.9 785.8 L637.8 786.0 L638.6 786.3 L639.4 786.5 L640.3 786.8 L640.3 785.3 L641.1 785.7 L641.9 786.0 L642.8 786.3 L643.6 786.6 L644.5 786.9 L645.3 787.2 L646.1 787.5 L647.0 787.8 L647.8 788.1 L648.6 788.4 L649.5 788.6 L650.3 788.9 L651.1 789.2 L652.0 789.5 L652.8 789.7 L653.7 790.0 L654.5 790.2 L655.3 790.5 L656.2 790.8 L657.0 791.0 L657.8 791.3 L658.7 791.5 L659.5 791.8 L660.4 792.0 L661.2 792.3 L662.0 792.6 L662.9 792.8 L663.7 793.1 L664.5 793.3 L664.5 791.0 L665.4 791.3 L666.2 791.6 L667.1 791.9 L667.9 792.2 L668.7 792.5 L669.6 792.7 L670.4 793.0 L671.2 793.2 L672.1 793.5 L672.9 793.7 L673.7 794.0 L674.6 794.2 L675.4 794.4 L676.3 794.7 L677.1 794.9 L677.9 795.2 L678.8 795.4 L679.6 795.6 L680.4 795.9 L681.3 796.1 L682.1 796.3 L683.0 796.5 L683.8 796.8 L684.6 797.0 L685.5 797.2 L686.3 797.4 L687.1 797.7 L688.0 797.9 L688.8 798.1 L688.8 794.9 L689.6 795.2 L690.5 795.5 L691.3 795.7 L692.2 796.0 L693.0 796.2 L693.8 796.4 L694.7 796.7 L695.5 796.9 L696.3 797.1 L697.2 797.3 L698.0 797.5 L698.9 797.7 L699.7 798.0 L700.5 798.2 L701.4 798.4 L702.2 798.6 L703.0 798.8 L703.9 799.0 L704.7 799.2 L705.5 799.4 L706.4 799.6 L707.2 799.8 L708.1 800.0 L708.9 800.2 L709.7 800.4 L710.6 800.6 L711.4 800.8 L712.2 801.0 L713.1 801.2 L713.1 797.2 L713.9 797.5 L714.8 797.8 L715.6 798.1 L716.4 798.3 L717.3 798.6 L718.1 798.8 L718.9 799.0 L719.8 799.3 L720.6 799.5 L721.4 799.7 L722.3 800.0 L723.1 800.2 L724.0 800.4 L724.8 800.6 L725.6 800.8 L726.5 801.1 L727.3 801.3 L728.1 801.5 L729.0 801.7 L729.8 801.9 L730.7 802.1 L731.5 802.3 L732.3 802.6 L733.2 802.8 L734.0 803.0 L734.8 803.2 L735.7 803.4 L736.5 803.6 L737.4 803.8 L737.4 798.8 L738.2 799.1 L739.0 799.4 L739.9 799.7 L740.7 799.9 L741.5 800.2 L742.4 800.4 L743.2 800.6 L744.0 800.9 L744.9 801.1 L745.7 801.3 L746.6 801.6 L747.4 801.8 L748.2 802.0 L749.1 802.2 L749.9 802.4 L750.7 802.7 L751.6 802.9 L752.4 803.1 L753.3 803.3 L754.1 803.5 L754.9 803.7 L755.8 803.9 L756.6 804.2 L757.4 804.4 L758.3 804.6 L759.1 804.8 L759.9 805.0 L760.8 805.2 L761.6 805.4 L761.6 800.1 L762.5 800.4 L763.3 800.7 L764.1 800.9 L765.0 801.1 L765.8 801.4 L766.6 801.6 L767.5 801.8 L768.3 802.0 L769.2 802.3 L770.0 802.5 L770.8 802.7 L771.7 802.9 L772.5 803.1 L773.3 803.3 L774.2 803.5 L775.0 803.7 L775.8 803.9 L776.7 804.1 L777.5 804.3 L778.4 804.5 L779.2 804.7 L780.0 804.9 L780.9 805.1 L781.7 805.3 L782.5 805.5 L783.4 805.7 L784.2 805.9 L785.1 806.1 L785.9 806.3 L785.9 800.8 L786.7 801.1 L787.6 801.3 L788.4 801.6 L789.2 801.8 L790.1 802.1 L790.9 802.3 L791.7 802.5 L792.6 802.7 L793.4 802.9 L794.3 803.1 L795.1 803.3 L795.9 803.6 L796.8 803.8 L797.6 804.0 L798.4 804.2 L799.3 804.4 L800.1 804.6 L801.0 804.8 L801.8 805.0 L802.6 805.2 L803.5 805.4 L804.3 805.6 L805.1 805.8 L806.0 805.9 L806.8 806.1 L807.6 806.3 L808.5 806.5 L809.3 806.7 L810.2 806.9 L810.2 829.0 L809.3 827.8 L808.5 826.6 L807.6 825.4 L806.8 824.3 L806.0 823.3 L805.1 822.3 L804.3 821.4 L803.5 820.5 L802.6 819.7 L801.8 818.9 L801.0 818.1 L800.1 817.5 L799.3 816.8 L798.4 816.2 L797.6 815.7 L796.8 815.2 L795.9 814.7 L795.1 814.3 L794.3 813.9 L793.4 813.6 L792.6 813.3 L791.7 813.0 L790.9 812.8 L790.1 812.6 L789.2 812.5 L788.4 812.4 L787.6 812.3 L786.7 812.3 L785.9 812.3 L785.9 825.0 L785.1 824.0 L784.2 823.0 L783.4 822.0 L782.5 821.1 L781.7 820.3 L780.9 819.4 L780.0 818.7 L779.2 817.9 L778.4 817.2 L777.5 816.6 L776.7 816.0 L775.8 815.4 L775.0 814.9 L774.2 814.4 L773.3 813.9 L772.5 813.5 L771.7 813.1 L770.8 812.7 L770.0 812.4 L769.2 812.2 L768.3 811.9 L767.5 811.7 L766.6 811.5 L765.8 811.4 L765.0 811.3 L764.1 811.2 L763.3 811.1 L762.5 811.1 L761.6 811.1 L761.6 821.0 L760.8 820.1 L759.9 819.3 L759.1 818.5 L758.3 817.7 L757.4 817.0 L756.6 816.3 L755.8 815.7 L754.9 815.1 L754.1 814.5 L753.3 813.9 L752.4 813.4 L751.6 812.9 L750.7 812.5 L749.9 812.0 L749.1 811.7 L748.2 811.3 L747.4 811.0 L746.6 810.7 L745.7 810.4 L744.9 810.2 L744.0 810.0 L743.2 809.8 L742.4 809.7 L741.5 809.5 L740.7 809.4 L739.9 809.4 L739.0 809.3 L738.2 809.3 L737.4 809.3 L737.4 817.1 L736.5 816.3 L735.7 815.6 L734.8 814.9 L734.0 814.3 L733.2 813.7 L732.3 813.1 L731.5 812.5 L730.7 812.0 L729.8 811.5 L729.0 811.0 L728.1 810.5 L727.3 810.1 L726.5 809.7 L725.6 809.4 L724.8 809.0 L724.0 808.7 L723.1 808.4 L722.3 808.2 L721.4 808.0 L720.6 807.8 L719.8 807.6 L718.9 807.4 L718.1 807.3 L717.3 807.2 L716.4 807.1 L715.6 807.1 L714.8 807.0 L713.9 807.0 L713.1 807.0 L713.1 812.7 L712.2 812.0 L711.4 811.4 L710.6 810.8 L709.7 810.2 L708.9 809.6 L708.1 809.0 L707.2 808.5 L706.4 808.0 L705.5 807.5 L704.7 807.0 L703.9 806.6 L703.0 806.1 L702.2 805.7 L701.4 805.3 L700.5 805.0 L699.7 804.6 L698.9 804.3 L698.0 804.0 L697.2 803.8 L696.3 803.5 L695.5 803.3 L694.7 803.1 L693.8 802.9 L693.0 802.8 L692.2 802.6 L691.3 802.5 L690.5 802.5 L689.6 802.4 L688.8 802.4 L688.8 807.7 L688.0 807.2 L687.1 806.6 L686.3 806.1 L685.5 805.6 L684.6 805.1 L683.8 804.6 L683.0 804.1 L682.1 803.6 L681.3 803.1 L680.4 802.7 L679.6 802.2 L678.8 801.8 L677.9 801.4 L677.1 801.0 L676.3 800.6 L675.4 800.2 L674.6 799.8 L673.7 799.5 L672.9 799.2 L672.1 798.8 L671.2 798.6 L670.4 798.3 L669.6 798.0 L668.7 797.8 L667.9 797.5 L667.1 797.4 L666.2 797.2 L665.4 797.1 L664.5 797.0 L664.5 800.7 L663.7 800.3 L662.9 799.9 L662.0 799.5 L661.2 799.1 L660.4 798.7 L659.5 798.3 L658.7 797.9 L657.8 797.5 L657.0 797.1 L656.2 796.8 L655.3 796.4 L654.5 796.0 L653.7 795.6 L652.8 795.2 L652.0 794.9 L651.1 794.5 L650.3 794.1 L649.5 793.7 L648.6 793.4 L647.8 793.0 L647.0 792.7 L646.1 792.3 L645.3 792.0 L644.5 791.6 L643.6 791.3 L642.8 791.0 L641.9 790.7 L641.1 790.4 L640.3 790.1 L640.3 793.0 L639.4 792.7 L638.6 792.4 L637.8 792.1 L636.9 791.8 L636.1 791.5 L635.2 791.1 L634.4 790.8 L633.6 790.5 L632.7 790.2 L631.9 789.9 L631.1 789.5 L630.2 789.2 L629.4 788.9 L628.6 788.5 L627.7 788.2 L626.9 787.9 L626.0 787.5 L625.2 787.2 L624.4 786.8 L623.5 786.4 L622.7 786.1 L621.9 785.7 L621.0 785.3 L620.2 784.9 L619.3 784.5 L618.5 784.1 L617.7 783.7 L616.8 783.2 L616.0 782.6Z" fill="#262626" stroke="#262626" stroke-width="0.6" stroke-linejoin="round"/>
<line x1="640.0" y1="786.9" x2="640.0" y2="791.6" stroke="#262626" stroke-width="2.8" stroke-linecap="round"/>
<line x1="664.2" y1="792.6" x2="664.2" y2="799.3" stroke="#262626" stroke-width="2.8" stroke-linecap="round"/>
<line x1="688.5" y1="796.5" x2="688.5" y2="806.3" stroke="#262626" stroke-width="2.8" stroke-linecap="round"/>
<line x1="712.8" y1="798.8" x2="712.8" y2="811.3" stroke="#262626" stroke-width="2.8" stroke-linecap="round"/>
<line x1="737.1" y1="800.4" x2="737.1" y2="815.7" stroke="#262626" stroke-width="2.8" stroke-linecap="round"/>
<line x1="761.3" y1="801.7" x2="761.3" y2="819.6" stroke="#262626" stroke-width="2.8" stroke-linecap="round"/>
<line x1="785.6" y1="802.4" x2="785.6" y2="823.6" stroke="#262626" stroke-width="2.8" stroke-linecap="round"/>
<line x1="809.9" y1="802.9" x2="809.9" y2="827.6" stroke="#262626" stroke-width="2.8" stroke-linecap="round"/>
</g>
<g><line x1="120.8" y1="677.6" x2="120.8" y2="664.0" stroke="#262626" stroke-width="2.40"/><polygon points="120.8,657.2 124.2,665.7 117.4,665.7" fill="#262626"/></g>
<text x="106.6" y="698.2" font-size="29.0" text-anchor="start" fill="#111" font-style="italic" textLength="16.5" lengthAdjust="spacingAndGlyphs" stroke="#111" stroke-width="0.25">&#961;</text>
<text x="124.0" y="702.6" font-size="20.0" text-anchor="start" fill="#111" textLength="11.5" lengthAdjust="spacingAndGlyphs">0</text>
<rect x="106.6" y="645.3" width="691.1" height="172.9" fill="none" stroke="#000" stroke-width="1.8"/>
<line x1="106.3" y1="818.2" x2="106.3" y2="825.8" stroke="#000" stroke-width="1.8"/>
<line x1="353.8" y1="818.2" x2="353.8" y2="825.8" stroke="#000" stroke-width="1.8"/>
<line x1="601.3" y1="818.2" x2="601.3" y2="825.8" stroke="#000" stroke-width="1.8"/>
<line x1="98.4" y1="646.5" x2="106.6" y2="646.5" stroke="#000" stroke-width="1.8"/>
<text x="51.0" y="653.7" font-size="23.4" text-anchor="start" fill="#000" textLength="28.5" lengthAdjust="spacingAndGlyphs">10</text>
<text x="80.0" y="646.2" font-size="16.2" text-anchor="start" fill="#000" textLength="8.8" lengthAdjust="spacingAndGlyphs">0</text>
<line x1="98.4" y1="730.4" x2="106.6" y2="730.4" stroke="#000" stroke-width="1.8"/>
<text x="36.8" y="737.8" font-size="23.4" text-anchor="start" fill="#000" textLength="28.5" lengthAdjust="spacingAndGlyphs">10</text>
<text x="66.8" y="729.4" font-size="16.2" text-anchor="start" fill="#000" textLength="22.0" lengthAdjust="spacingAndGlyphs">&#8722;2</text>
<line x1="98.4" y1="814.4" x2="106.6" y2="814.4" stroke="#000" stroke-width="1.8"/>
<text x="36.8" y="821.8" font-size="23.4" text-anchor="start" fill="#000" textLength="28.5" lengthAdjust="spacingAndGlyphs">10</text>
<text x="66.8" y="813.4" font-size="16.2" text-anchor="start" fill="#000" textLength="22.0" lengthAdjust="spacingAndGlyphs">&#8722;4</text>
<text x="-1.6" y="642.4" font-size="27.5" text-anchor="start" fill="#000" textLength="37.0" lengthAdjust="spacingAndGlyphs">(d)</text>
<text x="354.5" y="851.7" font-size="23.4" text-anchor="middle" fill="#000" textLength="28.0" lengthAdjust="spacingAndGlyphs">10</text>
<text x="601.6" y="851.7" font-size="23.4" text-anchor="middle" fill="#000" textLength="28.0" lengthAdjust="spacingAndGlyphs">20</text>
<text x="430.6" y="880.4" font-size="24.0" text-anchor="start" fill="#000" font-style="italic" textLength="8.0" lengthAdjust="spacingAndGlyphs">t</text>
<line x1="447.8" y1="882.8" x2="453.4" y2="864.2" stroke="#000" stroke-width="1.9"/>
<path d="M463.26 868.90 L474.76 868.90 M469.35 868.90 L467.66 876.56 Q466.85 879.38 469.79 879.38 L471.23 879.38" fill="none" stroke="#000" stroke-width="2.19" stroke-linejoin="round"/>
<text x="475.2" y="884.6" font-size="16.5" text-anchor="start" fill="#000" textLength="9.6" lengthAdjust="spacingAndGlyphs">0</text>
<g transform="translate(823.9,110) rotate(-90)">
<polyline points="-14.4,-16.9 -18.6,-6.9 -14.4,3.1" fill="none" stroke="#000" stroke-width="1.9" stroke-linejoin="miter"/>
<polyline points="14.2,-16.9 18.4,-6.9 14.2,3.1" fill="none" stroke="#000" stroke-width="1.9" stroke-linejoin="miter"/>
<text x="-12.8" y="0.0" font-size="23.4" text-anchor="start" fill="#000" font-style="italic" textLength="15.0" lengthAdjust="spacingAndGlyphs">S</text>
<text x="2.0" y="3.4" font-size="17.0" text-anchor="start" fill="#000" font-style="italic" textLength="9.4" lengthAdjust="spacingAndGlyphs">x</text>
</g>
<g transform="translate(825,314) rotate(-90)">
<polyline points="-39.9,-16.9 -44.8,-6.9 -39.9,3.1" fill="none" stroke="#000" stroke-width="1.9" stroke-linejoin="miter"/>
<rect x="-37.2" y="-16.1" width="4.6" height="16.1" fill="#000"/>
<text x="-29.2" y="-8.6" font-size="16.2" text-anchor="start" fill="#000" textLength="8.2" lengthAdjust="spacingAndGlyphs">2</text>
<polyline points="-19.6,-16.9 -15.2,-6.9 -19.6,3.1" fill="none" stroke="#000" stroke-width="1.9" stroke-linejoin="miter"/>
<line x1="-12.3" y1="3.2" x2="-2.2" y2="-16.4" stroke="#000" stroke-width="1.9"/>
<polyline points="3.4,-16.9 -1.0,-6.9 3.4,3.1" fill="none" stroke="#000" stroke-width="1.9" stroke-linejoin="miter"/>
<rect x="7.7" y="-16.1" width="4.6" height="16.1" fill="#000"/>
<text x="15.1" y="-8.6" font-size="16.2" text-anchor="start" fill="#000" textLength="8.2" lengthAdjust="spacingAndGlyphs">2</text>
<polyline points="25.9,-16.9 30.3,-6.9 25.9,3.1" fill="none" stroke="#000" stroke-width="1.9" stroke-linejoin="miter"/>
<text x="34.6" y="4.0" font-size="16.5" text-anchor="start" fill="#000" textLength="11.0" lengthAdjust="spacingAndGlyphs">cl</text>
</g>
<g transform="translate(824.1,524.2) rotate(-90)">
<text x="-46.2" y="0.0" font-size="23.4" text-anchor="start" fill="#000" textLength="65.5" lengthAdjust="spacingAndGlyphs">Norm.</text>
<text x="29.0" y="0.0" font-size="23.4" text-anchor="start" fill="#000" font-style="italic" textLength="7.4" lengthAdjust="spacingAndGlyphs">I</text>
<text x="36.6" y="-9.2" font-size="16.5" text-anchor="start" fill="#000" font-style="italic" textLength="8.0" lengthAdjust="spacingAndGlyphs">z</text>
<text x="34.2" y="5.8" font-size="16.5" text-anchor="start" fill="#000" font-style="italic">i</text>
</g>
<g transform="translate(824.0,732.3) rotate(-90)">
<text x="-59.6" y="0.0" font-size="23.4" text-anchor="start" fill="#000" textLength="93.0" lengthAdjust="spacingAndGlyphs">Impurity,</text>
<text x="46.5" y="0.0" font-size="23.4" text-anchor="start" fill="#000" font-style="italic" textLength="12.0" lengthAdjust="spacingAndGlyphs">&#949;</text>
</g>
</svg></body></html>
